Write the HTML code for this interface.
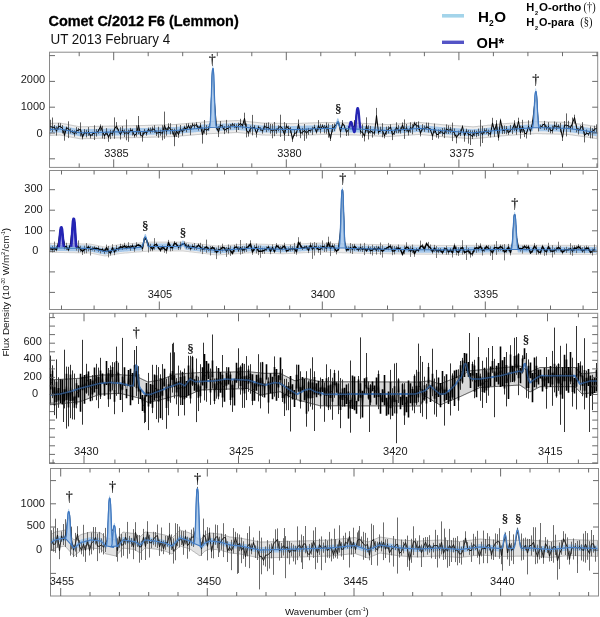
<!DOCTYPE html>
<html><head><meta charset="utf-8"><style>
html,body{margin:0;padding:0;background:#fff;}
svg{display:block;}
.tl{font-family:"Liberation Sans",Arial,sans-serif;font-size:11px;fill:#1a1a1a;}
.ttl{font-family:"Liberation Sans",Arial,sans-serif;font-weight:bold;fill:#000;}
.sym{font-family:"Liberation Serif","DejaVu Serif",serif;fill:#111;}
</style></head><body>
<svg width="600" height="617" viewBox="0 0 600 617">
<path d="M50.0 123.5 50.5 123.4 51.0 123.4 51.5 123.4 52.0 123.4 52.5 123.3 53.0 123.3 53.5 123.3 54.0 123.3 54.5 123.2 55.0 123.2 55.5 123.2 56.0 123.2 56.5 123.2 57.0 123.1 57.5 123.1 58.0 123.1 58.5 123.1 59.0 123.0 59.5 123.0 60.0 123.0 60.5 123.1 61.0 123.2 61.5 123.3 62.0 123.4 62.5 123.5 63.0 123.6 63.5 123.7 64.0 123.8 64.5 123.9 65.0 123.9 65.5 124.0 66.0 124.1 66.5 124.2 67.0 124.3 67.5 124.4 68.0 124.5 68.5 124.6 69.0 124.7 69.5 124.8 70.0 124.9 70.5 125.0 71.0 125.1 71.5 125.2 72.0 125.3 72.5 125.4 73.0 125.5 73.5 125.6 74.0 125.7 74.5 125.8 75.0 125.9 75.5 125.9 76.0 126.0 76.5 126.1 77.0 126.2 77.5 126.3 78.0 126.4 78.5 126.5 79.0 126.6 79.5 126.7 80.0 126.8 80.5 126.8 81.0 126.8 81.5 126.8 82.0 126.7 82.5 126.7 83.0 126.7 83.5 126.7 84.0 126.7 84.5 126.7 85.0 126.7 85.5 126.7 86.0 126.6 86.5 126.6 87.0 126.6 87.5 126.6 88.0 126.6 88.5 126.6 89.0 126.6 89.5 126.6 90.0 126.5 90.5 126.5 91.0 126.5 91.5 126.5 92.0 126.5 92.5 126.5 93.0 126.5 93.5 126.5 94.0 126.4 94.5 126.4 95.0 126.4 95.5 126.4 96.0 126.4 96.5 126.4 97.0 126.4 97.5 126.3 98.0 126.3 98.5 126.3 99.0 126.3 99.5 126.3 100.0 126.3 100.5 126.3 101.0 126.3 101.5 126.2 102.0 126.2 102.5 126.2 103.0 126.2 103.5 126.2 104.0 126.2 104.5 126.2 105.0 126.2 105.5 126.1 106.0 126.1 106.5 126.1 107.0 126.1 107.5 126.1 108.0 126.1 108.5 126.1 109.0 126.1 109.5 126.0 110.0 126.0 110.5 126.0 111.0 126.0 111.5 126.0 112.0 126.0 112.5 126.0 113.0 126.0 113.5 126.0 114.0 126.0 114.5 125.9 115.0 125.9 115.5 125.9 116.0 125.9 116.5 125.9 117.0 125.9 117.5 125.9 118.0 125.9 118.5 125.9 119.0 125.9 119.5 125.9 120.0 125.9 120.5 125.9 121.0 125.8 121.5 125.8 122.0 125.8 122.5 125.8 123.0 125.8 123.5 125.8 124.0 125.8 124.5 125.8 125.0 125.8 125.5 125.8 126.0 125.8 126.5 125.8 127.0 125.8 127.5 125.7 128.0 125.7 128.5 125.7 129.0 125.7 129.5 125.7 130.0 125.7 130.5 125.7 131.0 125.7 131.5 125.7 132.0 125.7 132.5 125.7 133.0 125.7 133.5 125.6 134.0 125.6 134.5 125.6 135.0 125.6 135.5 125.6 136.0 125.6 136.5 125.6 137.0 125.6 137.5 125.6 138.0 125.6 138.5 125.6 139.0 125.6 139.5 125.6 140.0 125.5 140.5 125.5 141.0 125.5 141.5 125.5 142.0 125.5 142.5 125.5 143.0 125.5 143.5 125.5 144.0 125.5 144.5 125.5 145.0 125.4 145.5 125.4 146.0 125.4 146.5 125.4 147.0 125.4 147.5 125.4 148.0 125.3 148.5 125.3 149.0 125.3 149.5 125.3 150.0 125.3 150.5 125.3 151.0 125.2 151.5 125.2 152.0 125.2 152.5 125.2 153.0 125.2 153.5 125.2 154.0 125.2 154.5 125.1 155.0 125.1 155.5 125.1 156.0 125.1 156.5 125.1 157.0 125.1 157.5 125.0 158.0 125.0 158.5 125.0 159.0 125.0 159.5 125.0 160.0 125.0 160.5 125.0 161.0 124.9 161.5 124.9 162.0 124.9 162.5 124.9 163.0 124.9 163.5 124.9 164.0 124.8 164.5 124.8 165.0 124.8 165.5 124.8 166.0 124.8 166.5 124.8 167.0 124.8 167.5 124.7 168.0 124.7 168.5 124.7 169.0 124.7 169.5 124.7 170.0 124.7 170.5 124.6 171.0 124.6 171.5 124.6 172.0 124.6 172.5 124.6 173.0 124.6 173.5 124.5 174.0 124.5 174.5 124.5 175.0 124.5 175.5 124.5 176.0 124.4 176.5 124.4 177.0 124.3 177.5 124.3 178.0 124.2 178.5 124.2 179.0 124.2 179.5 124.1 180.0 124.1 180.5 124.0 181.0 124.0 181.5 123.9 182.0 123.9 182.5 123.8 183.0 123.8 183.5 123.8 184.0 123.7 184.5 123.7 185.0 123.6 185.5 123.6 186.0 123.5 186.5 123.5 187.0 123.5 187.5 123.4 188.0 123.4 188.5 123.3 189.0 123.3 189.5 123.2 190.0 123.2 190.5 123.2 191.0 123.1 191.5 123.1 192.0 123.0 192.5 123.0 193.0 122.9 193.5 122.9 194.0 122.8 194.5 122.8 195.0 122.8 195.5 122.7 196.0 122.7 196.5 122.6 197.0 122.6 197.5 122.5 198.0 122.5 198.5 122.5 199.0 122.4 199.5 122.4 200.0 122.3 200.5 122.3 201.0 122.2 201.5 122.2 202.0 122.1 202.5 122.1 203.0 122.1 203.5 122.0 204.0 122.0 204.5 121.9 205.0 121.9 205.5 121.8 206.0 121.8 206.5 121.8 207.0 121.8 207.5 121.7 208.0 121.7 208.5 121.7 209.0 121.7 209.5 121.7 210.0 121.6 210.5 121.6 211.0 121.6 211.5 121.6 212.0 121.6 212.5 121.5 213.0 121.5 213.5 121.5 214.0 121.5 214.5 121.5 215.0 121.4 215.5 121.4 216.0 121.4 216.5 121.4 217.0 121.4 217.5 121.3 218.0 121.3 218.5 121.3 219.0 121.3 219.5 121.3 220.0 121.2 220.5 121.2 221.0 121.2 221.5 121.2 222.0 121.2 222.5 121.1 223.0 121.1 223.5 121.1 224.0 121.1 224.5 121.0 225.0 121.0 225.5 121.0 226.0 121.0 226.5 121.0 227.0 120.9 227.5 120.9 228.0 120.9 228.5 120.9 229.0 120.9 229.5 120.8 230.0 120.8 230.5 120.8 231.0 120.8 231.5 120.8 232.0 120.7 232.5 120.7 233.0 120.7 233.5 120.7 234.0 120.7 234.5 120.6 235.0 120.6 235.5 120.6 236.0 120.6 236.5 120.6 237.0 120.5 237.5 120.5 238.0 120.5 238.5 120.6 239.0 120.6 239.5 120.7 240.0 120.7 240.5 120.8 241.0 120.8 241.5 120.9 242.0 120.9 242.5 121.0 243.0 121.0 243.5 121.1 244.0 121.1 244.5 121.2 245.0 121.2 245.5 121.3 246.0 121.3 246.5 121.4 247.0 121.4 247.5 121.5 248.0 121.5 248.5 121.6 249.0 121.6 249.5 121.7 250.0 121.8 250.5 121.8 251.0 121.9 251.5 121.9 252.0 122.0 252.5 122.0 253.0 122.1 253.5 122.1 254.0 122.2 254.5 122.2 255.0 122.3 255.5 122.3 256.0 122.4 256.5 122.4 257.0 122.5 257.5 122.5 258.0 122.6 258.5 122.6 259.0 122.7 259.5 122.7 260.0 122.8 260.5 122.8 261.0 122.9 261.5 122.9 262.0 123.0 262.5 123.0 263.0 123.0 263.5 123.0 264.0 123.0 264.5 123.0 265.0 123.1 265.5 123.1 266.0 123.1 266.5 123.1 267.0 123.1 267.5 123.1 268.0 123.1 268.5 123.1 269.0 123.1 269.5 123.1 270.0 123.2 270.5 123.2 271.0 123.2 271.5 123.2 272.0 123.2 272.5 123.2 273.0 123.2 273.5 123.2 274.0 123.2 274.5 123.2 275.0 123.3 275.5 123.3 276.0 123.3 276.5 123.3 277.0 123.3 277.5 123.3 278.0 123.3 278.5 123.3 279.0 123.3 279.5 123.3 280.0 123.3 280.5 123.4 281.0 123.4 281.5 123.4 282.0 123.4 282.5 123.4 283.0 123.4 283.5 123.4 284.0 123.4 284.5 123.4 285.0 123.4 285.5 123.5 286.0 123.5 286.5 123.5 287.0 123.5 287.5 123.5 288.0 123.5 288.5 123.5 289.0 123.5 289.5 123.5 290.0 123.5 290.5 123.6 291.0 123.6 291.5 123.6 292.0 123.6 292.5 123.6 293.0 123.6 293.5 123.6 294.0 123.6 294.5 123.5 295.0 123.5 295.5 123.5 296.0 123.5 296.5 123.5 297.0 123.4 297.5 123.4 298.0 123.4 298.5 123.4 299.0 123.4 299.5 123.4 300.0 123.3 300.5 123.3 301.0 123.3 301.5 123.3 302.0 123.3 302.5 123.2 303.0 123.2 303.5 123.2 304.0 123.2 304.5 123.2 305.0 123.2 305.5 123.1 306.0 123.1 306.5 123.1 307.0 123.1 307.5 123.1 308.0 123.0 308.5 123.0 309.0 123.0 309.5 123.0 310.0 123.0 310.5 122.9 311.0 122.9 311.5 122.9 312.0 122.9 312.5 122.9 313.0 122.8 313.5 122.8 314.0 122.8 314.5 122.8 315.0 122.8 315.5 122.8 316.0 122.7 316.5 122.7 317.0 122.7 317.5 122.7 318.0 122.7 318.5 122.6 319.0 122.6 319.5 122.6 320.0 122.6 320.5 122.6 321.0 122.6 321.5 122.5 322.0 122.5 322.5 122.5 323.0 122.5 323.5 122.5 324.0 122.4 324.5 122.4 325.0 122.4 325.5 122.4 326.0 122.4 326.5 122.4 327.0 122.4 327.5 122.4 328.0 122.5 328.5 122.5 329.0 122.5 329.5 122.5 330.0 122.5 330.5 122.5 331.0 122.5 331.5 122.5 332.0 122.5 332.5 122.5 333.0 122.6 333.5 122.6 334.0 122.6 334.5 122.6 335.0 122.6 335.5 122.6 336.0 122.6 336.5 122.6 337.0 122.6 337.5 122.6 338.0 122.7 338.5 122.7 339.0 122.7 339.5 122.7 340.0 122.7 340.5 122.7 341.0 122.7 341.5 122.7 342.0 122.7 342.5 122.7 343.0 122.7 343.5 122.8 344.0 122.8 344.5 122.8 345.0 122.8 345.5 122.8 346.0 122.8 346.5 122.8 347.0 122.8 347.5 122.8 348.0 122.8 348.5 122.9 349.0 122.9 349.5 122.9 350.0 122.9 350.5 122.9 351.0 122.9 351.5 122.9 352.0 122.9 352.5 122.9 353.0 122.9 353.5 123.0 354.0 123.0 354.5 123.0 355.0 123.0 355.5 123.0 356.0 123.0 356.5 123.0 357.0 123.1 357.5 123.1 358.0 123.1 358.5 123.1 359.0 123.2 359.5 123.2 360.0 123.2 360.5 123.2 361.0 123.2 361.5 123.3 362.0 123.3 362.5 123.3 363.0 123.3 363.5 123.4 364.0 123.4 364.5 123.4 365.0 123.4 365.5 123.5 366.0 123.5 366.5 123.5 367.0 123.6 367.5 123.6 368.0 123.6 368.5 123.6 369.0 123.7 369.5 123.7 370.0 123.7 370.5 123.7 371.0 123.8 371.5 123.8 372.0 123.8 372.5 123.8 373.0 123.8 373.5 123.9 374.0 123.9 374.5 123.9 375.0 123.9 375.5 124.0 376.0 124.0 376.5 124.0 377.0 124.0 377.5 124.1 378.0 124.1 378.5 124.1 379.0 124.2 379.5 124.2 380.0 124.2 380.5 124.2 381.0 124.2 381.5 124.3 382.0 124.3 382.5 124.3 383.0 124.3 383.5 124.4 384.0 124.4 384.5 124.4 385.0 124.4 385.5 124.5 386.0 124.5 386.5 124.5 387.0 124.5 387.5 124.6 388.0 124.6 388.5 124.6 389.0 124.5 389.5 124.5 390.0 124.5 390.5 124.4 391.0 124.4 391.5 124.4 392.0 124.3 392.5 124.3 393.0 124.3 393.5 124.2 394.0 124.2 394.5 124.2 395.0 124.1 395.5 124.1 396.0 124.1 396.5 124.0 397.0 124.0 397.5 123.9 398.0 123.9 398.5 123.9 399.0 123.8 399.5 123.8 400.0 123.8 400.5 123.7 401.0 123.7 401.5 123.7 402.0 123.6 402.5 123.6 403.0 123.6 403.5 123.5 404.0 123.5 404.5 123.5 405.0 123.4 405.5 123.4 406.0 123.4 406.5 123.3 407.0 123.3 407.5 123.3 408.0 123.2 408.5 123.2 409.0 123.2 409.5 123.1 410.0 123.1 410.5 123.1 411.0 123.0 411.5 123.0 412.0 122.9 412.5 122.9 413.0 122.9 413.5 122.8 414.0 122.8 414.5 122.8 415.0 122.7 415.5 122.7 416.0 122.7 416.5 122.6 417.0 122.6 417.5 122.6 418.0 122.5 418.5 122.5 419.0 122.5 419.5 122.4 420.0 122.4 420.5 122.5 421.0 122.5 421.5 122.6 422.0 122.6 422.5 122.7 423.0 122.7 423.5 122.8 424.0 122.8 424.5 122.9 425.0 122.9 425.5 123.0 426.0 123.0 426.5 123.1 427.0 123.1 427.5 123.2 428.0 123.2 428.5 123.3 429.0 123.3 429.5 123.4 430.0 123.4 430.5 123.5 431.0 123.6 431.5 123.6 432.0 123.7 432.5 123.7 433.0 123.8 433.5 123.8 434.0 123.9 434.5 123.9 435.0 124.0 435.5 124.0 436.0 124.1 436.5 124.1 437.0 124.2 437.5 124.2 438.0 124.3 438.5 124.3 439.0 124.4 439.5 124.4 440.0 124.5 440.5 124.5 441.0 124.6 441.5 124.6 442.0 124.7 442.5 124.7 443.0 124.7 443.5 124.8 444.0 124.8 444.5 124.8 445.0 124.9 445.5 124.9 446.0 124.9 446.5 125.0 447.0 125.0 447.5 125.0 448.0 125.1 448.5 125.1 449.0 125.2 449.5 125.2 450.0 125.2 450.5 125.3 451.0 125.3 451.5 125.3 452.0 125.4 452.5 125.4 453.0 125.4 453.5 125.5 454.0 125.5 454.5 125.5 455.0 125.6 455.5 125.6 456.0 125.6 456.5 125.7 457.0 125.7 457.5 125.7 458.0 125.8 458.5 125.8 459.0 125.8 459.5 125.9 460.0 125.9 460.5 125.9 461.0 126.0 461.5 126.0 462.0 126.0 462.5 126.1 463.0 126.1 463.5 126.1 464.0 126.2 464.5 126.2 465.0 126.2 465.5 126.3 466.0 126.3 466.5 126.4 467.0 126.4 467.5 126.4 468.0 126.5 468.5 126.5 469.0 126.5 469.5 126.6 470.0 126.6 470.5 126.6 471.0 126.7 471.5 126.7 472.0 126.7 472.5 126.8 473.0 126.8 473.5 126.8 474.0 126.7 474.5 126.7 475.0 126.6 475.5 126.6 476.0 126.5 476.5 126.5 477.0 126.4 477.5 126.4 478.0 126.3 478.5 126.2 479.0 126.2 479.5 126.2 480.0 126.1 480.5 126.1 481.0 126.0 481.5 126.0 482.0 125.9 482.5 125.8 483.0 125.8 483.5 125.8 484.0 125.7 484.5 125.7 485.0 125.6 485.5 125.6 486.0 125.5 486.5 125.5 487.0 125.4 487.5 125.3 488.0 125.3 488.5 125.2 489.0 125.2 489.5 125.2 490.0 125.1 490.5 125.1 491.0 125.0 491.5 124.9 492.0 124.9 492.5 124.8 493.0 124.8 493.5 124.8 494.0 124.7 494.5 124.7 495.0 124.6 495.5 124.6 496.0 124.5 496.5 124.4 497.0 124.4 497.5 124.3 498.0 124.3 498.5 124.2 499.0 124.2 499.5 124.2 500.0 124.1 500.5 124.0 501.0 124.0 501.5 123.9 502.0 123.9 502.5 123.8 503.0 123.8 503.5 123.8 504.0 123.7 504.5 123.7 505.0 123.6 505.5 123.6 506.0 123.5 506.5 123.5 507.0 123.5 507.5 123.4 508.0 123.4 508.5 123.4 509.0 123.3 509.5 123.3 510.0 123.3 510.5 123.2 511.0 123.2 511.5 123.2 512.0 123.1 512.5 123.1 513.0 123.1 513.5 123.1 514.0 123.0 514.5 123.0 515.0 123.0 515.5 122.9 516.0 122.9 516.5 122.9 517.0 122.8 517.5 122.8 518.0 122.8 518.5 122.7 519.0 122.7 519.5 122.7 520.0 122.6 520.5 122.6 521.0 122.6 521.5 122.5 522.0 122.5 522.5 122.5 523.0 122.4 523.5 122.4 524.0 122.4 524.5 122.3 525.0 122.3 525.5 122.3 526.0 122.2 526.5 122.2 527.0 122.2 527.5 122.1 528.0 122.1 528.5 122.1 529.0 122.1 529.5 122.0 530.0 122.0 530.5 122.0 531.0 121.9 531.5 121.9 532.0 121.9 532.5 121.8 533.0 121.8 533.5 121.8 534.0 121.7 534.5 121.7 535.0 121.7 535.5 121.6 536.0 121.6 536.5 121.6 537.0 121.6 537.5 121.6 538.0 121.6 538.5 121.7 539.0 121.7 539.5 121.7 540.0 121.7 540.5 121.7 541.0 121.7 541.5 121.7 542.0 121.8 542.5 121.8 543.0 121.8 543.5 121.8 544.0 121.8 544.5 121.8 545.0 121.8 545.5 121.8 546.0 121.8 546.5 121.9 547.0 121.9 547.5 121.9 548.0 121.9 548.5 121.9 549.0 121.9 549.5 121.9 550.0 122.0 550.5 122.0 551.0 122.0 551.5 122.0 552.0 122.0 552.5 122.0 553.0 122.0 553.5 122.0 554.0 122.1 554.5 122.1 555.0 122.1 555.5 122.1 556.0 122.1 556.5 122.1 557.0 122.1 557.5 122.1 558.0 122.2 558.5 122.2 559.0 122.2 559.5 122.2 560.0 122.2 560.5 122.2 561.0 122.2 561.5 122.2 562.0 122.2 562.5 122.3 563.0 122.3 563.5 122.3 564.0 122.3 564.5 122.3 565.0 122.3 565.5 122.3 566.0 122.3 566.5 122.4 567.0 122.4 567.5 122.4 568.0 122.4 568.5 122.5 569.0 122.5 569.5 122.6 570.0 122.7 570.5 122.8 571.0 122.8 571.5 122.9 572.0 123.0 572.5 123.0 573.0 123.1 573.5 123.2 574.0 123.2 574.5 123.3 575.0 123.4 575.5 123.5 576.0 123.5 576.5 123.6 577.0 123.7 577.5 123.7 578.0 123.8 578.5 123.9 579.0 123.9 579.5 124.0 580.0 124.1 580.5 124.2 581.0 124.2 581.5 124.3 582.0 124.4 582.5 124.4 583.0 124.5 583.5 124.6 584.0 124.7 584.5 124.7 585.0 124.8 585.5 124.9 586.0 124.9 586.5 125.0 587.0 125.1 587.5 125.1 588.0 125.2 588.5 125.3 589.0 125.4 589.5 125.4 590.0 125.5 590.5 125.6 591.0 125.7 591.5 125.8 592.0 125.9 592.5 126.0 593.0 126.1 593.5 126.2 594.0 126.2 594.5 126.3 595.0 126.4 595.5 126.5 596.0 126.6 596.5 126.7 597.0 126.8L597.0 138.8 596.5 138.7 596.0 138.6 595.5 138.5 595.0 138.4 594.5 138.3 594.0 138.2 593.5 138.2 593.0 138.1 592.5 138.0 592.0 137.9 591.5 137.8 591.0 137.7 590.5 137.6 590.0 137.5 589.5 137.4 589.0 137.4 588.5 137.3 588.0 137.2 587.5 137.1 587.0 137.1 586.5 137.0 586.0 136.9 585.5 136.9 585.0 136.8 584.5 136.7 584.0 136.7 583.5 136.6 583.0 136.5 582.5 136.4 582.0 136.4 581.5 136.3 581.0 136.2 580.5 136.2 580.0 136.1 579.5 136.0 579.0 135.9 578.5 135.9 578.0 135.8 577.5 135.7 577.0 135.7 576.5 135.6 576.0 135.5 575.5 135.5 575.0 135.4 574.5 135.3 574.0 135.2 573.5 135.2 573.0 135.1 572.5 135.0 572.0 135.0 571.5 134.9 571.0 134.8 570.5 134.8 570.0 134.7 569.5 134.6 569.0 134.5 568.5 134.5 568.0 134.4 567.5 134.4 567.0 134.4 566.5 134.4 566.0 134.3 565.5 134.3 565.0 134.3 564.5 134.3 564.0 134.3 563.5 134.3 563.0 134.3 562.5 134.3 562.0 134.2 561.5 134.2 561.0 134.2 560.5 134.2 560.0 134.2 559.5 134.2 559.0 134.2 558.5 134.2 558.0 134.2 557.5 134.1 557.0 134.1 556.5 134.1 556.0 134.1 555.5 134.1 555.0 134.1 554.5 134.1 554.0 134.1 553.5 134.0 553.0 134.0 552.5 134.0 552.0 134.0 551.5 134.0 551.0 134.0 550.5 134.0 550.0 133.9 549.5 133.9 549.0 133.9 548.5 133.9 548.0 133.9 547.5 133.9 547.0 133.9 546.5 133.9 546.0 133.8 545.5 133.8 545.0 133.8 544.5 133.8 544.0 133.8 543.5 133.8 543.0 133.8 542.5 133.8 542.0 133.8 541.5 133.7 541.0 133.7 540.5 133.7 540.0 133.7 539.5 133.7 539.0 133.7 538.5 133.7 538.0 133.6 537.5 133.6 537.0 133.6 536.5 133.6 536.0 133.6 535.5 133.6 535.0 133.7 534.5 133.7 534.0 133.7 533.5 133.8 533.0 133.8 532.5 133.8 532.0 133.9 531.5 133.9 531.0 133.9 530.5 134.0 530.0 134.0 529.5 134.0 529.0 134.1 528.5 134.1 528.0 134.1 527.5 134.1 527.0 134.2 526.5 134.2 526.0 134.2 525.5 134.3 525.0 134.3 524.5 134.3 524.0 134.4 523.5 134.4 523.0 134.4 522.5 134.5 522.0 134.5 521.5 134.5 521.0 134.6 520.5 134.6 520.0 134.6 519.5 134.7 519.0 134.7 518.5 134.7 518.0 134.8 517.5 134.8 517.0 134.8 516.5 134.9 516.0 134.9 515.5 134.9 515.0 135.0 514.5 135.0 514.0 135.0 513.5 135.1 513.0 135.1 512.5 135.1 512.0 135.1 511.5 135.2 511.0 135.2 510.5 135.2 510.0 135.3 509.5 135.3 509.0 135.3 508.5 135.4 508.0 135.4 507.5 135.4 507.0 135.5 506.5 135.5 506.0 135.5 505.5 135.6 505.0 135.6 504.5 135.7 504.0 135.7 503.5 135.8 503.0 135.8 502.5 135.8 502.0 135.9 501.5 135.9 501.0 136.0 500.5 136.0 500.0 136.1 499.5 136.2 499.0 136.2 498.5 136.2 498.0 136.3 497.5 136.3 497.0 136.4 496.5 136.4 496.0 136.5 495.5 136.6 495.0 136.6 494.5 136.7 494.0 136.7 493.5 136.8 493.0 136.8 492.5 136.8 492.0 136.9 491.5 136.9 491.0 137.0 490.5 137.1 490.0 137.1 489.5 137.2 489.0 137.2 488.5 137.2 488.0 137.3 487.5 137.3 487.0 137.4 486.5 137.5 486.0 137.5 485.5 137.6 485.0 137.6 484.5 137.7 484.0 137.7 483.5 137.8 483.0 137.8 482.5 137.8 482.0 137.9 481.5 138.0 481.0 138.0 480.5 138.1 480.0 138.1 479.5 138.2 479.0 138.2 478.5 138.2 478.0 138.3 477.5 138.4 477.0 138.4 476.5 138.5 476.0 138.5 475.5 138.6 475.0 138.6 474.5 138.7 474.0 138.7 473.5 138.8 473.0 138.8 472.5 138.8 472.0 138.7 471.5 138.7 471.0 138.7 470.5 138.6 470.0 138.6 469.5 138.6 469.0 138.5 468.5 138.5 468.0 138.5 467.5 138.4 467.0 138.4 466.5 138.4 466.0 138.3 465.5 138.3 465.0 138.2 464.5 138.2 464.0 138.2 463.5 138.1 463.0 138.1 462.5 138.1 462.0 138.0 461.5 138.0 461.0 138.0 460.5 137.9 460.0 137.9 459.5 137.9 459.0 137.8 458.5 137.8 458.0 137.8 457.5 137.7 457.0 137.7 456.5 137.7 456.0 137.6 455.5 137.6 455.0 137.6 454.5 137.5 454.0 137.5 453.5 137.5 453.0 137.4 452.5 137.4 452.0 137.4 451.5 137.3 451.0 137.3 450.5 137.3 450.0 137.2 449.5 137.2 449.0 137.2 448.5 137.1 448.0 137.1 447.5 137.0 447.0 137.0 446.5 137.0 446.0 136.9 445.5 136.9 445.0 136.9 444.5 136.8 444.0 136.8 443.5 136.8 443.0 136.7 442.5 136.7 442.0 136.7 441.5 136.6 441.0 136.6 440.5 136.5 440.0 136.5 439.5 136.4 439.0 136.4 438.5 136.3 438.0 136.3 437.5 136.2 437.0 136.2 436.5 136.1 436.0 136.1 435.5 136.0 435.0 136.0 434.5 135.9 434.0 135.9 433.5 135.8 433.0 135.8 432.5 135.7 432.0 135.7 431.5 135.6 431.0 135.6 430.5 135.5 430.0 135.4 429.5 135.4 429.0 135.3 428.5 135.3 428.0 135.2 427.5 135.2 427.0 135.1 426.5 135.1 426.0 135.0 425.5 135.0 425.0 134.9 424.5 134.9 424.0 134.8 423.5 134.8 423.0 134.7 422.5 134.7 422.0 134.6 421.5 134.6 421.0 134.5 420.5 134.5 420.0 134.4 419.5 134.4 419.0 134.5 418.5 134.5 418.0 134.5 417.5 134.6 417.0 134.6 416.5 134.6 416.0 134.7 415.5 134.7 415.0 134.7 414.5 134.8 414.0 134.8 413.5 134.8 413.0 134.9 412.5 134.9 412.0 134.9 411.5 135.0 411.0 135.0 410.5 135.1 410.0 135.1 409.5 135.1 409.0 135.2 408.5 135.2 408.0 135.2 407.5 135.3 407.0 135.3 406.5 135.3 406.0 135.4 405.5 135.4 405.0 135.4 404.5 135.5 404.0 135.5 403.5 135.5 403.0 135.6 402.5 135.6 402.0 135.6 401.5 135.7 401.0 135.7 400.5 135.7 400.0 135.8 399.5 135.8 399.0 135.8 398.5 135.9 398.0 135.9 397.5 135.9 397.0 136.0 396.5 136.0 396.0 136.1 395.5 136.1 395.0 136.1 394.5 136.2 394.0 136.2 393.5 136.2 393.0 136.3 392.5 136.3 392.0 136.3 391.5 136.4 391.0 136.4 390.5 136.4 390.0 136.5 389.5 136.5 389.0 136.5 388.5 136.6 388.0 136.6 387.5 136.6 387.0 136.5 386.5 136.5 386.0 136.5 385.5 136.5 385.0 136.4 384.5 136.4 384.0 136.4 383.5 136.4 383.0 136.3 382.5 136.3 382.0 136.3 381.5 136.3 381.0 136.2 380.5 136.2 380.0 136.2 379.5 136.2 379.0 136.2 378.5 136.1 378.0 136.1 377.5 136.1 377.0 136.0 376.5 136.0 376.0 136.0 375.5 136.0 375.0 135.9 374.5 135.9 374.0 135.9 373.5 135.9 373.0 135.8 372.5 135.8 372.0 135.8 371.5 135.8 371.0 135.8 370.5 135.7 370.0 135.7 369.5 135.7 369.0 135.7 368.5 135.6 368.0 135.6 367.5 135.6 367.0 135.6 366.5 135.5 366.0 135.5 365.5 135.5 365.0 135.4 364.5 135.4 364.0 135.4 363.5 135.4 363.0 135.3 362.5 135.3 362.0 135.3 361.5 135.3 361.0 135.2 360.5 135.2 360.0 135.2 359.5 135.2 359.0 135.2 358.5 135.1 358.0 135.1 357.5 135.1 357.0 135.1 356.5 135.0 356.0 135.0 355.5 135.0 355.0 135.0 354.5 135.0 354.0 135.0 353.5 135.0 353.0 134.9 352.5 134.9 352.0 134.9 351.5 134.9 351.0 134.9 350.5 134.9 350.0 134.9 349.5 134.9 349.0 134.9 348.5 134.9 348.0 134.8 347.5 134.8 347.0 134.8 346.5 134.8 346.0 134.8 345.5 134.8 345.0 134.8 344.5 134.8 344.0 134.8 343.5 134.8 343.0 134.7 342.5 134.7 342.0 134.7 341.5 134.7 341.0 134.7 340.5 134.7 340.0 134.7 339.5 134.7 339.0 134.7 338.5 134.7 338.0 134.7 337.5 134.6 337.0 134.6 336.5 134.6 336.0 134.6 335.5 134.6 335.0 134.6 334.5 134.6 334.0 134.6 333.5 134.6 333.0 134.6 332.5 134.5 332.0 134.5 331.5 134.5 331.0 134.5 330.5 134.5 330.0 134.5 329.5 134.5 329.0 134.5 328.5 134.5 328.0 134.5 327.5 134.4 327.0 134.4 326.5 134.4 326.0 134.4 325.5 134.4 325.0 134.4 324.5 134.4 324.0 134.4 323.5 134.5 323.0 134.5 322.5 134.5 322.0 134.5 321.5 134.5 321.0 134.6 320.5 134.6 320.0 134.6 319.5 134.6 319.0 134.6 318.5 134.6 318.0 134.7 317.5 134.7 317.0 134.7 316.5 134.7 316.0 134.7 315.5 134.8 315.0 134.8 314.5 134.8 314.0 134.8 313.5 134.8 313.0 134.8 312.5 134.9 312.0 134.9 311.5 134.9 311.0 134.9 310.5 134.9 310.0 135.0 309.5 135.0 309.0 135.0 308.5 135.0 308.0 135.0 307.5 135.1 307.0 135.1 306.5 135.1 306.0 135.1 305.5 135.1 305.0 135.2 304.5 135.2 304.0 135.2 303.5 135.2 303.0 135.2 302.5 135.2 302.0 135.3 301.5 135.3 301.0 135.3 300.5 135.3 300.0 135.3 299.5 135.4 299.0 135.4 298.5 135.4 298.0 135.4 297.5 135.4 297.0 135.4 296.5 135.5 296.0 135.5 295.5 135.5 295.0 135.5 294.5 135.5 294.0 135.6 293.5 135.6 293.0 135.6 292.5 135.6 292.0 135.6 291.5 135.6 291.0 135.6 290.5 135.6 290.0 135.5 289.5 135.5 289.0 135.5 288.5 135.5 288.0 135.5 287.5 135.5 287.0 135.5 286.5 135.5 286.0 135.5 285.5 135.5 285.0 135.4 284.5 135.4 284.0 135.4 283.5 135.4 283.0 135.4 282.5 135.4 282.0 135.4 281.5 135.4 281.0 135.4 280.5 135.4 280.0 135.3 279.5 135.3 279.0 135.3 278.5 135.3 278.0 135.3 277.5 135.3 277.0 135.3 276.5 135.3 276.0 135.3 275.5 135.3 275.0 135.3 274.5 135.2 274.0 135.2 273.5 135.2 273.0 135.2 272.5 135.2 272.0 135.2 271.5 135.2 271.0 135.2 270.5 135.2 270.0 135.2 269.5 135.1 269.0 135.1 268.5 135.1 268.0 135.1 267.5 135.1 267.0 135.1 266.5 135.1 266.0 135.1 265.5 135.1 265.0 135.1 264.5 135.0 264.0 135.0 263.5 135.0 263.0 135.0 262.5 135.0 262.0 135.0 261.5 134.9 261.0 134.9 260.5 134.8 260.0 134.8 259.5 134.7 259.0 134.7 258.5 134.6 258.0 134.6 257.5 134.5 257.0 134.5 256.5 134.4 256.0 134.4 255.5 134.3 255.0 134.3 254.5 134.2 254.0 134.2 253.5 134.1 253.0 134.1 252.5 134.0 252.0 134.0 251.5 133.9 251.0 133.9 250.5 133.8 250.0 133.8 249.5 133.7 249.0 133.6 248.5 133.6 248.0 133.5 247.5 133.5 247.0 133.4 246.5 133.4 246.0 133.3 245.5 133.3 245.0 133.2 244.5 133.2 244.0 133.1 243.5 133.1 243.0 133.0 242.5 133.0 242.0 132.9 241.5 132.9 241.0 132.8 240.5 132.8 240.0 132.7 239.5 132.7 239.0 132.6 238.5 132.6 238.0 132.5 237.5 132.5 237.0 132.5 236.5 132.6 236.0 132.6 235.5 132.6 235.0 132.6 234.5 132.6 234.0 132.7 233.5 132.7 233.0 132.7 232.5 132.7 232.0 132.7 231.5 132.8 231.0 132.8 230.5 132.8 230.0 132.8 229.5 132.8 229.0 132.9 228.5 132.9 228.0 132.9 227.5 132.9 227.0 132.9 226.5 133.0 226.0 133.0 225.5 133.0 225.0 133.0 224.5 133.0 224.0 133.1 223.5 133.1 223.0 133.1 222.5 133.1 222.0 133.2 221.5 133.2 221.0 133.2 220.5 133.2 220.0 133.2 219.5 133.3 219.0 133.3 218.5 133.3 218.0 133.3 217.5 133.3 217.0 133.4 216.5 133.4 216.0 133.4 215.5 133.4 215.0 133.4 214.5 133.5 214.0 133.5 213.5 133.5 213.0 133.5 212.5 133.5 212.0 133.6 211.5 133.6 211.0 133.6 210.5 133.6 210.0 133.6 209.5 133.7 209.0 133.7 208.5 133.7 208.0 133.7 207.5 133.7 207.0 133.8 206.5 133.8 206.0 133.8 205.5 133.8 205.0 133.9 204.5 133.9 204.0 134.0 203.5 134.0 203.0 134.1 202.5 134.1 202.0 134.1 201.5 134.2 201.0 134.2 200.5 134.3 200.0 134.3 199.5 134.4 199.0 134.4 198.5 134.5 198.0 134.5 197.5 134.5 197.0 134.6 196.5 134.6 196.0 134.7 195.5 134.7 195.0 134.8 194.5 134.8 194.0 134.8 193.5 134.9 193.0 134.9 192.5 135.0 192.0 135.0 191.5 135.1 191.0 135.1 190.5 135.2 190.0 135.2 189.5 135.2 189.0 135.3 188.5 135.3 188.0 135.4 187.5 135.4 187.0 135.5 186.5 135.5 186.0 135.5 185.5 135.6 185.0 135.6 184.5 135.7 184.0 135.7 183.5 135.8 183.0 135.8 182.5 135.8 182.0 135.9 181.5 135.9 181.0 136.0 180.5 136.0 180.0 136.1 179.5 136.1 179.0 136.2 178.5 136.2 178.0 136.2 177.5 136.3 177.0 136.3 176.5 136.4 176.0 136.4 175.5 136.5 175.0 136.5 174.5 136.5 174.0 136.5 173.5 136.5 173.0 136.6 172.5 136.6 172.0 136.6 171.5 136.6 171.0 136.6 170.5 136.6 170.0 136.7 169.5 136.7 169.0 136.7 168.5 136.7 168.0 136.7 167.5 136.7 167.0 136.8 166.5 136.8 166.0 136.8 165.5 136.8 165.0 136.8 164.5 136.8 164.0 136.8 163.5 136.9 163.0 136.9 162.5 136.9 162.0 136.9 161.5 136.9 161.0 136.9 160.5 137.0 160.0 137.0 159.5 137.0 159.0 137.0 158.5 137.0 158.0 137.0 157.5 137.0 157.0 137.1 156.5 137.1 156.0 137.1 155.5 137.1 155.0 137.1 154.5 137.1 154.0 137.2 153.5 137.2 153.0 137.2 152.5 137.2 152.0 137.2 151.5 137.2 151.0 137.2 150.5 137.3 150.0 137.3 149.5 137.3 149.0 137.3 148.5 137.3 148.0 137.3 147.5 137.4 147.0 137.4 146.5 137.4 146.0 137.4 145.5 137.4 145.0 137.4 144.5 137.5 144.0 137.5 143.5 137.5 143.0 137.5 142.5 137.5 142.0 137.5 141.5 137.5 141.0 137.5 140.5 137.5 140.0 137.5 139.5 137.6 139.0 137.6 138.5 137.6 138.0 137.6 137.5 137.6 137.0 137.6 136.5 137.6 136.0 137.6 135.5 137.6 135.0 137.6 134.5 137.6 134.0 137.6 133.5 137.6 133.0 137.7 132.5 137.7 132.0 137.7 131.5 137.7 131.0 137.7 130.5 137.7 130.0 137.7 129.5 137.7 129.0 137.7 128.5 137.7 128.0 137.7 127.5 137.7 127.0 137.8 126.5 137.8 126.0 137.8 125.5 137.8 125.0 137.8 124.5 137.8 124.0 137.8 123.5 137.8 123.0 137.8 122.5 137.8 122.0 137.8 121.5 137.8 121.0 137.8 120.5 137.9 120.0 137.9 119.5 137.9 119.0 137.9 118.5 137.9 118.0 137.9 117.5 137.9 117.0 137.9 116.5 137.9 116.0 137.9 115.5 137.9 115.0 137.9 114.5 137.9 114.0 138.0 113.5 138.0 113.0 138.0 112.5 138.0 112.0 138.0 111.5 138.0 111.0 138.0 110.5 138.0 110.0 138.0 109.5 138.0 109.0 138.1 108.5 138.1 108.0 138.1 107.5 138.1 107.0 138.1 106.5 138.1 106.0 138.1 105.5 138.1 105.0 138.2 104.5 138.2 104.0 138.2 103.5 138.2 103.0 138.2 102.5 138.2 102.0 138.2 101.5 138.2 101.0 138.3 100.5 138.3 100.0 138.3 99.5 138.3 99.0 138.3 98.5 138.3 98.0 138.3 97.5 138.3 97.0 138.4 96.5 138.4 96.0 138.4 95.5 138.4 95.0 138.4 94.5 138.4 94.0 138.4 93.5 138.5 93.0 138.5 92.5 138.5 92.0 138.5 91.5 138.5 91.0 138.5 90.5 138.5 90.0 138.5 89.5 138.6 89.0 138.6 88.5 138.6 88.0 138.6 87.5 138.6 87.0 138.6 86.5 138.6 86.0 138.6 85.5 138.7 85.0 138.7 84.5 138.7 84.0 138.7 83.5 138.7 83.0 138.7 82.5 138.7 82.0 138.7 81.5 138.8 81.0 138.8 80.5 138.8 80.0 138.8 79.5 138.7 79.0 138.6 78.5 138.5 78.0 138.4 77.5 138.3 77.0 138.2 76.5 138.1 76.0 138.0 75.5 137.9 75.0 137.9 74.5 137.8 74.0 137.7 73.5 137.6 73.0 137.5 72.5 137.4 72.0 137.3 71.5 137.2 71.0 137.1 70.5 137.0 70.0 136.9 69.5 136.8 69.0 136.7 68.5 136.6 68.0 136.5 67.5 136.4 67.0 136.3 66.5 136.2 66.0 136.1 65.5 136.0 65.0 135.9 64.5 135.9 64.0 135.8 63.5 135.7 63.0 135.6 62.5 135.5 62.0 135.4 61.5 135.3 61.0 135.2 60.5 135.1 60.0 135.0 59.5 135.0 59.0 135.0 58.5 135.1 58.0 135.1 57.5 135.1 57.0 135.1 56.5 135.2 56.0 135.2 55.5 135.2 55.0 135.2 54.5 135.2 54.0 135.3 53.5 135.3 53.0 135.3 52.5 135.3 52.0 135.4 51.5 135.4 51.0 135.4 50.5 135.4 50.0 135.5Z" fill="#ededed" stroke="#a0a0a0" stroke-width="0.6"/>
<path d="M50.0 126.0 50.5 125.9 51.0 125.9 51.5 125.9 52.0 125.9 52.5 125.8 53.0 125.8 53.5 125.8 54.0 125.8 54.5 125.8 55.0 125.7 55.5 125.7 56.0 125.7 56.5 125.7 57.0 125.6 57.5 125.6 58.0 125.6 58.5 125.6 59.0 125.5 59.5 125.5 60.0 125.5 60.5 125.6 61.0 125.7 61.5 125.8 62.0 125.9 62.5 126.0 63.0 126.1 63.5 126.2 64.0 126.3 64.5 126.4 65.0 126.4 65.5 126.5 66.0 126.6 66.5 126.7 67.0 126.8 67.5 126.9 68.0 127.0 68.5 127.1 69.0 127.2 69.5 127.3 70.0 127.4 70.5 127.5 71.0 127.6 71.5 127.7 72.0 127.8 72.5 127.9 73.0 128.0 73.5 128.1 74.0 128.2 74.5 128.3 75.0 128.4 75.5 128.4 76.0 128.5 76.5 128.6 77.0 128.7 77.5 128.8 78.0 128.9 78.5 129.0 79.0 129.1 79.5 129.2 80.0 129.3 80.5 129.3 81.0 129.3 81.5 129.3 82.0 129.2 82.5 129.2 83.0 129.2 83.5 129.2 84.0 129.2 84.5 129.2 85.0 129.2 85.5 129.2 86.0 129.1 86.5 129.1 87.0 129.1 87.5 129.1 88.0 129.1 88.5 129.1 89.0 129.1 89.5 129.1 90.0 129.0 90.5 129.0 91.0 129.0 91.5 129.0 92.0 129.0 92.5 129.0 93.0 129.0 93.5 129.0 94.0 128.9 94.5 128.9 95.0 128.9 95.5 128.9 96.0 128.9 96.5 128.9 97.0 128.9 97.5 128.8 98.0 128.8 98.5 128.8 99.0 128.8 99.5 128.8 100.0 128.8 100.5 128.8 101.0 128.8 101.5 128.7 102.0 128.7 102.5 128.7 103.0 128.7 103.5 128.7 104.0 128.7 104.5 128.7 105.0 128.7 105.5 128.6 106.0 128.6 106.5 128.6 107.0 128.6 107.5 128.6 108.0 128.6 108.5 128.6 109.0 128.6 109.5 128.5 110.0 128.5 110.5 128.5 111.0 128.5 111.5 128.5 112.0 128.5 112.5 128.5 113.0 128.5 113.5 128.5 114.0 128.5 114.5 128.4 115.0 128.4 115.5 128.4 116.0 128.4 116.5 128.4 117.0 128.4 117.5 128.4 118.0 128.4 118.5 128.4 119.0 128.4 119.5 128.4 120.0 128.4 120.5 128.4 121.0 128.3 121.5 128.3 122.0 128.3 122.5 128.3 123.0 128.3 123.5 128.3 124.0 128.3 124.5 128.3 125.0 128.3 125.5 128.3 126.0 128.3 126.5 128.3 127.0 128.2 127.5 128.2 128.0 128.2 128.5 128.2 129.0 128.2 129.5 128.2 130.0 128.2 130.5 128.2 131.0 128.2 131.5 128.2 132.0 128.2 132.5 128.2 133.0 128.2 133.5 128.1 134.0 128.1 134.5 128.1 135.0 128.1 135.5 128.1 136.0 128.1 136.5 128.1 137.0 128.1 137.5 128.1 138.0 128.1 138.5 128.1 139.0 128.1 139.5 128.1 140.0 128.0 140.5 128.0 141.0 128.0 141.5 128.0 142.0 128.0 142.5 128.0 143.0 128.0 143.5 128.0 144.0 128.0 144.5 128.0 145.0 127.9 145.5 127.9 146.0 127.9 146.5 127.9 147.0 127.9 147.5 127.9 148.0 127.8 148.5 127.8 149.0 127.8 149.5 127.8 150.0 127.8 150.5 127.8 151.0 127.8 151.5 127.7 152.0 127.7 152.5 127.7 153.0 127.7 153.5 127.7 154.0 127.7 154.5 127.6 155.0 127.6 155.5 127.6 156.0 127.6 156.5 127.6 157.0 127.6 157.5 127.5 158.0 127.5 158.5 127.5 159.0 127.5 159.5 127.5 160.0 127.5 160.5 127.5 161.0 127.4 161.5 127.4 162.0 127.4 162.5 127.4 163.0 127.4 163.5 127.4 164.0 127.3 164.5 127.3 165.0 127.3 165.5 127.3 166.0 127.3 166.5 127.3 167.0 127.2 167.5 127.2 168.0 127.2 168.5 127.2 169.0 127.2 169.5 127.2 170.0 127.2 170.5 127.1 171.0 127.1 171.5 127.1 172.0 127.1 172.5 127.1 173.0 127.1 173.5 127.0 174.0 127.0 174.5 127.0 175.0 127.0 175.5 127.0 176.0 126.9 176.5 126.9 177.0 126.8 177.5 126.8 178.0 126.7 178.5 126.7 179.0 126.7 179.5 126.6 180.0 126.6 180.5 126.5 181.0 126.5 181.5 126.4 182.0 126.4 182.5 126.3 183.0 126.3 183.5 126.3 184.0 126.2 184.5 126.2 185.0 126.1 185.5 126.1 186.0 126.0 186.5 126.0 187.0 126.0 187.5 125.9 188.0 125.9 188.5 125.8 189.0 125.8 189.5 125.7 190.0 125.7 190.5 125.7 191.0 125.6 191.5 125.6 192.0 125.5 192.5 125.5 193.0 125.4 193.5 125.4 194.0 125.3 194.5 125.3 195.0 125.3 195.5 125.2 196.0 125.2 196.5 125.1 197.0 125.1 197.5 125.0 198.0 125.0 198.5 125.0 199.0 124.9 199.5 124.9 200.0 124.8 200.5 124.8 201.0 124.7 201.5 124.7 202.0 124.6 202.5 124.6 203.0 124.6 203.5 124.5 204.0 124.5 204.5 124.4 205.0 124.4 205.5 124.3 206.0 124.3 206.5 124.3 207.0 124.3 207.5 124.2 208.0 124.2 208.5 124.2 209.0 124.2 209.5 124.0 210.0 123.1 210.5 119.1 211.0 108.7 211.5 91.9 212.0 75.4 212.5 66.4 213.0 65.1 213.5 68.8 214.0 81.3 214.5 98.9 215.0 113.6 215.5 121.1 216.0 123.4 216.5 123.8 217.0 123.9 217.5 123.8 218.0 123.8 218.5 123.8 219.0 123.8 219.5 123.8 220.0 123.7 220.5 123.7 221.0 123.7 221.5 123.7 222.0 123.7 222.5 123.6 223.0 123.6 223.5 123.6 224.0 123.6 224.5 123.5 225.0 123.5 225.5 123.5 226.0 123.5 226.5 123.5 227.0 123.4 227.5 123.4 228.0 123.4 228.5 123.4 229.0 123.4 229.5 123.3 230.0 123.3 230.5 123.3 231.0 123.3 231.5 123.3 232.0 123.2 232.5 123.2 233.0 123.2 233.5 123.2 234.0 123.2 234.5 123.1 235.0 123.1 235.5 123.1 236.0 123.1 236.5 123.1 237.0 123.0 237.5 123.0 238.0 123.0 238.5 123.1 239.0 123.1 239.5 123.2 240.0 123.2 240.5 123.3 241.0 123.3 241.5 123.4 242.0 123.4 242.5 123.5 243.0 123.5 243.5 123.6 244.0 123.6 244.5 123.7 245.0 123.7 245.5 123.8 246.0 123.8 246.5 123.9 247.0 123.9 247.5 124.0 248.0 124.0 248.5 124.1 249.0 124.1 249.5 124.2 250.0 124.2 250.5 124.3 251.0 124.4 251.5 124.4 252.0 124.5 252.5 124.5 253.0 124.6 253.5 124.6 254.0 124.7 254.5 124.7 255.0 124.8 255.5 124.8 256.0 124.9 256.5 124.9 257.0 125.0 257.5 125.0 258.0 125.1 258.5 125.1 259.0 125.2 259.5 125.2 260.0 125.3 260.5 125.3 261.0 125.4 261.5 125.4 262.0 125.5 262.5 125.5 263.0 125.5 263.5 125.5 264.0 125.5 264.5 125.5 265.0 125.6 265.5 125.6 266.0 125.6 266.5 125.6 267.0 125.6 267.5 125.6 268.0 125.6 268.5 125.6 269.0 125.6 269.5 125.6 270.0 125.7 270.5 125.7 271.0 125.7 271.5 125.7 272.0 125.7 272.5 125.7 273.0 125.7 273.5 125.7 274.0 125.7 274.5 125.7 275.0 125.8 275.5 125.8 276.0 125.8 276.5 125.8 277.0 125.8 277.5 125.8 278.0 125.8 278.5 125.8 279.0 125.8 279.5 125.8 280.0 125.8 280.5 125.9 281.0 125.9 281.5 125.9 282.0 125.9 282.5 125.9 283.0 125.9 283.5 125.9 284.0 125.9 284.5 125.9 285.0 125.9 285.5 126.0 286.0 126.0 286.5 126.0 287.0 126.0 287.5 126.0 288.0 126.0 288.5 126.0 289.0 126.0 289.5 126.0 290.0 126.0 290.5 126.1 291.0 126.1 291.5 126.1 292.0 126.1 292.5 126.1 293.0 126.1 293.5 126.1 294.0 126.1 294.5 126.0 295.0 126.0 295.5 126.0 296.0 126.0 296.5 126.0 297.0 125.9 297.5 125.9 298.0 125.9 298.5 125.9 299.0 125.9 299.5 125.9 300.0 125.8 300.5 125.8 301.0 125.8 301.5 125.8 302.0 125.8 302.5 125.7 303.0 125.7 303.5 125.7 304.0 125.7 304.5 125.7 305.0 125.7 305.5 125.6 306.0 125.6 306.5 125.6 307.0 125.6 307.5 125.6 308.0 125.5 308.5 125.5 309.0 125.5 309.5 125.5 310.0 125.5 310.5 125.4 311.0 125.4 311.5 125.4 312.0 125.4 312.5 125.4 313.0 125.3 313.5 125.3 314.0 125.3 314.5 125.3 315.0 125.3 315.5 125.3 316.0 125.2 316.5 125.2 317.0 125.2 317.5 125.2 318.0 125.2 318.5 125.1 319.0 125.1 319.5 125.1 320.0 125.1 320.5 125.1 321.0 125.1 321.5 125.0 322.0 125.0 322.5 125.0 323.0 125.0 323.5 125.0 324.0 124.9 324.5 124.9 325.0 124.9 325.5 124.9 326.0 124.9 326.5 124.9 327.0 124.9 327.5 124.9 328.0 125.0 328.5 125.0 329.0 125.0 329.5 125.0 330.0 125.0 330.5 125.0 331.0 125.0 331.5 125.0 332.0 125.0 332.5 125.0 333.0 125.1 333.5 125.1 334.0 125.1 334.5 125.1 335.0 124.9 335.5 124.3 336.0 122.9 336.5 120.9 337.0 119.1 337.5 118.2 338.0 118.2 338.5 118.8 339.0 120.5 339.5 122.6 340.0 124.2 340.5 125.0 341.0 125.2 341.5 125.2 342.0 125.2 342.5 125.2 343.0 125.2 343.5 125.3 344.0 125.3 344.5 125.3 345.0 125.3 345.5 125.3 346.0 125.3 346.5 125.3 347.0 125.3 347.5 125.3 348.0 125.3 348.5 125.4 349.0 125.4 349.5 125.4 350.0 125.4 350.5 125.4 351.0 125.4 351.5 125.4 352.0 125.4 352.5 125.4 353.0 125.4 353.5 125.5 354.0 125.5 354.5 125.5 355.0 125.5 355.5 125.5 356.0 125.5 356.5 125.5 357.0 125.6 357.5 125.6 358.0 125.6 358.5 125.6 359.0 125.7 359.5 125.7 360.0 125.7 360.5 125.7 361.0 125.8 361.5 125.8 362.0 125.8 362.5 125.8 363.0 125.8 363.5 125.9 364.0 125.9 364.5 125.9 365.0 125.9 365.5 126.0 366.0 126.0 366.5 126.0 367.0 126.1 367.5 126.1 368.0 126.1 368.5 126.1 369.0 126.2 369.5 126.2 370.0 126.2 370.5 126.2 371.0 126.2 371.5 126.3 372.0 126.3 372.5 126.3 373.0 126.3 373.5 126.4 374.0 126.4 374.5 126.4 375.0 126.4 375.5 126.5 376.0 126.5 376.5 126.5 377.0 126.5 377.5 126.6 378.0 126.6 378.5 126.6 379.0 126.7 379.5 126.7 380.0 126.7 380.5 126.7 381.0 126.8 381.5 126.8 382.0 126.8 382.5 126.8 383.0 126.8 383.5 126.9 384.0 126.9 384.5 126.9 385.0 126.9 385.5 127.0 386.0 127.0 386.5 127.0 387.0 127.0 387.5 127.1 388.0 127.1 388.5 127.1 389.0 127.0 389.5 127.0 390.0 127.0 390.5 126.9 391.0 126.9 391.5 126.9 392.0 126.8 392.5 126.8 393.0 126.8 393.5 126.7 394.0 126.7 394.5 126.7 395.0 126.6 395.5 126.6 396.0 126.6 396.5 126.5 397.0 126.5 397.5 126.4 398.0 126.4 398.5 126.4 399.0 126.3 399.5 126.3 400.0 126.3 400.5 126.2 401.0 126.2 401.5 126.2 402.0 126.1 402.5 126.1 403.0 126.1 403.5 126.0 404.0 126.0 404.5 126.0 405.0 125.9 405.5 125.9 406.0 125.9 406.5 125.8 407.0 125.8 407.5 125.8 408.0 125.7 408.5 125.7 409.0 125.7 409.5 125.6 410.0 125.6 410.5 125.6 411.0 125.5 411.5 125.5 412.0 125.4 412.5 125.4 413.0 125.4 413.5 125.3 414.0 125.3 414.5 125.3 415.0 125.2 415.5 125.2 416.0 125.2 416.5 125.1 417.0 125.1 417.5 125.1 418.0 125.0 418.5 125.0 419.0 125.0 419.5 124.9 420.0 124.9 420.5 125.0 421.0 125.0 421.5 125.1 422.0 125.1 422.5 125.2 423.0 125.2 423.5 125.3 424.0 125.3 424.5 125.4 425.0 125.4 425.5 125.5 426.0 125.5 426.5 125.6 427.0 125.6 427.5 125.7 428.0 125.7 428.5 125.8 429.0 125.8 429.5 125.9 430.0 125.9 430.5 126.0 431.0 126.1 431.5 126.1 432.0 126.2 432.5 126.2 433.0 126.3 433.5 126.3 434.0 126.4 434.5 126.4 435.0 126.5 435.5 126.5 436.0 126.6 436.5 126.6 437.0 126.7 437.5 126.7 438.0 126.8 438.5 126.8 439.0 126.9 439.5 126.9 440.0 127.0 440.5 127.0 441.0 127.1 441.5 127.1 442.0 127.2 442.5 127.2 443.0 127.2 443.5 127.3 444.0 127.3 444.5 127.3 445.0 127.4 445.5 127.4 446.0 127.4 446.5 127.5 447.0 127.5 447.5 127.5 448.0 127.6 448.5 127.6 449.0 127.7 449.5 127.7 450.0 127.7 450.5 127.8 451.0 127.8 451.5 127.8 452.0 127.9 452.5 127.9 453.0 127.9 453.5 128.0 454.0 128.0 454.5 128.0 455.0 128.1 455.5 128.1 456.0 128.1 456.5 128.2 457.0 128.2 457.5 128.2 458.0 128.3 458.5 128.3 459.0 128.3 459.5 128.4 460.0 128.4 460.5 128.4 461.0 128.5 461.5 128.5 462.0 128.5 462.5 128.6 463.0 128.6 463.5 128.6 464.0 128.7 464.5 128.7 465.0 128.8 465.5 128.8 466.0 128.8 466.5 128.9 467.0 128.9 467.5 128.9 468.0 129.0 468.5 129.0 469.0 129.0 469.5 129.1 470.0 129.1 470.5 129.1 471.0 129.2 471.5 129.2 472.0 129.2 472.5 129.3 473.0 129.3 473.5 129.2 474.0 129.2 474.5 129.2 475.0 129.1 475.5 129.1 476.0 129.0 476.5 129.0 477.0 128.9 477.5 128.9 478.0 128.8 478.5 128.8 479.0 128.7 479.5 128.7 480.0 128.6 480.5 128.6 481.0 128.5 481.5 128.5 482.0 128.4 482.5 128.3 483.0 128.3 483.5 128.2 484.0 128.2 484.5 128.2 485.0 128.1 485.5 128.1 486.0 128.0 486.5 128.0 487.0 127.9 487.5 127.8 488.0 127.8 488.5 127.8 489.0 127.7 489.5 127.7 490.0 127.6 490.5 127.6 491.0 127.5 491.5 127.4 492.0 127.4 492.5 127.3 493.0 127.3 493.5 127.2 494.0 127.2 494.5 127.2 495.0 127.1 495.5 127.1 496.0 127.0 496.5 126.9 497.0 126.9 497.5 126.8 498.0 126.8 498.5 126.8 499.0 126.7 499.5 126.7 500.0 126.6 500.5 126.5 501.0 126.5 501.5 126.4 502.0 126.4 502.5 126.3 503.0 126.3 503.5 126.2 504.0 126.2 504.5 126.2 505.0 126.1 505.5 126.1 506.0 126.0 506.5 126.0 507.0 126.0 507.5 125.9 508.0 125.9 508.5 125.9 509.0 125.8 509.5 125.8 510.0 125.8 510.5 125.7 511.0 125.7 511.5 125.7 512.0 125.6 512.5 125.6 513.0 125.6 513.5 125.6 514.0 125.5 514.5 125.5 515.0 125.5 515.5 125.4 516.0 125.4 516.5 125.4 517.0 125.3 517.5 125.3 518.0 125.3 518.5 125.2 519.0 125.2 519.5 125.2 520.0 125.1 520.5 125.1 521.0 125.1 521.5 125.0 522.0 125.0 522.5 125.0 523.0 124.9 523.5 124.9 524.0 124.9 524.5 124.8 525.0 124.8 525.5 124.8 526.0 124.7 526.5 124.7 527.0 124.7 527.5 124.6 528.0 124.6 528.5 124.6 529.0 124.6 529.5 124.5 530.0 124.5 530.5 124.5 531.0 124.4 531.5 124.4 532.0 124.3 532.5 124.2 533.0 123.4 533.5 120.3 534.0 113.0 534.5 102.4 535.0 92.9 535.5 88.5 536.0 88.2 536.5 91.5 537.0 100.1 537.5 111.0 538.0 119.1 538.5 122.9 539.0 124.0 539.5 124.2 540.0 124.2 540.5 124.2 541.0 124.2 541.5 124.2 542.0 124.2 542.5 124.3 543.0 124.3 543.5 124.3 544.0 124.3 544.5 124.3 545.0 124.3 545.5 124.3 546.0 124.3 546.5 124.4 547.0 124.4 547.5 124.4 548.0 124.4 548.5 124.4 549.0 124.4 549.5 124.4 550.0 124.5 550.5 124.5 551.0 124.5 551.5 124.5 552.0 124.5 552.5 124.5 553.0 124.5 553.5 124.5 554.0 124.6 554.5 124.6 555.0 124.6 555.5 124.6 556.0 124.6 556.5 124.6 557.0 124.6 557.5 124.6 558.0 124.7 558.5 124.7 559.0 124.7 559.5 124.7 560.0 124.7 560.5 124.7 561.0 124.7 561.5 124.7 562.0 124.8 562.5 124.8 563.0 124.8 563.5 124.8 564.0 124.8 564.5 124.8 565.0 124.8 565.5 124.8 566.0 124.8 566.5 124.9 567.0 124.9 567.5 124.9 568.0 124.9 568.5 125.0 569.0 125.0 569.5 125.1 570.0 125.2 570.5 125.3 571.0 125.3 571.5 125.4 572.0 125.5 572.5 125.5 573.0 125.6 573.5 125.7 574.0 125.7 574.5 125.8 575.0 125.9 575.5 126.0 576.0 126.0 576.5 126.1 577.0 126.2 577.5 126.2 578.0 126.3 578.5 126.4 579.0 126.4 579.5 126.5 580.0 126.6 580.5 126.7 581.0 126.7 581.5 126.8 582.0 126.9 582.5 126.9 583.0 127.0 583.5 127.1 584.0 127.2 584.5 127.2 585.0 127.3 585.5 127.4 586.0 127.4 586.5 127.5 587.0 127.6 587.5 127.6 588.0 127.7 588.5 127.8 589.0 127.9 589.5 127.9 590.0 128.0 590.5 128.1 591.0 128.2 591.5 128.3 592.0 128.4 592.5 128.5 593.0 128.6 593.5 128.7 594.0 128.8 594.5 128.8 595.0 128.9 595.5 129.0 596.0 129.1 596.5 129.2 597.0 129.3L597.0 136.3 596.5 136.2 596.0 136.1 595.5 136.0 595.0 135.9 594.5 135.8 594.0 135.8 593.5 135.7 593.0 135.6 592.5 135.5 592.0 135.4 591.5 135.3 591.0 135.2 590.5 135.1 590.0 135.0 589.5 134.9 589.0 134.9 588.5 134.8 588.0 134.7 587.5 134.6 587.0 134.6 586.5 134.5 586.0 134.4 585.5 134.4 585.0 134.3 584.5 134.2 584.0 134.2 583.5 134.1 583.0 134.0 582.5 133.9 582.0 133.9 581.5 133.8 581.0 133.7 580.5 133.7 580.0 133.6 579.5 133.5 579.0 133.4 578.5 133.4 578.0 133.3 577.5 133.2 577.0 133.2 576.5 133.1 576.0 133.0 575.5 133.0 575.0 132.9 574.5 132.8 574.0 132.7 573.5 132.7 573.0 132.6 572.5 132.5 572.0 132.5 571.5 132.4 571.0 132.3 570.5 132.3 570.0 132.2 569.5 132.1 569.0 132.0 568.5 132.0 568.0 131.9 567.5 131.9 567.0 131.9 566.5 131.9 566.0 131.8 565.5 131.8 565.0 131.8 564.5 131.8 564.0 131.8 563.5 131.8 563.0 131.8 562.5 131.8 562.0 131.8 561.5 131.7 561.0 131.7 560.5 131.7 560.0 131.7 559.5 131.7 559.0 131.7 558.5 131.7 558.0 131.7 557.5 131.6 557.0 131.6 556.5 131.6 556.0 131.6 555.5 131.6 555.0 131.6 554.5 131.6 554.0 131.6 553.5 131.5 553.0 131.5 552.5 131.5 552.0 131.5 551.5 131.5 551.0 131.5 550.5 131.5 550.0 131.4 549.5 131.4 549.0 131.4 548.5 131.4 548.0 131.4 547.5 131.4 547.0 131.4 546.5 131.4 546.0 131.3 545.5 131.3 545.0 131.3 544.5 131.3 544.0 131.3 543.5 131.3 543.0 131.3 542.5 131.3 542.0 131.2 541.5 131.2 541.0 131.2 540.5 131.2 540.0 131.2 539.5 131.2 539.0 131.0 538.5 129.9 538.0 126.1 537.5 118.0 537.0 107.1 536.5 98.5 536.0 95.2 535.5 95.5 535.0 99.9 534.5 109.4 534.0 120.0 533.5 127.3 533.0 130.4 532.5 131.2 532.0 131.3 531.5 131.4 531.0 131.4 530.5 131.5 530.0 131.5 529.5 131.5 529.0 131.6 528.5 131.6 528.0 131.6 527.5 131.6 527.0 131.7 526.5 131.7 526.0 131.7 525.5 131.8 525.0 131.8 524.5 131.8 524.0 131.9 523.5 131.9 523.0 131.9 522.5 132.0 522.0 132.0 521.5 132.0 521.0 132.1 520.5 132.1 520.0 132.1 519.5 132.2 519.0 132.2 518.5 132.2 518.0 132.3 517.5 132.3 517.0 132.3 516.5 132.4 516.0 132.4 515.5 132.4 515.0 132.5 514.5 132.5 514.0 132.5 513.5 132.6 513.0 132.6 512.5 132.6 512.0 132.6 511.5 132.7 511.0 132.7 510.5 132.7 510.0 132.8 509.5 132.8 509.0 132.8 508.5 132.9 508.0 132.9 507.5 132.9 507.0 133.0 506.5 133.0 506.0 133.0 505.5 133.1 505.0 133.1 504.5 133.2 504.0 133.2 503.5 133.2 503.0 133.3 502.5 133.3 502.0 133.4 501.5 133.4 501.0 133.5 500.5 133.5 500.0 133.6 499.5 133.7 499.0 133.7 498.5 133.8 498.0 133.8 497.5 133.8 497.0 133.9 496.5 133.9 496.0 134.0 495.5 134.1 495.0 134.1 494.5 134.2 494.0 134.2 493.5 134.2 493.0 134.3 492.5 134.3 492.0 134.4 491.5 134.4 491.0 134.5 490.5 134.6 490.0 134.6 489.5 134.7 489.0 134.7 488.5 134.8 488.0 134.8 487.5 134.8 487.0 134.9 486.5 135.0 486.0 135.0 485.5 135.1 485.0 135.1 484.5 135.2 484.0 135.2 483.5 135.2 483.0 135.3 482.5 135.3 482.0 135.4 481.5 135.5 481.0 135.5 480.5 135.6 480.0 135.6 479.5 135.7 479.0 135.7 478.5 135.8 478.0 135.8 477.5 135.9 477.0 135.9 476.5 136.0 476.0 136.0 475.5 136.1 475.0 136.1 474.5 136.2 474.0 136.2 473.5 136.2 473.0 136.3 472.5 136.3 472.0 136.2 471.5 136.2 471.0 136.2 470.5 136.1 470.0 136.1 469.5 136.1 469.0 136.0 468.5 136.0 468.0 136.0 467.5 135.9 467.0 135.9 466.5 135.9 466.0 135.8 465.5 135.8 465.0 135.8 464.5 135.7 464.0 135.7 463.5 135.6 463.0 135.6 462.5 135.6 462.0 135.5 461.5 135.5 461.0 135.5 460.5 135.4 460.0 135.4 459.5 135.4 459.0 135.3 458.5 135.3 458.0 135.3 457.5 135.2 457.0 135.2 456.5 135.2 456.0 135.1 455.5 135.1 455.0 135.1 454.5 135.0 454.0 135.0 453.5 135.0 453.0 134.9 452.5 134.9 452.0 134.9 451.5 134.8 451.0 134.8 450.5 134.8 450.0 134.7 449.5 134.7 449.0 134.7 448.5 134.6 448.0 134.6 447.5 134.5 447.0 134.5 446.5 134.5 446.0 134.4 445.5 134.4 445.0 134.4 444.5 134.3 444.0 134.3 443.5 134.3 443.0 134.2 442.5 134.2 442.0 134.2 441.5 134.1 441.0 134.1 440.5 134.0 440.0 134.0 439.5 133.9 439.0 133.9 438.5 133.8 438.0 133.8 437.5 133.7 437.0 133.7 436.5 133.6 436.0 133.6 435.5 133.5 435.0 133.5 434.5 133.4 434.0 133.4 433.5 133.3 433.0 133.3 432.5 133.2 432.0 133.2 431.5 133.1 431.0 133.1 430.5 133.0 430.0 132.9 429.5 132.9 429.0 132.8 428.5 132.8 428.0 132.7 427.5 132.7 427.0 132.6 426.5 132.6 426.0 132.5 425.5 132.5 425.0 132.4 424.5 132.4 424.0 132.3 423.5 132.3 423.0 132.2 422.5 132.2 422.0 132.1 421.5 132.1 421.0 132.0 420.5 132.0 420.0 131.9 419.5 131.9 419.0 132.0 418.5 132.0 418.0 132.0 417.5 132.1 417.0 132.1 416.5 132.1 416.0 132.2 415.5 132.2 415.0 132.2 414.5 132.3 414.0 132.3 413.5 132.3 413.0 132.4 412.5 132.4 412.0 132.4 411.5 132.5 411.0 132.5 410.5 132.6 410.0 132.6 409.5 132.6 409.0 132.7 408.5 132.7 408.0 132.7 407.5 132.8 407.0 132.8 406.5 132.8 406.0 132.9 405.5 132.9 405.0 132.9 404.5 133.0 404.0 133.0 403.5 133.0 403.0 133.1 402.5 133.1 402.0 133.1 401.5 133.2 401.0 133.2 400.5 133.2 400.0 133.3 399.5 133.3 399.0 133.3 398.5 133.4 398.0 133.4 397.5 133.4 397.0 133.5 396.5 133.5 396.0 133.6 395.5 133.6 395.0 133.6 394.5 133.7 394.0 133.7 393.5 133.7 393.0 133.8 392.5 133.8 392.0 133.8 391.5 133.9 391.0 133.9 390.5 133.9 390.0 134.0 389.5 134.0 389.0 134.0 388.5 134.1 388.0 134.1 387.5 134.1 387.0 134.0 386.5 134.0 386.0 134.0 385.5 134.0 385.0 133.9 384.5 133.9 384.0 133.9 383.5 133.9 383.0 133.8 382.5 133.8 382.0 133.8 381.5 133.8 381.0 133.8 380.5 133.7 380.0 133.7 379.5 133.7 379.0 133.7 378.5 133.6 378.0 133.6 377.5 133.6 377.0 133.5 376.5 133.5 376.0 133.5 375.5 133.5 375.0 133.4 374.5 133.4 374.0 133.4 373.5 133.4 373.0 133.3 372.5 133.3 372.0 133.3 371.5 133.3 371.0 133.2 370.5 133.2 370.0 133.2 369.5 133.2 369.0 133.2 368.5 133.1 368.0 133.1 367.5 133.1 367.0 133.1 366.5 133.0 366.0 133.0 365.5 133.0 365.0 132.9 364.5 132.9 364.0 132.9 363.5 132.9 363.0 132.8 362.5 132.8 362.0 132.8 361.5 132.8 361.0 132.8 360.5 132.7 360.0 132.7 359.5 132.7 359.0 132.7 358.5 132.6 358.0 132.6 357.5 132.6 357.0 132.6 356.5 132.5 356.0 132.5 355.5 132.5 355.0 132.5 354.5 132.5 354.0 132.5 353.5 132.5 353.0 132.4 352.5 132.4 352.0 132.4 351.5 132.4 351.0 132.4 350.5 132.4 350.0 132.4 349.5 132.4 349.0 132.4 348.5 132.4 348.0 132.3 347.5 132.3 347.0 132.3 346.5 132.3 346.0 132.3 345.5 132.3 345.0 132.3 344.5 132.3 344.0 132.3 343.5 132.3 343.0 132.2 342.5 132.2 342.0 132.2 341.5 132.2 341.0 132.2 340.5 132.0 340.0 131.2 339.5 129.6 339.0 127.5 338.5 125.8 338.0 125.2 337.5 125.2 337.0 126.1 336.5 127.9 336.0 129.9 335.5 131.3 335.0 131.9 334.5 132.1 334.0 132.1 333.5 132.1 333.0 132.1 332.5 132.0 332.0 132.0 331.5 132.0 331.0 132.0 330.5 132.0 330.0 132.0 329.5 132.0 329.0 132.0 328.5 132.0 328.0 132.0 327.5 131.9 327.0 131.9 326.5 131.9 326.0 131.9 325.5 131.9 325.0 131.9 324.5 131.9 324.0 131.9 323.5 132.0 323.0 132.0 322.5 132.0 322.0 132.0 321.5 132.0 321.0 132.1 320.5 132.1 320.0 132.1 319.5 132.1 319.0 132.1 318.5 132.1 318.0 132.2 317.5 132.2 317.0 132.2 316.5 132.2 316.0 132.2 315.5 132.3 315.0 132.3 314.5 132.3 314.0 132.3 313.5 132.3 313.0 132.3 312.5 132.4 312.0 132.4 311.5 132.4 311.0 132.4 310.5 132.4 310.0 132.5 309.5 132.5 309.0 132.5 308.5 132.5 308.0 132.5 307.5 132.6 307.0 132.6 306.5 132.6 306.0 132.6 305.5 132.6 305.0 132.7 304.5 132.7 304.0 132.7 303.5 132.7 303.0 132.7 302.5 132.7 302.0 132.8 301.5 132.8 301.0 132.8 300.5 132.8 300.0 132.8 299.5 132.9 299.0 132.9 298.5 132.9 298.0 132.9 297.5 132.9 297.0 132.9 296.5 133.0 296.0 133.0 295.5 133.0 295.0 133.0 294.5 133.0 294.0 133.1 293.5 133.1 293.0 133.1 292.5 133.1 292.0 133.1 291.5 133.1 291.0 133.1 290.5 133.1 290.0 133.0 289.5 133.0 289.0 133.0 288.5 133.0 288.0 133.0 287.5 133.0 287.0 133.0 286.5 133.0 286.0 133.0 285.5 133.0 285.0 132.9 284.5 132.9 284.0 132.9 283.5 132.9 283.0 132.9 282.5 132.9 282.0 132.9 281.5 132.9 281.0 132.9 280.5 132.9 280.0 132.8 279.5 132.8 279.0 132.8 278.5 132.8 278.0 132.8 277.5 132.8 277.0 132.8 276.5 132.8 276.0 132.8 275.5 132.8 275.0 132.8 274.5 132.7 274.0 132.7 273.5 132.7 273.0 132.7 272.5 132.7 272.0 132.7 271.5 132.7 271.0 132.7 270.5 132.7 270.0 132.7 269.5 132.6 269.0 132.6 268.5 132.6 268.0 132.6 267.5 132.6 267.0 132.6 266.5 132.6 266.0 132.6 265.5 132.6 265.0 132.6 264.5 132.5 264.0 132.5 263.5 132.5 263.0 132.5 262.5 132.5 262.0 132.5 261.5 132.4 261.0 132.4 260.5 132.3 260.0 132.3 259.5 132.2 259.0 132.2 258.5 132.1 258.0 132.1 257.5 132.0 257.0 132.0 256.5 131.9 256.0 131.9 255.5 131.8 255.0 131.8 254.5 131.7 254.0 131.7 253.5 131.6 253.0 131.6 252.5 131.5 252.0 131.5 251.5 131.4 251.0 131.4 250.5 131.3 250.0 131.2 249.5 131.2 249.0 131.1 248.5 131.1 248.0 131.0 247.5 131.0 247.0 130.9 246.5 130.9 246.0 130.8 245.5 130.8 245.0 130.7 244.5 130.7 244.0 130.6 243.5 130.6 243.0 130.5 242.5 130.5 242.0 130.4 241.5 130.4 241.0 130.3 240.5 130.3 240.0 130.2 239.5 130.2 239.0 130.1 238.5 130.1 238.0 130.0 237.5 130.0 237.0 130.0 236.5 130.1 236.0 130.1 235.5 130.1 235.0 130.1 234.5 130.1 234.0 130.2 233.5 130.2 233.0 130.2 232.5 130.2 232.0 130.2 231.5 130.3 231.0 130.3 230.5 130.3 230.0 130.3 229.5 130.3 229.0 130.4 228.5 130.4 228.0 130.4 227.5 130.4 227.0 130.4 226.5 130.5 226.0 130.5 225.5 130.5 225.0 130.5 224.5 130.5 224.0 130.6 223.5 130.6 223.0 130.6 222.5 130.6 222.0 130.7 221.5 130.7 221.0 130.7 220.5 130.7 220.0 130.7 219.5 130.8 219.0 130.8 218.5 130.8 218.0 130.8 217.5 130.8 217.0 130.9 216.5 130.8 216.0 130.4 215.5 128.1 215.0 120.6 214.5 105.9 214.0 88.3 213.5 75.8 213.0 72.1 212.5 73.4 212.0 82.4 211.5 98.9 211.0 115.7 210.5 126.1 210.0 130.1 209.5 131.0 209.0 131.2 208.5 131.2 208.0 131.2 207.5 131.2 207.0 131.3 206.5 131.3 206.0 131.3 205.5 131.3 205.0 131.4 204.5 131.4 204.0 131.5 203.5 131.5 203.0 131.6 202.5 131.6 202.0 131.6 201.5 131.7 201.0 131.7 200.5 131.8 200.0 131.8 199.5 131.9 199.0 131.9 198.5 132.0 198.0 132.0 197.5 132.0 197.0 132.1 196.5 132.1 196.0 132.2 195.5 132.2 195.0 132.3 194.5 132.3 194.0 132.3 193.5 132.4 193.0 132.4 192.5 132.5 192.0 132.5 191.5 132.6 191.0 132.6 190.5 132.7 190.0 132.7 189.5 132.7 189.0 132.8 188.5 132.8 188.0 132.9 187.5 132.9 187.0 133.0 186.5 133.0 186.0 133.0 185.5 133.1 185.0 133.1 184.5 133.2 184.0 133.2 183.5 133.3 183.0 133.3 182.5 133.3 182.0 133.4 181.5 133.4 181.0 133.5 180.5 133.5 180.0 133.6 179.5 133.6 179.0 133.7 178.5 133.7 178.0 133.7 177.5 133.8 177.0 133.8 176.5 133.9 176.0 133.9 175.5 134.0 175.0 134.0 174.5 134.0 174.0 134.0 173.5 134.0 173.0 134.1 172.5 134.1 172.0 134.1 171.5 134.1 171.0 134.1 170.5 134.1 170.0 134.2 169.5 134.2 169.0 134.2 168.5 134.2 168.0 134.2 167.5 134.2 167.0 134.2 166.5 134.3 166.0 134.3 165.5 134.3 165.0 134.3 164.5 134.3 164.0 134.3 163.5 134.4 163.0 134.4 162.5 134.4 162.0 134.4 161.5 134.4 161.0 134.4 160.5 134.5 160.0 134.5 159.5 134.5 159.0 134.5 158.5 134.5 158.0 134.5 157.5 134.5 157.0 134.6 156.5 134.6 156.0 134.6 155.5 134.6 155.0 134.6 154.5 134.6 154.0 134.7 153.5 134.7 153.0 134.7 152.5 134.7 152.0 134.7 151.5 134.7 151.0 134.8 150.5 134.8 150.0 134.8 149.5 134.8 149.0 134.8 148.5 134.8 148.0 134.8 147.5 134.9 147.0 134.9 146.5 134.9 146.0 134.9 145.5 134.9 145.0 134.9 144.5 135.0 144.0 135.0 143.5 135.0 143.0 135.0 142.5 135.0 142.0 135.0 141.5 135.0 141.0 135.0 140.5 135.0 140.0 135.0 139.5 135.1 139.0 135.1 138.5 135.1 138.0 135.1 137.5 135.1 137.0 135.1 136.5 135.1 136.0 135.1 135.5 135.1 135.0 135.1 134.5 135.1 134.0 135.1 133.5 135.1 133.0 135.2 132.5 135.2 132.0 135.2 131.5 135.2 131.0 135.2 130.5 135.2 130.0 135.2 129.5 135.2 129.0 135.2 128.5 135.2 128.0 135.2 127.5 135.2 127.0 135.2 126.5 135.3 126.0 135.3 125.5 135.3 125.0 135.3 124.5 135.3 124.0 135.3 123.5 135.3 123.0 135.3 122.5 135.3 122.0 135.3 121.5 135.3 121.0 135.3 120.5 135.4 120.0 135.4 119.5 135.4 119.0 135.4 118.5 135.4 118.0 135.4 117.5 135.4 117.0 135.4 116.5 135.4 116.0 135.4 115.5 135.4 115.0 135.4 114.5 135.4 114.0 135.5 113.5 135.5 113.0 135.5 112.5 135.5 112.0 135.5 111.5 135.5 111.0 135.5 110.5 135.5 110.0 135.5 109.5 135.5 109.0 135.6 108.5 135.6 108.0 135.6 107.5 135.6 107.0 135.6 106.5 135.6 106.0 135.6 105.5 135.6 105.0 135.7 104.5 135.7 104.0 135.7 103.5 135.7 103.0 135.7 102.5 135.7 102.0 135.7 101.5 135.7 101.0 135.8 100.5 135.8 100.0 135.8 99.5 135.8 99.0 135.8 98.5 135.8 98.0 135.8 97.5 135.8 97.0 135.9 96.5 135.9 96.0 135.9 95.5 135.9 95.0 135.9 94.5 135.9 94.0 135.9 93.5 136.0 93.0 136.0 92.5 136.0 92.0 136.0 91.5 136.0 91.0 136.0 90.5 136.0 90.0 136.0 89.5 136.1 89.0 136.1 88.5 136.1 88.0 136.1 87.5 136.1 87.0 136.1 86.5 136.1 86.0 136.1 85.5 136.2 85.0 136.2 84.5 136.2 84.0 136.2 83.5 136.2 83.0 136.2 82.5 136.2 82.0 136.2 81.5 136.3 81.0 136.3 80.5 136.3 80.0 136.3 79.5 136.2 79.0 136.1 78.5 136.0 78.0 135.9 77.5 135.8 77.0 135.7 76.5 135.6 76.0 135.5 75.5 135.4 75.0 135.4 74.5 135.3 74.0 135.2 73.5 135.1 73.0 135.0 72.5 134.9 72.0 134.8 71.5 134.7 71.0 134.6 70.5 134.5 70.0 134.4 69.5 134.3 69.0 134.2 68.5 134.1 68.0 134.0 67.5 133.9 67.0 133.8 66.5 133.7 66.0 133.6 65.5 133.5 65.0 133.4 64.5 133.4 64.0 133.3 63.5 133.2 63.0 133.1 62.5 133.0 62.0 132.9 61.5 132.8 61.0 132.7 60.5 132.6 60.0 132.5 59.5 132.5 59.0 132.5 58.5 132.6 58.0 132.6 57.5 132.6 57.0 132.6 56.5 132.7 56.0 132.7 55.5 132.7 55.0 132.7 54.5 132.8 54.0 132.8 53.5 132.8 53.0 132.8 52.5 132.8 52.0 132.9 51.5 132.9 51.0 132.9 50.5 132.9 50.0 133.0Z" fill="#a6c8ea" stroke="none"/>
<path d="M50.5 119.8V130.7M52.5 117.5V132.0M54.5 125.0V130.1M56.5 126.4V135.6M58.5 122.9V129.6M60.5 123.2V128.3M62.5 125.1V133.4M64.5 129.8V140.7M66.5 126.6V130.5M68.5 121.3V138.1M70.5 128.4V133.4M72.5 130.1V133.2M74.5 130.4V136.7M76.5 127.1V134.1M78.5 127.9V131.5M80.5 122.4V136.4M82.5 134.2V139.4M84.5 129.1V134.3M86.5 129.8V137.4M88.5 127.1V135.8M90.5 134.1V138.4M92.5 131.8V136.1M94.5 125.3V140.0M96.5 129.1V136.6M98.5 129.0V133.7M100.5 124.4V131.1M102.5 125.8V138.5M104.5 134.1V139.1M106.5 128.1V135.0M108.5 135.0V141.8M110.5 129.8V139.1M112.5 130.5V136.2M114.5 117.4V138.8M116.5 122.1V129.3M118.5 128.8V132.3M120.5 127.2V139.5M122.5 126.1V132.3M124.5 129.5V137.1M126.5 119.5V140.3M128.5 129.7V141.8M130.5 127.9V131.5M132.5 128.7V135.6M134.5 134.4V137.5M136.5 125.3V136.7M138.5 116.0V134.1M140.5 130.9V136.3M142.5 132.4V141.6M144.5 128.9V134.0M146.5 132.1V135.7M148.5 127.6V131.3M150.5 127.5V133.4M152.5 126.5V132.4M154.5 125.2V132.8M156.5 130.7V136.0M158.5 126.7V137.7M160.5 129.7V135.8M162.5 125.2V140.3M164.5 111.6V138.8M166.5 128.0V135.7M168.5 123.3V130.2M170.5 123.2V134.4M172.5 128.8V134.5M174.5 128.6V146.2M176.5 124.5V137.0M178.5 130.9V137.8M180.5 125.0V131.7M182.5 128.5V135.7M184.5 125.6V130.8M186.5 123.5V132.2M188.5 123.3V127.6M190.5 124.9V135.2M192.5 122.8V126.5M194.5 123.5V129.0M196.5 122.3V126.9M198.5 126.2V130.6M200.5 123.1V128.7M202.5 127.6V143.6M204.5 120.0V133.5M206.5 125.1V135.1M208.5 126.5V130.7M210.5 122.3V122.7M212.5 70.0V71.0M214.5 102.2V103.7M216.5 125.2V129.6M218.5 126.3V137.1M220.5 121.1V128.0M222.5 124.6V128.4M224.5 126.0V134.1M226.5 119.9V132.3M228.5 124.7V133.4M230.5 124.0V129.4M232.5 122.9V126.6M234.5 123.4V128.2M236.5 124.3V132.1M238.5 122.6V130.0M240.5 118.8V127.2M242.5 123.9V128.7M244.5 112.7V125.0M246.5 123.5V137.4M248.5 131.1V136.6M250.5 125.7V132.5M252.5 114.9V135.4M254.5 125.2V128.9M256.5 131.2V137.5M258.5 125.7V129.9M260.5 127.2V130.9M262.5 129.8V133.7M264.5 123.1V129.7M266.5 122.9V132.2M268.5 122.4V130.5M270.5 123.9V133.7M272.5 124.1V138.3M274.5 122.0V136.2M276.5 128.4V133.8M278.5 125.3V131.2M280.5 114.7V136.9M282.5 127.7V130.9M284.5 122.1V140.8M286.5 123.5V128.3M288.5 125.7V136.0M290.5 127.0V133.2M292.5 136.1V141.9M294.5 129.3V136.1M296.5 131.2V136.6M298.5 119.5V128.9M300.5 128.6V138.2M302.5 127.9V134.6M304.5 124.0V140.9M306.5 128.8V138.6M308.5 127.9V134.8M310.5 129.4V132.6M312.5 126.7V134.9M314.5 124.7V128.6M316.5 129.2V133.6M318.5 120.1V130.3M320.5 123.7V133.4M322.5 124.2V127.3M324.5 124.9V133.3M326.5 122.5V133.7M328.5 123.5V137.6M330.5 134.1V141.0M332.5 124.0V132.4M334.5 123.5V131.1M336.5 123.9V124.4M338.5 121.6V122.3M340.5 127.0V137.5M342.5 120.1V126.0M344.5 124.7V127.6M346.5 128.2V136.0M348.5 126.1V135.6M350.5 121.8V123.1M352.5 126.8V128.3M354.5 120.1V128.5M356.5 113.4V114.1M358.5 110.2V110.8M360.5 130.6V134.2M362.5 124.3V137.8M364.5 133.8V141.4M366.5 117.3V131.4M368.5 125.3V139.5M370.5 125.9V133.4M372.5 130.5V137.6M374.5 131.3V135.2M376.5 107.9V123.6M378.5 130.5V134.7M380.5 126.7V132.1M382.5 123.2V137.3M384.5 133.3V138.3M386.5 126.6V134.7M388.5 126.2V133.4M390.5 124.3V128.8M392.5 130.9V140.1M394.5 129.4V134.9M396.5 122.3V133.1M398.5 125.1V133.2M400.5 127.4V133.6M402.5 122.4V128.7M404.5 119.4V138.9M406.5 124.0V131.6M408.5 129.4V135.5M410.5 122.3V132.7M412.5 124.1V134.3M414.5 121.7V125.9M416.5 122.2V131.0M418.5 121.4V129.9M420.5 130.7V136.4M422.5 124.2V130.5M424.5 125.6V131.8M426.5 122.6V129.4M428.5 122.7V132.5M430.5 128.1V131.1M432.5 133.6V140.0M434.5 123.6V133.0M436.5 132.9V137.6M438.5 129.5V138.5M440.5 129.5V133.6M442.5 128.0V136.2M444.5 127.6V138.1M446.5 124.4V133.6M448.5 125.4V133.9M450.5 126.8V133.2M452.5 122.6V141.1M454.5 128.5V136.5M456.5 134.7V143.4M458.5 130.7V135.7M460.5 129.5V136.1M462.5 125.2V128.0M464.5 132.7V141.7M466.5 128.7V132.7M468.5 129.9V143.6M470.5 130.3V145.0M472.5 130.4V139.0M474.5 129.8V136.3M476.5 130.7V137.3M478.5 128.6V136.1M480.5 119.8V146.4M482.5 126.0V143.0M484.5 128.3V133.5M486.5 128.4V133.8M488.5 129.6V136.2M490.5 131.1V137.4M492.5 117.8V126.8M494.5 128.0V136.8M496.5 120.2V130.9M498.5 135.0V140.6M500.5 118.7V123.1M502.5 125.5V134.1M504.5 125.5V133.9M506.5 126.0V134.3M508.5 130.1V134.9M510.5 124.9V132.0M512.5 127.3V134.1M514.5 120.3V130.8M516.5 126.3V134.8M518.5 117.7V123.7M520.5 125.8V138.7M522.5 119.8V132.7M524.5 130.0V137.1M526.5 131.5V138.5M528.5 120.3V128.7M530.5 129.8V134.7M532.5 119.9V125.1M534.5 104.5V105.8M536.5 94.5V96.2M538.5 123.8V131.5M540.5 124.7V129.0M542.5 123.8V128.0M544.5 120.9V129.9M546.5 125.7V129.9M548.5 122.2V131.9M550.5 127.4V133.3M552.5 125.6V133.4M554.5 121.5V128.0M556.5 122.5V130.1M558.5 124.4V127.9M560.5 122.9V132.4M562.5 135.9V141.0M564.5 121.0V128.6M566.5 113.4V136.4M568.5 120.8V129.2M570.5 125.5V132.3M572.5 117.5V129.3M574.5 114.7V123.5M576.5 124.5V132.3M578.5 128.1V134.5M580.5 125.2V130.2M582.5 122.2V129.8M584.5 131.8V142.4M586.5 129.5V134.4M588.5 132.9V135.9M590.5 126.4V138.3M592.5 128.2V138.3M594.5 125.7V131.8M596.5 124.4V132.8" fill="none" stroke="#3a3a3a" stroke-width="0.8"/>
<path d="M50.5 126.5 52.5 127.3 54.5 127.3 56.5 131.2 58.5 126.4 60.5 126.4 62.5 128.5 64.5 135.4 66.5 127.8 68.5 128.8 70.5 131.5 72.5 131.8 74.5 134.1 76.5 130.7 78.5 130.1 80.5 129.3 82.5 137.3 84.5 132.1 86.5 133.7 88.5 131.5 90.5 136.1 92.5 134.0 94.5 132.9 96.5 132.5 98.5 131.0 100.5 126.2 102.5 131.4 104.5 136.1 106.5 131.6 108.5 137.5 110.5 132.6 112.5 133.9 114.5 129.0 116.5 125.9 118.5 131.2 120.5 134.5 122.5 130.0 124.5 133.4 126.5 132.6 128.5 133.5 130.5 130.0 132.5 130.7 134.5 135.8 136.5 133.4 138.5 125.1 140.5 134.8 142.5 136.7 144.5 130.8 146.5 133.5 148.5 129.1 150.5 131.4 152.5 128.9 154.5 129.5 156.5 133.4 158.5 132.4 160.5 132.6 162.5 133.2 164.5 125.2 166.5 131.7 168.5 126.5 170.5 129.5 172.5 130.5 174.5 137.1 176.5 130.7 178.5 134.7 180.5 128.8 182.5 132.1 184.5 127.1 186.5 129.9 188.5 125.3 190.5 129.9 192.5 124.4 194.5 126.2 196.5 124.2 198.5 129.0 200.5 125.6 202.5 134.9 204.5 128.5 206.5 130.1 208.5 129.2 210.5 122.5 212.5 70.5 214.5 102.8 216.5 126.9 218.5 132.2 220.5 124.7 222.5 126.8 224.5 130.4 226.5 128.8 228.5 128.2 230.5 126.0 232.5 124.2 234.5 125.7 236.5 127.9 238.5 125.5 240.5 123.2 242.5 126.1 244.5 118.3 246.5 130.1 248.5 133.3 250.5 128.2 252.5 127.9 254.5 127.2 256.5 133.5 258.5 126.9 260.5 129.0 262.5 131.2 264.5 125.8 266.5 128.0 268.5 127.3 270.5 129.7 272.5 130.9 274.5 129.5 276.5 130.6 278.5 127.8 280.5 126.2 282.5 129.0 284.5 134.7 286.5 125.7 288.5 128.9 290.5 129.0 292.5 139.3 294.5 133.2 296.5 133.0 298.5 124.2 300.5 133.3 302.5 132.4 304.5 130.2 306.5 133.4 308.5 130.5 310.5 130.6 312.5 129.2 314.5 127.1 316.5 132.3 318.5 125.7 320.5 129.8 322.5 125.6 324.5 129.0 326.5 126.1 328.5 131.0 330.5 138.7 332.5 127.7 334.5 126.7 336.5 124.1 338.5 122.1 340.5 131.9 342.5 123.1 344.5 126.5 346.5 132.4 348.5 129.5 350.5 122.6 352.5 127.2 354.5 126.2 356.5 113.8 358.5 110.5 360.5 131.9 362.5 132.2 364.5 136.3 366.5 125.5 368.5 133.6 370.5 130.3 372.5 132.7 374.5 133.2 376.5 115.5 378.5 132.6 380.5 130.2 382.5 130.3 384.5 136.0 386.5 130.8 388.5 129.3 390.5 126.9 392.5 135.1 394.5 132.3 396.5 127.2 398.5 130.6 400.5 131.0 402.5 124.9 404.5 131.0 406.5 127.7 408.5 132.3 410.5 127.5 412.5 128.8 414.5 122.9 416.5 126.1 418.5 125.7 420.5 133.4 422.5 128.0 424.5 129.4 426.5 126.9 428.5 127.6 430.5 129.9 432.5 136.2 434.5 128.3 436.5 134.6 438.5 134.4 440.5 131.2 442.5 132.7 444.5 133.9 446.5 128.8 448.5 130.5 450.5 129.4 452.5 130.8 454.5 133.4 456.5 137.6 458.5 134.1 460.5 133.6 462.5 126.5 464.5 135.8 466.5 130.8 468.5 134.7 470.5 134.6 472.5 136.8 474.5 131.9 476.5 133.7 478.5 132.8 480.5 131.5 482.5 134.6 484.5 130.9 486.5 131.1 488.5 133.2 490.5 134.3 492.5 122.9 494.5 131.0 496.5 123.6 498.5 138.0 500.5 120.1 502.5 130.4 504.5 130.5 506.5 128.8 508.5 133.0 510.5 129.8 512.5 129.3 514.5 123.4 516.5 130.6 518.5 121.1 520.5 132.9 522.5 126.1 524.5 133.2 526.5 133.7 528.5 126.4 530.5 131.3 532.5 122.7 534.5 105.3 536.5 95.4 538.5 127.7 540.5 127.4 542.5 125.3 544.5 123.7 546.5 128.4 548.5 126.5 550.5 130.5 552.5 130.7 554.5 125.0 556.5 127.3 558.5 126.2 560.5 128.0 562.5 137.4 564.5 125.2 566.5 125.2 568.5 126.0 570.5 127.8 572.5 123.1 574.5 117.5 576.5 127.3 578.5 130.9 580.5 128.2 582.5 125.6 584.5 135.7 586.5 133.0 588.5 134.2 590.5 131.5 592.5 131.8 594.5 129.0 596.5 128.6" fill="none" stroke="#000" stroke-width="1.0" stroke-linejoin="round"/>
<path d="M50.0 129.5 50.5 129.4 51.0 129.4 51.5 129.4 52.0 129.4 52.5 129.3 53.0 129.3 53.5 129.3 54.0 129.3 54.5 129.2 55.0 129.2 55.5 129.2 56.0 129.2 56.5 129.2 57.0 129.1 57.5 129.1 58.0 129.1 58.5 129.1 59.0 129.0 59.5 129.0 60.0 129.0 60.5 129.1 61.0 129.2 61.5 129.3 62.0 129.4 62.5 129.5 63.0 129.6 63.5 129.7 64.0 129.8 64.5 129.9 65.0 129.9 65.5 130.0 66.0 130.1 66.5 130.2 67.0 130.3 67.5 130.4 68.0 130.5 68.5 130.6 69.0 130.7 69.5 130.8 70.0 130.9 70.5 131.0 71.0 131.1 71.5 131.2 72.0 131.3 72.5 131.4 73.0 131.5 73.5 131.6 74.0 131.7 74.5 131.8 75.0 131.9 75.5 131.9 76.0 132.0 76.5 132.1 77.0 132.2 77.5 132.3 78.0 132.4 78.5 132.5 79.0 132.6 79.5 132.7 80.0 132.8 80.5 132.8 81.0 132.8 81.5 132.8 82.0 132.7 82.5 132.7 83.0 132.7 83.5 132.7 84.0 132.7 84.5 132.7 85.0 132.7 85.5 132.7 86.0 132.6 86.5 132.6 87.0 132.6 87.5 132.6 88.0 132.6 88.5 132.6 89.0 132.6 89.5 132.6 90.0 132.5 90.5 132.5 91.0 132.5 91.5 132.5 92.0 132.5 92.5 132.5 93.0 132.5 93.5 132.5 94.0 132.4 94.5 132.4 95.0 132.4 95.5 132.4 96.0 132.4 96.5 132.4 97.0 132.4 97.5 132.3 98.0 132.3 98.5 132.3 99.0 132.3 99.5 132.3 100.0 132.3 100.5 132.3 101.0 132.3 101.5 132.2 102.0 132.2 102.5 132.2 103.0 132.2 103.5 132.2 104.0 132.2 104.5 132.2 105.0 132.2 105.5 132.1 106.0 132.1 106.5 132.1 107.0 132.1 107.5 132.1 108.0 132.1 108.5 132.1 109.0 132.1 109.5 132.0 110.0 132.0 110.5 132.0 111.0 132.0 111.5 132.0 112.0 132.0 112.5 132.0 113.0 132.0 113.5 132.0 114.0 132.0 114.5 131.9 115.0 131.9 115.5 131.9 116.0 131.9 116.5 131.9 117.0 131.9 117.5 131.9 118.0 131.9 118.5 131.9 119.0 131.9 119.5 131.9 120.0 131.9 120.5 131.9 121.0 131.8 121.5 131.8 122.0 131.8 122.5 131.8 123.0 131.8 123.5 131.8 124.0 131.8 124.5 131.8 125.0 131.8 125.5 131.8 126.0 131.8 126.5 131.8 127.0 131.8 127.5 131.7 128.0 131.7 128.5 131.7 129.0 131.7 129.5 131.7 130.0 131.7 130.5 131.7 131.0 131.7 131.5 131.7 132.0 131.7 132.5 131.7 133.0 131.7 133.5 131.6 134.0 131.6 134.5 131.6 135.0 131.6 135.5 131.6 136.0 131.6 136.5 131.6 137.0 131.6 137.5 131.6 138.0 131.6 138.5 131.6 139.0 131.6 139.5 131.6 140.0 131.5 140.5 131.5 141.0 131.5 141.5 131.5 142.0 131.5 142.5 131.5 143.0 131.5 143.5 131.5 144.0 131.5 144.5 131.5 145.0 131.4 145.5 131.4 146.0 131.4 146.5 131.4 147.0 131.4 147.5 131.4 148.0 131.3 148.5 131.3 149.0 131.3 149.5 131.3 150.0 131.3 150.5 131.3 151.0 131.2 151.5 131.2 152.0 131.2 152.5 131.2 153.0 131.2 153.5 131.2 154.0 131.2 154.5 131.1 155.0 131.1 155.5 131.1 156.0 131.1 156.5 131.1 157.0 131.1 157.5 131.0 158.0 131.0 158.5 131.0 159.0 131.0 159.5 131.0 160.0 131.0 160.5 131.0 161.0 130.9 161.5 130.9 162.0 130.9 162.5 130.9 163.0 130.9 163.5 130.9 164.0 130.8 164.5 130.8 165.0 130.8 165.5 130.8 166.0 130.8 166.5 130.8 167.0 130.8 167.5 130.7 168.0 130.7 168.5 130.7 169.0 130.7 169.5 130.7 170.0 130.7 170.5 130.6 171.0 130.6 171.5 130.6 172.0 130.6 172.5 130.6 173.0 130.6 173.5 130.5 174.0 130.5 174.5 130.5 175.0 130.5 175.5 130.5 176.0 130.4 176.5 130.4 177.0 130.3 177.5 130.3 178.0 130.2 178.5 130.2 179.0 130.2 179.5 130.1 180.0 130.1 180.5 130.0 181.0 130.0 181.5 129.9 182.0 129.9 182.5 129.8 183.0 129.8 183.5 129.8 184.0 129.7 184.5 129.7 185.0 129.6 185.5 129.6 186.0 129.5 186.5 129.5 187.0 129.5 187.5 129.4 188.0 129.4 188.5 129.3 189.0 129.3 189.5 129.2 190.0 129.2 190.5 129.2 191.0 129.1 191.5 129.1 192.0 129.0 192.5 129.0 193.0 128.9 193.5 128.9 194.0 128.8 194.5 128.8 195.0 128.8 195.5 128.7 196.0 128.7 196.5 128.6 197.0 128.6 197.5 128.5 198.0 128.5 198.5 128.5 199.0 128.4 199.5 128.4 200.0 128.3 200.5 128.3 201.0 128.2 201.5 128.2 202.0 128.1 202.5 128.1 203.0 128.1 203.5 128.0 204.0 128.0 204.5 127.9 205.0 127.9 205.5 127.8 206.0 127.8 206.5 127.8 207.0 127.8 207.5 127.7 208.0 127.7 208.5 127.7 209.0 127.7 209.5 127.5 210.0 126.6 210.5 122.6 211.0 112.2 211.5 95.4 212.0 78.9 212.5 69.9 213.0 68.6 213.5 72.3 214.0 84.8 214.5 102.4 215.0 117.1 215.5 124.6 216.0 126.9 216.5 127.3 217.0 127.4 217.5 127.3 218.0 127.3 218.5 127.3 219.0 127.3 219.5 127.3 220.0 127.2 220.5 127.2 221.0 127.2 221.5 127.2 222.0 127.2 222.5 127.1 223.0 127.1 223.5 127.1 224.0 127.1 224.5 127.0 225.0 127.0 225.5 127.0 226.0 127.0 226.5 127.0 227.0 126.9 227.5 126.9 228.0 126.9 228.5 126.9 229.0 126.9 229.5 126.8 230.0 126.8 230.5 126.8 231.0 126.8 231.5 126.8 232.0 126.7 232.5 126.7 233.0 126.7 233.5 126.7 234.0 126.7 234.5 126.6 235.0 126.6 235.5 126.6 236.0 126.6 236.5 126.6 237.0 126.5 237.5 126.5 238.0 126.5 238.5 126.6 239.0 126.6 239.5 126.7 240.0 126.7 240.5 126.8 241.0 126.8 241.5 126.9 242.0 126.9 242.5 127.0 243.0 127.0 243.5 127.1 244.0 127.1 244.5 127.2 245.0 127.2 245.5 127.3 246.0 127.3 246.5 127.4 247.0 127.4 247.5 127.5 248.0 127.5 248.5 127.6 249.0 127.6 249.5 127.7 250.0 127.8 250.5 127.8 251.0 127.9 251.5 127.9 252.0 128.0 252.5 128.0 253.0 128.1 253.5 128.1 254.0 128.2 254.5 128.2 255.0 128.3 255.5 128.3 256.0 128.4 256.5 128.4 257.0 128.5 257.5 128.5 258.0 128.6 258.5 128.6 259.0 128.7 259.5 128.7 260.0 128.8 260.5 128.8 261.0 128.9 261.5 128.9 262.0 129.0 262.5 129.0 263.0 129.0 263.5 129.0 264.0 129.0 264.5 129.0 265.0 129.1 265.5 129.1 266.0 129.1 266.5 129.1 267.0 129.1 267.5 129.1 268.0 129.1 268.5 129.1 269.0 129.1 269.5 129.1 270.0 129.2 270.5 129.2 271.0 129.2 271.5 129.2 272.0 129.2 272.5 129.2 273.0 129.2 273.5 129.2 274.0 129.2 274.5 129.2 275.0 129.3 275.5 129.3 276.0 129.3 276.5 129.3 277.0 129.3 277.5 129.3 278.0 129.3 278.5 129.3 279.0 129.3 279.5 129.3 280.0 129.3 280.5 129.4 281.0 129.4 281.5 129.4 282.0 129.4 282.5 129.4 283.0 129.4 283.5 129.4 284.0 129.4 284.5 129.4 285.0 129.4 285.5 129.5 286.0 129.5 286.5 129.5 287.0 129.5 287.5 129.5 288.0 129.5 288.5 129.5 289.0 129.5 289.5 129.5 290.0 129.5 290.5 129.6 291.0 129.6 291.5 129.6 292.0 129.6 292.5 129.6 293.0 129.6 293.5 129.6 294.0 129.6 294.5 129.5 295.0 129.5 295.5 129.5 296.0 129.5 296.5 129.5 297.0 129.4 297.5 129.4 298.0 129.4 298.5 129.4 299.0 129.4 299.5 129.4 300.0 129.3 300.5 129.3 301.0 129.3 301.5 129.3 302.0 129.3 302.5 129.2 303.0 129.2 303.5 129.2 304.0 129.2 304.5 129.2 305.0 129.2 305.5 129.1 306.0 129.1 306.5 129.1 307.0 129.1 307.5 129.1 308.0 129.0 308.5 129.0 309.0 129.0 309.5 129.0 310.0 129.0 310.5 128.9 311.0 128.9 311.5 128.9 312.0 128.9 312.5 128.9 313.0 128.8 313.5 128.8 314.0 128.8 314.5 128.8 315.0 128.8 315.5 128.8 316.0 128.7 316.5 128.7 317.0 128.7 317.5 128.7 318.0 128.7 318.5 128.6 319.0 128.6 319.5 128.6 320.0 128.6 320.5 128.6 321.0 128.6 321.5 128.5 322.0 128.5 322.5 128.5 323.0 128.5 323.5 128.5 324.0 128.4 324.5 128.4 325.0 128.4 325.5 128.4 326.0 128.4 326.5 128.4 327.0 128.4 327.5 128.4 328.0 128.5 328.5 128.5 329.0 128.5 329.5 128.5 330.0 128.5 330.5 128.5 331.0 128.5 331.5 128.5 332.0 128.5 332.5 128.5 333.0 128.6 333.5 128.6 334.0 128.6 334.5 128.6 335.0 128.4 335.5 127.8 336.0 126.4 336.5 124.4 337.0 122.6 337.5 121.7 338.0 121.7 338.5 122.3 339.0 124.0 339.5 126.1 340.0 127.7 340.5 128.5 341.0 128.7 341.5 128.7 342.0 128.7 342.5 128.7 343.0 128.7 343.5 128.8 344.0 128.8 344.5 128.8 345.0 128.8 345.5 128.8 346.0 128.8 346.5 128.8 347.0 128.8 347.5 128.8 348.0 128.8 348.5 128.9 349.0 128.9 349.5 128.9 350.0 128.9 350.5 128.9 351.0 128.9 351.5 128.9 352.0 128.9 352.5 128.9 353.0 128.9 353.5 129.0 354.0 129.0 354.5 129.0 355.0 129.0 355.5 129.0 356.0 129.0 356.5 129.0 357.0 129.1 357.5 129.1 358.0 129.1 358.5 129.1 359.0 129.2 359.5 129.2 360.0 129.2 360.5 129.2 361.0 129.2 361.5 129.3 362.0 129.3 362.5 129.3 363.0 129.3 363.5 129.4 364.0 129.4 364.5 129.4 365.0 129.4 365.5 129.5 366.0 129.5 366.5 129.5 367.0 129.6 367.5 129.6 368.0 129.6 368.5 129.6 369.0 129.7 369.5 129.7 370.0 129.7 370.5 129.7 371.0 129.8 371.5 129.8 372.0 129.8 372.5 129.8 373.0 129.8 373.5 129.9 374.0 129.9 374.5 129.9 375.0 129.9 375.5 130.0 376.0 130.0 376.5 130.0 377.0 130.0 377.5 130.1 378.0 130.1 378.5 130.1 379.0 130.2 379.5 130.2 380.0 130.2 380.5 130.2 381.0 130.2 381.5 130.3 382.0 130.3 382.5 130.3 383.0 130.3 383.5 130.4 384.0 130.4 384.5 130.4 385.0 130.4 385.5 130.5 386.0 130.5 386.5 130.5 387.0 130.5 387.5 130.6 388.0 130.6 388.5 130.6 389.0 130.5 389.5 130.5 390.0 130.5 390.5 130.4 391.0 130.4 391.5 130.4 392.0 130.3 392.5 130.3 393.0 130.3 393.5 130.2 394.0 130.2 394.5 130.2 395.0 130.1 395.5 130.1 396.0 130.1 396.5 130.0 397.0 130.0 397.5 129.9 398.0 129.9 398.5 129.9 399.0 129.8 399.5 129.8 400.0 129.8 400.5 129.7 401.0 129.7 401.5 129.7 402.0 129.6 402.5 129.6 403.0 129.6 403.5 129.5 404.0 129.5 404.5 129.5 405.0 129.4 405.5 129.4 406.0 129.4 406.5 129.3 407.0 129.3 407.5 129.3 408.0 129.2 408.5 129.2 409.0 129.2 409.5 129.1 410.0 129.1 410.5 129.1 411.0 129.0 411.5 129.0 412.0 128.9 412.5 128.9 413.0 128.9 413.5 128.8 414.0 128.8 414.5 128.8 415.0 128.7 415.5 128.7 416.0 128.7 416.5 128.6 417.0 128.6 417.5 128.6 418.0 128.5 418.5 128.5 419.0 128.5 419.5 128.4 420.0 128.4 420.5 128.5 421.0 128.5 421.5 128.6 422.0 128.6 422.5 128.7 423.0 128.7 423.5 128.8 424.0 128.8 424.5 128.9 425.0 128.9 425.5 129.0 426.0 129.0 426.5 129.1 427.0 129.1 427.5 129.2 428.0 129.2 428.5 129.3 429.0 129.3 429.5 129.4 430.0 129.4 430.5 129.5 431.0 129.6 431.5 129.6 432.0 129.7 432.5 129.7 433.0 129.8 433.5 129.8 434.0 129.9 434.5 129.9 435.0 130.0 435.5 130.0 436.0 130.1 436.5 130.1 437.0 130.2 437.5 130.2 438.0 130.3 438.5 130.3 439.0 130.4 439.5 130.4 440.0 130.5 440.5 130.5 441.0 130.6 441.5 130.6 442.0 130.7 442.5 130.7 443.0 130.7 443.5 130.8 444.0 130.8 444.5 130.8 445.0 130.9 445.5 130.9 446.0 130.9 446.5 131.0 447.0 131.0 447.5 131.0 448.0 131.1 448.5 131.1 449.0 131.2 449.5 131.2 450.0 131.2 450.5 131.3 451.0 131.3 451.5 131.3 452.0 131.4 452.5 131.4 453.0 131.4 453.5 131.5 454.0 131.5 454.5 131.5 455.0 131.6 455.5 131.6 456.0 131.6 456.5 131.7 457.0 131.7 457.5 131.7 458.0 131.8 458.5 131.8 459.0 131.8 459.5 131.9 460.0 131.9 460.5 131.9 461.0 132.0 461.5 132.0 462.0 132.0 462.5 132.1 463.0 132.1 463.5 132.1 464.0 132.2 464.5 132.2 465.0 132.2 465.5 132.3 466.0 132.3 466.5 132.4 467.0 132.4 467.5 132.4 468.0 132.5 468.5 132.5 469.0 132.5 469.5 132.6 470.0 132.6 470.5 132.6 471.0 132.7 471.5 132.7 472.0 132.7 472.5 132.8 473.0 132.8 473.5 132.8 474.0 132.7 474.5 132.7 475.0 132.6 475.5 132.6 476.0 132.5 476.5 132.5 477.0 132.4 477.5 132.4 478.0 132.3 478.5 132.2 479.0 132.2 479.5 132.2 480.0 132.1 480.5 132.1 481.0 132.0 481.5 132.0 482.0 131.9 482.5 131.8 483.0 131.8 483.5 131.8 484.0 131.7 484.5 131.7 485.0 131.6 485.5 131.6 486.0 131.5 486.5 131.5 487.0 131.4 487.5 131.3 488.0 131.3 488.5 131.2 489.0 131.2 489.5 131.2 490.0 131.1 490.5 131.1 491.0 131.0 491.5 130.9 492.0 130.9 492.5 130.8 493.0 130.8 493.5 130.8 494.0 130.7 494.5 130.7 495.0 130.6 495.5 130.6 496.0 130.5 496.5 130.4 497.0 130.4 497.5 130.3 498.0 130.3 498.5 130.2 499.0 130.2 499.5 130.2 500.0 130.1 500.5 130.0 501.0 130.0 501.5 129.9 502.0 129.9 502.5 129.8 503.0 129.8 503.5 129.8 504.0 129.7 504.5 129.7 505.0 129.6 505.5 129.6 506.0 129.5 506.5 129.5 507.0 129.5 507.5 129.4 508.0 129.4 508.5 129.4 509.0 129.3 509.5 129.3 510.0 129.3 510.5 129.2 511.0 129.2 511.5 129.2 512.0 129.1 512.5 129.1 513.0 129.1 513.5 129.1 514.0 129.0 514.5 129.0 515.0 129.0 515.5 128.9 516.0 128.9 516.5 128.9 517.0 128.8 517.5 128.8 518.0 128.8 518.5 128.7 519.0 128.7 519.5 128.7 520.0 128.6 520.5 128.6 521.0 128.6 521.5 128.5 522.0 128.5 522.5 128.5 523.0 128.4 523.5 128.4 524.0 128.4 524.5 128.3 525.0 128.3 525.5 128.3 526.0 128.2 526.5 128.2 527.0 128.2 527.5 128.1 528.0 128.1 528.5 128.1 529.0 128.1 529.5 128.0 530.0 128.0 530.5 128.0 531.0 127.9 531.5 127.9 532.0 127.8 532.5 127.7 533.0 126.9 533.5 123.8 534.0 116.5 534.5 105.9 535.0 96.4 535.5 92.0 536.0 91.7 536.5 95.0 537.0 103.6 537.5 114.5 538.0 122.6 538.5 126.4 539.0 127.5 539.5 127.7 540.0 127.7 540.5 127.7 541.0 127.7 541.5 127.7 542.0 127.7 542.5 127.8 543.0 127.8 543.5 127.8 544.0 127.8 544.5 127.8 545.0 127.8 545.5 127.8 546.0 127.8 546.5 127.9 547.0 127.9 547.5 127.9 548.0 127.9 548.5 127.9 549.0 127.9 549.5 127.9 550.0 128.0 550.5 128.0 551.0 128.0 551.5 128.0 552.0 128.0 552.5 128.0 553.0 128.0 553.5 128.0 554.0 128.1 554.5 128.1 555.0 128.1 555.5 128.1 556.0 128.1 556.5 128.1 557.0 128.1 557.5 128.1 558.0 128.2 558.5 128.2 559.0 128.2 559.5 128.2 560.0 128.2 560.5 128.2 561.0 128.2 561.5 128.2 562.0 128.2 562.5 128.3 563.0 128.3 563.5 128.3 564.0 128.3 564.5 128.3 565.0 128.3 565.5 128.3 566.0 128.3 566.5 128.4 567.0 128.4 567.5 128.4 568.0 128.4 568.5 128.5 569.0 128.5 569.5 128.6 570.0 128.7 570.5 128.8 571.0 128.8 571.5 128.9 572.0 129.0 572.5 129.0 573.0 129.1 573.5 129.2 574.0 129.2 574.5 129.3 575.0 129.4 575.5 129.5 576.0 129.5 576.5 129.6 577.0 129.7 577.5 129.7 578.0 129.8 578.5 129.9 579.0 129.9 579.5 130.0 580.0 130.1 580.5 130.2 581.0 130.2 581.5 130.3 582.0 130.4 582.5 130.4 583.0 130.5 583.5 130.6 584.0 130.7 584.5 130.7 585.0 130.8 585.5 130.9 586.0 130.9 586.5 131.0 587.0 131.1 587.5 131.1 588.0 131.2 588.5 131.3 589.0 131.4 589.5 131.4 590.0 131.5 590.5 131.6 591.0 131.7 591.5 131.8 592.0 131.9 592.5 132.0 593.0 132.1 593.5 132.2 594.0 132.2 594.5 132.3 595.0 132.4 595.5 132.5 596.0 132.6 596.5 132.7 597.0 132.8" fill="none" stroke="#3c78c0" stroke-width="1.1" stroke-linejoin="round"/>
<path d="M209.0 127.5 209.3 127.3 209.5 126.8 209.8 125.7 210.0 123.9 210.3 121.0 210.5 116.7 210.8 111.0 211.0 104.0 211.3 96.3 211.5 88.5 211.8 81.4 212.0 75.7 212.3 71.7 212.5 69.4 212.8 68.6 213.0 68.6 213.3 69.2 213.5 71.3 213.8 75.1 214.0 80.7 214.3 87.6 214.5 95.4 214.8 103.1 215.0 110.2 215.3 116.0 215.5 120.4 215.8 123.5 216.0 125.4 216.3 126.4 216.5 127.0 216.8 127.2Z" fill="#9ec2ea" fill-opacity="0.8" stroke="#3f78c0" stroke-width="1.1" stroke-linejoin="round"/>
<path d="M531.9 127.8 532.2 127.6 532.4 127.3 532.7 126.7 532.9 125.5 533.2 123.7 533.4 121.1 533.7 117.6 533.9 113.3 534.2 108.6 534.4 103.8 534.7 99.5 534.9 96.0 535.2 93.6 535.4 92.2 535.7 91.7 535.9 91.6 536.2 92.1 536.4 93.3 536.7 95.7 536.9 99.1 537.2 103.3 537.4 108.1 537.7 112.8 537.9 117.1 538.2 120.7 538.4 123.4 538.7 125.3 538.9 126.4 539.2 127.1 539.4 127.4 539.7 127.6Z" fill="#9ec2ea" fill-opacity="0.8" stroke="#3f78c0" stroke-width="1.1" stroke-linejoin="round"/>
<path d="M349.0 127.8 349.5 126.0 350.0 123.8 350.5 122.2 351.0 121.9 351.5 122.3 352.0 123.8 352.5 126.1 353.0 128.4 353.5 130.5 354.0 132.0 354.5 132.2 355.0 130.8 355.5 126.6 356.0 120.4 356.5 114.1 357.0 109.7 357.5 108.1 358.0 108.3 358.5 110.4 359.0 115.2 359.5 121.1 360.0 125.8 360.5 128.2" fill="#6a6ad6" fill-opacity="0.35" stroke="#2424b4" stroke-width="2.2" stroke-linejoin="round"/>
<path d="M50.0 243.3 50.5 243.3 51.0 243.3 51.5 243.3 52.0 243.4 52.5 243.4 53.0 243.4 53.5 243.4 54.0 243.4 54.5 243.4 55.0 243.4 55.5 243.4 56.0 243.4 56.5 243.4 57.0 243.4 57.5 243.4 58.0 243.5 58.5 243.5 59.0 243.5 59.5 243.5 60.0 243.5 60.5 243.5 61.0 243.5 61.5 243.5 62.0 243.5 62.5 243.5 63.0 243.5 63.5 243.5 64.0 243.6 64.5 243.6 65.0 243.6 65.5 243.6 66.0 243.6 66.5 243.6 67.0 243.6 67.5 243.6 68.0 243.6 68.5 243.6 69.0 243.6 69.5 243.7 70.0 243.7 70.5 243.7 71.0 243.7 71.5 243.7 72.0 243.7 72.5 243.7 73.0 243.7 73.5 243.7 74.0 243.7 74.5 243.7 75.0 243.7 75.5 243.8 76.0 243.8 76.5 243.8 77.0 243.8 77.5 243.8 78.0 243.8 78.5 243.8 79.0 243.8 79.5 243.8 80.0 243.8 80.5 243.8 81.0 243.8 81.5 243.9 82.0 243.9 82.5 243.9 83.0 243.9 83.5 243.9 84.0 243.9 84.5 243.9 85.0 243.9 85.5 243.9 86.0 243.9 86.5 243.9 87.0 243.9 87.5 244.0 88.0 244.0 88.5 244.0 89.0 244.0 89.5 244.0 90.0 244.0 90.5 244.1 91.0 244.2 91.5 244.3 92.0 244.4 92.5 244.5 93.0 244.6 93.5 244.7 94.0 244.8 94.5 244.9 95.0 245.0 95.5 245.1 96.0 245.2 96.5 245.3 97.0 245.4 97.5 245.5 98.0 245.6 98.5 245.7 99.0 245.8 99.5 245.9 100.0 246.0 100.5 246.1 101.0 246.2 101.5 246.3 102.0 246.4 102.5 246.5 103.0 246.6 103.5 246.7 104.0 246.8 104.5 246.9 105.0 247.0 105.5 246.9 106.0 246.8 106.5 246.8 107.0 246.7 107.5 246.6 108.0 246.5 108.5 246.4 109.0 246.3 109.5 246.2 110.0 246.2 110.5 246.1 111.0 246.0 111.5 245.9 112.0 245.8 112.5 245.8 113.0 245.7 113.5 245.6 114.0 245.5 114.5 245.4 115.0 245.3 115.5 245.2 116.0 245.2 116.5 245.1 117.0 245.0 117.5 244.9 118.0 244.8 118.5 244.8 119.0 244.7 119.5 244.6 120.0 244.5 120.5 244.5 121.0 244.4 121.5 244.4 122.0 244.3 122.5 244.3 123.0 244.2 123.5 244.2 124.0 244.2 124.5 244.1 125.0 244.1 125.5 244.0 126.0 244.0 126.5 244.0 127.0 243.9 127.5 243.9 128.0 243.8 128.5 243.8 129.0 243.8 129.5 243.7 130.0 243.7 130.5 243.6 131.0 243.6 131.5 243.5 132.0 243.5 132.5 243.5 133.0 243.4 133.5 243.4 134.0 243.3 134.5 243.3 135.0 243.2 135.5 243.2 136.0 243.2 136.5 243.1 137.0 243.1 137.5 243.0 138.0 243.0 138.5 243.0 139.0 242.9 139.5 242.9 140.0 242.8 140.5 242.8 141.0 242.8 141.5 242.7 142.0 242.7 142.5 242.6 143.0 242.6 143.5 242.5 144.0 242.5 144.5 242.5 145.0 242.4 145.5 242.4 146.0 242.3 146.5 242.3 147.0 242.2 147.5 242.2 148.0 242.2 148.5 242.1 149.0 242.1 149.5 242.0 150.0 242.0 150.5 242.0 151.0 242.0 151.5 242.0 152.0 242.0 152.5 242.0 153.0 242.0 153.5 242.0 154.0 242.0 154.5 242.0 155.0 242.0 155.5 242.0 156.0 242.0 156.5 242.0 157.0 242.0 157.5 242.0 158.0 242.0 158.5 242.0 159.0 242.0 159.5 242.0 160.0 242.0 160.5 242.0 161.0 242.0 161.5 242.0 162.0 242.0 162.5 242.0 163.0 242.0 163.5 242.0 164.0 242.0 164.5 242.0 165.0 242.0 165.5 242.0 166.0 242.0 166.5 242.0 167.0 242.0 167.5 242.0 168.0 242.0 168.5 242.0 169.0 242.0 169.5 242.0 170.0 242.0 170.5 242.0 171.0 242.0 171.5 242.0 172.0 242.0 172.5 242.0 173.0 242.0 173.5 242.0 174.0 242.0 174.5 242.0 175.0 242.0 175.5 242.0 176.0 242.0 176.5 242.0 177.0 242.0 177.5 242.0 178.0 242.0 178.5 242.0 179.0 242.0 179.5 242.0 180.0 242.0 180.5 242.0 181.0 242.0 181.5 242.0 182.0 242.0 182.5 242.0 183.0 242.0 183.5 242.1 184.0 242.1 184.5 242.2 185.0 242.2 185.5 242.3 186.0 242.4 186.5 242.4 187.0 242.5 187.5 242.5 188.0 242.6 188.5 242.6 189.0 242.7 189.5 242.8 190.0 242.8 190.5 242.9 191.0 242.9 191.5 243.0 192.0 243.1 192.5 243.1 193.0 243.2 193.5 243.2 194.0 243.3 194.5 243.4 195.0 243.4 195.5 243.5 196.0 243.5 196.5 243.6 197.0 243.6 197.5 243.7 198.0 243.8 198.5 243.8 199.0 243.9 199.5 243.9 200.0 244.0 200.5 244.1 201.0 244.1 201.5 244.2 202.0 244.2 202.5 244.3 203.0 244.4 203.5 244.4 204.0 244.5 204.5 244.5 205.0 244.6 205.5 244.6 206.0 244.7 206.5 244.8 207.0 244.8 207.5 244.9 208.0 244.9 208.5 245.0 209.0 245.1 209.5 245.1 210.0 245.2 210.5 245.2 211.0 245.3 211.5 245.4 212.0 245.4 212.5 245.5 213.0 245.5 213.5 245.6 214.0 245.6 214.5 245.7 215.0 245.8 215.5 245.8 216.0 245.9 216.5 245.9 217.0 246.0 217.5 246.0 218.0 245.9 218.5 245.9 219.0 245.9 219.5 245.8 220.0 245.8 220.5 245.8 221.0 245.7 221.5 245.7 222.0 245.7 222.5 245.6 223.0 245.6 223.5 245.6 224.0 245.5 224.5 245.5 225.0 245.5 225.5 245.4 226.0 245.4 226.5 245.4 227.0 245.3 227.5 245.3 228.0 245.3 228.5 245.2 229.0 245.2 229.5 245.2 230.0 245.1 230.5 245.1 231.0 245.1 231.5 245.0 232.0 245.0 232.5 245.0 233.0 244.9 233.5 244.9 234.0 244.9 234.5 244.8 235.0 244.8 235.5 244.8 236.0 244.7 236.5 244.7 237.0 244.7 237.5 244.6 238.0 244.6 238.5 244.6 239.0 244.5 239.5 244.5 240.0 244.5 240.5 244.4 241.0 244.4 241.5 244.4 242.0 244.3 242.5 244.3 243.0 244.3 243.5 244.2 244.0 244.2 244.5 244.2 245.0 244.1 245.5 244.1 246.0 244.1 246.5 244.0 247.0 244.0 247.5 244.0 248.0 243.9 248.5 243.9 249.0 243.9 249.5 243.8 250.0 243.8 250.5 243.8 251.0 243.8 251.5 243.8 252.0 243.9 252.5 243.9 253.0 243.9 253.5 243.9 254.0 243.9 254.5 243.9 255.0 244.0 255.5 244.0 256.0 244.0 256.5 244.0 257.0 244.0 257.5 244.0 258.0 244.0 258.5 244.1 259.0 244.1 259.5 244.1 260.0 244.1 260.5 244.1 261.0 244.1 261.5 244.1 262.0 244.2 262.5 244.2 263.0 244.2 263.5 244.2 264.0 244.2 264.5 244.2 265.0 244.3 265.5 244.3 266.0 244.3 266.5 244.3 267.0 244.3 267.5 244.3 268.0 244.3 268.5 244.4 269.0 244.4 269.5 244.4 270.0 244.4 270.5 244.4 271.0 244.4 271.5 244.5 272.0 244.5 272.5 244.5 273.0 244.5 273.5 244.5 274.0 244.5 274.5 244.5 275.0 244.6 275.5 244.6 276.0 244.6 276.5 244.6 277.0 244.6 277.5 244.6 278.0 244.6 278.5 244.7 279.0 244.7 279.5 244.7 280.0 244.7 280.5 244.7 281.0 244.7 281.5 244.8 282.0 244.8 282.5 244.8 283.0 244.8 283.5 244.8 284.0 244.7 284.5 244.7 285.0 244.7 285.5 244.7 286.0 244.6 286.5 244.6 287.0 244.6 287.5 244.6 288.0 244.5 288.5 244.5 289.0 244.5 289.5 244.5 290.0 244.4 290.5 244.4 291.0 244.4 291.5 244.4 292.0 244.3 292.5 244.3 293.0 244.3 293.5 244.2 294.0 244.2 294.5 244.2 295.0 244.2 295.5 244.1 296.0 244.1 296.5 244.1 297.0 244.1 297.5 244.0 298.0 244.0 298.5 244.0 299.0 244.0 299.5 243.9 300.0 243.9 300.5 243.9 301.0 243.8 301.5 243.8 302.0 243.8 302.5 243.8 303.0 243.7 303.5 243.7 304.0 243.7 304.5 243.7 305.0 243.6 305.5 243.6 306.0 243.6 306.5 243.6 307.0 243.5 307.5 243.5 308.0 243.5 308.5 243.4 309.0 243.4 309.5 243.4 310.0 243.4 310.5 243.3 311.0 243.3 311.5 243.3 312.0 243.3 312.5 243.2 313.0 243.2 313.5 243.2 314.0 243.2 314.5 243.1 315.0 243.1 315.5 243.1 316.0 243.1 316.5 243.0 317.0 243.0 317.5 243.0 318.0 243.0 318.5 243.0 319.0 243.1 319.5 243.1 320.0 243.1 320.5 243.1 321.0 243.1 321.5 243.1 322.0 243.2 322.5 243.2 323.0 243.2 323.5 243.2 324.0 243.2 324.5 243.2 325.0 243.2 325.5 243.3 326.0 243.3 326.5 243.3 327.0 243.3 327.5 243.3 328.0 243.3 328.5 243.3 329.0 243.4 329.5 243.4 330.0 243.4 330.5 243.4 331.0 243.4 331.5 243.4 332.0 243.5 332.5 243.5 333.0 243.5 333.5 243.5 334.0 243.5 334.5 243.5 335.0 243.5 335.5 243.6 336.0 243.6 336.5 243.6 337.0 243.6 337.5 243.6 338.0 243.6 338.5 243.7 339.0 243.7 339.5 243.7 340.0 243.7 340.5 243.7 341.0 243.7 341.5 243.7 342.0 243.8 342.5 243.8 343.0 243.8 343.5 243.8 344.0 243.8 344.5 243.8 345.0 243.8 345.5 243.9 346.0 243.9 346.5 243.9 347.0 243.9 347.5 243.9 348.0 243.9 348.5 244.0 349.0 244.0 349.5 244.0 350.0 244.0 350.5 244.0 351.0 244.0 351.5 244.0 352.0 244.0 352.5 244.1 353.0 244.1 353.5 244.1 354.0 244.1 354.5 244.1 355.0 244.1 355.5 244.1 356.0 244.1 356.5 244.1 357.0 244.1 357.5 244.2 358.0 244.2 358.5 244.2 359.0 244.2 359.5 244.2 360.0 244.2 360.5 244.2 361.0 244.2 361.5 244.2 362.0 244.2 362.5 244.2 363.0 244.3 363.5 244.3 364.0 244.3 364.5 244.3 365.0 244.3 365.5 244.3 366.0 244.3 366.5 244.3 367.0 244.3 367.5 244.3 368.0 244.4 368.5 244.4 369.0 244.4 369.5 244.4 370.0 244.4 370.5 244.4 371.0 244.4 371.5 244.4 372.0 244.4 372.5 244.4 373.0 244.5 373.5 244.5 374.0 244.5 374.5 244.5 375.0 244.5 375.5 244.5 376.0 244.5 376.5 244.5 377.0 244.5 377.5 244.6 378.0 244.6 378.5 244.6 379.0 244.6 379.5 244.6 380.0 244.6 380.5 244.6 381.0 244.6 381.5 244.6 382.0 244.6 382.5 244.7 383.0 244.7 383.5 244.7 384.0 244.7 384.5 244.7 385.0 244.7 385.5 244.7 386.0 244.7 386.5 244.7 387.0 244.7 387.5 244.8 388.0 244.8 388.5 244.8 389.0 244.8 389.5 244.8 390.0 244.8 390.5 244.8 391.0 244.8 391.5 244.8 392.0 244.8 392.5 244.8 393.0 244.9 393.5 244.9 394.0 244.9 394.5 244.9 395.0 244.9 395.5 244.9 396.0 244.9 396.5 244.9 397.0 244.9 397.5 244.9 398.0 245.0 398.5 245.0 399.0 245.0 399.5 245.0 400.0 245.0 400.5 245.0 401.0 245.0 401.5 245.0 402.0 245.0 402.5 245.0 403.0 245.0 403.5 245.0 404.0 245.0 404.5 245.0 405.0 245.1 405.5 245.1 406.0 245.1 406.5 245.1 407.0 245.1 407.5 245.1 408.0 245.1 408.5 245.1 409.0 245.1 409.5 245.1 410.0 245.1 410.5 245.1 411.0 245.1 411.5 245.1 412.0 245.1 412.5 245.1 413.0 245.1 413.5 245.1 414.0 245.1 414.5 245.1 415.0 245.2 415.5 245.2 416.0 245.2 416.5 245.2 417.0 245.2 417.5 245.2 418.0 245.2 418.5 245.2 419.0 245.2 419.5 245.2 420.0 245.2 420.5 245.2 421.0 245.2 421.5 245.2 422.0 245.2 422.5 245.2 423.0 245.2 423.5 245.2 424.0 245.2 424.5 245.2 425.0 245.2 425.5 245.3 426.0 245.3 426.5 245.3 427.0 245.3 427.5 245.3 428.0 245.3 428.5 245.3 429.0 245.3 429.5 245.3 430.0 245.3 430.5 245.3 431.0 245.3 431.5 245.3 432.0 245.3 432.5 245.3 433.0 245.3 433.5 245.3 434.0 245.3 434.5 245.3 435.0 245.3 435.5 245.4 436.0 245.4 436.5 245.4 437.0 245.4 437.5 245.4 438.0 245.4 438.5 245.4 439.0 245.4 439.5 245.4 440.0 245.4 440.5 245.4 441.0 245.4 441.5 245.4 442.0 245.4 442.5 245.4 443.0 245.4 443.5 245.4 444.0 245.4 444.5 245.4 445.0 245.4 445.5 245.5 446.0 245.5 446.5 245.5 447.0 245.5 447.5 245.5 448.0 245.5 448.5 245.5 449.0 245.5 449.5 245.5 450.0 245.5 450.5 245.5 451.0 245.5 451.5 245.5 452.0 245.5 452.5 245.5 453.0 245.5 453.5 245.5 454.0 245.5 454.5 245.5 455.0 245.4 455.5 245.4 456.0 245.4 456.5 245.4 457.0 245.4 457.5 245.4 458.0 245.4 458.5 245.4 459.0 245.4 459.5 245.4 460.0 245.4 460.5 245.4 461.0 245.4 461.5 245.4 462.0 245.4 462.5 245.4 463.0 245.4 463.5 245.4 464.0 245.4 464.5 245.4 465.0 245.3 465.5 245.3 466.0 245.3 466.5 245.3 467.0 245.3 467.5 245.3 468.0 245.3 468.5 245.3 469.0 245.3 469.5 245.3 470.0 245.3 470.5 245.3 471.0 245.3 471.5 245.3 472.0 245.3 472.5 245.3 473.0 245.3 473.5 245.3 474.0 245.3 474.5 245.3 475.0 245.2 475.5 245.2 476.0 245.2 476.5 245.2 477.0 245.2 477.5 245.2 478.0 245.2 478.5 245.2 479.0 245.2 479.5 245.2 480.0 245.2 480.5 245.2 481.0 245.2 481.5 245.2 482.0 245.2 482.5 245.2 483.0 245.2 483.5 245.2 484.0 245.2 484.5 245.2 485.0 245.2 485.5 245.1 486.0 245.1 486.5 245.1 487.0 245.1 487.5 245.1 488.0 245.1 488.5 245.1 489.0 245.1 489.5 245.1 490.0 245.1 490.5 245.1 491.0 245.1 491.5 245.1 492.0 245.1 492.5 245.1 493.0 245.1 493.5 245.1 494.0 245.1 494.5 245.1 495.0 245.1 495.5 245.0 496.0 245.0 496.5 245.0 497.0 245.0 497.5 245.0 498.0 245.0 498.5 245.0 499.0 245.0 499.5 245.0 500.0 245.0 500.5 245.0 501.0 245.0 501.5 245.0 502.0 245.0 502.5 245.0 503.0 245.0 503.5 245.0 504.0 245.0 504.5 245.0 505.0 245.0 505.5 245.0 506.0 245.0 506.5 245.0 507.0 245.0 507.5 245.0 508.0 245.0 508.5 245.0 509.0 245.0 509.5 245.0 510.0 245.1 510.5 245.1 511.0 245.1 511.5 245.1 512.0 245.1 512.5 245.1 513.0 245.1 513.5 245.1 514.0 245.1 514.5 245.1 515.0 245.1 515.5 245.1 516.0 245.1 516.5 245.1 517.0 245.1 517.5 245.1 518.0 245.1 518.5 245.1 519.0 245.1 519.5 245.1 520.0 245.1 520.5 245.1 521.0 245.1 521.5 245.1 522.0 245.1 522.5 245.1 523.0 245.1 523.5 245.1 524.0 245.1 524.5 245.1 525.0 245.1 525.5 245.1 526.0 245.1 526.5 245.1 527.0 245.1 527.5 245.1 528.0 245.1 528.5 245.1 529.0 245.1 529.5 245.2 530.0 245.2 530.5 245.2 531.0 245.2 531.5 245.2 532.0 245.2 532.5 245.2 533.0 245.2 533.5 245.2 534.0 245.2 534.5 245.2 535.0 245.2 535.5 245.2 536.0 245.2 536.5 245.2 537.0 245.2 537.5 245.2 538.0 245.2 538.5 245.2 539.0 245.2 539.5 245.2 540.0 245.2 540.5 245.2 541.0 245.2 541.5 245.2 542.0 245.2 542.5 245.2 543.0 245.2 543.5 245.2 544.0 245.2 544.5 245.2 545.0 245.2 545.5 245.2 546.0 245.2 546.5 245.2 547.0 245.2 547.5 245.2 548.0 245.2 548.5 245.2 549.0 245.2 549.5 245.3 550.0 245.3 550.5 245.3 551.0 245.3 551.5 245.3 552.0 245.3 552.5 245.3 553.0 245.3 553.5 245.3 554.0 245.3 554.5 245.3 555.0 245.3 555.5 245.3 556.0 245.3 556.5 245.3 557.0 245.3 557.5 245.3 558.0 245.3 558.5 245.3 559.0 245.3 559.5 245.3 560.0 245.3 560.5 245.3 561.0 245.3 561.5 245.3 562.0 245.3 562.5 245.3 563.0 245.3 563.5 245.3 564.0 245.3 564.5 245.3 565.0 245.3 565.5 245.3 566.0 245.3 566.5 245.3 567.0 245.3 567.5 245.3 568.0 245.3 568.5 245.3 569.0 245.4 569.5 245.4 570.0 245.4 570.5 245.4 571.0 245.4 571.5 245.4 572.0 245.4 572.5 245.4 573.0 245.4 573.5 245.4 574.0 245.4 574.5 245.4 575.0 245.4 575.5 245.4 576.0 245.4 576.5 245.4 577.0 245.4 577.5 245.4 578.0 245.4 578.5 245.4 579.0 245.4 579.5 245.4 580.0 245.4 580.5 245.4 581.0 245.4 581.5 245.4 582.0 245.4 582.5 245.4 583.0 245.4 583.5 245.4 584.0 245.4 584.5 245.4 585.0 245.4 585.5 245.4 586.0 245.4 586.5 245.4 587.0 245.4 587.5 245.4 588.0 245.4 588.5 245.5 589.0 245.5 589.5 245.5 590.0 245.5 590.5 245.5 591.0 245.5 591.5 245.5 592.0 245.5 592.5 245.5 593.0 245.5 593.5 245.5 594.0 245.5 594.5 245.5 595.0 245.5 595.5 245.5 596.0 245.5 596.5 245.5L596.5 254.5 596.0 254.5 595.5 254.5 595.0 254.5 594.5 254.5 594.0 254.5 593.5 254.5 593.0 254.5 592.5 254.5 592.0 254.5 591.5 254.5 591.0 254.5 590.5 254.5 590.0 254.5 589.5 254.5 589.0 254.5 588.5 254.5 588.0 254.4 587.5 254.4 587.0 254.4 586.5 254.4 586.0 254.4 585.5 254.4 585.0 254.4 584.5 254.4 584.0 254.4 583.5 254.4 583.0 254.4 582.5 254.4 582.0 254.4 581.5 254.4 581.0 254.4 580.5 254.4 580.0 254.4 579.5 254.4 579.0 254.4 578.5 254.4 578.0 254.4 577.5 254.4 577.0 254.4 576.5 254.4 576.0 254.4 575.5 254.4 575.0 254.4 574.5 254.4 574.0 254.4 573.5 254.4 573.0 254.4 572.5 254.4 572.0 254.4 571.5 254.4 571.0 254.4 570.5 254.4 570.0 254.4 569.5 254.4 569.0 254.4 568.5 254.3 568.0 254.3 567.5 254.3 567.0 254.3 566.5 254.3 566.0 254.3 565.5 254.3 565.0 254.3 564.5 254.3 564.0 254.3 563.5 254.3 563.0 254.3 562.5 254.3 562.0 254.3 561.5 254.3 561.0 254.3 560.5 254.3 560.0 254.3 559.5 254.3 559.0 254.3 558.5 254.3 558.0 254.3 557.5 254.3 557.0 254.3 556.5 254.3 556.0 254.3 555.5 254.3 555.0 254.3 554.5 254.3 554.0 254.3 553.5 254.3 553.0 254.3 552.5 254.3 552.0 254.3 551.5 254.3 551.0 254.3 550.5 254.3 550.0 254.3 549.5 254.3 549.0 254.2 548.5 254.2 548.0 254.2 547.5 254.2 547.0 254.2 546.5 254.2 546.0 254.2 545.5 254.2 545.0 254.2 544.5 254.2 544.0 254.2 543.5 254.2 543.0 254.2 542.5 254.2 542.0 254.2 541.5 254.2 541.0 254.2 540.5 254.2 540.0 254.2 539.5 254.2 539.0 254.2 538.5 254.2 538.0 254.2 537.5 254.2 537.0 254.2 536.5 254.2 536.0 254.2 535.5 254.2 535.0 254.2 534.5 254.2 534.0 254.2 533.5 254.2 533.0 254.2 532.5 254.2 532.0 254.2 531.5 254.2 531.0 254.2 530.5 254.2 530.0 254.2 529.5 254.2 529.0 254.1 528.5 254.1 528.0 254.1 527.5 254.1 527.0 254.1 526.5 254.1 526.0 254.1 525.5 254.1 525.0 254.1 524.5 254.1 524.0 254.1 523.5 254.1 523.0 254.1 522.5 254.1 522.0 254.1 521.5 254.1 521.0 254.1 520.5 254.1 520.0 254.1 519.5 254.1 519.0 254.1 518.5 254.1 518.0 254.1 517.5 254.1 517.0 254.1 516.5 254.1 516.0 254.1 515.5 254.1 515.0 254.1 514.5 254.1 514.0 254.1 513.5 254.1 513.0 254.1 512.5 254.1 512.0 254.1 511.5 254.1 511.0 254.1 510.5 254.1 510.0 254.1 509.5 254.0 509.0 254.0 508.5 254.0 508.0 254.0 507.5 254.0 507.0 254.0 506.5 254.0 506.0 254.0 505.5 254.0 505.0 254.0 504.5 254.0 504.0 254.0 503.5 254.0 503.0 254.0 502.5 254.0 502.0 254.0 501.5 254.0 501.0 254.0 500.5 254.0 500.0 254.0 499.5 254.0 499.0 254.0 498.5 254.0 498.0 254.0 497.5 254.0 497.0 254.0 496.5 254.0 496.0 254.0 495.5 254.0 495.0 254.1 494.5 254.1 494.0 254.1 493.5 254.1 493.0 254.1 492.5 254.1 492.0 254.1 491.5 254.1 491.0 254.1 490.5 254.1 490.0 254.1 489.5 254.1 489.0 254.1 488.5 254.1 488.0 254.1 487.5 254.1 487.0 254.1 486.5 254.1 486.0 254.1 485.5 254.1 485.0 254.2 484.5 254.2 484.0 254.2 483.5 254.2 483.0 254.2 482.5 254.2 482.0 254.2 481.5 254.2 481.0 254.2 480.5 254.2 480.0 254.2 479.5 254.2 479.0 254.2 478.5 254.2 478.0 254.2 477.5 254.2 477.0 254.2 476.5 254.2 476.0 254.2 475.5 254.2 475.0 254.2 474.5 254.3 474.0 254.3 473.5 254.3 473.0 254.3 472.5 254.3 472.0 254.3 471.5 254.3 471.0 254.3 470.5 254.3 470.0 254.3 469.5 254.3 469.0 254.3 468.5 254.3 468.0 254.3 467.5 254.3 467.0 254.3 466.5 254.3 466.0 254.3 465.5 254.3 465.0 254.3 464.5 254.4 464.0 254.4 463.5 254.4 463.0 254.4 462.5 254.4 462.0 254.4 461.5 254.4 461.0 254.4 460.5 254.4 460.0 254.4 459.5 254.4 459.0 254.4 458.5 254.4 458.0 254.4 457.5 254.4 457.0 254.4 456.5 254.4 456.0 254.4 455.5 254.4 455.0 254.4 454.5 254.5 454.0 254.5 453.5 254.5 453.0 254.5 452.5 254.5 452.0 254.5 451.5 254.5 451.0 254.5 450.5 254.5 450.0 254.5 449.5 254.5 449.0 254.5 448.5 254.5 448.0 254.5 447.5 254.5 447.0 254.5 446.5 254.5 446.0 254.5 445.5 254.5 445.0 254.4 444.5 254.4 444.0 254.4 443.5 254.4 443.0 254.4 442.5 254.4 442.0 254.4 441.5 254.4 441.0 254.4 440.5 254.4 440.0 254.4 439.5 254.4 439.0 254.4 438.5 254.4 438.0 254.4 437.5 254.4 437.0 254.4 436.5 254.4 436.0 254.4 435.5 254.4 435.0 254.3 434.5 254.3 434.0 254.3 433.5 254.3 433.0 254.3 432.5 254.3 432.0 254.3 431.5 254.3 431.0 254.3 430.5 254.3 430.0 254.3 429.5 254.3 429.0 254.3 428.5 254.3 428.0 254.3 427.5 254.3 427.0 254.3 426.5 254.3 426.0 254.3 425.5 254.3 425.0 254.2 424.5 254.2 424.0 254.2 423.5 254.2 423.0 254.2 422.5 254.2 422.0 254.2 421.5 254.2 421.0 254.2 420.5 254.2 420.0 254.2 419.5 254.2 419.0 254.2 418.5 254.2 418.0 254.2 417.5 254.2 417.0 254.2 416.5 254.2 416.0 254.2 415.5 254.2 415.0 254.2 414.5 254.1 414.0 254.1 413.5 254.1 413.0 254.1 412.5 254.1 412.0 254.1 411.5 254.1 411.0 254.1 410.5 254.1 410.0 254.1 409.5 254.1 409.0 254.1 408.5 254.1 408.0 254.1 407.5 254.1 407.0 254.1 406.5 254.1 406.0 254.1 405.5 254.1 405.0 254.1 404.5 254.0 404.0 254.0 403.5 254.0 403.0 254.0 402.5 254.0 402.0 254.0 401.5 254.0 401.0 254.0 400.5 254.0 400.0 254.0 399.5 254.0 399.0 254.0 398.5 254.0 398.0 254.0 397.5 253.9 397.0 253.9 396.5 253.9 396.0 253.9 395.5 253.9 395.0 253.9 394.5 253.9 394.0 253.9 393.5 253.9 393.0 253.9 392.5 253.8 392.0 253.8 391.5 253.8 391.0 253.8 390.5 253.8 390.0 253.8 389.5 253.8 389.0 253.8 388.5 253.8 388.0 253.8 387.5 253.8 387.0 253.7 386.5 253.7 386.0 253.7 385.5 253.7 385.0 253.7 384.5 253.7 384.0 253.7 383.5 253.7 383.0 253.7 382.5 253.7 382.0 253.6 381.5 253.6 381.0 253.6 380.5 253.6 380.0 253.6 379.5 253.6 379.0 253.6 378.5 253.6 378.0 253.6 377.5 253.6 377.0 253.5 376.5 253.5 376.0 253.5 375.5 253.5 375.0 253.5 374.5 253.5 374.0 253.5 373.5 253.5 373.0 253.5 372.5 253.4 372.0 253.4 371.5 253.4 371.0 253.4 370.5 253.4 370.0 253.4 369.5 253.4 369.0 253.4 368.5 253.4 368.0 253.4 367.5 253.3 367.0 253.3 366.5 253.3 366.0 253.3 365.5 253.3 365.0 253.3 364.5 253.3 364.0 253.3 363.5 253.3 363.0 253.3 362.5 253.2 362.0 253.2 361.5 253.2 361.0 253.2 360.5 253.2 360.0 253.2 359.5 253.2 359.0 253.2 358.5 253.2 358.0 253.2 357.5 253.2 357.0 253.1 356.5 253.1 356.0 253.1 355.5 253.1 355.0 253.1 354.5 253.1 354.0 253.1 353.5 253.1 353.0 253.1 352.5 253.1 352.0 253.0 351.5 253.0 351.0 253.0 350.5 253.0 350.0 253.0 349.5 253.0 349.0 253.0 348.5 253.0 348.0 252.9 347.5 252.9 347.0 252.9 346.5 252.9 346.0 252.9 345.5 252.9 345.0 252.8 344.5 252.8 344.0 252.8 343.5 252.8 343.0 252.8 342.5 252.8 342.0 252.8 341.5 252.7 341.0 252.7 340.5 252.7 340.0 252.7 339.5 252.7 339.0 252.7 338.5 252.7 338.0 252.6 337.5 252.6 337.0 252.6 336.5 252.6 336.0 252.6 335.5 252.6 335.0 252.5 334.5 252.5 334.0 252.5 333.5 252.5 333.0 252.5 332.5 252.5 332.0 252.5 331.5 252.4 331.0 252.4 330.5 252.4 330.0 252.4 329.5 252.4 329.0 252.4 328.5 252.3 328.0 252.3 327.5 252.3 327.0 252.3 326.5 252.3 326.0 252.3 325.5 252.3 325.0 252.2 324.5 252.2 324.0 252.2 323.5 252.2 323.0 252.2 322.5 252.2 322.0 252.2 321.5 252.1 321.0 252.1 320.5 252.1 320.0 252.1 319.5 252.1 319.0 252.1 318.5 252.0 318.0 252.0 317.5 252.0 317.0 252.0 316.5 252.0 316.0 252.1 315.5 252.1 315.0 252.1 314.5 252.1 314.0 252.2 313.5 252.2 313.0 252.2 312.5 252.2 312.0 252.3 311.5 252.3 311.0 252.3 310.5 252.3 310.0 252.4 309.5 252.4 309.0 252.4 308.5 252.4 308.0 252.5 307.5 252.5 307.0 252.5 306.5 252.6 306.0 252.6 305.5 252.6 305.0 252.6 304.5 252.7 304.0 252.7 303.5 252.7 303.0 252.7 302.5 252.8 302.0 252.8 301.5 252.8 301.0 252.8 300.5 252.9 300.0 252.9 299.5 252.9 299.0 253.0 298.5 253.0 298.0 253.0 297.5 253.0 297.0 253.1 296.5 253.1 296.0 253.1 295.5 253.1 295.0 253.2 294.5 253.2 294.0 253.2 293.5 253.2 293.0 253.3 292.5 253.3 292.0 253.3 291.5 253.4 291.0 253.4 290.5 253.4 290.0 253.4 289.5 253.5 289.0 253.5 288.5 253.5 288.0 253.5 287.5 253.6 287.0 253.6 286.5 253.6 286.0 253.6 285.5 253.7 285.0 253.7 284.5 253.7 284.0 253.7 283.5 253.8 283.0 253.8 282.5 253.8 282.0 253.8 281.5 253.8 281.0 253.7 280.5 253.7 280.0 253.7 279.5 253.7 279.0 253.7 278.5 253.7 278.0 253.6 277.5 253.6 277.0 253.6 276.5 253.6 276.0 253.6 275.5 253.6 275.0 253.6 274.5 253.5 274.0 253.5 273.5 253.5 273.0 253.5 272.5 253.5 272.0 253.5 271.5 253.5 271.0 253.4 270.5 253.4 270.0 253.4 269.5 253.4 269.0 253.4 268.5 253.4 268.0 253.3 267.5 253.3 267.0 253.3 266.5 253.3 266.0 253.3 265.5 253.3 265.0 253.3 264.5 253.2 264.0 253.2 263.5 253.2 263.0 253.2 262.5 253.2 262.0 253.2 261.5 253.1 261.0 253.1 260.5 253.1 260.0 253.1 259.5 253.1 259.0 253.1 258.5 253.1 258.0 253.0 257.5 253.0 257.0 253.0 256.5 253.0 256.0 253.0 255.5 253.0 255.0 253.0 254.5 252.9 254.0 252.9 253.5 252.9 253.0 252.9 252.5 252.9 252.0 252.9 251.5 252.8 251.0 252.8 250.5 252.8 250.0 252.8 249.5 252.8 249.0 252.9 248.5 252.9 248.0 252.9 247.5 253.0 247.0 253.0 246.5 253.0 246.0 253.1 245.5 253.1 245.0 253.1 244.5 253.2 244.0 253.2 243.5 253.2 243.0 253.3 242.5 253.3 242.0 253.3 241.5 253.4 241.0 253.4 240.5 253.4 240.0 253.5 239.5 253.5 239.0 253.5 238.5 253.6 238.0 253.6 237.5 253.6 237.0 253.7 236.5 253.7 236.0 253.7 235.5 253.8 235.0 253.8 234.5 253.8 234.0 253.9 233.5 253.9 233.0 253.9 232.5 254.0 232.0 254.0 231.5 254.0 231.0 254.1 230.5 254.1 230.0 254.1 229.5 254.2 229.0 254.2 228.5 254.2 228.0 254.3 227.5 254.3 227.0 254.3 226.5 254.4 226.0 254.4 225.5 254.4 225.0 254.5 224.5 254.5 224.0 254.5 223.5 254.6 223.0 254.6 222.5 254.6 222.0 254.7 221.5 254.7 221.0 254.7 220.5 254.8 220.0 254.8 219.5 254.8 219.0 254.9 218.5 254.9 218.0 254.9 217.5 255.0 217.0 255.0 216.5 254.9 216.0 254.9 215.5 254.8 215.0 254.8 214.5 254.7 214.0 254.6 213.5 254.6 213.0 254.5 212.5 254.5 212.0 254.4 211.5 254.4 211.0 254.3 210.5 254.2 210.0 254.2 209.5 254.1 209.0 254.1 208.5 254.0 208.0 253.9 207.5 253.9 207.0 253.8 206.5 253.8 206.0 253.7 205.5 253.6 205.0 253.6 204.5 253.5 204.0 253.5 203.5 253.4 203.0 253.4 202.5 253.3 202.0 253.2 201.5 253.2 201.0 253.1 200.5 253.1 200.0 253.0 199.5 252.9 199.0 252.9 198.5 252.8 198.0 252.8 197.5 252.7 197.0 252.6 196.5 252.6 196.0 252.5 195.5 252.5 195.0 252.4 194.5 252.4 194.0 252.3 193.5 252.2 193.0 252.2 192.5 252.1 192.0 252.1 191.5 252.0 191.0 251.9 190.5 251.9 190.0 251.8 189.5 251.8 189.0 251.7 188.5 251.6 188.0 251.6 187.5 251.5 187.0 251.5 186.5 251.4 186.0 251.4 185.5 251.3 185.0 251.2 184.5 251.2 184.0 251.1 183.5 251.1 183.0 251.0 182.5 251.0 182.0 251.0 181.5 251.0 181.0 251.0 180.5 251.0 180.0 251.0 179.5 251.0 179.0 251.0 178.5 251.0 178.0 251.0 177.5 251.0 177.0 251.0 176.5 251.0 176.0 251.0 175.5 251.0 175.0 251.0 174.5 251.0 174.0 251.0 173.5 251.0 173.0 251.0 172.5 251.0 172.0 251.0 171.5 251.0 171.0 251.0 170.5 251.0 170.0 251.0 169.5 251.0 169.0 251.0 168.5 251.0 168.0 251.0 167.5 251.0 167.0 251.0 166.5 251.0 166.0 251.0 165.5 251.0 165.0 251.0 164.5 251.0 164.0 251.0 163.5 251.0 163.0 251.0 162.5 251.0 162.0 251.0 161.5 251.0 161.0 251.0 160.5 251.0 160.0 251.0 159.5 251.0 159.0 251.0 158.5 251.0 158.0 251.0 157.5 251.0 157.0 251.0 156.5 251.0 156.0 251.0 155.5 251.0 155.0 251.0 154.5 251.0 154.0 251.0 153.5 251.0 153.0 251.0 152.5 251.0 152.0 251.0 151.5 251.0 151.0 251.0 150.5 251.0 150.0 251.0 149.5 251.0 149.0 251.1 148.5 251.1 148.0 251.2 147.5 251.2 147.0 251.2 146.5 251.3 146.0 251.3 145.5 251.4 145.0 251.4 144.5 251.5 144.0 251.5 143.5 251.5 143.0 251.6 142.5 251.6 142.0 251.7 141.5 251.7 141.0 251.8 140.5 251.8 140.0 251.8 139.5 251.9 139.0 251.9 138.5 252.0 138.0 252.0 137.5 252.0 137.0 252.1 136.5 252.1 136.0 252.2 135.5 252.2 135.0 252.2 134.5 252.3 134.0 252.3 133.5 252.4 133.0 252.4 132.5 252.5 132.0 252.5 131.5 252.5 131.0 252.6 130.5 252.6 130.0 252.7 129.5 252.7 129.0 252.8 128.5 252.8 128.0 252.8 127.5 252.9 127.0 252.9 126.5 253.0 126.0 253.0 125.5 253.0 125.0 253.1 124.5 253.1 124.0 253.2 123.5 253.2 123.0 253.2 122.5 253.3 122.0 253.3 121.5 253.4 121.0 253.4 120.5 253.5 120.0 253.5 119.5 253.6 119.0 253.7 118.5 253.8 118.0 253.8 117.5 253.9 117.0 254.0 116.5 254.1 116.0 254.2 115.5 254.2 115.0 254.3 114.5 254.4 114.0 254.5 113.5 254.6 113.0 254.7 112.5 254.8 112.0 254.8 111.5 254.9 111.0 255.0 110.5 255.1 110.0 255.2 109.5 255.2 109.0 255.3 108.5 255.4 108.0 255.5 107.5 255.6 107.0 255.7 106.5 255.8 106.0 255.8 105.5 255.9 105.0 256.0 104.5 255.9 104.0 255.8 103.5 255.7 103.0 255.6 102.5 255.5 102.0 255.4 101.5 255.3 101.0 255.2 100.5 255.1 100.0 255.0 99.5 254.9 99.0 254.8 98.5 254.7 98.0 254.6 97.5 254.5 97.0 254.4 96.5 254.3 96.0 254.2 95.5 254.1 95.0 254.0 94.5 253.9 94.0 253.8 93.5 253.7 93.0 253.6 92.5 253.5 92.0 253.4 91.5 253.3 91.0 253.2 90.5 253.1 90.0 253.0 89.5 253.0 89.0 253.0 88.5 253.0 88.0 253.0 87.5 253.0 87.0 252.9 86.5 252.9 86.0 252.9 85.5 252.9 85.0 252.9 84.5 252.9 84.0 252.9 83.5 252.9 83.0 252.9 82.5 252.9 82.0 252.9 81.5 252.9 81.0 252.8 80.5 252.8 80.0 252.8 79.5 252.8 79.0 252.8 78.5 252.8 78.0 252.8 77.5 252.8 77.0 252.8 76.5 252.8 76.0 252.8 75.5 252.8 75.0 252.7 74.5 252.7 74.0 252.7 73.5 252.7 73.0 252.7 72.5 252.7 72.0 252.7 71.5 252.7 71.0 252.7 70.5 252.7 70.0 252.7 69.5 252.7 69.0 252.6 68.5 252.6 68.0 252.6 67.5 252.6 67.0 252.6 66.5 252.6 66.0 252.6 65.5 252.6 65.0 252.6 64.5 252.6 64.0 252.6 63.5 252.5 63.0 252.5 62.5 252.5 62.0 252.5 61.5 252.5 61.0 252.5 60.5 252.5 60.0 252.5 59.5 252.5 59.0 252.5 58.5 252.5 58.0 252.5 57.5 252.4 57.0 252.4 56.5 252.4 56.0 252.4 55.5 252.4 55.0 252.4 54.5 252.4 54.0 252.4 53.5 252.4 53.0 252.4 52.5 252.4 52.0 252.4 51.5 252.3 51.0 252.3 50.5 252.3 50.0 252.3Z" fill="#ececec" stroke="#aaa" stroke-width="0.5"/>
<path d="M50.0 244.8 50.5 244.8 51.0 244.8 51.5 244.8 52.0 244.9 52.5 244.9 53.0 244.9 53.5 244.9 54.0 244.9 54.5 244.9 55.0 244.9 55.5 244.9 56.0 244.9 56.5 244.9 57.0 244.9 57.5 244.9 58.0 245.0 58.5 245.0 59.0 245.0 59.5 245.0 60.0 245.0 60.5 245.0 61.0 245.0 61.5 245.0 62.0 245.0 62.5 245.0 63.0 245.0 63.5 245.0 64.0 245.1 64.5 245.1 65.0 245.1 65.5 245.1 66.0 245.1 66.5 245.1 67.0 245.1 67.5 245.1 68.0 245.1 68.5 245.1 69.0 245.1 69.5 245.2 70.0 245.2 70.5 245.2 71.0 245.2 71.5 245.2 72.0 245.2 72.5 245.2 73.0 245.2 73.5 245.2 74.0 245.2 74.5 245.2 75.0 245.2 75.5 245.3 76.0 245.3 76.5 245.3 77.0 245.3 77.5 245.3 78.0 245.3 78.5 245.3 79.0 245.3 79.5 245.3 80.0 245.3 80.5 245.3 81.0 245.3 81.5 245.4 82.0 245.4 82.5 245.4 83.0 245.4 83.5 245.4 84.0 245.4 84.5 245.4 85.0 245.4 85.5 245.4 86.0 245.4 86.5 245.4 87.0 245.4 87.5 245.5 88.0 245.5 88.5 245.5 89.0 245.5 89.5 245.5 90.0 245.5 90.5 245.6 91.0 245.7 91.5 245.8 92.0 245.9 92.5 246.0 93.0 246.1 93.5 246.2 94.0 246.3 94.5 246.4 95.0 246.5 95.5 246.6 96.0 246.7 96.5 246.8 97.0 246.9 97.5 247.0 98.0 247.1 98.5 247.2 99.0 247.3 99.5 247.4 100.0 247.5 100.5 247.6 101.0 247.7 101.5 247.8 102.0 247.9 102.5 248.0 103.0 248.1 103.5 248.2 104.0 248.3 104.5 248.4 105.0 248.5 105.5 248.4 106.0 248.3 106.5 248.2 107.0 248.2 107.5 248.1 108.0 248.0 108.5 247.9 109.0 247.8 109.5 247.8 110.0 247.7 110.5 247.6 111.0 247.5 111.5 247.4 112.0 247.3 112.5 247.2 113.0 247.2 113.5 247.1 114.0 247.0 114.5 246.9 115.0 246.8 115.5 246.8 116.0 246.7 116.5 246.6 117.0 246.5 117.5 246.4 118.0 246.3 118.5 246.2 119.0 246.2 119.5 246.1 120.0 246.0 120.5 246.0 121.0 245.9 121.5 245.9 122.0 245.8 122.5 245.8 123.0 245.8 123.5 245.7 124.0 245.7 124.5 245.6 125.0 245.6 125.5 245.5 126.0 245.5 126.5 245.5 127.0 245.4 127.5 245.4 128.0 245.3 128.5 245.3 129.0 245.2 129.5 245.2 130.0 245.2 130.5 245.1 131.0 245.1 131.5 245.0 132.0 245.0 132.5 245.0 133.0 244.9 133.5 244.9 134.0 244.8 134.5 244.8 135.0 244.8 135.5 244.7 136.0 244.7 136.5 244.6 137.0 244.6 137.5 244.5 138.0 244.5 138.5 244.5 139.0 244.4 139.5 244.4 140.0 244.3 140.5 244.3 141.0 244.2 141.5 244.2 142.0 244.0 142.5 243.3 143.0 241.9 143.5 239.6 144.0 236.9 144.5 234.9 145.0 234.0 145.5 233.9 146.0 234.5 146.5 236.2 147.0 238.7 147.5 241.1 148.0 242.7 148.5 243.3 149.0 243.5 149.5 243.5 150.0 243.5 150.5 243.5 151.0 243.5 151.5 243.5 152.0 243.5 152.5 243.5 153.0 243.5 153.5 243.5 154.0 243.5 154.5 243.5 155.0 243.5 155.5 243.5 156.0 243.5 156.5 243.5 157.0 243.5 157.5 243.5 158.0 243.5 158.5 243.5 159.0 243.5 159.5 243.5 160.0 243.5 160.5 243.5 161.0 243.5 161.5 243.5 162.0 243.5 162.5 243.5 163.0 243.5 163.5 243.5 164.0 243.5 164.5 243.5 165.0 243.5 165.5 243.5 166.0 243.5 166.5 243.5 167.0 243.5 167.5 243.5 168.0 243.5 168.5 243.5 169.0 243.5 169.5 243.5 170.0 243.5 170.5 243.5 171.0 243.5 171.5 243.5 172.0 243.5 172.5 243.5 173.0 243.5 173.5 243.5 174.0 243.5 174.5 243.5 175.0 243.5 175.5 243.5 176.0 243.5 176.5 243.5 177.0 243.5 177.5 243.5 178.0 243.5 178.5 243.5 179.0 243.5 179.5 243.5 180.0 243.5 180.5 243.3 181.0 242.9 181.5 242.0 182.0 241.2 182.5 240.6 183.0 240.5 183.5 240.7 184.0 241.3 184.5 242.2 185.0 243.1 185.5 243.6 186.0 243.8 186.5 243.9 187.0 244.0 187.5 244.0 188.0 244.1 188.5 244.1 189.0 244.2 189.5 244.3 190.0 244.3 190.5 244.4 191.0 244.4 191.5 244.5 192.0 244.6 192.5 244.6 193.0 244.7 193.5 244.7 194.0 244.8 194.5 244.9 195.0 244.9 195.5 245.0 196.0 245.0 196.5 245.1 197.0 245.1 197.5 245.2 198.0 245.3 198.5 245.3 199.0 245.4 199.5 245.4 200.0 245.5 200.5 245.6 201.0 245.6 201.5 245.7 202.0 245.7 202.5 245.8 203.0 245.9 203.5 245.9 204.0 246.0 204.5 246.0 205.0 246.1 205.5 246.1 206.0 246.2 206.5 246.3 207.0 246.3 207.5 246.4 208.0 246.4 208.5 246.5 209.0 246.6 209.5 246.6 210.0 246.7 210.5 246.7 211.0 246.8 211.5 246.9 212.0 246.9 212.5 247.0 213.0 247.0 213.5 247.1 214.0 247.1 214.5 247.2 215.0 247.3 215.5 247.3 216.0 247.4 216.5 247.4 217.0 247.5 217.5 247.5 218.0 247.4 218.5 247.4 219.0 247.4 219.5 247.3 220.0 247.3 220.5 247.3 221.0 247.2 221.5 247.2 222.0 247.2 222.5 247.1 223.0 247.1 223.5 247.1 224.0 247.0 224.5 247.0 225.0 247.0 225.5 246.9 226.0 246.9 226.5 246.9 227.0 246.8 227.5 246.8 228.0 246.8 228.5 246.7 229.0 246.7 229.5 246.7 230.0 246.6 230.5 246.6 231.0 246.6 231.5 246.5 232.0 246.5 232.5 246.5 233.0 246.4 233.5 246.4 234.0 246.4 234.5 246.3 235.0 246.3 235.5 246.3 236.0 246.2 236.5 246.2 237.0 246.2 237.5 246.1 238.0 246.1 238.5 246.1 239.0 246.0 239.5 246.0 240.0 246.0 240.5 245.9 241.0 245.9 241.5 245.9 242.0 245.8 242.5 245.8 243.0 245.8 243.5 245.7 244.0 245.7 244.5 245.7 245.0 245.6 245.5 245.6 246.0 245.6 246.5 245.5 247.0 245.5 247.5 245.5 248.0 245.4 248.5 245.4 249.0 245.4 249.5 245.3 250.0 245.3 250.5 245.3 251.0 245.3 251.5 245.3 252.0 245.4 252.5 245.4 253.0 245.4 253.5 245.4 254.0 245.4 254.5 245.4 255.0 245.5 255.5 245.5 256.0 245.5 256.5 245.5 257.0 245.5 257.5 245.5 258.0 245.5 258.5 245.6 259.0 245.6 259.5 245.6 260.0 245.6 260.5 245.6 261.0 245.6 261.5 245.6 262.0 245.7 262.5 245.7 263.0 245.7 263.5 245.7 264.0 245.7 264.5 245.7 265.0 245.8 265.5 245.8 266.0 245.8 266.5 245.8 267.0 245.8 267.5 245.8 268.0 245.8 268.5 245.9 269.0 245.9 269.5 245.9 270.0 245.9 270.5 245.9 271.0 245.9 271.5 246.0 272.0 246.0 272.5 246.0 273.0 246.0 273.5 246.0 274.0 246.0 274.5 246.0 275.0 246.1 275.5 246.1 276.0 246.1 276.5 246.1 277.0 246.1 277.5 246.1 278.0 246.1 278.5 246.2 279.0 246.2 279.5 246.2 280.0 246.2 280.5 246.2 281.0 246.2 281.5 246.3 282.0 246.3 282.5 246.3 283.0 246.3 283.5 246.3 284.0 246.2 284.5 246.2 285.0 246.2 285.5 246.2 286.0 246.1 286.5 246.1 287.0 246.1 287.5 246.1 288.0 246.0 288.5 246.0 289.0 246.0 289.5 246.0 290.0 245.9 290.5 245.9 291.0 245.9 291.5 245.9 292.0 245.8 292.5 245.8 293.0 245.8 293.5 245.7 294.0 245.7 294.5 245.7 295.0 245.7 295.5 245.6 296.0 245.6 296.5 245.6 297.0 245.6 297.5 245.5 298.0 245.5 298.5 245.5 299.0 245.5 299.5 245.4 300.0 245.4 300.5 245.4 301.0 245.3 301.5 245.3 302.0 245.3 302.5 245.3 303.0 245.2 303.5 245.2 304.0 245.2 304.5 245.2 305.0 245.1 305.5 245.1 306.0 245.1 306.5 245.1 307.0 245.0 307.5 245.0 308.0 245.0 308.5 244.9 309.0 244.9 309.5 244.9 310.0 244.9 310.5 244.8 311.0 244.8 311.5 244.8 312.0 244.8 312.5 244.7 313.0 244.7 313.5 244.7 314.0 244.7 314.5 244.6 315.0 244.6 315.5 244.6 316.0 244.6 316.5 244.5 317.0 244.5 317.5 244.5 318.0 244.5 318.5 244.5 319.0 244.6 319.5 244.6 320.0 244.6 320.5 244.6 321.0 244.6 321.5 244.6 322.0 244.7 322.5 244.7 323.0 244.7 323.5 244.7 324.0 244.7 324.5 244.7 325.0 244.7 325.5 244.8 326.0 244.8 326.5 244.8 327.0 244.8 327.5 244.8 328.0 244.8 328.5 244.8 329.0 244.9 329.5 244.9 330.0 244.9 330.5 244.9 331.0 244.9 331.5 244.9 332.0 245.0 332.5 245.0 333.0 245.0 333.5 245.0 334.0 245.0 334.5 245.0 335.0 245.0 335.5 245.1 336.0 245.1 336.5 245.1 337.0 245.1 337.5 245.1 338.0 245.1 338.5 245.1 339.0 245.1 339.5 244.2 340.0 240.1 340.5 229.1 341.0 211.6 341.5 195.2 342.0 187.5 342.5 187.0 343.0 192.9 343.5 208.0 344.0 226.1 344.5 238.7 345.0 243.9 345.5 245.2 346.0 245.4 346.5 245.4 347.0 245.4 347.5 245.4 348.0 245.4 348.5 245.5 349.0 245.5 349.5 245.5 350.0 245.5 350.5 245.5 351.0 245.5 351.5 245.5 352.0 245.5 352.5 245.6 353.0 245.6 353.5 245.6 354.0 245.6 354.5 245.6 355.0 245.6 355.5 245.6 356.0 245.6 356.5 245.6 357.0 245.6 357.5 245.7 358.0 245.7 358.5 245.7 359.0 245.7 359.5 245.7 360.0 245.7 360.5 245.7 361.0 245.7 361.5 245.7 362.0 245.7 362.5 245.8 363.0 245.8 363.5 245.8 364.0 245.8 364.5 245.8 365.0 245.8 365.5 245.8 366.0 245.8 366.5 245.8 367.0 245.8 367.5 245.8 368.0 245.9 368.5 245.9 369.0 245.9 369.5 245.9 370.0 245.9 370.5 245.9 371.0 245.9 371.5 245.9 372.0 245.9 372.5 245.9 373.0 246.0 373.5 246.0 374.0 246.0 374.5 246.0 375.0 246.0 375.5 246.0 376.0 246.0 376.5 246.0 377.0 246.0 377.5 246.1 378.0 246.1 378.5 246.1 379.0 246.1 379.5 246.1 380.0 246.1 380.5 246.1 381.0 246.1 381.5 246.1 382.0 246.1 382.5 246.2 383.0 246.2 383.5 246.2 384.0 246.2 384.5 246.2 385.0 246.2 385.5 246.2 386.0 246.2 386.5 246.2 387.0 246.2 387.5 246.2 388.0 246.3 388.5 246.3 389.0 246.3 389.5 246.3 390.0 246.3 390.5 246.3 391.0 246.3 391.5 246.3 392.0 246.3 392.5 246.3 393.0 246.4 393.5 246.4 394.0 246.4 394.5 246.4 395.0 246.4 395.5 246.4 396.0 246.4 396.5 246.4 397.0 246.4 397.5 246.4 398.0 246.5 398.5 246.5 399.0 246.5 399.5 246.5 400.0 246.5 400.5 246.5 401.0 246.5 401.5 246.5 402.0 246.5 402.5 246.5 403.0 246.5 403.5 246.5 404.0 246.5 404.5 246.5 405.0 246.6 405.5 246.6 406.0 246.6 406.5 246.6 407.0 246.6 407.5 246.6 408.0 246.6 408.5 246.6 409.0 246.6 409.5 246.6 410.0 246.6 410.5 246.6 411.0 246.6 411.5 246.6 412.0 246.6 412.5 246.6 413.0 246.6 413.5 246.6 414.0 246.6 414.5 246.6 415.0 246.7 415.5 246.7 416.0 246.7 416.5 246.7 417.0 246.7 417.5 246.7 418.0 246.7 418.5 246.7 419.0 246.7 419.5 246.7 420.0 246.7 420.5 246.7 421.0 246.7 421.5 246.7 422.0 246.7 422.5 246.7 423.0 246.7 423.5 246.7 424.0 246.7 424.5 246.7 425.0 246.8 425.5 246.8 426.0 246.8 426.5 246.8 427.0 246.8 427.5 246.8 428.0 246.8 428.5 246.8 429.0 246.8 429.5 246.8 430.0 246.8 430.5 246.8 431.0 246.8 431.5 246.8 432.0 246.8 432.5 246.8 433.0 246.8 433.5 246.8 434.0 246.8 434.5 246.8 435.0 246.8 435.5 246.9 436.0 246.9 436.5 246.9 437.0 246.9 437.5 246.9 438.0 246.9 438.5 246.9 439.0 246.9 439.5 246.9 440.0 246.9 440.5 246.9 441.0 246.9 441.5 246.9 442.0 246.9 442.5 246.9 443.0 246.9 443.5 246.9 444.0 246.9 444.5 246.9 445.0 246.9 445.5 247.0 446.0 247.0 446.5 247.0 447.0 247.0 447.5 247.0 448.0 247.0 448.5 247.0 449.0 247.0 449.5 247.0 450.0 247.0 450.5 247.0 451.0 247.0 451.5 247.0 452.0 247.0 452.5 247.0 453.0 247.0 453.5 247.0 454.0 247.0 454.5 247.0 455.0 246.9 455.5 246.9 456.0 246.9 456.5 246.9 457.0 246.9 457.5 246.9 458.0 246.9 458.5 246.9 459.0 246.9 459.5 246.9 460.0 246.9 460.5 246.9 461.0 246.9 461.5 246.9 462.0 246.9 462.5 246.9 463.0 246.9 463.5 246.9 464.0 246.9 464.5 246.9 465.0 246.8 465.5 246.8 466.0 246.8 466.5 246.8 467.0 246.8 467.5 246.8 468.0 246.8 468.5 246.8 469.0 246.8 469.5 246.8 470.0 246.8 470.5 246.8 471.0 246.8 471.5 246.8 472.0 246.8 472.5 246.8 473.0 246.8 473.5 246.8 474.0 246.8 474.5 246.8 475.0 246.8 475.5 246.7 476.0 246.7 476.5 246.7 477.0 246.7 477.5 246.7 478.0 246.7 478.5 246.7 479.0 246.7 479.5 246.7 480.0 246.7 480.5 246.7 481.0 246.7 481.5 246.7 482.0 246.7 482.5 246.7 483.0 246.7 483.5 246.7 484.0 246.7 484.5 246.7 485.0 246.7 485.5 246.6 486.0 246.6 486.5 246.6 487.0 246.6 487.5 246.6 488.0 246.6 488.5 246.6 489.0 246.6 489.5 246.6 490.0 246.6 490.5 246.6 491.0 246.6 491.5 246.6 492.0 246.6 492.5 246.6 493.0 246.6 493.5 246.6 494.0 246.6 494.5 246.6 495.0 246.6 495.5 246.5 496.0 246.5 496.5 246.5 497.0 246.5 497.5 246.5 498.0 246.5 498.5 246.5 499.0 246.5 499.5 246.5 500.0 246.5 500.5 246.5 501.0 246.5 501.5 246.5 502.0 246.5 502.5 246.5 503.0 246.5 503.5 246.5 504.0 246.5 504.5 246.5 505.0 246.5 505.5 246.5 506.0 246.5 506.5 246.5 507.0 246.5 507.5 246.5 508.0 246.5 508.5 246.5 509.0 246.5 509.5 246.5 510.0 246.6 510.5 246.6 511.0 246.5 511.5 246.2 512.0 244.9 512.5 240.7 513.0 232.5 513.5 222.3 514.0 214.6 514.5 211.7 515.0 211.9 515.5 215.8 516.0 224.3 516.5 234.4 517.0 241.8 517.5 245.3 518.0 246.4 518.5 246.6 519.0 246.6 519.5 246.6 520.0 246.6 520.5 246.6 521.0 246.6 521.5 246.6 522.0 246.6 522.5 246.6 523.0 246.6 523.5 246.6 524.0 246.6 524.5 246.6 525.0 246.6 525.5 246.6 526.0 246.6 526.5 246.6 527.0 246.6 527.5 246.6 528.0 246.6 528.5 246.6 529.0 246.6 529.5 246.7 530.0 246.7 530.5 246.7 531.0 246.7 531.5 246.7 532.0 246.7 532.5 246.7 533.0 246.7 533.5 246.7 534.0 246.7 534.5 246.7 535.0 246.7 535.5 246.7 536.0 246.7 536.5 246.7 537.0 246.7 537.5 246.7 538.0 246.7 538.5 246.7 539.0 246.7 539.5 246.7 540.0 246.7 540.5 246.7 541.0 246.7 541.5 246.7 542.0 246.7 542.5 246.7 543.0 246.7 543.5 246.7 544.0 246.7 544.5 246.7 545.0 246.7 545.5 246.7 546.0 246.7 546.5 246.7 547.0 246.7 547.5 246.7 548.0 246.7 548.5 246.7 549.0 246.8 549.5 246.8 550.0 246.8 550.5 246.8 551.0 246.8 551.5 246.8 552.0 246.8 552.5 246.8 553.0 246.8 553.5 246.8 554.0 246.8 554.5 246.8 555.0 246.8 555.5 246.8 556.0 246.8 556.5 246.8 557.0 246.8 557.5 246.8 558.0 246.8 558.5 246.8 559.0 246.8 559.5 246.8 560.0 246.8 560.5 246.8 561.0 246.8 561.5 246.8 562.0 246.8 562.5 246.8 563.0 246.8 563.5 246.8 564.0 246.8 564.5 246.8 565.0 246.8 565.5 246.8 566.0 246.8 566.5 246.8 567.0 246.8 567.5 246.8 568.0 246.8 568.5 246.8 569.0 246.9 569.5 246.9 570.0 246.9 570.5 246.9 571.0 246.9 571.5 246.9 572.0 246.9 572.5 246.9 573.0 246.9 573.5 246.9 574.0 246.9 574.5 246.9 575.0 246.9 575.5 246.9 576.0 246.9 576.5 246.9 577.0 246.9 577.5 246.9 578.0 246.9 578.5 246.9 579.0 246.9 579.5 246.9 580.0 246.9 580.5 246.9 581.0 246.9 581.5 246.9 582.0 246.9 582.5 246.9 583.0 246.9 583.5 246.9 584.0 246.9 584.5 246.9 585.0 246.9 585.5 246.9 586.0 246.9 586.5 246.9 587.0 246.9 587.5 246.9 588.0 246.9 588.5 247.0 589.0 247.0 589.5 247.0 590.0 247.0 590.5 247.0 591.0 247.0 591.5 247.0 592.0 247.0 592.5 247.0 593.0 247.0 593.5 247.0 594.0 247.0 594.5 247.0 595.0 247.0 595.5 247.0 596.0 247.0 596.5 247.0L596.5 253.0 596.0 253.0 595.5 253.0 595.0 253.0 594.5 253.0 594.0 253.0 593.5 253.0 593.0 253.0 592.5 253.0 592.0 253.0 591.5 253.0 591.0 253.0 590.5 253.0 590.0 253.0 589.5 253.0 589.0 253.0 588.5 253.0 588.0 252.9 587.5 252.9 587.0 252.9 586.5 252.9 586.0 252.9 585.5 252.9 585.0 252.9 584.5 252.9 584.0 252.9 583.5 252.9 583.0 252.9 582.5 252.9 582.0 252.9 581.5 252.9 581.0 252.9 580.5 252.9 580.0 252.9 579.5 252.9 579.0 252.9 578.5 252.9 578.0 252.9 577.5 252.9 577.0 252.9 576.5 252.9 576.0 252.9 575.5 252.9 575.0 252.9 574.5 252.9 574.0 252.9 573.5 252.9 573.0 252.9 572.5 252.9 572.0 252.9 571.5 252.9 571.0 252.9 570.5 252.9 570.0 252.9 569.5 252.9 569.0 252.9 568.5 252.8 568.0 252.8 567.5 252.8 567.0 252.8 566.5 252.8 566.0 252.8 565.5 252.8 565.0 252.8 564.5 252.8 564.0 252.8 563.5 252.8 563.0 252.8 562.5 252.8 562.0 252.8 561.5 252.8 561.0 252.8 560.5 252.8 560.0 252.8 559.5 252.8 559.0 252.8 558.5 252.8 558.0 252.8 557.5 252.8 557.0 252.8 556.5 252.8 556.0 252.8 555.5 252.8 555.0 252.8 554.5 252.8 554.0 252.8 553.5 252.8 553.0 252.8 552.5 252.8 552.0 252.8 551.5 252.8 551.0 252.8 550.5 252.8 550.0 252.8 549.5 252.8 549.0 252.8 548.5 252.7 548.0 252.7 547.5 252.7 547.0 252.7 546.5 252.7 546.0 252.7 545.5 252.7 545.0 252.7 544.5 252.7 544.0 252.7 543.5 252.7 543.0 252.7 542.5 252.7 542.0 252.7 541.5 252.7 541.0 252.7 540.5 252.7 540.0 252.7 539.5 252.7 539.0 252.7 538.5 252.7 538.0 252.7 537.5 252.7 537.0 252.7 536.5 252.7 536.0 252.7 535.5 252.7 535.0 252.7 534.5 252.7 534.0 252.7 533.5 252.7 533.0 252.7 532.5 252.7 532.0 252.7 531.5 252.7 531.0 252.7 530.5 252.7 530.0 252.7 529.5 252.7 529.0 252.6 528.5 252.6 528.0 252.6 527.5 252.6 527.0 252.6 526.5 252.6 526.0 252.6 525.5 252.6 525.0 252.6 524.5 252.6 524.0 252.6 523.5 252.6 523.0 252.6 522.5 252.6 522.0 252.6 521.5 252.6 521.0 252.6 520.5 252.6 520.0 252.6 519.5 252.6 519.0 252.6 518.5 252.6 518.0 252.4 517.5 251.3 517.0 247.8 516.5 240.4 516.0 230.3 515.5 221.8 515.0 217.9 514.5 217.7 514.0 220.6 513.5 228.3 513.0 238.5 512.5 246.7 512.0 250.9 511.5 252.2 511.0 252.5 510.5 252.6 510.0 252.6 509.5 252.5 509.0 252.5 508.5 252.5 508.0 252.5 507.5 252.5 507.0 252.5 506.5 252.5 506.0 252.5 505.5 252.5 505.0 252.5 504.5 252.5 504.0 252.5 503.5 252.5 503.0 252.5 502.5 252.5 502.0 252.5 501.5 252.5 501.0 252.5 500.5 252.5 500.0 252.5 499.5 252.5 499.0 252.5 498.5 252.5 498.0 252.5 497.5 252.5 497.0 252.5 496.5 252.5 496.0 252.5 495.5 252.5 495.0 252.6 494.5 252.6 494.0 252.6 493.5 252.6 493.0 252.6 492.5 252.6 492.0 252.6 491.5 252.6 491.0 252.6 490.5 252.6 490.0 252.6 489.5 252.6 489.0 252.6 488.5 252.6 488.0 252.6 487.5 252.6 487.0 252.6 486.5 252.6 486.0 252.6 485.5 252.6 485.0 252.7 484.5 252.7 484.0 252.7 483.5 252.7 483.0 252.7 482.5 252.7 482.0 252.7 481.5 252.7 481.0 252.7 480.5 252.7 480.0 252.7 479.5 252.7 479.0 252.7 478.5 252.7 478.0 252.7 477.5 252.7 477.0 252.7 476.5 252.7 476.0 252.7 475.5 252.7 475.0 252.8 474.5 252.8 474.0 252.8 473.5 252.8 473.0 252.8 472.5 252.8 472.0 252.8 471.5 252.8 471.0 252.8 470.5 252.8 470.0 252.8 469.5 252.8 469.0 252.8 468.5 252.8 468.0 252.8 467.5 252.8 467.0 252.8 466.5 252.8 466.0 252.8 465.5 252.8 465.0 252.8 464.5 252.9 464.0 252.9 463.5 252.9 463.0 252.9 462.5 252.9 462.0 252.9 461.5 252.9 461.0 252.9 460.5 252.9 460.0 252.9 459.5 252.9 459.0 252.9 458.5 252.9 458.0 252.9 457.5 252.9 457.0 252.9 456.5 252.9 456.0 252.9 455.5 252.9 455.0 252.9 454.5 253.0 454.0 253.0 453.5 253.0 453.0 253.0 452.5 253.0 452.0 253.0 451.5 253.0 451.0 253.0 450.5 253.0 450.0 253.0 449.5 253.0 449.0 253.0 448.5 253.0 448.0 253.0 447.5 253.0 447.0 253.0 446.5 253.0 446.0 253.0 445.5 253.0 445.0 252.9 444.5 252.9 444.0 252.9 443.5 252.9 443.0 252.9 442.5 252.9 442.0 252.9 441.5 252.9 441.0 252.9 440.5 252.9 440.0 252.9 439.5 252.9 439.0 252.9 438.5 252.9 438.0 252.9 437.5 252.9 437.0 252.9 436.5 252.9 436.0 252.9 435.5 252.9 435.0 252.8 434.5 252.8 434.0 252.8 433.5 252.8 433.0 252.8 432.5 252.8 432.0 252.8 431.5 252.8 431.0 252.8 430.5 252.8 430.0 252.8 429.5 252.8 429.0 252.8 428.5 252.8 428.0 252.8 427.5 252.8 427.0 252.8 426.5 252.8 426.0 252.8 425.5 252.8 425.0 252.8 424.5 252.7 424.0 252.7 423.5 252.7 423.0 252.7 422.5 252.7 422.0 252.7 421.5 252.7 421.0 252.7 420.5 252.7 420.0 252.7 419.5 252.7 419.0 252.7 418.5 252.7 418.0 252.7 417.5 252.7 417.0 252.7 416.5 252.7 416.0 252.7 415.5 252.7 415.0 252.7 414.5 252.6 414.0 252.6 413.5 252.6 413.0 252.6 412.5 252.6 412.0 252.6 411.5 252.6 411.0 252.6 410.5 252.6 410.0 252.6 409.5 252.6 409.0 252.6 408.5 252.6 408.0 252.6 407.5 252.6 407.0 252.6 406.5 252.6 406.0 252.6 405.5 252.6 405.0 252.6 404.5 252.5 404.0 252.5 403.5 252.5 403.0 252.5 402.5 252.5 402.0 252.5 401.5 252.5 401.0 252.5 400.5 252.5 400.0 252.5 399.5 252.5 399.0 252.5 398.5 252.5 398.0 252.5 397.5 252.4 397.0 252.4 396.5 252.4 396.0 252.4 395.5 252.4 395.0 252.4 394.5 252.4 394.0 252.4 393.5 252.4 393.0 252.4 392.5 252.3 392.0 252.3 391.5 252.3 391.0 252.3 390.5 252.3 390.0 252.3 389.5 252.3 389.0 252.3 388.5 252.3 388.0 252.3 387.5 252.2 387.0 252.2 386.5 252.2 386.0 252.2 385.5 252.2 385.0 252.2 384.5 252.2 384.0 252.2 383.5 252.2 383.0 252.2 382.5 252.2 382.0 252.1 381.5 252.1 381.0 252.1 380.5 252.1 380.0 252.1 379.5 252.1 379.0 252.1 378.5 252.1 378.0 252.1 377.5 252.1 377.0 252.0 376.5 252.0 376.0 252.0 375.5 252.0 375.0 252.0 374.5 252.0 374.0 252.0 373.5 252.0 373.0 252.0 372.5 251.9 372.0 251.9 371.5 251.9 371.0 251.9 370.5 251.9 370.0 251.9 369.5 251.9 369.0 251.9 368.5 251.9 368.0 251.9 367.5 251.8 367.0 251.8 366.5 251.8 366.0 251.8 365.5 251.8 365.0 251.8 364.5 251.8 364.0 251.8 363.5 251.8 363.0 251.8 362.5 251.8 362.0 251.7 361.5 251.7 361.0 251.7 360.5 251.7 360.0 251.7 359.5 251.7 359.0 251.7 358.5 251.7 358.0 251.7 357.5 251.7 357.0 251.6 356.5 251.6 356.0 251.6 355.5 251.6 355.0 251.6 354.5 251.6 354.0 251.6 353.5 251.6 353.0 251.6 352.5 251.6 352.0 251.5 351.5 251.5 351.0 251.5 350.5 251.5 350.0 251.5 349.5 251.5 349.0 251.5 348.5 251.5 348.0 251.4 347.5 251.4 347.0 251.4 346.5 251.4 346.0 251.4 345.5 251.2 345.0 249.9 344.5 244.7 344.0 232.1 343.5 214.0 343.0 198.9 342.5 193.0 342.0 193.5 341.5 201.2 341.0 217.6 340.5 235.1 340.0 246.1 339.5 250.2 339.0 251.1 338.5 251.1 338.0 251.1 337.5 251.1 337.0 251.1 336.5 251.1 336.0 251.1 335.5 251.1 335.0 251.0 334.5 251.0 334.0 251.0 333.5 251.0 333.0 251.0 332.5 251.0 332.0 251.0 331.5 250.9 331.0 250.9 330.5 250.9 330.0 250.9 329.5 250.9 329.0 250.9 328.5 250.8 328.0 250.8 327.5 250.8 327.0 250.8 326.5 250.8 326.0 250.8 325.5 250.8 325.0 250.7 324.5 250.7 324.0 250.7 323.5 250.7 323.0 250.7 322.5 250.7 322.0 250.7 321.5 250.6 321.0 250.6 320.5 250.6 320.0 250.6 319.5 250.6 319.0 250.6 318.5 250.5 318.0 250.5 317.5 250.5 317.0 250.5 316.5 250.5 316.0 250.6 315.5 250.6 315.0 250.6 314.5 250.6 314.0 250.7 313.5 250.7 313.0 250.7 312.5 250.7 312.0 250.8 311.5 250.8 311.0 250.8 310.5 250.8 310.0 250.9 309.5 250.9 309.0 250.9 308.5 250.9 308.0 251.0 307.5 251.0 307.0 251.0 306.5 251.1 306.0 251.1 305.5 251.1 305.0 251.1 304.5 251.2 304.0 251.2 303.5 251.2 303.0 251.2 302.5 251.3 302.0 251.3 301.5 251.3 301.0 251.3 300.5 251.4 300.0 251.4 299.5 251.4 299.0 251.5 298.5 251.5 298.0 251.5 297.5 251.5 297.0 251.6 296.5 251.6 296.0 251.6 295.5 251.6 295.0 251.7 294.5 251.7 294.0 251.7 293.5 251.7 293.0 251.8 292.5 251.8 292.0 251.8 291.5 251.9 291.0 251.9 290.5 251.9 290.0 251.9 289.5 252.0 289.0 252.0 288.5 252.0 288.0 252.0 287.5 252.1 287.0 252.1 286.5 252.1 286.0 252.1 285.5 252.2 285.0 252.2 284.5 252.2 284.0 252.2 283.5 252.3 283.0 252.3 282.5 252.3 282.0 252.3 281.5 252.3 281.0 252.2 280.5 252.2 280.0 252.2 279.5 252.2 279.0 252.2 278.5 252.2 278.0 252.1 277.5 252.1 277.0 252.1 276.5 252.1 276.0 252.1 275.5 252.1 275.0 252.1 274.5 252.0 274.0 252.0 273.5 252.0 273.0 252.0 272.5 252.0 272.0 252.0 271.5 252.0 271.0 251.9 270.5 251.9 270.0 251.9 269.5 251.9 269.0 251.9 268.5 251.9 268.0 251.8 267.5 251.8 267.0 251.8 266.5 251.8 266.0 251.8 265.5 251.8 265.0 251.8 264.5 251.7 264.0 251.7 263.5 251.7 263.0 251.7 262.5 251.7 262.0 251.7 261.5 251.6 261.0 251.6 260.5 251.6 260.0 251.6 259.5 251.6 259.0 251.6 258.5 251.6 258.0 251.5 257.5 251.5 257.0 251.5 256.5 251.5 256.0 251.5 255.5 251.5 255.0 251.5 254.5 251.4 254.0 251.4 253.5 251.4 253.0 251.4 252.5 251.4 252.0 251.4 251.5 251.3 251.0 251.3 250.5 251.3 250.0 251.3 249.5 251.3 249.0 251.4 248.5 251.4 248.0 251.4 247.5 251.5 247.0 251.5 246.5 251.5 246.0 251.6 245.5 251.6 245.0 251.6 244.5 251.7 244.0 251.7 243.5 251.7 243.0 251.8 242.5 251.8 242.0 251.8 241.5 251.9 241.0 251.9 240.5 251.9 240.0 252.0 239.5 252.0 239.0 252.0 238.5 252.1 238.0 252.1 237.5 252.1 237.0 252.2 236.5 252.2 236.0 252.2 235.5 252.3 235.0 252.3 234.5 252.3 234.0 252.4 233.5 252.4 233.0 252.4 232.5 252.5 232.0 252.5 231.5 252.5 231.0 252.6 230.5 252.6 230.0 252.6 229.5 252.7 229.0 252.7 228.5 252.7 228.0 252.8 227.5 252.8 227.0 252.8 226.5 252.9 226.0 252.9 225.5 252.9 225.0 253.0 224.5 253.0 224.0 253.0 223.5 253.1 223.0 253.1 222.5 253.1 222.0 253.2 221.5 253.2 221.0 253.2 220.5 253.3 220.0 253.3 219.5 253.3 219.0 253.4 218.5 253.4 218.0 253.4 217.5 253.5 217.0 253.5 216.5 253.4 216.0 253.4 215.5 253.3 215.0 253.3 214.5 253.2 214.0 253.1 213.5 253.1 213.0 253.0 212.5 253.0 212.0 252.9 211.5 252.9 211.0 252.8 210.5 252.7 210.0 252.7 209.5 252.6 209.0 252.6 208.5 252.5 208.0 252.4 207.5 252.4 207.0 252.3 206.5 252.3 206.0 252.2 205.5 252.1 205.0 252.1 204.5 252.0 204.0 252.0 203.5 251.9 203.0 251.9 202.5 251.8 202.0 251.7 201.5 251.7 201.0 251.6 200.5 251.6 200.0 251.5 199.5 251.4 199.0 251.4 198.5 251.3 198.0 251.3 197.5 251.2 197.0 251.1 196.5 251.1 196.0 251.0 195.5 251.0 195.0 250.9 194.5 250.9 194.0 250.8 193.5 250.7 193.0 250.7 192.5 250.6 192.0 250.6 191.5 250.5 191.0 250.4 190.5 250.4 190.0 250.3 189.5 250.3 189.0 250.2 188.5 250.1 188.0 250.1 187.5 250.0 187.0 250.0 186.5 249.9 186.0 249.8 185.5 249.6 185.0 249.1 184.5 248.2 184.0 247.3 183.5 246.7 183.0 246.5 182.5 246.6 182.0 247.2 181.5 248.0 181.0 248.9 180.5 249.3 180.0 249.5 179.5 249.5 179.0 249.5 178.5 249.5 178.0 249.5 177.5 249.5 177.0 249.5 176.5 249.5 176.0 249.5 175.5 249.5 175.0 249.5 174.5 249.5 174.0 249.5 173.5 249.5 173.0 249.5 172.5 249.5 172.0 249.5 171.5 249.5 171.0 249.5 170.5 249.5 170.0 249.5 169.5 249.5 169.0 249.5 168.5 249.5 168.0 249.5 167.5 249.5 167.0 249.5 166.5 249.5 166.0 249.5 165.5 249.5 165.0 249.5 164.5 249.5 164.0 249.5 163.5 249.5 163.0 249.5 162.5 249.5 162.0 249.5 161.5 249.5 161.0 249.5 160.5 249.5 160.0 249.5 159.5 249.5 159.0 249.5 158.5 249.5 158.0 249.5 157.5 249.5 157.0 249.5 156.5 249.5 156.0 249.5 155.5 249.5 155.0 249.5 154.5 249.5 154.0 249.5 153.5 249.5 153.0 249.5 152.5 249.5 152.0 249.5 151.5 249.5 151.0 249.5 150.5 249.5 150.0 249.5 149.5 249.5 149.0 249.5 148.5 249.3 148.0 248.7 147.5 247.1 147.0 244.7 146.5 242.2 146.0 240.5 145.5 239.9 145.0 240.0 144.5 240.9 144.0 242.9 143.5 245.6 143.0 247.9 142.5 249.3 142.0 250.0 141.5 250.2 141.0 250.2 140.5 250.3 140.0 250.3 139.5 250.4 139.0 250.4 138.5 250.5 138.0 250.5 137.5 250.5 137.0 250.6 136.5 250.6 136.0 250.7 135.5 250.7 135.0 250.8 134.5 250.8 134.0 250.8 133.5 250.9 133.0 250.9 132.5 251.0 132.0 251.0 131.5 251.0 131.0 251.1 130.5 251.1 130.0 251.2 129.5 251.2 129.0 251.2 128.5 251.3 128.0 251.3 127.5 251.4 127.0 251.4 126.5 251.5 126.0 251.5 125.5 251.5 125.0 251.6 124.5 251.6 124.0 251.7 123.5 251.7 123.0 251.8 122.5 251.8 122.0 251.8 121.5 251.9 121.0 251.9 120.5 252.0 120.0 252.0 119.5 252.1 119.0 252.2 118.5 252.2 118.0 252.3 117.5 252.4 117.0 252.5 116.5 252.6 116.0 252.7 115.5 252.8 115.0 252.8 114.5 252.9 114.0 253.0 113.5 253.1 113.0 253.2 112.5 253.2 112.0 253.3 111.5 253.4 111.0 253.5 110.5 253.6 110.0 253.7 109.5 253.8 109.0 253.8 108.5 253.9 108.0 254.0 107.5 254.1 107.0 254.2 106.5 254.2 106.0 254.3 105.5 254.4 105.0 254.5 104.5 254.4 104.0 254.3 103.5 254.2 103.0 254.1 102.5 254.0 102.0 253.9 101.5 253.8 101.0 253.7 100.5 253.6 100.0 253.5 99.5 253.4 99.0 253.3 98.5 253.2 98.0 253.1 97.5 253.0 97.0 252.9 96.5 252.8 96.0 252.7 95.5 252.6 95.0 252.5 94.5 252.4 94.0 252.3 93.5 252.2 93.0 252.1 92.5 252.0 92.0 251.9 91.5 251.8 91.0 251.7 90.5 251.6 90.0 251.5 89.5 251.5 89.0 251.5 88.5 251.5 88.0 251.5 87.5 251.5 87.0 251.4 86.5 251.4 86.0 251.4 85.5 251.4 85.0 251.4 84.5 251.4 84.0 251.4 83.5 251.4 83.0 251.4 82.5 251.4 82.0 251.4 81.5 251.4 81.0 251.3 80.5 251.3 80.0 251.3 79.5 251.3 79.0 251.3 78.5 251.3 78.0 251.3 77.5 251.3 77.0 251.3 76.5 251.3 76.0 251.3 75.5 251.3 75.0 251.2 74.5 251.2 74.0 251.2 73.5 251.2 73.0 251.2 72.5 251.2 72.0 251.2 71.5 251.2 71.0 251.2 70.5 251.2 70.0 251.2 69.5 251.2 69.0 251.1 68.5 251.1 68.0 251.1 67.5 251.1 67.0 251.1 66.5 251.1 66.0 251.1 65.5 251.1 65.0 251.1 64.5 251.1 64.0 251.1 63.5 251.0 63.0 251.0 62.5 251.0 62.0 251.0 61.5 251.0 61.0 251.0 60.5 251.0 60.0 251.0 59.5 251.0 59.0 251.0 58.5 251.0 58.0 251.0 57.5 250.9 57.0 250.9 56.5 250.9 56.0 250.9 55.5 250.9 55.0 250.9 54.5 250.9 54.0 250.9 53.5 250.9 53.0 250.9 52.5 250.9 52.0 250.9 51.5 250.8 51.0 250.8 50.5 250.8 50.0 250.8Z" fill="#a6c8ea" stroke="none"/>
<path d="M50.5 246.8V250.2M52.5 245.9V252.4M54.5 241.6V251.9M56.5 246.3V251.3M58.5 241.4V245.5M60.5 229.2V230.0M62.5 233.5V233.9M64.5 241.6V249.3M66.5 242.8V250.1M68.5 247.8V251.3M70.5 243.3V245.9M72.5 226.9V228.4M74.5 222.1V222.6M76.5 244.5V250.6M78.5 240.4V252.5M80.5 245.8V252.1M82.5 248.1V255.0M84.5 245.7V253.6M86.5 243.1V253.3M88.5 245.4V251.3M90.5 245.9V255.5M92.5 246.7V250.5M94.5 246.2V251.6M96.5 247.0V250.1M98.5 246.0V251.9M100.5 248.6V253.4M102.5 247.6V251.9M104.5 248.8V253.9M106.5 244.6V252.3M108.5 245.9V257.4M110.5 251.1V255.6M112.5 244.2V250.9M114.5 248.4V255.2M116.5 245.0V251.5M118.5 247.0V251.0M120.5 243.7V248.8M122.5 244.7V250.0M124.5 242.8V248.4M126.5 245.0V249.5M128.5 242.2V247.9M130.5 245.1V250.7M132.5 243.6V247.3M134.5 245.5V251.8M136.5 242.3V247.9M138.5 243.9V246.3M140.5 244.9V247.8M142.5 245.0V251.1M144.5 237.7V238.2M146.5 239.4V240.6M148.5 242.4V252.5M150.5 243.8V251.2M152.5 247.5V251.2M154.5 238.1V249.6M156.5 242.7V246.7M158.5 246.6V249.2M160.5 247.2V252.0M162.5 245.3V250.0M164.5 247.1V252.8M166.5 248.3V253.6M168.5 239.9V244.4M170.5 244.6V251.3M172.5 245.7V250.9M174.5 241.0V244.5M176.5 242.2V247.0M178.5 245.5V249.9M180.5 241.7V249.6M182.5 243.4V244.7M184.5 241.4V245.0M186.5 243.2V248.7M188.5 243.9V248.9M190.5 245.7V250.5M192.5 244.1V248.5M194.5 243.0V249.9M196.5 245.5V249.9M198.5 243.4V246.2M200.5 242.8V251.6M202.5 244.4V254.1M204.5 246.7V250.4M206.5 239.6V252.8M208.5 247.1V251.1M210.5 246.0V255.5M212.5 246.2V249.2M214.5 247.1V252.4M216.5 247.6V259.1M218.5 245.4V252.1M220.5 246.5V253.9M222.5 243.7V251.5M224.5 246.7V250.4M226.5 246.9V256.9M228.5 244.5V254.2M230.5 245.7V255.9M232.5 250.8V254.5M234.5 244.9V252.1M236.5 243.7V248.1M238.5 246.6V252.1M240.5 240.0V254.6M242.5 246.0V253.7M244.5 246.4V252.6M246.5 243.2V252.0M248.5 244.4V249.0M250.5 240.3V247.3M252.5 249.9V254.8M254.5 244.9V250.7M256.5 243.5V253.4M258.5 245.7V255.1M260.5 245.7V257.8M262.5 247.7V253.9M264.5 247.7V253.9M266.5 246.5V251.0M268.5 245.4V248.3M270.5 247.5V254.2M272.5 244.4V249.5M274.5 250.6V253.1M276.5 243.1V246.9M278.5 244.9V248.4M280.5 245.8V253.4M282.5 245.2V250.4M284.5 242.8V249.0M286.5 247.9V252.6M288.5 247.4V251.4M290.5 244.8V251.3M292.5 246.4V250.7M294.5 242.9V253.7M296.5 246.3V254.7M298.5 237.2V248.0M300.5 241.7V248.8M302.5 247.3V250.0M304.5 245.8V248.9M306.5 245.5V249.5M308.5 246.3V253.1M310.5 242.5V247.6M312.5 243.2V258.9M314.5 242.1V255.5M316.5 243.0V249.6M318.5 245.9V252.9M320.5 245.4V254.9M322.5 240.4V250.1M324.5 244.3V252.0M326.5 242.4V251.8M328.5 236.7V246.8M330.5 241.4V256.1M332.5 243.5V247.1M334.5 244.1V251.9M336.5 250.1V254.4M338.5 247.5V250.9M340.5 231.5V232.6M342.5 189.6V191.4M344.5 241.0V242.0M346.5 248.5V251.9M348.5 246.5V250.9M350.5 243.1V253.1M352.5 244.1V254.0M354.5 243.9V250.7M356.5 247.2V250.1M358.5 247.3V251.5M360.5 243.6V251.3M362.5 245.9V252.0M364.5 242.9V255.1M366.5 248.7V252.1M368.5 245.4V249.6M370.5 246.7V254.2M372.5 244.7V255.5M374.5 246.6V250.1M376.5 245.7V254.6M378.5 245.8V251.6M380.5 242.5V254.8M382.5 245.2V257.6M384.5 247.9V250.4M386.5 247.2V249.5M388.5 242.9V250.2M390.5 244.3V247.8M392.5 245.6V255.2M394.5 246.0V254.4M396.5 246.2V250.1M398.5 244.5V251.7M400.5 247.2V250.4M402.5 253.0V255.9M404.5 245.6V254.2M406.5 242.3V249.8M408.5 246.4V251.6M410.5 246.2V256.9M412.5 244.6V253.0M414.5 248.9V256.8M416.5 248.2V250.4M418.5 249.6V251.9M420.5 240.6V249.5M422.5 243.9V248.2M424.5 245.9V251.7M426.5 242.3V244.8M428.5 241.9V249.4M430.5 244.5V250.8M432.5 249.2V253.7M434.5 244.9V251.9M436.5 246.0V258.0M438.5 248.1V253.3M440.5 248.0V252.2M442.5 250.6V254.3M444.5 247.2V250.1M446.5 245.8V254.7M448.5 249.9V254.6M450.5 248.1V251.4M452.5 248.3V257.5M454.5 243.5V249.0M456.5 246.5V255.3M458.5 247.3V255.9M460.5 246.7V251.2M462.5 240.2V254.6M464.5 251.2V253.9M466.5 245.4V260.0M468.5 248.0V253.5M470.5 250.5V257.6M472.5 251.0V256.2M474.5 246.7V252.1M476.5 242.9V252.8M478.5 245.5V251.4M480.5 243.4V248.2M482.5 247.4V255.5M484.5 246.8V251.8M486.5 245.0V250.1M488.5 245.1V249.9M490.5 246.3V255.8M492.5 248.9V260.0M494.5 244.6V250.4M496.5 241.1V254.9M498.5 247.1V251.4M500.5 244.5V250.8M502.5 244.8V251.7M504.5 244.1V260.4M506.5 247.9V252.8M508.5 243.9V251.1M510.5 248.7V255.4M512.5 243.6V244.1M514.5 214.4V215.4M516.5 237.5V238.5M518.5 245.5V249.7M520.5 247.7V251.5M522.5 245.7V253.6M524.5 244.8V248.7M526.5 244.8V250.3M528.5 244.9V250.2M530.5 250.9V254.0M532.5 248.3V252.7M534.5 243.1V248.4M536.5 245.0V254.8M538.5 249.0V254.3M540.5 251.4V254.5M542.5 244.8V247.8M544.5 248.4V255.8M546.5 248.8V255.3M548.5 242.8V249.5M550.5 247.7V252.4M552.5 245.2V257.5M554.5 248.0V254.4M556.5 246.7V251.7M558.5 241.7V250.5M560.5 245.8V251.8M562.5 249.8V254.3M564.5 247.8V251.9M566.5 246.8V252.9M568.5 248.2V250.4M570.5 243.2V254.6M572.5 245.7V255.8M574.5 245.3V251.2M576.5 245.7V253.1M578.5 244.2V250.0M580.5 245.6V250.6M582.5 247.2V252.7M584.5 246.2V253.3M586.5 245.6V250.3M588.5 246.4V250.9M590.5 250.4V253.5M592.5 248.5V255.5M594.5 244.5V251.9" fill="none" stroke="#555" stroke-width="0.8"/>
<path d="M50.5 248.8 52.5 249.3 54.5 248.3 56.5 249.6 58.5 243.3 60.5 229.6 62.5 233.8 64.5 246.5 66.5 246.8 68.5 249.8 70.5 244.4 72.5 227.7 74.5 222.3 76.5 246.8 78.5 247.1 80.5 249.2 82.5 251.4 84.5 249.2 86.5 248.6 88.5 246.9 90.5 249.4 92.5 248.8 94.5 248.3 96.5 248.6 98.5 248.8 100.5 250.4 102.5 249.4 104.5 251.6 106.5 247.7 108.5 251.3 110.5 253.0 112.5 247.8 114.5 251.9 116.5 248.7 118.5 249.4 120.5 246.6 122.5 247.6 124.5 245.7 126.5 247.7 128.5 246.4 130.5 247.7 132.5 245.8 134.5 248.7 136.5 245.4 138.5 245.0 140.5 246.0 142.5 248.3 144.5 238.0 146.5 239.8 148.5 246.1 150.5 246.7 152.5 249.1 154.5 245.1 156.5 244.3 158.5 247.8 160.5 250.2 162.5 246.9 164.5 249.0 166.5 250.5 168.5 242.5 170.5 247.3 172.5 247.9 174.5 243.1 176.5 244.4 178.5 247.2 180.5 245.6 182.5 244.1 184.5 243.6 186.5 246.8 188.5 245.8 190.5 248.7 192.5 246.5 194.5 247.2 196.5 247.4 198.5 245.1 200.5 247.3 202.5 249.3 204.5 248.4 206.5 246.8 208.5 249.3 210.5 249.5 212.5 247.2 214.5 249.1 216.5 252.5 218.5 249.6 220.5 249.6 222.5 247.1 224.5 248.1 226.5 251.1 228.5 248.4 230.5 250.6 232.5 253.5 234.5 247.6 236.5 246.9 238.5 249.9 240.5 247.7 242.5 250.0 244.5 249.5 246.5 247.7 248.5 246.7 250.5 243.9 252.5 252.0 254.5 248.3 256.5 247.3 258.5 251.2 260.5 251.3 262.5 251.0 264.5 250.1 266.5 249.0 268.5 247.1 270.5 251.1 272.5 247.5 274.5 251.6 276.5 245.6 278.5 247.1 280.5 249.5 282.5 247.5 284.5 245.9 286.5 251.1 288.5 250.0 290.5 248.8 292.5 248.7 294.5 248.7 296.5 251.8 298.5 242.2 300.5 245.5 302.5 248.5 304.5 247.4 306.5 246.9 308.5 250.2 310.5 245.2 312.5 249.1 314.5 247.0 316.5 247.2 318.5 249.6 320.5 249.1 322.5 246.4 324.5 247.1 326.5 248.2 328.5 242.5 330.5 248.4 332.5 245.9 334.5 248.2 336.5 251.3 338.5 249.1 340.5 232.0 342.5 190.5 344.5 241.6 346.5 250.0 348.5 249.3 350.5 247.7 352.5 249.2 354.5 246.3 356.5 248.5 358.5 249.8 360.5 247.8 362.5 249.4 364.5 248.4 366.5 250.8 368.5 248.1 370.5 250.6 372.5 250.0 374.5 248.4 376.5 250.1 378.5 247.8 380.5 249.2 382.5 251.3 384.5 249.2 386.5 248.4 388.5 247.0 390.5 246.2 392.5 251.1 394.5 250.7 396.5 248.4 398.5 248.0 400.5 249.5 402.5 254.4 404.5 249.9 406.5 246.9 408.5 248.3 410.5 251.2 412.5 248.6 414.5 253.7 416.5 249.5 418.5 250.5 420.5 246.5 422.5 245.9 424.5 249.4 426.5 243.5 428.5 246.4 430.5 248.0 432.5 251.7 434.5 248.2 436.5 250.7 438.5 250.8 440.5 250.2 442.5 252.8 444.5 248.9 446.5 248.9 448.5 251.9 450.5 250.0 452.5 252.9 454.5 245.8 456.5 251.0 458.5 252.5 460.5 249.0 462.5 247.3 464.5 252.5 466.5 251.6 468.5 250.7 470.5 253.9 472.5 253.8 474.5 248.9 476.5 247.7 478.5 248.5 480.5 246.2 482.5 250.8 484.5 249.5 486.5 246.5 488.5 248.5 490.5 250.1 492.5 252.7 494.5 247.6 496.5 247.6 498.5 248.5 500.5 246.5 502.5 248.1 504.5 252.1 506.5 250.4 508.5 247.0 510.5 252.5 512.5 243.7 514.5 214.8 516.5 237.9 518.5 248.1 520.5 248.8 522.5 248.6 524.5 246.3 526.5 248.1 528.5 246.8 530.5 253.1 532.5 250.8 534.5 246.0 536.5 249.2 538.5 251.8 540.5 252.5 542.5 246.4 544.5 250.4 546.5 251.8 548.5 246.6 550.5 250.8 552.5 251.3 554.5 250.5 556.5 249.2 558.5 247.3 560.5 249.3 562.5 252.3 564.5 250.2 566.5 249.6 568.5 249.7 570.5 248.8 572.5 251.0 574.5 248.0 576.5 248.4 578.5 246.5 580.5 248.4 582.5 251.0 584.5 249.9 586.5 248.0 588.5 248.5 590.5 252.3 592.5 251.3 594.5 248.9" fill="none" stroke="#000" stroke-width="1.4" stroke-linejoin="round"/>
<path d="M50.0 247.8 50.5 247.8 51.0 247.8 51.5 247.8 52.0 247.9 52.5 247.9 53.0 247.9 53.5 247.9 54.0 247.9 54.5 247.9 55.0 247.9 55.5 247.9 56.0 247.9 56.5 247.9 57.0 247.9 57.5 247.9 58.0 248.0 58.5 248.0 59.0 248.0 59.5 248.0 60.0 248.0 60.5 248.0 61.0 248.0 61.5 248.0 62.0 248.0 62.5 248.0 63.0 248.0 63.5 248.0 64.0 248.1 64.5 248.1 65.0 248.1 65.5 248.1 66.0 248.1 66.5 248.1 67.0 248.1 67.5 248.1 68.0 248.1 68.5 248.1 69.0 248.1 69.5 248.2 70.0 248.2 70.5 248.2 71.0 248.2 71.5 248.2 72.0 248.2 72.5 248.2 73.0 248.2 73.5 248.2 74.0 248.2 74.5 248.2 75.0 248.2 75.5 248.3 76.0 248.3 76.5 248.3 77.0 248.3 77.5 248.3 78.0 248.3 78.5 248.3 79.0 248.3 79.5 248.3 80.0 248.3 80.5 248.3 81.0 248.3 81.5 248.4 82.0 248.4 82.5 248.4 83.0 248.4 83.5 248.4 84.0 248.4 84.5 248.4 85.0 248.4 85.5 248.4 86.0 248.4 86.5 248.4 87.0 248.4 87.5 248.5 88.0 248.5 88.5 248.5 89.0 248.5 89.5 248.5 90.0 248.5 90.5 248.6 91.0 248.7 91.5 248.8 92.0 248.9 92.5 249.0 93.0 249.1 93.5 249.2 94.0 249.3 94.5 249.4 95.0 249.5 95.5 249.6 96.0 249.7 96.5 249.8 97.0 249.9 97.5 250.0 98.0 250.1 98.5 250.2 99.0 250.3 99.5 250.4 100.0 250.5 100.5 250.6 101.0 250.7 101.5 250.8 102.0 250.9 102.5 251.0 103.0 251.1 103.5 251.2 104.0 251.3 104.5 251.4 105.0 251.5 105.5 251.4 106.0 251.3 106.5 251.2 107.0 251.2 107.5 251.1 108.0 251.0 108.5 250.9 109.0 250.8 109.5 250.8 110.0 250.7 110.5 250.6 111.0 250.5 111.5 250.4 112.0 250.3 112.5 250.2 113.0 250.2 113.5 250.1 114.0 250.0 114.5 249.9 115.0 249.8 115.5 249.8 116.0 249.7 116.5 249.6 117.0 249.5 117.5 249.4 118.0 249.3 118.5 249.2 119.0 249.2 119.5 249.1 120.0 249.0 120.5 249.0 121.0 248.9 121.5 248.9 122.0 248.8 122.5 248.8 123.0 248.8 123.5 248.7 124.0 248.7 124.5 248.6 125.0 248.6 125.5 248.5 126.0 248.5 126.5 248.5 127.0 248.4 127.5 248.4 128.0 248.3 128.5 248.3 129.0 248.2 129.5 248.2 130.0 248.2 130.5 248.1 131.0 248.1 131.5 248.0 132.0 248.0 132.5 248.0 133.0 247.9 133.5 247.9 134.0 247.8 134.5 247.8 135.0 247.8 135.5 247.7 136.0 247.7 136.5 247.6 137.0 247.6 137.5 247.5 138.0 247.5 138.5 247.5 139.0 247.4 139.5 247.4 140.0 247.3 140.5 247.3 141.0 247.2 141.5 247.2 142.0 247.0 142.5 246.3 143.0 244.9 143.5 242.6 144.0 239.9 144.5 237.9 145.0 237.0 145.5 236.9 146.0 237.5 146.5 239.2 147.0 241.7 147.5 244.1 148.0 245.7 148.5 246.3 149.0 246.5 149.5 246.5 150.0 246.5 150.5 246.5 151.0 246.5 151.5 246.5 152.0 246.5 152.5 246.5 153.0 246.5 153.5 246.5 154.0 246.5 154.5 246.5 155.0 246.5 155.5 246.5 156.0 246.5 156.5 246.5 157.0 246.5 157.5 246.5 158.0 246.5 158.5 246.5 159.0 246.5 159.5 246.5 160.0 246.5 160.5 246.5 161.0 246.5 161.5 246.5 162.0 246.5 162.5 246.5 163.0 246.5 163.5 246.5 164.0 246.5 164.5 246.5 165.0 246.5 165.5 246.5 166.0 246.5 166.5 246.5 167.0 246.5 167.5 246.5 168.0 246.5 168.5 246.5 169.0 246.5 169.5 246.5 170.0 246.5 170.5 246.5 171.0 246.5 171.5 246.5 172.0 246.5 172.5 246.5 173.0 246.5 173.5 246.5 174.0 246.5 174.5 246.5 175.0 246.5 175.5 246.5 176.0 246.5 176.5 246.5 177.0 246.5 177.5 246.5 178.0 246.5 178.5 246.5 179.0 246.5 179.5 246.5 180.0 246.5 180.5 246.3 181.0 245.9 181.5 245.0 182.0 244.2 182.5 243.6 183.0 243.5 183.5 243.7 184.0 244.3 184.5 245.2 185.0 246.1 185.5 246.6 186.0 246.8 186.5 246.9 187.0 247.0 187.5 247.0 188.0 247.1 188.5 247.1 189.0 247.2 189.5 247.3 190.0 247.3 190.5 247.4 191.0 247.4 191.5 247.5 192.0 247.6 192.5 247.6 193.0 247.7 193.5 247.7 194.0 247.8 194.5 247.9 195.0 247.9 195.5 248.0 196.0 248.0 196.5 248.1 197.0 248.1 197.5 248.2 198.0 248.3 198.5 248.3 199.0 248.4 199.5 248.4 200.0 248.5 200.5 248.6 201.0 248.6 201.5 248.7 202.0 248.7 202.5 248.8 203.0 248.9 203.5 248.9 204.0 249.0 204.5 249.0 205.0 249.1 205.5 249.1 206.0 249.2 206.5 249.3 207.0 249.3 207.5 249.4 208.0 249.4 208.5 249.5 209.0 249.6 209.5 249.6 210.0 249.7 210.5 249.7 211.0 249.8 211.5 249.9 212.0 249.9 212.5 250.0 213.0 250.0 213.5 250.1 214.0 250.1 214.5 250.2 215.0 250.3 215.5 250.3 216.0 250.4 216.5 250.4 217.0 250.5 217.5 250.5 218.0 250.4 218.5 250.4 219.0 250.4 219.5 250.3 220.0 250.3 220.5 250.3 221.0 250.2 221.5 250.2 222.0 250.2 222.5 250.1 223.0 250.1 223.5 250.1 224.0 250.0 224.5 250.0 225.0 250.0 225.5 249.9 226.0 249.9 226.5 249.9 227.0 249.8 227.5 249.8 228.0 249.8 228.5 249.7 229.0 249.7 229.5 249.7 230.0 249.6 230.5 249.6 231.0 249.6 231.5 249.5 232.0 249.5 232.5 249.5 233.0 249.4 233.5 249.4 234.0 249.4 234.5 249.3 235.0 249.3 235.5 249.3 236.0 249.2 236.5 249.2 237.0 249.2 237.5 249.1 238.0 249.1 238.5 249.1 239.0 249.0 239.5 249.0 240.0 249.0 240.5 248.9 241.0 248.9 241.5 248.9 242.0 248.8 242.5 248.8 243.0 248.8 243.5 248.7 244.0 248.7 244.5 248.7 245.0 248.6 245.5 248.6 246.0 248.6 246.5 248.5 247.0 248.5 247.5 248.5 248.0 248.4 248.5 248.4 249.0 248.4 249.5 248.3 250.0 248.3 250.5 248.3 251.0 248.3 251.5 248.3 252.0 248.4 252.5 248.4 253.0 248.4 253.5 248.4 254.0 248.4 254.5 248.4 255.0 248.5 255.5 248.5 256.0 248.5 256.5 248.5 257.0 248.5 257.5 248.5 258.0 248.5 258.5 248.6 259.0 248.6 259.5 248.6 260.0 248.6 260.5 248.6 261.0 248.6 261.5 248.6 262.0 248.7 262.5 248.7 263.0 248.7 263.5 248.7 264.0 248.7 264.5 248.7 265.0 248.8 265.5 248.8 266.0 248.8 266.5 248.8 267.0 248.8 267.5 248.8 268.0 248.8 268.5 248.9 269.0 248.9 269.5 248.9 270.0 248.9 270.5 248.9 271.0 248.9 271.5 249.0 272.0 249.0 272.5 249.0 273.0 249.0 273.5 249.0 274.0 249.0 274.5 249.0 275.0 249.1 275.5 249.1 276.0 249.1 276.5 249.1 277.0 249.1 277.5 249.1 278.0 249.1 278.5 249.2 279.0 249.2 279.5 249.2 280.0 249.2 280.5 249.2 281.0 249.2 281.5 249.3 282.0 249.3 282.5 249.3 283.0 249.3 283.5 249.3 284.0 249.2 284.5 249.2 285.0 249.2 285.5 249.2 286.0 249.1 286.5 249.1 287.0 249.1 287.5 249.1 288.0 249.0 288.5 249.0 289.0 249.0 289.5 249.0 290.0 248.9 290.5 248.9 291.0 248.9 291.5 248.9 292.0 248.8 292.5 248.8 293.0 248.8 293.5 248.7 294.0 248.7 294.5 248.7 295.0 248.7 295.5 248.6 296.0 248.6 296.5 248.6 297.0 248.6 297.5 248.5 298.0 248.5 298.5 248.5 299.0 248.5 299.5 248.4 300.0 248.4 300.5 248.4 301.0 248.3 301.5 248.3 302.0 248.3 302.5 248.3 303.0 248.2 303.5 248.2 304.0 248.2 304.5 248.2 305.0 248.1 305.5 248.1 306.0 248.1 306.5 248.1 307.0 248.0 307.5 248.0 308.0 248.0 308.5 247.9 309.0 247.9 309.5 247.9 310.0 247.9 310.5 247.8 311.0 247.8 311.5 247.8 312.0 247.8 312.5 247.7 313.0 247.7 313.5 247.7 314.0 247.7 314.5 247.6 315.0 247.6 315.5 247.6 316.0 247.6 316.5 247.5 317.0 247.5 317.5 247.5 318.0 247.5 318.5 247.5 319.0 247.6 319.5 247.6 320.0 247.6 320.5 247.6 321.0 247.6 321.5 247.6 322.0 247.7 322.5 247.7 323.0 247.7 323.5 247.7 324.0 247.7 324.5 247.7 325.0 247.7 325.5 247.8 326.0 247.8 326.5 247.8 327.0 247.8 327.5 247.8 328.0 247.8 328.5 247.8 329.0 247.9 329.5 247.9 330.0 247.9 330.5 247.9 331.0 247.9 331.5 247.9 332.0 248.0 332.5 248.0 333.0 248.0 333.5 248.0 334.0 248.0 334.5 248.0 335.0 248.0 335.5 248.1 336.0 248.1 336.5 248.1 337.0 248.1 337.5 248.1 338.0 248.1 338.5 248.1 339.0 248.1 339.5 247.2 340.0 243.1 340.5 232.1 341.0 214.6 341.5 198.2 342.0 190.5 342.5 190.0 343.0 195.9 343.5 211.0 344.0 229.1 344.5 241.7 345.0 246.9 345.5 248.2 346.0 248.4 346.5 248.4 347.0 248.4 347.5 248.4 348.0 248.4 348.5 248.5 349.0 248.5 349.5 248.5 350.0 248.5 350.5 248.5 351.0 248.5 351.5 248.5 352.0 248.5 352.5 248.6 353.0 248.6 353.5 248.6 354.0 248.6 354.5 248.6 355.0 248.6 355.5 248.6 356.0 248.6 356.5 248.6 357.0 248.6 357.5 248.7 358.0 248.7 358.5 248.7 359.0 248.7 359.5 248.7 360.0 248.7 360.5 248.7 361.0 248.7 361.5 248.7 362.0 248.7 362.5 248.8 363.0 248.8 363.5 248.8 364.0 248.8 364.5 248.8 365.0 248.8 365.5 248.8 366.0 248.8 366.5 248.8 367.0 248.8 367.5 248.8 368.0 248.9 368.5 248.9 369.0 248.9 369.5 248.9 370.0 248.9 370.5 248.9 371.0 248.9 371.5 248.9 372.0 248.9 372.5 248.9 373.0 249.0 373.5 249.0 374.0 249.0 374.5 249.0 375.0 249.0 375.5 249.0 376.0 249.0 376.5 249.0 377.0 249.0 377.5 249.1 378.0 249.1 378.5 249.1 379.0 249.1 379.5 249.1 380.0 249.1 380.5 249.1 381.0 249.1 381.5 249.1 382.0 249.1 382.5 249.2 383.0 249.2 383.5 249.2 384.0 249.2 384.5 249.2 385.0 249.2 385.5 249.2 386.0 249.2 386.5 249.2 387.0 249.2 387.5 249.2 388.0 249.3 388.5 249.3 389.0 249.3 389.5 249.3 390.0 249.3 390.5 249.3 391.0 249.3 391.5 249.3 392.0 249.3 392.5 249.3 393.0 249.4 393.5 249.4 394.0 249.4 394.5 249.4 395.0 249.4 395.5 249.4 396.0 249.4 396.5 249.4 397.0 249.4 397.5 249.4 398.0 249.5 398.5 249.5 399.0 249.5 399.5 249.5 400.0 249.5 400.5 249.5 401.0 249.5 401.5 249.5 402.0 249.5 402.5 249.5 403.0 249.5 403.5 249.5 404.0 249.5 404.5 249.5 405.0 249.6 405.5 249.6 406.0 249.6 406.5 249.6 407.0 249.6 407.5 249.6 408.0 249.6 408.5 249.6 409.0 249.6 409.5 249.6 410.0 249.6 410.5 249.6 411.0 249.6 411.5 249.6 412.0 249.6 412.5 249.6 413.0 249.6 413.5 249.6 414.0 249.6 414.5 249.6 415.0 249.7 415.5 249.7 416.0 249.7 416.5 249.7 417.0 249.7 417.5 249.7 418.0 249.7 418.5 249.7 419.0 249.7 419.5 249.7 420.0 249.7 420.5 249.7 421.0 249.7 421.5 249.7 422.0 249.7 422.5 249.7 423.0 249.7 423.5 249.7 424.0 249.7 424.5 249.7 425.0 249.8 425.5 249.8 426.0 249.8 426.5 249.8 427.0 249.8 427.5 249.8 428.0 249.8 428.5 249.8 429.0 249.8 429.5 249.8 430.0 249.8 430.5 249.8 431.0 249.8 431.5 249.8 432.0 249.8 432.5 249.8 433.0 249.8 433.5 249.8 434.0 249.8 434.5 249.8 435.0 249.8 435.5 249.9 436.0 249.9 436.5 249.9 437.0 249.9 437.5 249.9 438.0 249.9 438.5 249.9 439.0 249.9 439.5 249.9 440.0 249.9 440.5 249.9 441.0 249.9 441.5 249.9 442.0 249.9 442.5 249.9 443.0 249.9 443.5 249.9 444.0 249.9 444.5 249.9 445.0 249.9 445.5 250.0 446.0 250.0 446.5 250.0 447.0 250.0 447.5 250.0 448.0 250.0 448.5 250.0 449.0 250.0 449.5 250.0 450.0 250.0 450.5 250.0 451.0 250.0 451.5 250.0 452.0 250.0 452.5 250.0 453.0 250.0 453.5 250.0 454.0 250.0 454.5 250.0 455.0 249.9 455.5 249.9 456.0 249.9 456.5 249.9 457.0 249.9 457.5 249.9 458.0 249.9 458.5 249.9 459.0 249.9 459.5 249.9 460.0 249.9 460.5 249.9 461.0 249.9 461.5 249.9 462.0 249.9 462.5 249.9 463.0 249.9 463.5 249.9 464.0 249.9 464.5 249.9 465.0 249.8 465.5 249.8 466.0 249.8 466.5 249.8 467.0 249.8 467.5 249.8 468.0 249.8 468.5 249.8 469.0 249.8 469.5 249.8 470.0 249.8 470.5 249.8 471.0 249.8 471.5 249.8 472.0 249.8 472.5 249.8 473.0 249.8 473.5 249.8 474.0 249.8 474.5 249.8 475.0 249.8 475.5 249.7 476.0 249.7 476.5 249.7 477.0 249.7 477.5 249.7 478.0 249.7 478.5 249.7 479.0 249.7 479.5 249.7 480.0 249.7 480.5 249.7 481.0 249.7 481.5 249.7 482.0 249.7 482.5 249.7 483.0 249.7 483.5 249.7 484.0 249.7 484.5 249.7 485.0 249.7 485.5 249.6 486.0 249.6 486.5 249.6 487.0 249.6 487.5 249.6 488.0 249.6 488.5 249.6 489.0 249.6 489.5 249.6 490.0 249.6 490.5 249.6 491.0 249.6 491.5 249.6 492.0 249.6 492.5 249.6 493.0 249.6 493.5 249.6 494.0 249.6 494.5 249.6 495.0 249.6 495.5 249.5 496.0 249.5 496.5 249.5 497.0 249.5 497.5 249.5 498.0 249.5 498.5 249.5 499.0 249.5 499.5 249.5 500.0 249.5 500.5 249.5 501.0 249.5 501.5 249.5 502.0 249.5 502.5 249.5 503.0 249.5 503.5 249.5 504.0 249.5 504.5 249.5 505.0 249.5 505.5 249.5 506.0 249.5 506.5 249.5 507.0 249.5 507.5 249.5 508.0 249.5 508.5 249.5 509.0 249.5 509.5 249.5 510.0 249.6 510.5 249.6 511.0 249.5 511.5 249.2 512.0 247.9 512.5 243.7 513.0 235.5 513.5 225.3 514.0 217.6 514.5 214.7 515.0 214.9 515.5 218.8 516.0 227.3 516.5 237.4 517.0 244.8 517.5 248.3 518.0 249.4 518.5 249.6 519.0 249.6 519.5 249.6 520.0 249.6 520.5 249.6 521.0 249.6 521.5 249.6 522.0 249.6 522.5 249.6 523.0 249.6 523.5 249.6 524.0 249.6 524.5 249.6 525.0 249.6 525.5 249.6 526.0 249.6 526.5 249.6 527.0 249.6 527.5 249.6 528.0 249.6 528.5 249.6 529.0 249.6 529.5 249.7 530.0 249.7 530.5 249.7 531.0 249.7 531.5 249.7 532.0 249.7 532.5 249.7 533.0 249.7 533.5 249.7 534.0 249.7 534.5 249.7 535.0 249.7 535.5 249.7 536.0 249.7 536.5 249.7 537.0 249.7 537.5 249.7 538.0 249.7 538.5 249.7 539.0 249.7 539.5 249.7 540.0 249.7 540.5 249.7 541.0 249.7 541.5 249.7 542.0 249.7 542.5 249.7 543.0 249.7 543.5 249.7 544.0 249.7 544.5 249.7 545.0 249.7 545.5 249.7 546.0 249.7 546.5 249.7 547.0 249.7 547.5 249.7 548.0 249.7 548.5 249.7 549.0 249.8 549.5 249.8 550.0 249.8 550.5 249.8 551.0 249.8 551.5 249.8 552.0 249.8 552.5 249.8 553.0 249.8 553.5 249.8 554.0 249.8 554.5 249.8 555.0 249.8 555.5 249.8 556.0 249.8 556.5 249.8 557.0 249.8 557.5 249.8 558.0 249.8 558.5 249.8 559.0 249.8 559.5 249.8 560.0 249.8 560.5 249.8 561.0 249.8 561.5 249.8 562.0 249.8 562.5 249.8 563.0 249.8 563.5 249.8 564.0 249.8 564.5 249.8 565.0 249.8 565.5 249.8 566.0 249.8 566.5 249.8 567.0 249.8 567.5 249.8 568.0 249.8 568.5 249.8 569.0 249.9 569.5 249.9 570.0 249.9 570.5 249.9 571.0 249.9 571.5 249.9 572.0 249.9 572.5 249.9 573.0 249.9 573.5 249.9 574.0 249.9 574.5 249.9 575.0 249.9 575.5 249.9 576.0 249.9 576.5 249.9 577.0 249.9 577.5 249.9 578.0 249.9 578.5 249.9 579.0 249.9 579.5 249.9 580.0 249.9 580.5 249.9 581.0 249.9 581.5 249.9 582.0 249.9 582.5 249.9 583.0 249.9 583.5 249.9 584.0 249.9 584.5 249.9 585.0 249.9 585.5 249.9 586.0 249.9 586.5 249.9 587.0 249.9 587.5 249.9 588.0 249.9 588.5 250.0 589.0 250.0 589.5 250.0 590.0 250.0 590.5 250.0 591.0 250.0 591.5 250.0 592.0 250.0 592.5 250.0 593.0 250.0 593.5 250.0 594.0 250.0 594.5 250.0 595.0 250.0 595.5 250.0 596.0 250.0 596.5 250.0" fill="none" stroke="#3c78c0" stroke-width="1.1" stroke-linejoin="round"/>
<path d="M338.6 248.0 338.8 247.8 339.1 247.2 339.3 246.1 339.6 244.1 339.8 240.9 340.1 236.1 340.3 229.9 340.6 222.4 340.8 214.4 341.1 206.5 341.3 199.8 341.6 194.7 341.8 191.5 342.1 190.0 342.3 189.8 342.6 190.1 342.8 191.8 343.1 195.2 343.3 200.4 343.6 207.4 343.8 215.3 344.1 223.3 344.3 230.7 344.6 236.8 344.8 241.4 345.1 244.5 345.3 246.4 345.6 247.5 345.8 248.0Z" fill="#9ec2ea" fill-opacity="0.8" stroke="#3f78c0" stroke-width="1.1" stroke-linejoin="round"/>
<path d="M510.7 249.5 510.9 249.3 511.2 249.1 511.4 248.5 511.7 247.6 511.9 246.0 512.2 243.7 512.4 240.7 512.7 236.8 512.9 232.5 513.2 228.1 513.4 223.8 513.7 220.2 513.9 217.4 514.2 215.7 514.4 214.8 514.7 214.6 514.9 214.7 515.2 215.3 515.4 216.8 515.7 219.3 515.9 222.7 516.2 226.8 516.4 231.2 516.7 235.6 516.9 239.6 517.2 242.9 517.4 245.5 517.7 247.2 517.9 248.3 518.2 249.0 518.4 249.3 518.7 249.5Z" fill="#9ec2ea" fill-opacity="0.8" stroke="#3f78c0" stroke-width="1.1" stroke-linejoin="round"/>
<path d="M58.5 247.2 59.0 245.2 59.5 240.7 60.0 234.8 60.5 229.7 61.0 227.4 61.5 227.3 62.0 229.0 62.5 233.6 63.0 239.7 63.5 244.5 64.0 247.1" fill="#6a6ad6" fill-opacity="0.6" stroke="#2424b4" stroke-width="2.6" stroke-linejoin="round"/>
<path d="M71.0 246.7 71.5 243.2 72.0 236.3 72.5 227.7 73.0 221.2 73.5 218.7 74.0 218.9 74.5 222.2 75.0 229.4 75.5 238.0 76.0 244.2 76.5 247.2" fill="#6a6ad6" fill-opacity="0.6" stroke="#2424b4" stroke-width="2.6" stroke-linejoin="round"/>
<path d="M50.0 379.9 50.5 379.9 51.0 379.8 51.5 379.8 52.0 379.8 52.5 379.8 53.0 379.7 53.5 379.7 54.0 379.7 54.5 379.7 55.0 379.6 55.5 379.6 56.0 379.6 56.5 379.5 57.0 379.5 57.5 379.5 58.0 379.5 58.5 379.4 59.0 379.4 59.5 379.4 60.0 379.4 60.5 379.3 61.0 379.3 61.5 379.3 62.0 379.3 62.5 379.2 63.0 379.2 63.5 379.2 64.0 379.1 64.5 379.1 65.0 379.1 65.5 379.1 66.0 379.0 66.5 379.0 67.0 379.0 67.5 379.0 68.0 378.9 68.5 378.9 69.0 378.9 69.5 378.9 70.0 378.8 70.5 378.8 71.0 378.8 71.5 378.8 72.0 378.7 72.5 378.7 73.0 378.7 73.5 378.6 74.0 378.6 74.5 378.6 75.0 378.6 75.5 378.5 76.0 378.5 76.5 378.5 77.0 378.5 77.5 378.4 78.0 378.4 78.5 378.4 79.0 378.4 79.5 378.3 80.0 378.3 80.5 378.2 81.0 378.1 81.5 378.1 82.0 378.0 82.5 377.9 83.0 377.8 83.5 377.7 84.0 377.6 84.5 377.6 85.0 377.5 85.5 377.4 86.0 377.3 86.5 377.2 87.0 377.1 87.5 377.1 88.0 377.0 88.5 376.9 89.0 376.8 89.5 376.7 90.0 376.6 90.5 376.6 91.0 376.5 91.5 376.4 92.0 376.3 92.5 376.2 93.0 376.2 93.5 376.1 94.0 376.0 94.5 375.9 95.0 375.8 95.5 375.7 96.0 375.7 96.5 375.6 97.0 375.5 97.5 375.4 98.0 375.3 98.5 375.2 99.0 375.2 99.5 375.1 100.0 375.0 100.5 375.0 101.0 375.0 101.5 375.0 102.0 375.0 102.5 375.0 103.0 375.0 103.5 374.9 104.0 374.9 104.5 374.9 105.0 374.9 105.5 374.9 106.0 374.9 106.5 374.9 107.0 374.9 107.5 374.9 108.0 374.9 108.5 374.9 109.0 374.9 109.5 374.9 110.0 374.9 110.5 374.8 111.0 374.8 111.5 374.8 112.0 374.8 112.5 374.8 113.0 374.8 113.5 374.8 114.0 374.8 114.5 374.8 115.0 374.8 115.5 374.8 116.0 374.8 116.5 374.8 117.0 374.7 117.5 374.7 118.0 374.7 118.5 374.7 119.0 374.7 119.5 374.7 120.0 374.7 120.5 374.7 121.0 374.8 121.5 374.8 122.0 374.8 122.5 374.9 123.0 374.9 123.5 375.0 124.0 375.0 124.5 375.0 125.0 375.1 125.5 375.1 126.0 375.1 126.5 375.2 127.0 375.2 127.5 375.2 128.0 375.3 128.5 375.3 129.0 375.4 129.5 375.4 130.0 375.4 130.5 375.5 131.0 375.5 131.5 375.5 132.0 375.6 132.5 375.6 133.0 375.7 133.5 375.7 134.0 375.7 134.5 375.8 135.0 375.8 135.5 376.0 136.0 376.3 136.5 376.5 137.0 376.8 137.5 377.0 138.0 377.2 138.5 377.5 139.0 377.7 139.5 377.9 140.0 378.2 140.5 378.4 141.0 378.7 141.5 378.9 142.0 379.1 142.5 379.4 143.0 379.6 143.5 379.9 144.0 380.1 144.5 380.3 145.0 380.6 145.5 380.8 146.0 381.0 146.5 381.3 147.0 381.5 147.5 381.8 148.0 382.0 148.5 381.9 149.0 381.8 149.5 381.8 150.0 381.7 150.5 381.6 151.0 381.5 151.5 381.4 152.0 381.3 152.5 381.2 153.0 381.2 153.5 381.1 154.0 381.0 154.5 380.9 155.0 380.8 155.5 380.8 156.0 380.7 156.5 380.6 157.0 380.5 157.5 380.4 158.0 380.3 158.5 380.2 159.0 380.2 159.5 380.1 160.0 380.0 160.5 379.8 161.0 379.6 161.5 379.4 162.0 379.2 162.5 379.0 163.0 378.8 163.5 378.6 164.0 378.5 164.5 378.3 165.0 378.1 165.5 377.9 166.0 377.7 166.5 377.5 167.0 377.3 167.5 377.1 168.0 376.9 168.5 376.7 169.0 376.5 169.5 376.3 170.0 376.1 170.5 375.9 171.0 375.7 171.5 375.6 172.0 375.4 172.5 375.2 173.0 375.0 173.5 374.8 174.0 374.6 174.5 374.4 175.0 374.2 175.5 374.2 176.0 374.1 176.5 374.1 177.0 374.1 177.5 374.0 178.0 374.0 178.5 374.0 179.0 373.9 179.5 373.9 180.0 373.9 180.5 373.8 181.0 373.8 181.5 373.8 182.0 373.7 182.5 373.7 183.0 373.7 183.5 373.6 184.0 373.6 184.5 373.6 185.0 373.5 185.5 373.5 186.0 373.5 186.5 373.4 187.0 373.4 187.5 373.4 188.0 373.3 188.5 373.3 189.0 373.2 189.5 373.2 190.0 373.2 190.5 373.1 191.0 373.1 191.5 373.1 192.0 373.0 192.5 373.0 193.0 373.0 193.5 372.9 194.0 372.9 194.5 372.9 195.0 372.8 195.5 372.8 196.0 372.8 196.5 372.7 197.0 372.7 197.5 372.7 198.0 372.6 198.5 372.6 199.0 372.6 199.5 372.5 200.0 372.5 200.5 372.5 201.0 372.5 201.5 372.5 202.0 372.5 202.5 372.5 203.0 372.4 203.5 372.4 204.0 372.4 204.5 372.4 205.0 372.4 205.5 372.4 206.0 372.4 206.5 372.4 207.0 372.4 207.5 372.4 208.0 372.4 208.5 372.4 209.0 372.4 209.5 372.3 210.0 372.3 210.5 372.3 211.0 372.3 211.5 372.3 212.0 372.3 212.5 372.3 213.0 372.3 213.5 372.3 214.0 372.3 214.5 372.3 215.0 372.2 215.5 372.2 216.0 372.2 216.5 372.2 217.0 372.2 217.5 372.2 218.0 372.2 218.5 372.2 219.0 372.2 219.5 372.2 220.0 372.2 220.5 372.2 221.0 372.1 221.5 372.1 222.0 372.1 222.5 372.1 223.0 372.1 223.5 372.1 224.0 372.1 224.5 372.1 225.0 372.1 225.5 372.1 226.0 372.1 226.5 372.1 227.0 372.1 227.5 372.0 228.0 372.0 228.5 372.0 229.0 372.0 229.5 372.0 230.0 372.0 230.5 372.0 231.0 372.0 231.5 372.0 232.0 372.0 232.5 372.0 233.0 371.9 233.5 371.9 234.0 371.9 234.5 371.9 235.0 371.9 235.5 371.9 236.0 371.9 236.5 371.9 237.0 371.9 237.5 371.9 238.0 371.9 238.5 371.9 239.0 371.8 239.5 371.8 240.0 371.8 240.5 371.8 241.0 371.8 241.5 371.8 242.0 371.8 242.5 371.8 243.0 371.8 243.5 371.8 244.0 371.8 244.5 371.8 245.0 371.8 245.5 371.7 246.0 371.7 246.5 371.7 247.0 371.7 247.5 371.7 248.0 371.7 248.5 371.7 249.0 371.8 249.5 371.8 250.0 371.9 250.5 371.9 251.0 372.0 251.5 372.0 252.0 372.1 252.5 372.1 253.0 372.2 253.5 372.2 254.0 372.3 254.5 372.3 255.0 372.4 255.5 372.4 256.0 372.5 256.5 372.5 257.0 372.5 257.5 372.6 258.0 372.6 258.5 372.7 259.0 372.7 259.5 372.8 260.0 372.8 260.5 372.9 261.0 372.9 261.5 373.0 262.0 373.0 262.5 373.1 263.0 373.1 263.5 373.2 264.0 373.2 264.5 373.3 265.0 373.3 265.5 373.3 266.0 373.3 266.5 373.3 267.0 373.3 267.5 373.3 268.0 373.3 268.5 373.3 269.0 373.3 269.5 373.3 270.0 373.3 270.5 373.3 271.0 373.3 271.5 373.3 272.0 373.3 272.5 373.3 273.0 373.3 273.5 373.3 274.0 373.3 274.5 373.3 275.0 373.3 275.5 373.3 276.0 373.3 276.5 373.3 277.0 373.3 277.5 373.3 278.0 373.3 278.5 373.3 279.0 373.3 279.5 373.3 280.0 373.3 280.5 373.6 281.0 373.8 281.5 374.1 282.0 374.3 282.5 374.6 283.0 374.8 283.5 375.1 284.0 375.3 284.5 375.6 285.0 375.8 285.5 376.1 286.0 376.3 286.5 376.6 287.0 376.8 287.5 377.1 288.0 377.3 288.5 377.6 289.0 377.8 289.5 378.1 290.0 378.3 290.5 378.6 291.0 378.8 291.5 379.1 292.0 379.3 292.5 379.6 293.0 379.8 293.5 380.1 294.0 380.3 294.5 380.6 295.0 380.8 295.5 380.7 296.0 380.6 296.5 380.4 297.0 380.3 297.5 380.2 298.0 380.1 298.5 379.9 299.0 379.8 299.5 379.7 300.0 379.6 300.5 379.4 301.0 379.3 301.5 379.2 302.0 379.1 302.5 378.9 303.0 378.8 303.5 378.7 304.0 378.6 304.5 378.4 305.0 378.3 305.5 378.4 306.0 378.5 306.5 378.6 307.0 378.8 307.5 378.9 308.0 379.0 308.5 379.1 309.0 379.2 309.5 379.3 310.0 379.4 310.5 379.5 311.0 379.7 311.5 379.8 312.0 379.9 312.5 380.0 313.0 380.1 313.5 380.2 314.0 380.3 314.5 380.5 315.0 380.6 315.5 380.7 316.0 380.8 316.5 380.9 317.0 381.0 317.5 381.1 318.0 381.2 318.5 381.4 319.0 381.5 319.5 381.6 320.0 381.7 320.5 381.7 321.0 381.7 321.5 381.7 322.0 381.7 322.5 381.7 323.0 381.7 323.5 381.7 324.0 381.7 324.5 381.7 325.0 381.7 325.5 381.7 326.0 381.7 326.5 381.7 327.0 381.7 327.5 381.7 328.0 381.7 328.5 381.7 329.0 381.7 329.5 381.7 330.0 381.7 330.5 381.7 331.0 381.7 331.5 381.7 332.0 381.7 332.5 381.7 333.0 381.7 333.5 381.7 334.0 381.7 334.5 381.7 335.0 381.7 335.5 381.7 336.0 381.7 336.5 381.7 337.0 381.8 337.5 381.8 338.0 381.8 338.5 381.8 339.0 381.8 339.5 381.8 340.0 381.8 340.5 381.8 341.0 381.8 341.5 381.8 342.0 381.8 342.5 381.8 343.0 381.8 343.5 381.8 344.0 381.8 344.5 381.8 345.0 381.8 345.5 381.8 346.0 381.8 346.5 381.8 347.0 381.8 347.5 381.8 348.0 381.8 348.5 381.8 349.0 381.8 349.5 381.8 350.0 381.8 350.5 381.8 351.0 381.8 351.5 381.8 352.0 381.8 352.5 381.8 353.0 381.8 353.5 381.8 354.0 381.8 354.5 381.8 355.0 381.8 355.5 381.8 356.0 381.8 356.5 381.8 357.0 381.8 357.5 381.8 358.0 381.8 358.5 381.8 359.0 381.8 359.5 381.8 360.0 381.8 360.5 381.8 361.0 381.8 361.5 381.8 362.0 381.8 362.5 381.8 363.0 381.8 363.5 381.8 364.0 381.8 364.5 381.8 365.0 381.8 365.5 381.8 366.0 381.8 366.5 381.8 367.0 381.8 367.5 381.8 368.0 381.8 368.5 381.8 369.0 381.8 369.5 381.8 370.0 381.9 370.5 381.9 371.0 381.9 371.5 381.9 372.0 381.9 372.5 381.9 373.0 381.9 373.5 381.9 374.0 381.9 374.5 381.9 375.0 381.9 375.5 381.9 376.0 381.9 376.5 381.9 377.0 381.9 377.5 381.9 378.0 381.9 378.5 381.9 379.0 381.9 379.5 381.9 380.0 381.9 380.5 381.9 381.0 381.9 381.5 381.9 382.0 381.9 382.5 381.9 383.0 381.9 383.5 381.9 384.0 381.9 384.5 381.9 385.0 381.9 385.5 381.9 386.0 381.9 386.5 381.9 387.0 381.9 387.5 381.9 388.0 381.9 388.5 381.9 389.0 381.9 389.5 381.9 390.0 381.9 390.5 381.9 391.0 381.9 391.5 381.9 392.0 381.9 392.5 381.9 393.0 381.9 393.5 381.9 394.0 381.9 394.5 381.9 395.0 381.9 395.5 381.9 396.0 381.9 396.5 381.9 397.0 381.9 397.5 381.9 398.0 381.9 398.5 381.9 399.0 381.9 399.5 381.9 400.0 381.9 400.5 381.9 401.0 381.9 401.5 381.9 402.0 381.9 402.5 381.9 403.0 381.9 403.5 382.0 404.0 382.0 404.5 382.0 405.0 382.0 405.5 382.0 406.0 382.0 406.5 382.0 407.0 382.0 407.5 382.0 408.0 382.0 408.5 382.0 409.0 382.0 409.5 382.0 410.0 382.0 410.5 382.0 411.0 382.0 411.5 382.0 412.0 382.0 412.5 382.0 413.0 382.0 413.5 382.0 414.0 382.0 414.5 382.0 415.0 382.0 415.5 382.0 416.0 382.0 416.5 382.0 417.0 382.0 417.5 382.0 418.0 382.0 418.5 382.0 419.0 382.0 419.5 382.0 420.0 382.0 420.5 381.9 421.0 381.9 421.5 381.8 422.0 381.8 422.5 381.7 423.0 381.6 423.5 381.6 424.0 381.5 424.5 381.5 425.0 381.4 425.5 381.3 426.0 381.3 426.5 381.2 427.0 381.2 427.5 381.1 428.0 381.0 428.5 381.0 429.0 380.9 429.5 380.9 430.0 380.8 430.5 381.0 431.0 381.1 431.5 381.3 432.0 381.4 432.5 381.6 433.0 381.8 433.5 381.9 434.0 382.1 434.5 382.2 435.0 382.4 435.5 382.6 436.0 382.7 436.5 382.9 437.0 383.0 437.5 383.2 438.0 383.4 438.5 383.5 439.0 383.7 439.5 383.8 440.0 384.0 440.5 383.8 441.0 383.6 441.5 383.4 442.0 383.2 442.5 383.0 443.0 382.8 443.5 382.6 444.0 382.4 444.5 382.2 445.0 382.0 445.5 381.8 446.0 381.6 446.5 381.4 447.0 381.2 447.5 381.0 448.0 380.8 448.5 380.6 449.0 380.4 449.5 380.2 450.0 380.0 450.5 379.8 451.0 379.6 451.5 379.4 452.0 379.2 452.5 379.0 453.0 378.8 453.5 378.6 454.0 378.4 454.5 378.2 455.0 378.0 455.5 377.8 456.0 377.5 456.5 377.3 457.0 377.0 457.5 376.8 458.0 376.6 458.5 376.3 459.0 376.1 459.5 375.8 460.0 375.6 460.5 375.4 461.0 375.1 461.5 374.9 462.0 374.6 462.5 374.4 463.0 374.2 463.5 373.9 464.0 373.7 464.5 373.4 465.0 373.2 465.5 373.0 466.0 372.7 466.5 372.5 467.0 372.2 467.5 372.0 468.0 371.8 468.5 371.5 469.0 371.3 469.5 371.0 470.0 370.8 470.5 370.8 471.0 370.7 471.5 370.7 472.0 370.6 472.5 370.6 473.0 370.5 473.5 370.5 474.0 370.4 474.5 370.4 475.0 370.3 475.5 370.3 476.0 370.2 476.5 370.2 477.0 370.1 477.5 370.1 478.0 370.1 478.5 370.0 479.0 370.0 479.5 369.9 480.0 369.9 480.5 369.8 481.0 369.8 481.5 369.7 482.0 369.7 482.5 369.6 483.0 369.6 483.5 369.5 484.0 369.5 484.5 369.4 485.0 369.4 485.5 369.4 486.0 369.3 486.5 369.3 487.0 369.2 487.5 369.2 488.0 369.1 488.5 369.1 489.0 369.0 489.5 369.0 490.0 368.9 490.5 368.9 491.0 368.8 491.5 368.8 492.0 368.7 492.5 368.7 493.0 368.7 493.5 368.6 494.0 368.6 494.5 368.5 495.0 368.5 495.5 368.4 496.0 368.4 496.5 368.3 497.0 368.3 497.5 368.2 498.0 368.2 498.5 368.1 499.0 368.1 499.5 368.0 500.0 368.0 500.5 367.9 501.0 367.9 501.5 367.9 502.0 367.8 502.5 367.8 503.0 367.7 503.5 367.6 504.0 367.6 504.5 367.6 505.0 367.5 505.5 367.4 506.0 367.4 506.5 367.4 507.0 367.3 507.5 367.2 508.0 367.2 508.5 367.1 509.0 367.1 509.5 367.1 510.0 367.0 510.5 366.9 511.0 366.9 511.5 366.9 512.0 366.8 512.5 366.8 513.0 366.7 513.5 366.6 514.0 366.6 514.5 366.6 515.0 366.5 515.5 366.4 516.0 366.4 516.5 366.4 517.0 366.3 517.5 366.2 518.0 366.2 518.5 366.1 519.0 366.1 519.5 366.1 520.0 366.0 520.5 366.3 521.0 366.6 521.5 366.9 522.0 367.2 522.5 367.5 523.0 367.8 523.5 368.1 524.0 368.4 524.5 368.7 525.0 369.0 525.5 369.3 526.0 369.6 526.5 369.9 527.0 370.2 527.5 370.5 528.0 370.8 528.5 371.1 529.0 371.4 529.5 371.7 530.0 372.0 530.5 371.8 531.0 371.6 531.5 371.3 532.0 371.1 532.5 370.9 533.0 370.6 533.5 370.4 534.0 370.2 534.5 370.0 535.0 369.8 535.5 369.5 536.0 369.3 536.5 369.1 537.0 368.9 537.5 368.6 538.0 368.4 538.5 368.2 539.0 367.9 539.5 367.7 540.0 367.5 540.5 367.5 541.0 367.5 541.5 367.5 542.0 367.5 542.5 367.5 543.0 367.5 543.5 367.5 544.0 367.5 544.5 367.5 545.0 367.5 545.5 367.5 546.0 367.5 546.5 367.5 547.0 367.5 547.5 367.5 548.0 367.5 548.5 367.5 549.0 367.5 549.5 367.5 550.0 367.5 550.5 367.5 551.0 367.5 551.5 367.5 552.0 367.5 552.5 367.5 553.0 367.5 553.5 367.5 554.0 367.5 554.5 367.5 555.0 367.5 555.5 367.5 556.0 367.5 556.5 367.5 557.0 367.5 557.5 367.5 558.0 367.5 558.5 367.5 559.0 367.5 559.5 367.5 560.0 367.5 560.5 367.5 561.0 367.5 561.5 367.5 562.0 367.5 562.5 367.5 563.0 367.5 563.5 367.5 564.0 367.5 564.5 367.5 565.0 367.5 565.5 367.5 566.0 367.5 566.5 367.5 567.0 367.5 567.5 367.5 568.0 367.5 568.5 367.5 569.0 367.5 569.5 367.5 570.0 367.5 570.5 367.5 571.0 367.5 571.5 367.5 572.0 367.5 572.5 367.5 573.0 367.5 573.5 367.5 574.0 367.5 574.5 367.5 575.0 367.5 575.5 368.0 576.0 368.4 576.5 368.9 577.0 369.4 577.5 369.8 578.0 370.3 578.5 370.8 579.0 371.2 579.5 371.7 580.0 372.1 580.5 372.6 581.0 373.1 581.5 373.5 582.0 374.0 582.5 373.9 583.0 373.9 583.5 373.8 584.0 373.8 584.5 373.7 585.0 373.6 585.5 373.6 586.0 373.5 586.5 373.4 587.0 373.4 587.5 373.3 588.0 373.2 588.5 373.2 589.0 373.1 589.5 373.1 590.0 373.0 590.5 372.9 591.0 372.9 591.5 372.8 592.0 372.8 592.5 372.7 593.0 372.6 593.5 372.6 594.0 372.5 594.5 372.4 595.0 372.4 595.5 372.3 596.0 372.2 596.5 372.2 597.0 372.1L597.0 392.1 596.5 392.2 596.0 392.2 595.5 392.3 595.0 392.4 594.5 392.4 594.0 392.5 593.5 392.6 593.0 392.6 592.5 392.7 592.0 392.8 591.5 392.8 591.0 392.9 590.5 392.9 590.0 393.0 589.5 393.1 589.0 393.1 588.5 393.2 588.0 393.2 587.5 393.3 587.0 393.4 586.5 393.4 586.0 393.5 585.5 393.6 585.0 393.6 584.5 393.7 584.0 393.8 583.5 393.8 583.0 393.9 582.5 393.9 582.0 394.0 581.5 393.5 581.0 393.0 580.5 392.4 580.0 391.9 579.5 391.4 579.0 390.9 578.5 390.4 578.0 389.8 577.5 389.3 577.0 388.8 576.5 388.3 576.0 387.7 575.5 387.2 575.0 386.7 574.5 386.7 574.0 386.7 573.5 386.7 573.0 386.7 572.5 386.7 572.0 386.7 571.5 386.7 571.0 386.7 570.5 386.7 570.0 386.7 569.5 386.7 569.0 386.7 568.5 386.7 568.0 386.7 567.5 386.7 567.0 386.7 566.5 386.7 566.0 386.7 565.5 386.7 565.0 386.7 564.5 386.7 564.0 386.7 563.5 386.7 563.0 386.7 562.5 386.7 562.0 386.7 561.5 386.7 561.0 386.7 560.5 386.7 560.0 386.7 559.5 386.7 559.0 386.7 558.5 386.7 558.0 386.7 557.5 386.7 557.0 386.7 556.5 386.7 556.0 386.7 555.5 386.7 555.0 386.7 554.5 386.7 554.0 386.7 553.5 386.7 553.0 386.7 552.5 386.7 552.0 386.7 551.5 386.7 551.0 386.7 550.5 386.7 550.0 386.7 549.5 386.7 549.0 386.7 548.5 386.7 548.0 386.7 547.5 386.7 547.0 386.7 546.5 386.7 546.0 386.7 545.5 386.7 545.0 386.7 544.5 386.7 544.0 386.7 543.5 386.7 543.0 386.7 542.5 386.7 542.0 386.7 541.5 386.7 541.0 386.7 540.5 386.7 540.0 386.7 539.5 387.0 539.0 387.2 538.5 387.5 538.0 387.8 537.5 388.0 537.0 388.3 536.5 388.6 536.0 388.8 535.5 389.1 535.0 389.4 534.5 389.6 534.0 389.9 533.5 390.1 533.0 390.4 532.5 390.7 532.0 390.9 531.5 391.2 531.0 391.5 530.5 391.7 530.0 392.0 529.5 391.6 529.0 391.3 528.5 390.9 528.0 390.6 527.5 390.2 527.0 389.9 526.5 389.6 526.0 389.2 525.5 388.9 525.0 388.5 524.5 388.1 524.0 387.8 523.5 387.4 523.0 387.1 522.5 386.8 522.0 386.4 521.5 386.1 521.0 385.7 520.5 385.4 520.0 385.0 519.5 385.0 519.0 385.1 518.5 385.1 518.0 385.1 517.5 385.2 517.0 385.2 516.5 385.2 516.0 385.2 515.5 385.3 515.0 385.3 514.5 385.3 514.0 385.4 513.5 385.4 513.0 385.4 512.5 385.5 512.0 385.5 511.5 385.5 511.0 385.6 510.5 385.6 510.0 385.6 509.5 385.7 509.0 385.7 508.5 385.7 508.0 385.8 507.5 385.8 507.0 385.8 506.5 385.8 506.0 385.9 505.5 385.9 505.0 385.9 504.5 386.0 504.0 386.0 503.5 386.0 503.0 386.1 502.5 386.1 502.0 386.1 501.5 386.2 501.0 386.2 500.5 386.2 500.0 386.2 499.5 386.3 499.0 386.3 498.5 386.3 498.0 386.4 497.5 386.4 497.0 386.4 496.5 386.5 496.0 386.5 495.5 386.5 495.0 386.6 494.5 386.6 494.0 386.6 493.5 386.7 493.0 386.7 492.5 386.7 492.0 386.8 491.5 386.8 491.0 386.8 490.5 386.8 490.0 386.9 489.5 386.9 489.0 386.9 488.5 387.0 488.0 387.0 487.5 387.0 487.0 387.1 486.5 387.1 486.0 387.1 485.5 387.2 485.0 387.2 484.5 387.2 484.0 387.2 483.5 387.3 483.0 387.3 482.5 387.3 482.0 387.4 481.5 387.4 481.0 387.4 480.5 387.5 480.0 387.5 479.5 387.7 479.0 388.0 478.5 388.2 478.0 388.4 477.5 388.6 477.0 388.9 476.5 389.1 476.0 389.3 475.5 389.6 475.0 389.8 474.5 390.0 474.0 390.3 473.5 390.5 473.0 390.7 472.5 390.9 472.0 391.2 471.5 391.4 471.0 391.6 470.5 391.9 470.0 392.1 469.5 392.3 469.0 392.6 468.5 392.8 468.0 393.0 467.5 393.2 467.0 393.5 466.5 393.7 466.0 393.9 465.5 394.2 465.0 394.4 464.5 394.6 464.0 394.9 463.5 395.1 463.0 395.3 462.5 395.6 462.0 395.8 461.5 396.0 461.0 396.2 460.5 396.5 460.0 396.7 459.5 396.9 459.0 397.1 458.5 397.3 458.0 397.5 457.5 397.7 457.0 397.9 456.5 398.2 456.0 398.4 455.5 398.6 455.0 398.8 454.5 399.0 454.0 399.2 453.5 399.4 453.0 399.6 452.5 399.8 452.0 400.0 451.5 400.2 451.0 400.4 450.5 400.6 450.0 400.9 449.5 401.1 449.0 401.3 448.5 401.5 448.0 401.7 447.5 401.9 447.0 402.1 446.5 402.3 446.0 402.5 445.5 402.7 445.0 402.9 444.5 403.1 444.0 403.3 443.5 403.5 443.0 403.8 442.5 404.0 442.0 404.2 441.5 404.4 441.0 404.6 440.5 404.8 440.0 405.0 439.5 404.7 439.0 404.4 438.5 404.1 438.0 403.8 437.5 403.5 437.0 403.2 436.5 402.9 436.0 402.6 435.5 402.3 435.0 402.0 434.5 401.7 434.0 401.4 433.5 401.1 433.0 400.8 432.5 400.5 432.0 400.2 431.5 399.9 431.0 399.6 430.5 399.3 430.0 399.0 429.5 398.7 429.0 398.4 428.5 398.1 428.0 397.8 427.5 397.5 427.0 397.2 426.5 396.9 426.0 396.6 425.5 396.3 425.0 396.0 424.5 397.0 424.0 398.0 423.5 399.0 423.0 400.0 422.5 401.0 422.0 402.0 421.5 403.0 421.0 404.0 420.5 405.0 420.0 406.0 419.5 406.0 419.0 406.0 418.5 406.0 418.0 406.0 417.5 406.0 417.0 406.0 416.5 406.0 416.0 406.0 415.5 406.0 415.0 406.0 414.5 406.0 414.0 406.0 413.5 406.0 413.0 406.0 412.5 406.0 412.0 406.0 411.5 406.0 411.0 406.0 410.5 406.0 410.0 406.0 409.5 406.0 409.0 406.0 408.5 406.0 408.0 406.0 407.5 406.0 407.0 406.0 406.5 406.0 406.0 406.0 405.5 406.0 405.0 406.0 404.5 406.0 404.0 406.0 403.5 406.0 403.0 406.0 402.5 406.0 402.0 406.0 401.5 406.0 401.0 406.0 400.5 406.0 400.0 406.0 399.5 406.0 399.0 406.0 398.5 406.0 398.0 406.0 397.5 406.0 397.0 406.0 396.5 406.0 396.0 406.0 395.5 406.0 395.0 405.9 394.5 405.9 394.0 405.9 393.5 405.9 393.0 405.9 392.5 405.9 392.0 405.9 391.5 405.9 391.0 405.9 390.5 405.9 390.0 405.9 389.5 405.9 389.0 405.9 388.5 405.9 388.0 405.9 387.5 405.9 387.0 405.9 386.5 405.9 386.0 405.9 385.5 405.9 385.0 405.9 384.5 405.9 384.0 405.9 383.5 405.9 383.0 405.9 382.5 405.9 382.0 405.9 381.5 405.9 381.0 405.9 380.5 405.9 380.0 405.9 379.5 405.9 379.0 405.9 378.5 405.9 378.0 405.9 377.5 405.9 377.0 405.9 376.5 405.9 376.0 405.9 375.5 405.9 375.0 405.9 374.5 405.9 374.0 405.9 373.5 405.9 373.0 405.9 372.5 405.9 372.0 405.9 371.5 405.9 371.0 405.9 370.5 405.9 370.0 405.9 369.5 405.9 369.0 405.9 368.5 405.9 368.0 405.9 367.5 405.9 367.0 405.9 366.5 405.9 366.0 405.9 365.5 405.9 365.0 405.9 364.5 405.9 364.0 405.9 363.5 405.9 363.0 405.9 362.5 405.9 362.0 405.9 361.5 405.9 361.0 405.9 360.5 405.9 360.0 405.9 359.5 405.9 359.0 405.9 358.5 405.9 358.0 405.9 357.5 405.9 357.0 405.9 356.5 405.9 356.0 405.9 355.5 405.9 355.0 405.9 354.5 405.9 354.0 405.9 353.5 405.9 353.0 405.9 352.5 405.9 352.0 405.9 351.5 405.9 351.0 405.9 350.5 405.9 350.0 405.9 349.5 405.9 349.0 405.9 348.5 405.9 348.0 405.9 347.5 405.9 347.0 405.9 346.5 405.9 346.0 405.9 345.5 405.9 345.0 405.9 344.5 405.8 344.0 405.8 343.5 405.8 343.0 405.8 342.5 405.8 342.0 405.8 341.5 405.8 341.0 405.8 340.5 405.8 340.0 405.8 339.5 405.8 339.0 405.8 338.5 405.8 338.0 405.8 337.5 405.8 337.0 405.8 336.5 405.8 336.0 405.8 335.5 405.8 335.0 405.8 334.5 405.8 334.0 405.8 333.5 405.8 333.0 405.8 332.5 405.8 332.0 405.8 331.5 405.8 331.0 405.8 330.5 405.8 330.0 405.8 329.5 405.8 329.0 405.8 328.5 405.8 328.0 405.8 327.5 405.8 327.0 405.8 326.5 405.8 326.0 405.8 325.5 405.8 325.0 405.8 324.5 405.8 324.0 405.8 323.5 405.8 323.0 405.8 322.5 405.8 322.0 405.8 321.5 405.8 321.0 405.8 320.5 405.8 320.0 405.8 319.5 405.7 319.0 405.5 318.5 405.4 318.0 405.3 317.5 405.1 317.0 405.0 316.5 404.9 316.0 404.7 315.5 404.6 315.0 404.5 314.5 404.3 314.0 404.2 313.5 404.1 313.0 404.0 312.5 403.8 312.0 403.7 311.5 403.6 311.0 403.4 310.5 403.3 310.0 403.2 309.5 403.0 309.0 402.9 308.5 402.8 308.0 402.6 307.5 402.5 307.0 402.4 306.5 402.2 306.0 402.1 305.5 402.0 305.0 401.8 304.5 401.7 304.0 401.6 303.5 401.4 303.0 401.3 302.5 401.2 302.0 401.0 301.5 400.9 301.0 400.8 300.5 400.7 300.0 400.5 299.5 400.4 299.0 400.3 298.5 400.1 298.0 400.0 297.5 399.9 297.0 399.7 296.5 399.6 296.0 399.5 295.5 399.3 295.0 399.2 294.5 398.9 294.0 398.7 293.5 398.4 293.0 398.2 292.5 397.9 292.0 397.7 291.5 397.4 291.0 397.2 290.5 396.9 290.0 396.7 289.5 396.4 289.0 396.2 288.5 395.9 288.0 395.7 287.5 395.4 287.0 395.2 286.5 394.9 286.0 394.7 285.5 394.4 285.0 394.2 284.5 393.9 284.0 393.7 283.5 393.4 283.0 393.2 282.5 392.9 282.0 392.7 281.5 392.4 281.0 392.2 280.5 391.9 280.0 391.7 279.5 391.8 279.0 391.9 278.5 391.9 278.0 392.0 277.5 392.1 277.0 392.2 276.5 392.3 276.0 392.4 275.5 392.4 275.0 392.5 274.5 392.6 274.0 392.7 273.5 392.8 273.0 392.9 272.5 392.9 272.0 393.0 271.5 393.1 271.0 393.2 270.5 393.3 270.0 393.4 269.5 393.4 269.0 393.5 268.5 393.6 268.0 393.7 267.5 393.8 267.0 393.8 266.5 393.9 266.0 394.0 265.5 394.1 265.0 394.2 264.5 394.3 264.0 394.3 263.5 394.4 263.0 394.5 262.5 394.6 262.0 394.7 261.5 394.8 261.0 394.8 260.5 394.9 260.0 395.0 259.5 394.7 259.0 394.5 258.5 394.2 258.0 393.9 257.5 393.6 257.0 393.4 256.5 393.1 256.0 392.8 255.5 392.6 255.0 392.3 254.5 392.0 254.0 391.8 253.5 391.5 253.0 391.2 252.5 390.9 252.0 390.7 251.5 390.4 251.0 390.1 250.5 389.9 250.0 389.6 249.5 389.3 249.0 389.0 248.5 388.8 248.0 388.5 247.5 388.5 247.0 388.5 246.5 388.5 246.0 388.6 245.5 388.6 245.0 388.6 244.5 388.6 244.0 388.6 243.5 388.6 243.0 388.7 242.5 388.7 242.0 388.7 241.5 388.7 241.0 388.7 240.5 388.7 240.0 388.8 239.5 388.8 239.0 388.8 238.5 388.8 238.0 388.8 237.5 388.8 237.0 388.8 236.5 388.9 236.0 388.9 235.5 388.9 235.0 388.9 234.5 388.9 234.0 388.9 233.5 389.0 233.0 389.0 232.5 389.0 232.0 389.0 231.5 389.0 231.0 389.0 230.5 389.0 230.0 389.1 229.5 389.1 229.0 389.1 228.5 389.1 228.0 389.1 227.5 389.1 227.0 389.2 226.5 389.2 226.0 389.2 225.5 389.2 225.0 389.2 224.5 389.2 224.0 389.2 223.5 389.3 223.0 389.3 222.5 389.3 222.0 389.3 221.5 389.3 221.0 389.3 220.5 389.4 220.0 389.4 219.5 389.4 219.0 389.4 218.5 389.4 218.0 389.4 217.5 389.5 217.0 389.5 216.5 389.5 216.0 389.5 215.5 389.5 215.0 389.5 214.5 389.5 214.0 389.6 213.5 389.6 213.0 389.6 212.5 389.6 212.0 389.6 211.5 389.6 211.0 389.7 210.5 389.7 210.0 389.7 209.5 389.7 209.0 389.7 208.5 389.7 208.0 389.8 207.5 389.8 207.0 389.8 206.5 389.8 206.0 389.8 205.5 389.8 205.0 389.8 204.5 389.9 204.0 389.9 203.5 389.9 203.0 389.9 202.5 389.9 202.0 389.9 201.5 390.0 201.0 390.0 200.5 390.0 200.0 390.0 199.5 390.2 199.0 390.4 198.5 390.7 198.0 390.9 197.5 391.1 197.0 391.3 196.5 391.6 196.0 391.8 195.5 392.0 195.0 392.2 194.5 392.5 194.0 392.7 193.5 392.9 193.0 393.1 192.5 393.4 192.0 393.6 191.5 393.8 191.0 394.0 190.5 394.2 190.0 394.5 189.5 394.7 189.0 394.9 188.5 395.1 188.0 395.4 187.5 395.6 187.0 395.8 186.5 396.0 186.0 396.3 185.5 396.5 185.0 396.7 184.5 396.7 184.0 396.6 183.5 396.6 183.0 396.5 182.5 396.5 182.0 396.4 181.5 396.4 181.0 396.3 180.5 396.3 180.0 396.2 179.5 396.2 179.0 396.2 178.5 396.1 178.0 396.1 177.5 396.0 177.0 396.0 176.5 395.9 176.0 395.9 175.5 395.8 175.0 395.8 174.5 395.9 174.0 396.1 173.5 396.2 173.0 396.4 172.5 396.5 172.0 396.6 171.5 396.8 171.0 396.9 170.5 397.1 170.0 397.2 169.5 397.3 169.0 397.5 168.5 397.6 168.0 397.8 167.5 397.9 167.0 398.0 166.5 398.2 166.0 398.3 165.5 398.5 165.0 398.6 164.5 398.7 164.0 398.9 163.5 399.0 163.0 399.2 162.5 399.3 162.0 399.4 161.5 399.6 161.0 399.7 160.5 399.9 160.0 400.0 159.5 400.1 159.0 400.2 158.5 400.3 158.0 400.4 157.5 400.5 157.0 400.6 156.5 400.7 156.0 400.8 155.5 400.9 155.0 401.0 154.5 401.1 154.0 401.2 153.5 401.4 153.0 401.5 152.5 401.6 152.0 401.7 151.5 401.8 151.0 401.9 150.5 402.0 150.0 402.1 149.5 402.2 149.0 402.3 148.5 402.4 148.0 402.5 147.5 402.2 147.0 402.0 146.5 401.7 146.0 401.4 145.5 401.2 145.0 400.9 144.5 400.7 144.0 400.4 143.5 400.1 143.0 399.9 142.5 399.6 142.0 399.4 141.5 399.1 141.0 398.8 140.5 398.6 140.0 398.3 139.5 398.2 139.0 398.1 138.5 397.9 138.0 397.8 137.5 397.7 137.0 397.6 136.5 397.4 136.0 397.3 135.5 397.2 135.0 397.1 134.5 396.9 134.0 396.8 133.5 396.7 133.0 396.6 132.5 396.4 132.0 396.3 131.5 396.2 131.0 396.1 130.5 395.9 130.0 395.8 129.5 395.7 129.0 395.6 128.5 395.4 128.0 395.3 127.5 395.2 127.0 395.1 126.5 394.9 126.0 394.8 125.5 394.7 125.0 394.6 124.5 394.4 124.0 394.3 123.5 394.2 123.0 394.1 122.5 393.9 122.0 393.8 121.5 393.7 121.0 393.6 120.5 393.4 120.0 393.3 119.5 393.3 119.0 393.3 118.5 393.4 118.0 393.4 117.5 393.4 117.0 393.4 116.5 393.5 116.0 393.5 115.5 393.5 115.0 393.5 114.5 393.5 114.0 393.6 113.5 393.6 113.0 393.6 112.5 393.6 112.0 393.7 111.5 393.7 111.0 393.7 110.5 393.7 110.0 393.8 109.5 393.8 109.0 393.8 108.5 393.8 108.0 393.8 107.5 393.9 107.0 393.9 106.5 393.9 106.0 393.9 105.5 394.0 105.0 394.0 104.5 394.0 104.0 394.0 103.5 394.0 103.0 394.1 102.5 394.1 102.0 394.1 101.5 394.1 101.0 394.2 100.5 394.2 100.0 394.2 99.5 394.4 99.0 394.6 98.5 394.8 98.0 394.9 97.5 395.1 97.0 395.3 96.5 395.5 96.0 395.7 95.5 395.9 95.0 396.1 94.5 396.3 94.0 396.4 93.5 396.6 93.0 396.8 92.5 397.0 92.0 397.2 91.5 397.4 91.0 397.6 90.5 397.8 90.0 397.9 89.5 398.1 89.0 398.3 88.5 398.5 88.0 398.7 87.5 398.9 87.0 399.1 86.5 399.3 86.0 399.4 85.5 399.6 85.0 399.8 84.5 400.0 84.0 400.2 83.5 400.4 83.0 400.6 82.5 400.8 82.0 400.9 81.5 401.1 81.0 401.3 80.5 401.5 80.0 401.7 79.5 401.8 79.0 401.8 78.5 401.9 78.0 401.9 77.5 402.0 77.0 402.0 76.5 402.1 76.0 402.1 75.5 402.2 75.0 402.2 74.5 402.3 74.0 402.3 73.5 402.4 73.0 402.4 72.5 402.5 72.0 402.5 71.5 402.6 71.0 402.6 70.5 402.7 70.0 402.7 69.5 402.8 69.0 402.8 68.5 402.9 68.0 402.9 67.5 403.0 67.0 403.0 66.5 403.1 66.0 403.1 65.5 403.2 65.0 403.2 64.5 403.3 64.0 403.4 63.5 403.4 63.0 403.5 62.5 403.5 62.0 403.6 61.5 403.6 61.0 403.7 60.5 403.7 60.0 403.8 59.5 403.8 59.0 403.9 58.5 403.9 58.0 404.0 57.5 404.0 57.0 404.1 56.5 404.1 56.0 404.2 55.5 404.2 55.0 404.3 54.5 404.3 54.0 404.4 53.5 404.4 53.0 404.5 52.5 404.5 52.0 404.6 51.5 404.6 51.0 404.7 50.5 404.7 50.0 404.8Z" fill="#d8d8d8" stroke="#222" stroke-width="0.8"/>
<path d="M50.0 394.8 50.5 394.8 51.0 394.8 51.5 394.7 52.0 394.7 52.5 394.6 53.0 394.6 53.5 394.5 54.0 394.5 54.5 394.5 55.0 394.4 55.5 394.4 56.0 394.3 56.5 394.3 57.0 394.2 57.5 394.2 58.0 394.2 58.5 394.1 59.0 394.1 59.5 394.0 60.0 394.0 60.5 393.9 61.0 393.8 61.5 393.7 62.0 393.5 62.5 393.4 63.0 393.3 63.5 393.2 64.0 393.1 64.5 393.0 65.0 392.9 65.5 392.7 66.0 392.6 66.5 392.5 67.0 392.4 67.5 392.3 68.0 392.2 68.5 392.0 69.0 391.9 69.5 391.8 70.0 391.7 70.5 391.5 71.0 391.4 71.5 391.2 72.0 391.0 72.5 390.9 73.0 390.7 73.5 390.5 74.0 390.3 74.5 390.2 75.0 390.0 75.5 389.8 76.0 389.7 76.5 389.5 77.0 389.3 77.5 389.1 78.0 389.0 78.5 388.8 79.0 388.6 79.5 388.5 80.0 388.3 80.5 388.2 81.0 388.1 81.5 387.9 82.0 387.8 82.5 387.7 83.0 387.6 83.5 387.4 84.0 387.3 84.5 387.2 85.0 387.1 85.5 386.9 86.0 386.8 86.5 386.7 87.0 386.6 87.5 386.4 88.0 386.3 88.5 386.2 89.0 386.1 89.5 385.9 90.0 385.8 90.5 385.7 91.0 385.6 91.5 385.4 92.0 385.3 92.5 385.2 93.0 385.1 93.5 384.9 94.0 384.8 94.5 384.7 95.0 384.6 95.5 384.4 96.0 384.3 96.5 384.2 97.0 384.1 97.5 383.9 98.0 383.8 98.5 383.7 99.0 383.6 99.5 383.4 100.0 383.3 100.5 383.3 101.0 383.2 101.5 383.2 102.0 383.1 102.5 383.1 103.0 383.1 103.5 383.0 104.0 383.0 104.5 382.9 105.0 382.9 105.5 382.9 106.0 382.8 106.5 382.8 107.0 382.7 107.5 382.7 108.0 382.7 108.5 382.6 109.0 382.6 109.5 382.5 110.0 382.5 110.5 382.5 111.0 382.6 111.5 382.6 112.0 382.7 112.5 382.7 113.0 382.7 113.5 382.8 114.0 382.8 114.5 382.9 115.0 382.9 115.5 382.9 116.0 383.0 116.5 383.0 117.0 383.1 117.5 383.1 118.0 383.1 118.5 383.2 119.0 383.2 119.5 383.3 120.0 383.3 120.5 383.4 121.0 383.5 121.5 383.6 122.0 383.7 122.5 383.8 123.0 383.9 123.5 384.0 124.0 384.1 124.5 384.3 125.0 384.4 125.5 384.5 126.0 384.6 126.5 384.7 127.0 384.8 127.5 384.9 128.0 385.0 128.5 385.1 129.0 385.3 129.5 385.4 130.0 385.5 130.5 385.7 131.0 385.8 131.5 386.0 132.0 386.1 132.5 386.0 133.0 385.3 133.5 383.4 134.0 379.6 134.5 374.5 135.0 369.6 135.5 366.3 136.0 365.2 136.5 365.5 137.0 367.2 137.5 371.2 138.0 376.6 138.5 381.8 139.0 385.4 139.5 387.3 140.0 388.1 140.5 388.9 141.0 389.5 141.5 390.1 142.0 390.7 142.5 391.2 143.0 391.8 143.5 392.4 144.0 393.0 144.5 393.6 145.0 394.2 145.5 394.2 146.0 394.3 146.5 394.3 147.0 394.3 147.5 394.4 148.0 394.4 148.5 394.4 149.0 394.4 149.5 394.5 150.0 394.5 150.5 394.3 151.0 394.1 151.5 393.9 152.0 393.8 152.5 393.6 153.0 393.4 153.5 393.2 154.0 393.0 154.5 392.8 155.0 392.6 155.5 392.5 156.0 392.3 156.5 392.1 157.0 391.9 157.5 391.7 158.0 391.5 158.5 391.4 159.0 391.2 159.5 391.0 160.0 390.8 160.5 390.6 161.0 390.4 161.5 390.2 162.0 390.0 162.5 389.8 163.0 389.6 163.5 389.4 164.0 389.2 164.5 389.0 165.0 388.8 165.5 388.5 166.0 388.3 166.5 388.1 167.0 387.9 167.5 387.7 168.0 387.5 168.5 387.3 169.0 387.1 169.5 386.9 170.0 386.7 170.5 386.5 171.0 386.4 171.5 386.2 172.0 386.0 172.5 385.9 173.0 385.7 173.5 385.5 174.0 385.3 174.5 385.2 175.0 385.0 175.5 384.8 176.0 384.7 176.5 384.5 177.0 384.3 177.5 384.1 178.0 384.0 178.5 383.8 179.0 383.6 179.5 383.5 180.0 383.3 180.5 383.6 181.0 383.8 181.5 384.1 182.0 384.3 182.5 384.6 183.0 384.8 183.5 385.1 184.0 385.3 184.5 385.6 185.0 385.8 185.5 385.1 186.0 384.4 186.5 383.8 187.0 383.1 187.5 382.4 188.0 381.7 188.5 381.0 189.0 380.4 189.5 379.7 190.0 379.0 190.5 379.3 191.0 379.5 191.5 379.8 192.0 380.1 192.5 380.4 193.0 380.6 193.5 380.9 194.0 381.2 194.5 381.4 195.0 381.7 195.5 381.7 196.0 381.7 196.5 381.6 197.0 381.6 197.5 381.6 198.0 381.6 198.5 381.5 199.0 381.5 199.5 381.5 200.0 381.5 200.5 381.5 201.0 381.4 201.5 381.4 202.0 381.4 202.5 381.4 203.0 381.3 203.5 381.3 204.0 381.3 204.5 381.3 205.0 381.2 205.5 381.2 206.0 381.2 206.5 381.2 207.0 381.2 207.5 381.1 208.0 381.1 208.5 381.1 209.0 381.1 209.5 381.0 210.0 381.0 210.5 381.0 211.0 381.0 211.5 381.0 212.0 380.9 212.5 380.9 213.0 380.9 213.5 380.9 214.0 380.8 214.5 380.8 215.0 380.8 215.5 380.7 216.0 380.6 216.5 380.6 217.0 380.5 217.5 380.4 218.0 380.3 218.5 380.2 219.0 380.2 219.5 380.1 220.0 380.0 220.5 379.9 221.0 379.8 221.5 379.8 222.0 379.7 222.5 379.6 223.0 379.5 223.5 379.4 224.0 379.4 224.5 379.3 225.0 379.2 225.5 379.2 226.0 379.2 226.5 379.3 227.0 379.3 227.5 379.3 228.0 379.3 228.5 379.3 229.0 379.3 229.5 379.4 230.0 379.4 230.5 379.4 231.0 379.4 231.5 379.4 232.0 379.4 232.5 379.5 233.0 379.5 233.5 379.5 234.0 379.5 234.5 379.5 235.0 379.5 235.5 379.6 236.0 379.6 236.5 379.6 237.0 379.6 237.5 379.6 238.0 379.7 238.5 379.7 239.0 379.7 239.5 379.7 240.0 379.7 240.5 379.7 241.0 379.8 241.5 379.8 242.0 379.8 242.5 379.8 243.0 379.8 243.5 379.8 244.0 379.9 244.5 379.9 245.0 379.9 245.5 379.9 246.0 379.9 246.5 379.9 247.0 380.0 247.5 380.0 248.0 380.0 248.5 380.2 249.0 380.3 249.5 380.5 250.0 380.7 250.5 380.8 251.0 381.0 251.5 381.2 252.0 381.3 252.5 381.5 253.0 381.6 253.5 381.8 254.0 382.0 254.5 382.1 255.0 382.3 255.5 382.5 256.0 382.6 256.5 382.8 257.0 383.0 257.5 383.1 258.0 383.3 258.5 383.4 259.0 383.5 259.5 383.7 260.0 383.8 260.5 383.9 261.0 384.0 261.5 384.1 262.0 384.3 262.5 384.4 263.0 384.5 263.5 384.6 264.0 384.8 264.5 384.9 265.0 385.0 265.5 384.9 266.0 384.8 266.5 384.6 267.0 384.5 267.5 384.4 268.0 384.2 268.5 384.1 269.0 384.0 269.5 383.9 270.0 383.8 270.5 383.6 271.0 383.5 271.5 383.4 272.0 383.2 272.5 383.1 273.0 383.0 273.5 382.9 274.0 382.8 274.5 382.6 275.0 382.5 275.5 382.6 276.0 382.7 276.5 382.7 277.0 382.8 277.5 382.9 278.0 383.0 278.5 383.1 279.0 383.1 279.5 383.2 280.0 383.3 280.5 383.6 281.0 384.0 281.5 384.3 282.0 384.6 282.5 385.0 283.0 385.3 283.5 385.6 284.0 386.0 284.5 386.3 285.0 386.6 285.5 387.0 286.0 387.3 286.5 387.7 287.0 388.0 287.5 388.3 288.0 388.7 288.5 389.0 289.0 389.3 289.5 389.7 290.0 390.0 290.5 390.3 291.0 390.6 291.5 390.9 292.0 391.2 292.5 391.5 293.0 391.8 293.5 392.1 294.0 392.4 294.5 392.7 295.0 393.0 295.5 393.3 296.0 393.6 296.5 393.9 297.0 394.2 297.5 393.9 298.0 393.7 298.5 393.4 299.0 393.1 299.5 392.9 300.0 392.6 300.5 392.4 301.0 392.1 301.5 391.8 302.0 391.6 302.5 391.3 303.0 391.1 303.5 390.8 304.0 390.5 304.5 390.3 305.0 390.0 305.5 389.9 306.0 389.8 306.5 389.7 307.0 389.6 307.5 389.5 308.0 389.4 308.5 389.3 309.0 389.2 309.5 389.1 310.0 389.0 310.5 389.3 311.0 389.5 311.5 389.8 312.0 390.1 312.5 390.4 313.0 390.6 313.5 390.9 314.0 391.2 314.5 391.4 315.0 391.7 315.5 391.8 316.0 391.9 316.5 392.1 317.0 392.2 317.5 392.3 318.0 392.4 318.5 392.6 319.0 392.7 319.5 392.8 320.0 392.9 320.5 393.1 321.0 393.2 321.5 393.3 322.0 393.4 322.5 393.6 323.0 393.7 323.5 393.8 324.0 393.9 324.5 394.1 325.0 394.2 325.5 394.2 326.0 394.2 326.5 394.2 327.0 394.2 327.5 394.2 328.0 394.2 328.5 394.2 329.0 394.2 329.5 394.2 330.0 394.2 330.5 394.2 331.0 394.2 331.5 394.2 332.0 394.2 332.5 394.2 333.0 394.2 333.5 394.2 334.0 394.2 334.5 394.2 335.0 394.2 335.5 394.2 336.0 394.2 336.5 394.2 337.0 394.2 337.5 394.2 338.0 394.2 338.5 394.2 339.0 394.2 339.5 394.2 340.0 394.2 340.5 394.2 341.0 394.2 341.5 394.2 342.0 394.2 342.5 394.2 343.0 394.2 343.5 394.2 344.0 394.2 344.5 394.2 345.0 394.2 345.5 394.2 346.0 394.2 346.5 394.2 347.0 394.2 347.5 394.1 348.0 394.1 348.5 394.1 349.0 394.1 349.5 394.1 350.0 394.1 350.5 394.1 351.0 394.1 351.5 394.1 352.0 394.1 352.5 394.1 353.0 394.1 353.5 394.1 354.0 394.1 354.5 394.1 355.0 394.1 355.5 394.1 356.0 394.1 356.5 394.1 357.0 394.1 357.5 394.1 358.0 394.1 358.5 394.1 359.0 394.1 359.5 394.1 360.0 394.1 360.5 394.1 361.0 394.1 361.5 394.1 362.0 394.1 362.5 394.1 363.0 394.1 363.5 394.1 364.0 394.1 364.5 394.1 365.0 394.1 365.5 394.1 366.0 394.1 366.5 394.1 367.0 394.1 367.5 394.1 368.0 394.1 368.5 394.1 369.0 394.1 369.5 394.1 370.0 394.1 370.5 394.1 371.0 394.1 371.5 394.1 372.0 394.1 372.5 394.1 373.0 394.1 373.5 394.1 374.0 394.1 374.5 394.1 375.0 394.1 375.5 394.1 376.0 394.1 376.5 394.1 377.0 394.1 377.5 394.1 378.0 394.1 378.5 394.1 379.0 394.1 379.5 394.1 380.0 394.1 380.5 394.1 381.0 394.1 381.5 394.1 382.0 394.1 382.5 394.1 383.0 394.1 383.5 394.1 384.0 394.1 384.5 394.1 385.0 394.1 385.5 394.1 386.0 394.1 386.5 394.1 387.0 394.1 387.5 394.1 388.0 394.1 388.5 394.1 389.0 394.1 389.5 394.1 390.0 394.1 390.5 394.1 391.0 394.1 391.5 394.1 392.0 394.1 392.5 394.1 393.0 394.0 393.5 394.0 394.0 394.0 394.5 394.0 395.0 394.0 395.5 394.0 396.0 394.0 396.5 394.0 397.0 394.0 397.5 394.0 398.0 394.0 398.5 394.0 399.0 394.0 399.5 394.0 400.0 394.0 400.5 394.0 401.0 394.0 401.5 394.0 402.0 394.0 402.5 394.0 403.0 394.0 403.5 394.0 404.0 394.0 404.5 394.0 405.0 394.0 405.5 394.0 406.0 394.0 406.5 394.0 407.0 394.0 407.5 394.0 408.0 394.0 408.5 394.0 409.0 394.0 409.5 394.0 410.0 394.0 410.5 394.0 411.0 394.0 411.5 394.0 412.0 394.0 412.5 394.0 413.0 394.0 413.5 394.0 414.0 394.0 414.5 394.0 415.0 394.0 415.5 393.8 416.0 393.7 416.5 393.5 417.0 393.4 417.5 393.2 418.0 393.0 418.5 392.9 419.0 392.7 419.5 392.6 420.0 392.4 420.5 392.2 421.0 392.1 421.5 391.9 422.0 391.8 422.5 391.6 423.0 391.4 423.5 391.3 424.0 391.1 424.5 391.0 425.0 390.8 425.5 390.3 426.0 389.8 426.5 389.3 427.0 388.8 427.5 388.3 428.0 387.8 428.5 387.3 429.0 386.8 429.5 386.3 430.0 385.8 430.5 386.2 431.0 386.6 431.5 387.1 432.0 387.5 432.5 387.9 433.0 388.3 433.5 388.7 434.0 389.2 434.5 389.6 435.0 390.0 435.5 390.4 436.0 390.8 436.5 391.3 437.0 391.7 437.5 392.1 438.0 392.5 438.5 392.9 439.0 393.4 439.5 393.8 440.0 394.2 440.5 394.1 441.0 394.1 441.5 394.1 442.0 394.0 442.5 393.9 443.0 393.9 443.5 393.8 444.0 393.8 444.5 393.8 445.0 393.7 445.5 393.3 446.0 393.0 446.5 392.6 447.0 392.2 447.5 391.9 448.0 391.5 448.5 391.1 449.0 390.7 449.5 390.4 450.0 390.0 450.5 389.5 451.0 389.0 451.5 388.5 452.0 388.0 452.5 387.5 453.0 387.0 453.5 386.5 454.0 386.0 454.5 385.5 455.0 385.0 455.5 384.3 456.0 383.7 456.5 383.0 457.0 382.3 457.5 381.6 458.0 381.0 458.5 380.3 459.0 379.6 459.5 379.0 460.0 378.3 460.5 378.0 461.0 377.7 461.5 376.9 462.0 375.6 462.5 373.6 463.0 371.0 463.5 368.3 464.0 366.0 464.5 364.5 465.0 363.8 465.5 363.6 466.0 363.8 466.5 364.9 467.0 366.7 467.5 369.1 468.0 371.4 468.5 373.8 469.0 375.5 469.5 376.6 470.0 377.3 470.5 377.8 471.0 378.2 471.5 378.6 472.0 379.0 472.5 379.0 473.0 379.0 473.5 379.0 474.0 379.0 474.5 379.0 475.0 379.0 475.5 379.0 476.0 379.0 476.5 379.0 477.0 379.0 477.5 379.0 478.0 379.0 478.5 379.0 479.0 379.0 479.5 379.0 480.0 379.0 480.5 378.9 481.0 378.9 481.5 378.8 482.0 378.7 482.5 378.6 483.0 378.6 483.5 378.5 484.0 378.4 484.5 378.3 485.0 378.2 485.5 378.2 486.0 378.1 486.5 378.0 487.0 377.9 487.5 377.9 488.0 377.8 488.5 377.7 489.0 377.6 489.5 377.6 490.0 377.5 490.5 377.4 491.0 377.3 491.5 377.2 492.0 377.2 492.5 377.1 493.0 377.0 493.5 376.9 494.0 376.8 494.5 376.7 495.0 376.6 495.5 376.6 496.0 376.5 496.5 376.4 497.0 376.3 497.5 376.2 498.0 376.1 498.5 376.1 499.0 376.0 499.5 375.9 500.0 375.8 500.5 375.7 501.0 375.6 501.5 375.4 502.0 375.3 502.5 375.2 503.0 375.1 503.5 374.9 504.0 374.8 504.5 374.7 505.0 374.6 505.5 374.4 506.0 374.3 506.5 374.2 507.0 374.1 507.5 373.9 508.0 373.8 508.5 373.7 509.0 373.6 509.5 373.4 510.0 373.3 510.5 373.2 511.0 373.1 511.5 373.0 512.0 372.8 512.5 372.7 513.0 372.6 513.5 372.5 514.0 372.4 514.5 372.3 515.0 372.1 515.5 372.0 516.0 371.9 516.5 371.8 517.0 371.7 517.5 371.6 518.0 371.5 518.5 371.3 519.0 371.2 519.5 371.1 520.0 371.0 520.5 371.6 521.0 372.0 521.5 372.3 522.0 372.1 522.5 371.2 523.0 369.4 523.5 367.1 524.0 365.1 524.5 363.9 525.0 363.8 525.5 364.3 526.0 365.4 526.5 367.6 527.0 370.6 527.5 374.0 528.0 377.1 528.5 379.4 529.0 380.8 529.5 381.8 530.0 382.5 530.5 382.1 531.0 381.8 531.5 381.4 532.0 381.1 532.5 380.7 533.0 380.4 533.5 380.0 534.0 379.7 534.5 379.4 535.0 379.0 535.5 378.7 536.0 378.4 536.5 378.0 537.0 377.7 537.5 377.4 538.0 377.1 538.5 376.8 539.0 376.4 539.5 376.1 540.0 375.8 540.5 375.8 541.0 375.8 541.5 375.8 542.0 375.8 542.5 375.8 543.0 375.8 543.5 375.8 544.0 375.8 544.5 375.8 545.0 375.8 545.5 375.8 546.0 375.8 546.5 375.8 547.0 375.8 547.5 375.8 548.0 375.8 548.5 375.8 549.0 375.8 549.5 375.8 550.0 375.8 550.5 375.8 551.0 375.8 551.5 375.8 552.0 375.8 552.5 375.8 553.0 375.8 553.5 375.8 554.0 375.8 554.5 375.8 555.0 375.8 555.5 375.8 556.0 375.8 556.5 375.8 557.0 375.8 557.5 375.8 558.0 375.8 558.5 375.8 559.0 375.8 559.5 375.8 560.0 375.8 560.5 375.8 561.0 375.8 561.5 375.8 562.0 375.8 562.5 375.8 563.0 375.8 563.5 375.8 564.0 375.8 564.5 375.8 565.0 375.8 565.5 375.8 566.0 375.8 566.5 375.8 567.0 375.8 567.5 375.8 568.0 375.8 568.5 375.8 569.0 375.8 569.5 375.8 570.0 375.8 570.5 375.8 571.0 375.8 571.5 375.8 572.0 375.8 572.5 375.8 573.0 375.8 573.5 375.8 574.0 375.8 574.5 375.8 575.0 375.8 575.5 376.6 576.0 377.4 576.5 378.3 577.0 379.1 577.5 379.9 578.0 380.7 578.5 381.5 579.0 382.4 579.5 383.2 580.0 384.0 580.5 383.9 581.0 383.7 581.5 383.6 582.0 383.4 582.5 383.2 583.0 383.1 583.5 382.9 584.0 382.8 584.5 382.6 585.0 382.5 585.5 382.4 586.0 382.2 586.5 382.1 587.0 381.9 587.5 381.8 588.0 381.6 588.5 381.4 589.0 381.3 589.5 381.1 590.0 381.0 590.5 381.0 591.0 381.0 591.5 381.0 592.0 381.0 592.5 381.0 593.0 381.0 593.5 381.0 594.0 381.0 594.5 381.0 595.0 381.0 595.5 381.0 596.0 381.0 596.5 381.0 597.0 381.0" fill="none" stroke="#4a80c4" stroke-width="2.0" stroke-linejoin="round"/>
<path d="M50.5 355.6V403.4M52.5 365.3V398.1M54.5 379.7V415.1M56.5 359.4V418.6M58.5 377.3V407.8M64.5 387.0V408.4M66.5 366.6V428.6M68.5 366.8V426.4M70.5 364.8V418.2M72.5 370.4V419.4M74.5 373.6V419.6M76.5 379.2V408.3M82.5 339.8V424.7M86.5 363.8V393.8M88.5 371.7V395.6M92.5 375.2V400.6M96.5 363.8V400.2M98.5 367.6V408.2M100.5 357.8V399.0M108.5 368.0V406.9M110.5 365.5V399.2M112.5 362.1V390.4M114.5 362.3V414.2M116.5 346.6V395.8M118.5 362.7V394.1M122.5 337.9V412.1M134.5 358.6V383.3M136.5 357.5V396.2M138.5 366.2V404.0M144.5 395.1V423.1M148.5 372.9V430.1M152.5 364.8V413.1M156.5 364.9V419.1M158.5 367.1V422.5M160.5 374.3V415.5M162.5 364.1V419.9M166.5 378.6V428.8M168.5 376.7V415.3M170.5 352.6V402.8M172.5 343.8V392.6M174.5 352.3V398.4M176.5 378.1V404.4M178.5 365.6V415.9M180.5 370.4V405.0M182.5 371.7V399.0M184.5 368.5V415.4M188.5 355.8V393.8M190.5 355.8V403.5M192.5 355.8V386.0M196.5 358.5V422.1M198.5 376.7V411.1M200.5 364.2V402.8M204.5 354.6V400.4M206.5 363.6V401.8M210.5 368.5V404.9M212.5 334.5V388.6M214.5 378.5V404.1M216.5 366.2V398.7M218.5 369.1V399.3M222.5 355.0V407.3M226.5 367.1V389.8M230.5 371.9V405.2M232.5 380.7V411.9M238.5 348.3V388.1M240.5 365.5V394.6M242.5 363.0V407.9M244.5 363.9V407.8M246.5 356.1V400.1M248.5 365.6V391.8M250.5 364.2V393.7M252.5 378.9V405.1M258.5 354.2V401.4M260.5 362.3V408.4M262.5 361.9V396.9M268.5 377.4V413.6M274.5 356.4V396.7M276.5 370.0V400.2M278.5 374.9V398.0M280.5 357.8V384.9M282.5 369.1V402.0M284.5 378.9V416.0M286.5 378.7V410.3M288.5 382.1V410.2M296.5 364.6V399.0M300.5 371.3V408.5M306.5 371.2V426.7M308.5 380.5V411.4M310.5 368.5V406.6M312.5 357.3V409.7M314.5 371.3V399.4M320.5 377.5V408.6M324.5 382.4V421.8M326.5 364.3V406.5M328.5 377.1V410.1M330.5 369.2V409.5M332.5 377.7V419.8M334.5 369.9V397.8M338.5 370.6V414.1M340.5 378.1V428.2M342.5 379.6V406.7M348.5 383.4V418.4M350.5 360.5V432.7M352.5 380.5V408.9M358.5 376.0V399.7M360.5 337.4V418.8M368.5 381.5V399.6M370.5 384.1V405.2M378.5 370.5V409.2M390.5 369.9V419.3M392.5 388.2V415.3M394.5 363.5V413.4M396.5 362.9V443.2M398.5 378.3V403.0M402.5 383.2V402.7M404.5 383.1V424.9M412.5 386.5V410.5M414.5 374.4V413.2M416.5 369.8V405.1M418.5 368.4V402.2M420.5 356.0V413.1M422.5 361.9V416.7M424.5 376.7V400.8M426.5 383.9V419.2M428.5 362.9V389.2M432.5 348.7V396.2M434.5 378.5V414.5M436.5 369.9V416.8M440.5 383.2V401.3M444.5 376.2V425.6M450.5 363.4V415.5M452.5 373.4V399.3M458.5 369.3V410.8M460.5 361.0V389.8M462.5 357.9V383.7M472.5 361.7V381.5M474.5 359.8V398.2M478.5 337.1V386.5M480.5 373.6V400.8M482.5 360.8V407.9M486.5 357.3V403.0M488.5 348.0V395.7M492.5 346.0V372.9M494.5 358.9V417.2M500.5 355.2V385.0M504.5 363.0V394.5M506.5 352.0V406.4M510.5 345.2V382.3M514.5 337.8V382.3M516.5 337.0V374.8M518.5 353.2V395.2M522.5 355.3V373.5M526.5 353.0V397.8M528.5 359.4V398.7M536.5 356.5V387.8M546.5 357.0V408.7M552.5 350.9V405.8M554.5 327.6V392.4M556.5 365.6V397.7M558.5 363.3V390.9M560.5 345.8V424.8M566.5 343.6V383.7M570.5 356.1V384.2M572.5 357.7V406.6M576.5 326.0V409.4M580.5 361.4V390.5M582.5 365.5V396.2M584.5 338.2V409.4M586.5 370.6V394.4M592.5 374.8V410.2M596.5 363.0V387.2M64.5 393.0V349.7M173.5 385.5V342.7M203.5 381.3V342.7M136.5 387.3V346.0M134.5 386.8V350.0M63.5 393.2V422.0M145.5 394.2V422.0M290.5 390.3V431.5M314.5 391.4V431.0M469.5 377.0V333.0M418.5 392.9V343.6M366.5 394.1V353.0M576.5 378.3V345.0M369.5 394.1V432.0M564.5 375.8V432.0M589.5 381.1V432.0" fill="none" stroke="#333" stroke-width="1.0"/>
<path d="M50.5 381.8 52.5 383.4 54.5 399.5 56.5 389.4 58.5 394.2 60.5 393.1 62.5 392.1 64.5 395.9 66.5 385.5 68.5 400.8 70.5 386.8 72.5 396.1 74.5 402.2 76.5 392.6 78.5 392.7 80.5 389.5 82.5 383.7 84.5 387.4 86.5 381.9 88.5 379.3 90.5 389.8 92.5 388.2 94.5 377.4 96.5 382.6 98.5 385.6 100.5 384.0 102.5 377.9 104.5 387.2 106.5 371.7 108.5 386.9 110.5 380.1 112.5 372.1 114.5 393.7 116.5 370.0 118.5 376.5 120.5 392.1 122.5 384.3 124.5 379.2 126.5 392.8 128.5 375.7 130.5 386.6 132.5 386.6 134.5 370.2 136.5 378.3 138.5 385.4 140.5 395.0 142.5 404.2 144.5 406.6 146.5 388.7 148.5 396.7 150.5 397.3 152.5 395.6 154.5 389.7 156.5 387.3 158.5 395.1 160.5 398.2 162.5 387.3 164.5 379.9 166.5 401.1 168.5 392.9 170.5 380.5 172.5 376.0 174.5 380.0 176.5 386.8 178.5 389.8 180.5 386.7 182.5 388.6 184.5 387.4 186.5 387.2 188.5 380.0 190.5 384.3 192.5 367.4 194.5 384.4 196.5 384.9 198.5 391.7 200.5 390.6 202.5 374.4 204.5 376.9 206.5 374.8 208.5 369.2 210.5 383.8 212.5 368.5 214.5 393.8 216.5 383.9 218.5 384.1 220.5 381.2 222.5 385.8 224.5 387.4 226.5 379.2 228.5 374.7 230.5 382.9 232.5 389.8 234.5 388.4 236.5 373.1 238.5 372.3 240.5 375.9 242.5 379.2 244.5 382.5 246.5 380.7 248.5 377.8 250.5 377.1 252.5 390.1 254.5 388.8 256.5 382.2 258.5 378.5 260.5 386.3 262.5 377.3 264.5 391.8 266.5 373.8 268.5 392.0 270.5 382.8 272.5 384.9 274.5 371.1 276.5 385.9 278.5 382.1 280.5 370.6 282.5 390.8 284.5 399.3 286.5 391.2 288.5 392.5 290.5 385.2 292.5 389.7 294.5 397.5 296.5 380.9 298.5 380.6 300.5 394.0 302.5 384.6 304.5 390.0 306.5 400.6 308.5 390.5 310.5 391.7 312.5 390.1 314.5 386.0 316.5 390.2 318.5 389.8 320.5 391.6 322.5 384.1 324.5 396.0 326.5 387.2 328.5 392.9 330.5 391.3 332.5 391.7 334.5 381.2 336.5 387.8 338.5 395.0 340.5 400.1 342.5 393.2 344.5 398.0 346.5 396.6 348.5 401.7 350.5 403.9 352.5 396.0 354.5 392.0 356.5 405.6 358.5 392.9 360.5 388.3 362.5 404.5 364.5 387.0 366.5 384.3 368.5 392.3 370.5 395.5 372.5 387.5 374.5 389.3 376.5 392.8 378.5 384.8 380.5 402.8 382.5 395.7 384.5 389.2 386.5 407.1 388.5 400.2 390.5 396.0 392.5 406.3 394.5 392.9 396.5 406.1 398.5 385.1 400.5 404.6 402.5 392.1 404.5 401.8 406.5 405.2 408.5 398.4 410.5 394.0 412.5 397.1 414.5 389.9 416.5 395.1 418.5 387.4 420.5 385.4 422.5 397.5 424.5 392.4 426.5 396.1 428.5 376.5 430.5 393.4 432.5 378.5 434.5 393.6 436.5 395.5 438.5 387.2 440.5 391.5 442.5 384.8 444.5 395.0 446.5 386.0 448.5 398.3 450.5 395.8 452.5 383.2 454.5 387.0 456.5 374.1 458.5 390.1 460.5 371.5 462.5 371.9 464.5 367.5 466.5 362.0 468.5 369.8 470.5 381.9 472.5 370.2 474.5 380.0 476.5 383.2 478.5 372.5 480.5 382.2 482.5 385.7 484.5 381.2 486.5 381.7 488.5 380.7 490.5 375.0 492.5 364.9 494.5 377.4 496.5 372.0 498.5 375.3 500.5 369.6 502.5 374.0 504.5 374.2 506.5 376.0 508.5 383.4 510.5 363.3 512.5 372.9 514.5 366.8 516.5 363.2 518.5 369.5 520.5 375.6 522.5 363.7 524.5 354.0 526.5 378.7 528.5 376.4 530.5 369.1 532.5 384.4 534.5 372.8 536.5 374.1 538.5 376.7 540.5 374.3 542.5 382.4 544.5 377.2 546.5 381.6 548.5 375.4 550.5 376.2 552.5 379.3 554.5 370.7 556.5 384.0 558.5 375.3 560.5 385.5 562.5 383.1 564.5 371.4 566.5 372.7 568.5 378.6 570.5 366.7 572.5 383.1 574.5 384.3 576.5 375.9 578.5 373.8 580.5 370.9 582.5 380.5 584.5 379.9 586.5 385.3 588.5 375.8 590.5 385.1 592.5 388.1 594.5 384.9 596.5 377.9" fill="none" stroke="#000" stroke-width="0.5" stroke-linejoin="round"/>
<path d="M50.5 374.0V389.5M52.5 370.6V393.8M54.5 387.3V405.6M56.5 381.8V402.0M58.5 388.1V400.4M60.5 379.2V402.9M62.5 379.6V404.6M64.5 389.3V401.5M66.5 373.8V399.9M68.5 392.3V407.5M70.5 374.5V401.0M72.5 391.4V400.7M74.5 396.5V407.8M76.5 383.2V404.6M78.5 385.3V397.4M80.5 373.8V411.8M82.5 376.7V390.3M84.5 374.9V403.8M86.5 374.3V392.7M88.5 371.5V387.6M90.5 379.1V401.2M92.5 380.4V394.5M94.5 367.5V392.4M96.5 375.4V389.0M98.5 377.0V394.5M100.5 370.5V396.6M102.5 373.5V383.2M104.5 383.3V395.7M106.5 360.9V385.1M108.5 373.3V399.3M110.5 370.1V391.5M112.5 366.9V377.0M114.5 389.9V401.7M116.5 361.1V382.1M118.5 372.8V381.8M120.5 384.1V399.9M122.5 376.4V389.8M124.5 367.2V385.8M126.5 389.0V398.2M128.5 369.9V386.0M130.5 368.8V405.2M132.5 372.9V400.3M134.5 365.2V376.2M136.5 370.9V388.2M138.5 374.2V391.4M140.5 389.3V398.9M142.5 395.1V410.9M144.5 397.6V412.7M146.5 383.1V396.5M148.5 391.9V406.4M150.5 384.1V403.7M152.5 384.8V407.8M154.5 374.6V400.6M156.5 375.3V397.9M158.5 389.3V401.8M160.5 378.0V418.2M162.5 378.8V395.8M164.5 368.7V386.4M166.5 387.5V408.0M168.5 384.2V401.2M170.5 373.6V387.8M172.5 371.0V380.0M174.5 375.3V387.3M176.5 382.0V392.5M178.5 380.9V395.9M180.5 376.9V397.7M182.5 372.0V405.1M184.5 376.3V399.2M186.5 380.9V397.7M188.5 365.4V395.5M190.5 377.4V398.4M192.5 356.9V384.8M194.5 379.3V390.8M196.5 375.8V391.9M198.5 384.5V397.7M200.5 386.2V396.2M202.5 367.2V385.5M204.5 354.0V390.6M206.5 361.0V388.4M208.5 363.6V379.1M210.5 378.9V392.6M212.5 360.4V376.9M214.5 383.5V401.0M216.5 378.3V389.5M218.5 368.1V396.6M220.5 371.9V392.8M222.5 374.7V397.4M224.5 379.5V401.8M226.5 373.1V385.8M228.5 367.3V384.5M230.5 374.4V399.9M232.5 384.7V397.5M234.5 378.7V405.5M236.5 362.8V382.7M238.5 367.8V380.5M240.5 367.0V385.9M242.5 363.7V390.6M244.5 376.2V393.5M246.5 375.5V389.0M248.5 369.4V383.7M250.5 373.5V382.5M252.5 374.3V400.9M254.5 383.2V400.7M256.5 374.8V390.8M258.5 374.6V386.6M260.5 377.8V396.1M262.5 362.3V386.2M264.5 383.4V397.6M266.5 364.3V379.4M268.5 381.5V402.5M270.5 373.3V393.3M272.5 376.8V399.3M274.5 366.9V376.3M276.5 369.0V400.8M278.5 375.6V387.4M280.5 357.4V379.9M282.5 384.6V398.1M284.5 394.3V403.5M286.5 386.0V395.6M288.5 386.0V397.5M290.5 376.1V394.1M292.5 384.2V399.4M294.5 390.0V406.9M296.5 374.7V388.5M298.5 364.7V391.8M300.5 387.3V402.1M302.5 377.1V390.5M304.5 379.0V400.6M306.5 390.7V413.7M308.5 382.3V398.3M310.5 379.9V398.6M312.5 382.4V397.9M314.5 376.9V394.6M316.5 383.2V397.2M318.5 380.8V394.8M320.5 387.5V396.3M322.5 378.9V392.0M324.5 387.4V405.6M326.5 378.2V395.7M328.5 385.4V407.4M330.5 384.6V398.0M332.5 382.0V401.7M334.5 373.0V385.3M336.5 382.3V392.7M338.5 383.6V405.6M340.5 392.5V410.0M342.5 388.4V400.1M344.5 387.7V406.6M346.5 384.4V404.0M348.5 391.4V418.4M350.5 400.1V408.6M352.5 375.6V409.1M354.5 376.4V410.2M356.5 400.9V413.8M358.5 379.6V401.3M360.5 383.3V397.7M362.5 390.7V417.4M364.5 378.3V393.8M366.5 377.3V388.5M368.5 387.7V398.6M370.5 385.2V402.4M372.5 381.4V391.3M374.5 385.4V397.8M376.5 377.5V404.8M378.5 374.1V397.1M380.5 392.9V413.8M382.5 389.2V402.3M384.5 374.9V405.2M386.5 397.7V415.7M388.5 391.6V414.6M390.5 381.8V408.2M392.5 395.4V415.7M394.5 386.2V402.1M396.5 399.9V413.4M398.5 379.5V392.0M400.5 396.7V409.2M402.5 384.3V404.9M404.5 389.4V415.5M406.5 396.7V412.2M408.5 380.4V417.4M410.5 383.3V403.3M412.5 389.0V405.5M414.5 376.1V402.8M416.5 385.8V403.3M418.5 371.8V397.4M420.5 381.6V390.6M422.5 389.2V402.5M424.5 385.2V399.4M426.5 391.1V403.5M428.5 367.0V383.0M430.5 385.4V402.0M432.5 373.7V386.5M434.5 388.6V398.8M436.5 386.4V403.2M438.5 377.6V396.9M440.5 383.1V407.2M442.5 371.0V394.8M444.5 389.4V401.5M446.5 374.3V400.1M448.5 392.2V403.9M450.5 389.4V401.1M452.5 375.5V397.4M454.5 370.4V406.0M456.5 369.8V377.9M458.5 382.5V400.5M460.5 365.2V380.7M462.5 360.5V382.6M464.5 353.1V376.9M466.5 353.5V371.6M468.5 362.0V376.7M470.5 373.1V388.0M472.5 364.1V375.4M474.5 365.5V391.8M476.5 373.1V397.3M478.5 356.9V386.8M480.5 376.5V386.0M482.5 379.1V392.1M484.5 367.7V392.7M486.5 370.2V390.4M488.5 372.5V387.7M490.5 366.4V386.4M492.5 360.9V369.3M494.5 371.6V386.3M496.5 365.7V381.7M498.5 363.1V384.5M500.5 346.5V387.0M502.5 360.3V386.0M504.5 356.9V388.5M506.5 364.9V383.1M508.5 372.8V398.9M510.5 354.4V371.9M512.5 365.7V381.9M514.5 355.9V380.7M516.5 355.2V368.3M518.5 353.9V378.3M520.5 368.1V383.3M522.5 358.5V372.4M524.5 348.2V359.1M526.5 368.7V388.1M528.5 365.7V388.0M530.5 362.5V378.2M532.5 373.0V402.3M534.5 357.5V387.3M536.5 365.7V382.2M538.5 369.4V384.6M540.5 369.5V378.5M542.5 375.9V391.6M544.5 367.8V386.2M546.5 376.2V389.0M548.5 369.4V383.2M550.5 366.1V387.1M552.5 372.7V384.4M554.5 363.7V376.7M556.5 367.5V396.3M558.5 364.1V383.5M560.5 374.4V394.4M562.5 367.3V398.8M564.5 354.7V381.2M566.5 359.4V390.7M568.5 367.1V392.7M570.5 351.9V381.4M572.5 374.7V391.9M574.5 377.9V393.5M576.5 367.0V386.7M578.5 362.9V381.2M580.5 365.4V376.6M582.5 375.4V386.1M584.5 370.0V390.8M586.5 377.8V397.8M588.5 369.0V386.1M590.5 375.4V395.9M592.5 379.1V394.8M594.5 377.8V393.0M596.5 370.0V390.9" fill="none" stroke="#000" stroke-width="1.6" stroke-linejoin="round"/>
<path d="M50.0 394.8 50.5 394.8 51.0 394.8 51.5 394.7 52.0 394.7 52.5 394.6 53.0 394.6 53.5 394.5 54.0 394.5 54.5 394.5 55.0 394.4 55.5 394.4 56.0 394.3 56.5 394.3 57.0 394.2 57.5 394.2 58.0 394.2 58.5 394.1 59.0 394.1 59.5 394.0 60.0 394.0 60.5 393.9 61.0 393.8 61.5 393.7 62.0 393.5 62.5 393.4 63.0 393.3 63.5 393.2 64.0 393.1 64.5 393.0 65.0 392.9 65.5 392.7 66.0 392.6 66.5 392.5 67.0 392.4 67.5 392.3 68.0 392.2 68.5 392.0 69.0 391.9 69.5 391.8 70.0 391.7 70.5 391.5 71.0 391.4 71.5 391.2 72.0 391.0 72.5 390.9 73.0 390.7 73.5 390.5 74.0 390.3 74.5 390.2 75.0 390.0 75.5 389.8 76.0 389.7 76.5 389.5 77.0 389.3 77.5 389.1 78.0 389.0 78.5 388.8 79.0 388.6 79.5 388.5 80.0 388.3 80.5 388.2 81.0 388.1 81.5 387.9 82.0 387.8 82.5 387.7 83.0 387.6 83.5 387.4 84.0 387.3 84.5 387.2 85.0 387.1 85.5 386.9 86.0 386.8 86.5 386.7 87.0 386.6 87.5 386.4 88.0 386.3 88.5 386.2 89.0 386.1 89.5 385.9 90.0 385.8 90.5 385.7 91.0 385.6 91.5 385.4 92.0 385.3 92.5 385.2 93.0 385.1 93.5 384.9 94.0 384.8 94.5 384.7 95.0 384.6 95.5 384.4 96.0 384.3 96.5 384.2 97.0 384.1 97.5 383.9 98.0 383.8 98.5 383.7 99.0 383.6 99.5 383.4 100.0 383.3 100.5 383.3 101.0 383.2 101.5 383.2 102.0 383.1 102.5 383.1 103.0 383.1 103.5 383.0 104.0 383.0 104.5 382.9 105.0 382.9 105.5 382.9 106.0 382.8 106.5 382.8 107.0 382.7 107.5 382.7 108.0 382.7 108.5 382.6 109.0 382.6 109.5 382.5 110.0 382.5 110.5 382.5 111.0 382.6 111.5 382.6 112.0 382.7 112.5 382.7 113.0 382.7 113.5 382.8 114.0 382.8 114.5 382.9 115.0 382.9 115.5 382.9 116.0 383.0 116.5 383.0 117.0 383.1 117.5 383.1 118.0 383.1 118.5 383.2 119.0 383.2 119.5 383.3 120.0 383.3 120.5 383.4 121.0 383.5 121.5 383.6 122.0 383.7 122.5 383.8 123.0 383.9 123.5 384.0 124.0 384.1 124.5 384.3 125.0 384.4 125.5 384.5 126.0 384.6 126.5 384.7 127.0 384.8 127.5 384.9 128.0 385.0 128.5 385.1 129.0 385.3 129.5 385.4 130.0 385.5 130.5 385.7 131.0 385.8 131.5 386.0 132.0 386.1 132.5 386.0 133.0 385.3 133.5 383.4 134.0 379.6 134.5 374.5 135.0 369.6 135.5 366.3 136.0 365.2 136.5 365.5 137.0 367.2 137.5 371.2 138.0 376.6 138.5 381.8 139.0 385.4 139.5 387.3 140.0 388.1 140.5 388.9 141.0 389.5 141.5 390.1 142.0 390.7 142.5 391.2 143.0 391.8 143.5 392.4 144.0 393.0 144.5 393.6 145.0 394.2 145.5 394.2 146.0 394.3 146.5 394.3 147.0 394.3 147.5 394.4 148.0 394.4 148.5 394.4 149.0 394.4 149.5 394.5 150.0 394.5 150.5 394.3 151.0 394.1 151.5 393.9 152.0 393.8 152.5 393.6 153.0 393.4 153.5 393.2 154.0 393.0 154.5 392.8 155.0 392.6 155.5 392.5 156.0 392.3 156.5 392.1 157.0 391.9 157.5 391.7 158.0 391.5 158.5 391.4 159.0 391.2 159.5 391.0 160.0 390.8 160.5 390.6 161.0 390.4 161.5 390.2 162.0 390.0 162.5 389.8 163.0 389.6 163.5 389.4 164.0 389.2 164.5 389.0 165.0 388.8 165.5 388.5 166.0 388.3 166.5 388.1 167.0 387.9 167.5 387.7 168.0 387.5 168.5 387.3 169.0 387.1 169.5 386.9 170.0 386.7 170.5 386.5 171.0 386.4 171.5 386.2 172.0 386.0 172.5 385.9 173.0 385.7 173.5 385.5 174.0 385.3 174.5 385.2 175.0 385.0 175.5 384.8 176.0 384.7 176.5 384.5 177.0 384.3 177.5 384.1 178.0 384.0 178.5 383.8 179.0 383.6 179.5 383.5 180.0 383.3 180.5 383.6 181.0 383.8 181.5 384.1 182.0 384.3 182.5 384.6 183.0 384.8 183.5 385.1 184.0 385.3 184.5 385.6 185.0 385.8 185.5 385.1 186.0 384.4 186.5 383.8 187.0 383.1 187.5 382.4 188.0 381.7 188.5 381.0 189.0 380.4 189.5 379.7 190.0 379.0 190.5 379.3 191.0 379.5 191.5 379.8 192.0 380.1 192.5 380.4 193.0 380.6 193.5 380.9 194.0 381.2 194.5 381.4 195.0 381.7 195.5 381.7 196.0 381.7 196.5 381.6 197.0 381.6 197.5 381.6 198.0 381.6 198.5 381.5 199.0 381.5 199.5 381.5 200.0 381.5 200.5 381.5 201.0 381.4 201.5 381.4 202.0 381.4 202.5 381.4 203.0 381.3 203.5 381.3 204.0 381.3 204.5 381.3 205.0 381.2 205.5 381.2 206.0 381.2 206.5 381.2 207.0 381.2 207.5 381.1 208.0 381.1 208.5 381.1 209.0 381.1 209.5 381.0 210.0 381.0 210.5 381.0 211.0 381.0 211.5 381.0 212.0 380.9 212.5 380.9 213.0 380.9 213.5 380.9 214.0 380.8 214.5 380.8 215.0 380.8 215.5 380.7 216.0 380.6 216.5 380.6 217.0 380.5 217.5 380.4 218.0 380.3 218.5 380.2 219.0 380.2 219.5 380.1 220.0 380.0 220.5 379.9 221.0 379.8 221.5 379.8 222.0 379.7 222.5 379.6 223.0 379.5 223.5 379.4 224.0 379.4 224.5 379.3 225.0 379.2 225.5 379.2 226.0 379.2 226.5 379.3 227.0 379.3 227.5 379.3 228.0 379.3 228.5 379.3 229.0 379.3 229.5 379.4 230.0 379.4 230.5 379.4 231.0 379.4 231.5 379.4 232.0 379.4 232.5 379.5 233.0 379.5 233.5 379.5 234.0 379.5 234.5 379.5 235.0 379.5 235.5 379.6 236.0 379.6 236.5 379.6 237.0 379.6 237.5 379.6 238.0 379.7 238.5 379.7 239.0 379.7 239.5 379.7 240.0 379.7 240.5 379.7 241.0 379.8 241.5 379.8 242.0 379.8 242.5 379.8 243.0 379.8 243.5 379.8 244.0 379.9 244.5 379.9 245.0 379.9 245.5 379.9 246.0 379.9 246.5 379.9 247.0 380.0 247.5 380.0 248.0 380.0 248.5 380.2 249.0 380.3 249.5 380.5 250.0 380.7 250.5 380.8 251.0 381.0 251.5 381.2 252.0 381.3 252.5 381.5 253.0 381.6 253.5 381.8 254.0 382.0 254.5 382.1 255.0 382.3 255.5 382.5 256.0 382.6 256.5 382.8 257.0 383.0 257.5 383.1 258.0 383.3 258.5 383.4 259.0 383.5 259.5 383.7 260.0 383.8 260.5 383.9 261.0 384.0 261.5 384.1 262.0 384.3 262.5 384.4 263.0 384.5 263.5 384.6 264.0 384.8 264.5 384.9 265.0 385.0 265.5 384.9 266.0 384.8 266.5 384.6 267.0 384.5 267.5 384.4 268.0 384.2 268.5 384.1 269.0 384.0 269.5 383.9 270.0 383.8 270.5 383.6 271.0 383.5 271.5 383.4 272.0 383.2 272.5 383.1 273.0 383.0 273.5 382.9 274.0 382.8 274.5 382.6 275.0 382.5 275.5 382.6 276.0 382.7 276.5 382.7 277.0 382.8 277.5 382.9 278.0 383.0 278.5 383.1 279.0 383.1 279.5 383.2 280.0 383.3 280.5 383.6 281.0 384.0 281.5 384.3 282.0 384.6 282.5 385.0 283.0 385.3 283.5 385.6 284.0 386.0 284.5 386.3 285.0 386.6 285.5 387.0 286.0 387.3 286.5 387.7 287.0 388.0 287.5 388.3 288.0 388.7 288.5 389.0 289.0 389.3 289.5 389.7 290.0 390.0 290.5 390.3 291.0 390.6 291.5 390.9 292.0 391.2 292.5 391.5 293.0 391.8 293.5 392.1 294.0 392.4 294.5 392.7 295.0 393.0 295.5 393.3 296.0 393.6 296.5 393.9 297.0 394.2 297.5 393.9 298.0 393.7 298.5 393.4 299.0 393.1 299.5 392.9 300.0 392.6 300.5 392.4 301.0 392.1 301.5 391.8 302.0 391.6 302.5 391.3 303.0 391.1 303.5 390.8 304.0 390.5 304.5 390.3 305.0 390.0 305.5 389.9 306.0 389.8 306.5 389.7 307.0 389.6 307.5 389.5 308.0 389.4 308.5 389.3 309.0 389.2 309.5 389.1 310.0 389.0 310.5 389.3 311.0 389.5 311.5 389.8 312.0 390.1 312.5 390.4 313.0 390.6 313.5 390.9 314.0 391.2 314.5 391.4 315.0 391.7 315.5 391.8 316.0 391.9 316.5 392.1 317.0 392.2 317.5 392.3 318.0 392.4 318.5 392.6 319.0 392.7 319.5 392.8 320.0 392.9 320.5 393.1 321.0 393.2 321.5 393.3 322.0 393.4 322.5 393.6 323.0 393.7 323.5 393.8 324.0 393.9 324.5 394.1 325.0 394.2 325.5 394.2 326.0 394.2 326.5 394.2 327.0 394.2 327.5 394.2 328.0 394.2 328.5 394.2 329.0 394.2 329.5 394.2 330.0 394.2 330.5 394.2 331.0 394.2 331.5 394.2 332.0 394.2 332.5 394.2 333.0 394.2 333.5 394.2 334.0 394.2 334.5 394.2 335.0 394.2 335.5 394.2 336.0 394.2 336.5 394.2 337.0 394.2 337.5 394.2 338.0 394.2 338.5 394.2 339.0 394.2 339.5 394.2 340.0 394.2 340.5 394.2 341.0 394.2 341.5 394.2 342.0 394.2 342.5 394.2 343.0 394.2 343.5 394.2 344.0 394.2 344.5 394.2 345.0 394.2 345.5 394.2 346.0 394.2 346.5 394.2 347.0 394.2 347.5 394.1 348.0 394.1 348.5 394.1 349.0 394.1 349.5 394.1 350.0 394.1 350.5 394.1 351.0 394.1 351.5 394.1 352.0 394.1 352.5 394.1 353.0 394.1 353.5 394.1 354.0 394.1 354.5 394.1 355.0 394.1 355.5 394.1 356.0 394.1 356.5 394.1 357.0 394.1 357.5 394.1 358.0 394.1 358.5 394.1 359.0 394.1 359.5 394.1 360.0 394.1 360.5 394.1 361.0 394.1 361.5 394.1 362.0 394.1 362.5 394.1 363.0 394.1 363.5 394.1 364.0 394.1 364.5 394.1 365.0 394.1 365.5 394.1 366.0 394.1 366.5 394.1 367.0 394.1 367.5 394.1 368.0 394.1 368.5 394.1 369.0 394.1 369.5 394.1 370.0 394.1 370.5 394.1 371.0 394.1 371.5 394.1 372.0 394.1 372.5 394.1 373.0 394.1 373.5 394.1 374.0 394.1 374.5 394.1 375.0 394.1 375.5 394.1 376.0 394.1 376.5 394.1 377.0 394.1 377.5 394.1 378.0 394.1 378.5 394.1 379.0 394.1 379.5 394.1 380.0 394.1 380.5 394.1 381.0 394.1 381.5 394.1 382.0 394.1 382.5 394.1 383.0 394.1 383.5 394.1 384.0 394.1 384.5 394.1 385.0 394.1 385.5 394.1 386.0 394.1 386.5 394.1 387.0 394.1 387.5 394.1 388.0 394.1 388.5 394.1 389.0 394.1 389.5 394.1 390.0 394.1 390.5 394.1 391.0 394.1 391.5 394.1 392.0 394.1 392.5 394.1 393.0 394.0 393.5 394.0 394.0 394.0 394.5 394.0 395.0 394.0 395.5 394.0 396.0 394.0 396.5 394.0 397.0 394.0 397.5 394.0 398.0 394.0 398.5 394.0 399.0 394.0 399.5 394.0 400.0 394.0 400.5 394.0 401.0 394.0 401.5 394.0 402.0 394.0 402.5 394.0 403.0 394.0 403.5 394.0 404.0 394.0 404.5 394.0 405.0 394.0 405.5 394.0 406.0 394.0 406.5 394.0 407.0 394.0 407.5 394.0 408.0 394.0 408.5 394.0 409.0 394.0 409.5 394.0 410.0 394.0 410.5 394.0 411.0 394.0 411.5 394.0 412.0 394.0 412.5 394.0 413.0 394.0 413.5 394.0 414.0 394.0 414.5 394.0 415.0 394.0 415.5 393.8 416.0 393.7 416.5 393.5 417.0 393.4 417.5 393.2 418.0 393.0 418.5 392.9 419.0 392.7 419.5 392.6 420.0 392.4 420.5 392.2 421.0 392.1 421.5 391.9 422.0 391.8 422.5 391.6 423.0 391.4 423.5 391.3 424.0 391.1 424.5 391.0 425.0 390.8 425.5 390.3 426.0 389.8 426.5 389.3 427.0 388.8 427.5 388.3 428.0 387.8 428.5 387.3 429.0 386.8 429.5 386.3 430.0 385.8 430.5 386.2 431.0 386.6 431.5 387.1 432.0 387.5 432.5 387.9 433.0 388.3 433.5 388.7 434.0 389.2 434.5 389.6 435.0 390.0 435.5 390.4 436.0 390.8 436.5 391.3 437.0 391.7 437.5 392.1 438.0 392.5 438.5 392.9 439.0 393.4 439.5 393.8 440.0 394.2 440.5 394.1 441.0 394.1 441.5 394.1 442.0 394.0 442.5 393.9 443.0 393.9 443.5 393.8 444.0 393.8 444.5 393.8 445.0 393.7 445.5 393.3 446.0 393.0 446.5 392.6 447.0 392.2 447.5 391.9 448.0 391.5 448.5 391.1 449.0 390.7 449.5 390.4 450.0 390.0 450.5 389.5 451.0 389.0 451.5 388.5 452.0 388.0 452.5 387.5 453.0 387.0 453.5 386.5 454.0 386.0 454.5 385.5 455.0 385.0 455.5 384.3 456.0 383.7 456.5 383.0 457.0 382.3 457.5 381.6 458.0 381.0 458.5 380.3 459.0 379.6 459.5 379.0 460.0 378.3 460.5 378.0 461.0 377.7 461.5 376.9 462.0 375.6 462.5 373.6 463.0 371.0 463.5 368.3 464.0 366.0 464.5 364.5 465.0 363.8 465.5 363.6 466.0 363.8 466.5 364.9 467.0 366.7 467.5 369.1 468.0 371.4 468.5 373.8 469.0 375.5 469.5 376.6 470.0 377.3 470.5 377.8 471.0 378.2 471.5 378.6 472.0 379.0 472.5 379.0 473.0 379.0 473.5 379.0 474.0 379.0 474.5 379.0 475.0 379.0 475.5 379.0 476.0 379.0 476.5 379.0 477.0 379.0 477.5 379.0 478.0 379.0 478.5 379.0 479.0 379.0 479.5 379.0 480.0 379.0 480.5 378.9 481.0 378.9 481.5 378.8 482.0 378.7 482.5 378.6 483.0 378.6 483.5 378.5 484.0 378.4 484.5 378.3 485.0 378.2 485.5 378.2 486.0 378.1 486.5 378.0 487.0 377.9 487.5 377.9 488.0 377.8 488.5 377.7 489.0 377.6 489.5 377.6 490.0 377.5 490.5 377.4 491.0 377.3 491.5 377.2 492.0 377.2 492.5 377.1 493.0 377.0 493.5 376.9 494.0 376.8 494.5 376.7 495.0 376.6 495.5 376.6 496.0 376.5 496.5 376.4 497.0 376.3 497.5 376.2 498.0 376.1 498.5 376.1 499.0 376.0 499.5 375.9 500.0 375.8 500.5 375.7 501.0 375.6 501.5 375.4 502.0 375.3 502.5 375.2 503.0 375.1 503.5 374.9 504.0 374.8 504.5 374.7 505.0 374.6 505.5 374.4 506.0 374.3 506.5 374.2 507.0 374.1 507.5 373.9 508.0 373.8 508.5 373.7 509.0 373.6 509.5 373.4 510.0 373.3 510.5 373.2 511.0 373.1 511.5 373.0 512.0 372.8 512.5 372.7 513.0 372.6 513.5 372.5 514.0 372.4 514.5 372.3 515.0 372.1 515.5 372.0 516.0 371.9 516.5 371.8 517.0 371.7 517.5 371.6 518.0 371.5 518.5 371.3 519.0 371.2 519.5 371.1 520.0 371.0 520.5 371.6 521.0 372.0 521.5 372.3 522.0 372.1 522.5 371.2 523.0 369.4 523.5 367.1 524.0 365.1 524.5 363.9 525.0 363.8 525.5 364.3 526.0 365.4 526.5 367.6 527.0 370.6 527.5 374.0 528.0 377.1 528.5 379.4 529.0 380.8 529.5 381.8 530.0 382.5 530.5 382.1 531.0 381.8 531.5 381.4 532.0 381.1 532.5 380.7 533.0 380.4 533.5 380.0 534.0 379.7 534.5 379.4 535.0 379.0 535.5 378.7 536.0 378.4 536.5 378.0 537.0 377.7 537.5 377.4 538.0 377.1 538.5 376.8 539.0 376.4 539.5 376.1 540.0 375.8 540.5 375.8 541.0 375.8 541.5 375.8 542.0 375.8 542.5 375.8 543.0 375.8 543.5 375.8 544.0 375.8 544.5 375.8 545.0 375.8 545.5 375.8 546.0 375.8 546.5 375.8 547.0 375.8 547.5 375.8 548.0 375.8 548.5 375.8 549.0 375.8 549.5 375.8 550.0 375.8 550.5 375.8 551.0 375.8 551.5 375.8 552.0 375.8 552.5 375.8 553.0 375.8 553.5 375.8 554.0 375.8 554.5 375.8 555.0 375.8 555.5 375.8 556.0 375.8 556.5 375.8 557.0 375.8 557.5 375.8 558.0 375.8 558.5 375.8 559.0 375.8 559.5 375.8 560.0 375.8 560.5 375.8 561.0 375.8 561.5 375.8 562.0 375.8 562.5 375.8 563.0 375.8 563.5 375.8 564.0 375.8 564.5 375.8 565.0 375.8 565.5 375.8 566.0 375.8 566.5 375.8 567.0 375.8 567.5 375.8 568.0 375.8 568.5 375.8 569.0 375.8 569.5 375.8 570.0 375.8 570.5 375.8 571.0 375.8 571.5 375.8 572.0 375.8 572.5 375.8 573.0 375.8 573.5 375.8 574.0 375.8 574.5 375.8 575.0 375.8 575.5 376.6 576.0 377.4 576.5 378.3 577.0 379.1 577.5 379.9 578.0 380.7 578.5 381.5 579.0 382.4 579.5 383.2 580.0 384.0 580.5 383.9 581.0 383.7 581.5 383.6 582.0 383.4 582.5 383.2 583.0 383.1 583.5 382.9 584.0 382.8 584.5 382.6 585.0 382.5 585.5 382.4 586.0 382.2 586.5 382.1 587.0 381.9 587.5 381.8 588.0 381.6 588.5 381.4 589.0 381.3 589.5 381.1 590.0 381.0 590.5 381.0 591.0 381.0 591.5 381.0 592.0 381.0 592.5 381.0 593.0 381.0 593.5 381.0 594.0 381.0 594.5 381.0 595.0 381.0 595.5 381.0 596.0 381.0 596.5 381.0 597.0 381.0" fill="none" stroke="#4a80c4" stroke-width="1.5" stroke-opacity="0.55" stroke-linejoin="round"/>
<path d="M51.0 534.4 51.5 534.1 52.0 533.8 52.5 533.5 53.0 533.2 53.5 532.9 54.0 532.6 54.5 532.3 55.0 532.0 55.5 531.9 56.0 531.8 56.5 531.7 57.0 531.6 57.5 531.5 58.0 531.4 58.5 531.3 59.0 531.2 59.5 531.1 60.0 531.0 60.5 530.9 61.0 530.8 61.5 530.7 62.0 530.6 62.5 530.5 63.0 530.4 63.5 530.3 64.0 530.2 64.5 530.1 65.0 530.0 65.5 530.6 66.0 531.1 66.5 531.7 67.0 532.2 67.5 532.8 68.0 533.3 68.5 533.9 69.0 534.4 69.5 535.0 70.0 535.6 70.5 536.1 71.0 536.7 71.5 537.2 72.0 537.8 72.5 538.3 73.0 538.9 73.5 539.4 74.0 540.0 74.5 539.6 75.0 539.2 75.5 538.8 76.0 538.4 76.5 538.0 77.0 537.6 77.5 537.2 78.0 536.9 78.5 536.5 79.0 536.1 79.5 535.7 80.0 535.3 80.5 534.9 81.0 534.5 81.5 534.4 82.0 534.2 82.5 534.1 83.0 534.0 83.5 533.9 84.0 533.8 84.5 533.6 85.0 533.5 85.5 533.4 86.0 533.2 86.5 533.1 87.0 533.0 87.5 532.9 88.0 532.8 88.5 532.6 89.0 532.5 89.5 532.4 90.0 532.2 90.5 532.1 91.0 532.0 91.5 532.0 92.0 532.1 92.5 532.1 93.0 532.2 93.5 532.2 94.0 532.3 94.5 532.4 95.0 532.4 95.5 532.5 96.0 532.5 96.5 532.5 97.0 532.6 97.5 532.6 98.0 532.7 98.5 532.8 99.0 532.8 99.5 532.9 100.0 532.9 100.5 533.0 101.0 533.0 101.5 533.5 102.0 534.1 102.5 534.6 103.0 535.1 103.5 535.7 104.0 536.2 104.5 536.7 105.0 537.3 105.5 537.8 106.0 537.9 106.5 538.0 107.0 538.1 107.5 538.2 108.0 538.3 108.5 538.4 109.0 538.5 109.5 538.6 110.0 538.7 110.5 538.8 111.0 539.0 111.5 539.1 112.0 539.2 112.5 539.3 113.0 539.4 113.5 539.5 114.0 539.6 114.5 539.7 115.0 539.8 115.5 539.9 116.0 540.0 116.5 539.4 117.0 538.9 117.5 538.3 118.0 537.7 118.5 537.1 119.0 536.6 119.5 536.0 120.0 535.4 120.5 534.9 121.0 534.3 121.5 533.7 122.0 533.1 122.5 532.6 123.0 532.0 123.5 532.1 124.0 532.1 124.5 532.2 125.0 532.3 125.5 532.4 126.0 532.4 126.5 532.5 127.0 532.6 127.5 532.6 128.0 532.7 128.5 532.8 129.0 532.9 129.5 532.9 130.0 533.0 130.5 533.1 131.0 533.1 131.5 533.2 132.0 533.3 132.5 533.3 133.0 533.4 133.5 533.5 134.0 533.6 134.5 533.6 135.0 533.7 135.5 534.0 136.0 534.4 136.5 534.7 137.0 535.0 137.5 535.4 138.0 535.7 138.5 536.0 139.0 536.3 139.5 536.7 140.0 537.0 140.5 536.5 141.0 536.0 141.5 535.5 142.0 535.0 142.5 534.5 143.0 534.0 143.5 533.5 144.0 533.0 144.5 532.5 145.0 532.0 145.5 532.0 146.0 532.1 146.5 532.1 147.0 532.2 147.5 532.2 148.0 532.3 148.5 532.4 149.0 532.4 149.5 532.5 150.0 532.5 150.5 532.5 151.0 532.6 151.5 532.6 152.0 532.7 152.5 532.8 153.0 532.8 153.5 532.9 154.0 532.9 154.5 533.0 155.0 533.0 155.5 533.1 156.0 533.2 156.5 533.3 157.0 533.4 157.5 533.5 158.0 533.6 158.5 533.7 159.0 533.8 159.5 533.9 160.0 534.0 160.5 534.1 161.0 534.2 161.5 534.3 162.0 534.4 162.5 534.5 163.0 534.6 163.5 534.7 164.0 534.8 164.5 534.9 165.0 535.0 165.5 535.2 166.0 535.4 166.5 535.6 167.0 535.9 167.5 536.1 168.0 536.3 168.5 536.5 169.0 536.7 169.5 536.9 170.0 537.1 170.5 537.4 171.0 537.6 171.5 537.8 172.0 538.0 172.5 537.5 173.0 537.0 173.5 536.5 174.0 536.0 174.5 535.5 175.0 535.0 175.5 534.5 176.0 534.0 176.5 533.5 177.0 533.0 177.5 532.5 178.0 532.0 178.5 531.5 179.0 531.0 179.5 530.5 180.0 530.0 180.5 530.1 181.0 530.3 181.5 530.5 182.0 530.6 182.5 530.8 183.0 530.9 183.5 531.0 184.0 531.2 184.5 531.4 185.0 531.5 185.5 531.6 186.0 531.8 186.5 532.0 187.0 532.1 187.5 532.2 188.0 532.4 188.5 532.5 189.0 532.7 189.5 532.9 190.0 533.0 190.5 533.4 191.0 533.7 191.5 534.0 192.0 534.4 192.5 534.8 193.0 535.1 193.5 535.5 194.0 535.8 194.5 536.1 195.0 536.5 195.5 536.9 196.0 537.2 196.5 537.5 197.0 537.9 197.5 538.2 198.0 538.6 198.5 539.0 199.0 539.3 199.5 539.6 200.0 540.0 200.5 539.5 201.0 539.0 201.5 538.5 202.0 538.0 202.5 537.5 203.0 537.0 203.5 536.5 204.0 536.0 204.5 535.5 205.0 535.0 205.5 534.8 206.0 534.6 206.5 534.4 207.0 534.2 207.5 534.0 208.0 533.8 208.5 533.6 209.0 533.4 209.5 533.2 210.0 533.0 210.5 533.0 211.0 533.1 211.5 533.1 212.0 533.2 212.5 533.2 213.0 533.3 213.5 533.4 214.0 533.4 214.5 533.5 215.0 533.5 215.5 533.5 216.0 533.6 216.5 533.6 217.0 533.7 217.5 533.8 218.0 533.8 218.5 533.9 219.0 533.9 219.5 534.0 220.0 534.0 220.5 534.1 221.0 534.3 221.5 534.5 222.0 534.6 222.5 534.8 223.0 534.9 223.5 535.0 224.0 535.2 224.5 535.4 225.0 535.5 225.5 535.6 226.0 535.8 226.5 536.0 227.0 536.1 227.5 536.2 228.0 536.4 228.5 536.5 229.0 536.7 229.5 536.9 230.0 537.0 230.5 537.0 231.0 537.1 231.5 537.1 232.0 537.2 232.5 537.2 233.0 537.3 233.5 537.4 234.0 537.4 234.5 537.5 235.0 537.5 235.5 537.5 236.0 537.6 236.5 537.6 237.0 537.7 237.5 537.8 238.0 537.8 238.5 537.9 239.0 537.9 239.5 538.0 240.0 538.0 240.5 538.1 241.0 538.2 241.5 538.3 242.0 538.4 242.5 538.5 243.0 538.6 243.5 538.7 244.0 538.8 244.5 538.9 245.0 539.0 245.5 539.1 246.0 539.2 246.5 539.3 247.0 539.4 247.5 539.5 248.0 539.6 248.5 539.7 249.0 539.8 249.5 539.9 250.0 540.0 250.5 540.1 251.0 540.2 251.5 540.3 252.0 540.4 252.5 540.5 253.0 540.6 253.5 540.7 254.0 540.8 254.5 540.9 255.0 541.0 255.5 541.1 256.0 541.2 256.5 541.3 257.0 541.4 257.5 541.5 258.0 541.6 258.5 541.7 259.0 541.8 259.5 541.9 260.0 542.0 260.5 542.0 261.0 542.0 261.5 542.0 262.0 542.0 262.5 541.9 263.0 541.9 263.5 541.9 264.0 541.9 264.5 541.9 265.0 541.9 265.5 541.9 266.0 541.9 266.5 541.8 267.0 541.8 267.5 541.8 268.0 541.8 268.5 541.8 269.0 541.8 269.5 541.8 270.0 541.8 270.5 541.7 271.0 541.7 271.5 541.7 272.0 541.7 272.5 541.7 273.0 541.7 273.5 541.7 274.0 541.6 274.5 541.6 275.0 541.6 275.5 541.6 276.0 541.6 276.5 541.6 277.0 541.6 277.5 541.6 278.0 541.5 278.5 541.5 279.0 541.5 279.5 541.5 280.0 541.5 280.5 541.5 281.0 541.5 281.5 541.5 282.0 541.5 282.5 541.4 283.0 541.4 283.5 541.4 284.0 541.4 284.5 541.4 285.0 541.4 285.5 541.4 286.0 541.4 286.5 541.3 287.0 541.3 287.5 541.3 288.0 541.3 288.5 541.3 289.0 541.3 289.5 541.3 290.0 541.2 290.5 541.2 291.0 541.2 291.5 541.2 292.0 541.2 292.5 541.2 293.0 541.2 293.5 541.2 294.0 541.1 294.5 541.1 295.0 541.1 295.5 541.1 296.0 541.1 296.5 541.1 297.0 541.1 297.5 541.1 298.0 541.0 298.5 541.0 299.0 541.0 299.5 541.0 300.0 541.0 300.5 541.0 301.0 541.0 301.5 541.0 302.0 540.9 302.5 540.9 303.0 540.9 303.5 540.9 304.0 540.9 304.5 540.9 305.0 540.8 305.5 540.8 306.0 540.8 306.5 540.8 307.0 540.8 307.5 540.8 308.0 540.7 308.5 540.7 309.0 540.7 309.5 540.7 310.0 540.7 310.5 540.6 311.0 540.6 311.5 540.6 312.0 540.6 312.5 540.6 313.0 540.6 313.5 540.5 314.0 540.5 314.5 540.5 315.0 540.5 315.5 540.5 316.0 540.5 316.5 540.5 317.0 540.4 317.5 540.4 318.0 540.4 318.5 540.4 319.0 540.4 319.5 540.4 320.0 540.3 320.5 540.3 321.0 540.3 321.5 540.3 322.0 540.3 322.5 540.2 323.0 540.2 323.5 540.2 324.0 540.2 324.5 540.2 325.0 540.2 325.5 540.1 326.0 540.1 326.5 540.1 327.0 540.1 327.5 540.1 328.0 540.1 328.5 540.0 329.0 540.0 329.5 540.0 330.0 540.0 330.5 540.0 331.0 539.9 331.5 539.9 332.0 539.8 332.5 539.8 333.0 539.7 333.5 539.6 334.0 539.6 334.5 539.5 335.0 539.5 335.5 539.5 336.0 539.4 336.5 539.4 337.0 539.3 337.5 539.2 338.0 539.2 338.5 539.1 339.0 539.1 339.5 539.0 340.0 539.0 340.5 539.0 341.0 538.9 341.5 538.9 342.0 538.8 342.5 538.8 343.0 538.7 343.5 538.6 344.0 538.6 344.5 538.5 345.0 538.5 345.5 538.5 346.0 538.4 346.5 538.4 347.0 538.3 347.5 538.2 348.0 538.2 348.5 538.1 349.0 538.1 349.5 538.0 350.0 538.0 350.5 538.0 351.0 537.9 351.5 537.9 352.0 537.8 352.5 537.8 353.0 537.7 353.5 537.6 354.0 537.6 354.5 537.5 355.0 537.5 355.5 537.7 356.0 537.8 356.5 538.0 357.0 538.2 357.5 538.4 358.0 538.5 358.5 538.7 359.0 538.9 359.5 539.1 360.0 539.2 360.5 539.4 361.0 539.6 361.5 539.8 362.0 539.9 362.5 540.1 363.0 540.3 363.5 540.4 364.0 540.6 364.5 540.8 365.0 541.0 365.5 541.1 366.0 541.3 366.5 541.5 367.0 541.7 367.5 541.8 368.0 542.0 368.5 541.8 369.0 541.6 369.5 541.4 370.0 541.2 370.5 541.0 371.0 540.8 371.5 540.5 372.0 540.3 372.5 540.1 373.0 539.9 373.5 539.7 374.0 539.5 374.5 539.3 375.0 539.1 375.5 538.9 376.0 538.7 376.5 538.5 377.0 538.2 377.5 538.0 378.0 537.8 378.5 537.6 379.0 537.4 379.5 537.2 380.0 537.0 380.5 537.1 381.0 537.1 381.5 537.2 382.0 537.3 382.5 537.4 383.0 537.5 383.5 537.5 384.0 537.6 384.5 537.7 385.0 537.8 385.5 537.8 386.0 537.9 386.5 538.0 387.0 538.0 387.5 538.1 388.0 538.2 388.5 538.3 389.0 538.4 389.5 538.4 390.0 538.5 390.5 538.6 391.0 538.6 391.5 538.7 392.0 538.8 392.5 538.9 393.0 539.0 393.5 539.0 394.0 539.1 394.5 539.2 395.0 539.2 395.5 539.3 396.0 539.4 396.5 539.5 397.0 539.5 397.5 539.6 398.0 539.7 398.5 539.8 399.0 539.9 399.5 539.9 400.0 540.0 400.5 540.0 401.0 540.1 401.5 540.1 402.0 540.1 402.5 540.1 403.0 540.2 403.5 540.2 404.0 540.2 404.5 540.2 405.0 540.3 405.5 540.3 406.0 540.3 406.5 540.4 407.0 540.4 407.5 540.4 408.0 540.4 408.5 540.5 409.0 540.5 409.5 540.5 410.0 540.6 410.5 540.6 411.0 540.6 411.5 540.6 412.0 540.7 412.5 540.7 413.0 540.7 413.5 540.8 414.0 540.8 414.5 540.8 415.0 540.8 415.5 540.9 416.0 540.9 416.5 540.9 417.0 540.9 417.5 541.0 418.0 541.0 418.5 541.0 419.0 541.0 419.5 540.9 420.0 540.9 420.5 540.9 421.0 540.9 421.5 540.8 422.0 540.8 422.5 540.8 423.0 540.8 423.5 540.8 424.0 540.7 424.5 540.7 425.0 540.7 425.5 540.7 426.0 540.6 426.5 540.6 427.0 540.6 427.5 540.6 428.0 540.5 428.5 540.5 429.0 540.5 429.5 540.5 430.0 540.5 430.5 540.4 431.0 540.4 431.5 540.4 432.0 540.4 432.5 540.3 433.0 540.3 433.5 540.3 434.0 540.3 434.5 540.2 435.0 540.2 435.5 540.2 436.0 540.2 436.5 540.2 437.0 540.1 437.5 540.1 438.0 540.1 438.5 540.1 439.0 540.0 439.5 540.0 440.0 540.0 440.5 540.0 441.0 540.1 441.5 540.1 442.0 540.1 442.5 540.2 443.0 540.2 443.5 540.3 444.0 540.3 444.5 540.3 445.0 540.4 445.5 540.4 446.0 540.5 446.5 540.5 447.0 540.5 447.5 540.6 448.0 540.6 448.5 540.6 449.0 540.7 449.5 540.7 450.0 540.8 450.5 540.8 451.0 540.8 451.5 540.9 452.0 540.9 452.5 540.9 453.0 541.0 453.5 541.0 454.0 541.0 454.5 541.1 455.0 541.1 455.5 541.2 456.0 541.2 456.5 541.2 457.0 541.3 457.5 541.3 458.0 541.4 458.5 541.4 459.0 541.4 459.5 541.5 460.0 541.5 460.5 541.4 461.0 541.4 461.5 541.3 462.0 541.2 462.5 541.2 463.0 541.1 463.5 541.1 464.0 541.0 464.5 540.9 465.0 540.9 465.5 540.8 466.0 540.8 466.5 540.7 467.0 540.6 467.5 540.6 468.0 540.5 468.5 540.4 469.0 540.4 469.5 540.3 470.0 540.2 470.5 540.2 471.0 540.1 471.5 540.1 472.0 540.0 472.5 539.9 473.0 539.9 473.5 539.8 474.0 539.8 474.5 539.7 475.0 539.6 475.5 539.6 476.0 539.5 476.5 539.4 477.0 539.4 477.5 539.3 478.0 539.2 478.5 539.2 479.0 539.1 479.5 539.1 480.0 539.0 480.5 539.0 481.0 539.1 481.5 539.1 482.0 539.1 482.5 539.2 483.0 539.2 483.5 539.3 484.0 539.3 484.5 539.3 485.0 539.4 485.5 539.4 486.0 539.5 486.5 539.5 487.0 539.5 487.5 539.6 488.0 539.6 488.5 539.6 489.0 539.7 489.5 539.7 490.0 539.8 490.5 539.8 491.0 539.8 491.5 539.9 492.0 539.9 492.5 539.9 493.0 540.0 493.5 540.0 494.0 540.0 494.5 540.1 495.0 540.1 495.5 540.2 496.0 540.2 496.5 540.2 497.0 540.3 497.5 540.3 498.0 540.4 498.5 540.4 499.0 540.4 499.5 540.5 500.0 540.5 500.5 540.5 501.0 540.5 501.5 540.5 502.0 540.5 502.5 540.5 503.0 540.5 503.5 540.4 504.0 540.4 504.5 540.4 505.0 540.4 505.5 540.4 506.0 540.4 506.5 540.4 507.0 540.4 507.5 540.4 508.0 540.4 508.5 540.4 509.0 540.4 509.5 540.3 510.0 540.3 510.5 540.3 511.0 540.3 511.5 540.3 512.0 540.3 512.5 540.3 513.0 540.3 513.5 540.3 514.0 540.3 514.5 540.3 515.0 540.2 515.5 540.2 516.0 540.2 516.5 540.2 517.0 540.2 517.5 540.2 518.0 540.2 518.5 540.2 519.0 540.2 519.5 540.2 520.0 540.2 520.5 540.2 521.0 540.1 521.5 540.1 522.0 540.1 522.5 540.1 523.0 540.1 523.5 540.1 524.0 540.1 524.5 540.1 525.0 540.1 525.5 540.1 526.0 540.1 526.5 540.1 527.0 540.0 527.5 540.0 528.0 540.0 528.5 540.0 529.0 540.0 529.5 540.0 530.0 540.0 530.5 540.0 531.0 540.1 531.5 540.1 532.0 540.1 532.5 540.2 533.0 540.2 533.5 540.3 534.0 540.3 534.5 540.3 535.0 540.4 535.5 540.4 536.0 540.5 536.5 540.5 537.0 540.5 537.5 540.6 538.0 540.6 538.5 540.6 539.0 540.7 539.5 540.7 540.0 540.8 540.5 540.8 541.0 540.8 541.5 540.9 542.0 540.9 542.5 540.9 543.0 541.0 543.5 541.0 544.0 541.0 544.5 541.1 545.0 541.1 545.5 541.2 546.0 541.2 546.5 541.2 547.0 541.3 547.5 541.3 548.0 541.4 548.5 541.4 549.0 541.4 549.5 541.5 550.0 541.5 550.5 541.5 551.0 541.4 551.5 541.4 552.0 541.3 552.5 541.2 553.0 541.2 553.5 541.1 554.0 541.1 554.5 541.0 555.0 541.0 555.5 541.0 556.0 540.9 556.5 540.9 557.0 540.8 557.5 540.8 558.0 540.7 558.5 540.6 559.0 540.6 559.5 540.5 560.0 540.5 560.5 540.5 561.0 540.4 561.5 540.4 562.0 540.3 562.5 540.2 563.0 540.2 563.5 540.1 564.0 540.1 564.5 540.0 565.0 540.0 565.5 540.0 566.0 539.9 566.5 539.9 567.0 539.8 567.5 539.8 568.0 539.7 568.5 539.6 569.0 539.6 569.5 539.5 570.0 539.5 570.5 539.5 571.0 539.5 571.5 539.6 572.0 539.6 572.5 539.6 573.0 539.6 573.5 539.6 574.0 539.6 574.5 539.7 575.0 539.7 575.5 539.7 576.0 539.7 576.5 539.7 577.0 539.8 577.5 539.8 578.0 539.8 578.5 539.8 579.0 539.8 579.5 539.8 580.0 539.9 580.5 539.9 581.0 539.9 581.5 539.9 582.0 539.9 582.5 539.9 583.0 540.0 583.5 540.0 584.0 540.0 584.5 540.0 585.0 540.0 585.5 540.1 586.0 540.1 586.5 540.1 587.0 540.1 587.5 540.1 588.0 540.1 588.5 540.2 589.0 540.2 589.5 540.2 590.0 540.2 590.5 540.2 591.0 540.2 591.5 540.3 592.0 540.3 592.5 540.3 593.0 540.3 593.5 540.3 594.0 540.4 594.5 540.4 595.0 540.4 595.5 540.4 596.0 540.4 596.5 540.4 597.0 540.5 597.5 540.5L597.5 556.5 597.0 556.5 596.5 556.4 596.0 556.4 595.5 556.4 595.0 556.4 594.5 556.4 594.0 556.4 593.5 556.3 593.0 556.3 592.5 556.3 592.0 556.3 591.5 556.3 591.0 556.2 590.5 556.2 590.0 556.2 589.5 556.2 589.0 556.2 588.5 556.2 588.0 556.1 587.5 556.1 587.0 556.1 586.5 556.1 586.0 556.1 585.5 556.1 585.0 556.0 584.5 556.0 584.0 556.0 583.5 556.0 583.0 556.0 582.5 555.9 582.0 555.9 581.5 555.9 581.0 555.9 580.5 555.9 580.0 555.9 579.5 555.8 579.0 555.8 578.5 555.8 578.0 555.8 577.5 555.8 577.0 555.8 576.5 555.7 576.0 555.7 575.5 555.7 575.0 555.7 574.5 555.7 574.0 555.6 573.5 555.6 573.0 555.6 572.5 555.6 572.0 555.6 571.5 555.6 571.0 555.5 570.5 555.5 570.0 555.5 569.5 555.5 569.0 555.6 568.5 555.6 568.0 555.7 567.5 555.8 567.0 555.8 566.5 555.9 566.0 555.9 565.5 556.0 565.0 556.0 564.5 556.0 564.0 556.1 563.5 556.1 563.0 556.2 562.5 556.2 562.0 556.3 561.5 556.4 561.0 556.4 560.5 556.5 560.0 556.5 559.5 556.5 559.0 556.6 558.5 556.6 558.0 556.7 557.5 556.8 557.0 556.8 556.5 556.9 556.0 556.9 555.5 557.0 555.0 557.0 554.5 557.0 554.0 557.1 553.5 557.1 553.0 557.2 552.5 557.2 552.0 557.3 551.5 557.4 551.0 557.4 550.5 557.5 550.0 557.5 549.5 557.5 549.0 557.4 548.5 557.4 548.0 557.4 547.5 557.3 547.0 557.3 546.5 557.2 546.0 557.2 545.5 557.2 545.0 557.1 544.5 557.1 544.0 557.0 543.5 557.0 543.0 557.0 542.5 556.9 542.0 556.9 541.5 556.9 541.0 556.8 540.5 556.8 540.0 556.8 539.5 556.7 539.0 556.7 538.5 556.6 538.0 556.6 537.5 556.6 537.0 556.5 536.5 556.5 536.0 556.5 535.5 556.4 535.0 556.4 534.5 556.3 534.0 556.3 533.5 556.3 533.0 556.2 532.5 556.2 532.0 556.1 531.5 556.1 531.0 556.1 530.5 556.0 530.0 556.0 529.5 556.0 529.0 556.0 528.5 556.0 528.0 556.0 527.5 556.0 527.0 556.0 526.5 556.1 526.0 556.1 525.5 556.1 525.0 556.1 524.5 556.1 524.0 556.1 523.5 556.1 523.0 556.1 522.5 556.1 522.0 556.1 521.5 556.1 521.0 556.1 520.5 556.2 520.0 556.2 519.5 556.2 519.0 556.2 518.5 556.2 518.0 556.2 517.5 556.2 517.0 556.2 516.5 556.2 516.0 556.2 515.5 556.2 515.0 556.2 514.5 556.3 514.0 556.3 513.5 556.3 513.0 556.3 512.5 556.3 512.0 556.3 511.5 556.3 511.0 556.3 510.5 556.3 510.0 556.3 509.5 556.3 509.0 556.4 508.5 556.4 508.0 556.4 507.5 556.4 507.0 556.4 506.5 556.4 506.0 556.4 505.5 556.4 505.0 556.4 504.5 556.4 504.0 556.4 503.5 556.4 503.0 556.5 502.5 556.5 502.0 556.5 501.5 556.5 501.0 556.5 500.5 556.5 500.0 556.5 499.5 556.5 499.0 556.4 498.5 556.4 498.0 556.4 497.5 556.3 497.0 556.3 496.5 556.2 496.0 556.2 495.5 556.2 495.0 556.1 494.5 556.1 494.0 556.0 493.5 556.0 493.0 556.0 492.5 555.9 492.0 555.9 491.5 555.9 491.0 555.8 490.5 555.8 490.0 555.8 489.5 555.7 489.0 555.7 488.5 555.6 488.0 555.6 487.5 555.6 487.0 555.5 486.5 555.5 486.0 555.5 485.5 555.4 485.0 555.4 484.5 555.3 484.0 555.3 483.5 555.3 483.0 555.2 482.5 555.2 482.0 555.1 481.5 555.1 481.0 555.1 480.5 555.0 480.0 555.0 479.5 555.1 479.0 555.1 478.5 555.2 478.0 555.2 477.5 555.3 477.0 555.4 476.5 555.4 476.0 555.5 475.5 555.6 475.0 555.6 474.5 555.7 474.0 555.8 473.5 555.8 473.0 555.9 472.5 555.9 472.0 556.0 471.5 556.1 471.0 556.1 470.5 556.2 470.0 556.2 469.5 556.3 469.0 556.4 468.5 556.4 468.0 556.5 467.5 556.6 467.0 556.6 466.5 556.7 466.0 556.8 465.5 556.8 465.0 556.9 464.5 556.9 464.0 557.0 463.5 557.1 463.0 557.1 462.5 557.2 462.0 557.2 461.5 557.3 461.0 557.4 460.5 557.4 460.0 557.5 459.5 557.5 459.0 557.4 458.5 557.4 458.0 557.4 457.5 557.3 457.0 557.3 456.5 557.2 456.0 557.2 455.5 557.2 455.0 557.1 454.5 557.1 454.0 557.0 453.5 557.0 453.0 557.0 452.5 556.9 452.0 556.9 451.5 556.9 451.0 556.8 450.5 556.8 450.0 556.8 449.5 556.7 449.0 556.7 448.5 556.6 448.0 556.6 447.5 556.6 447.0 556.5 446.5 556.5 446.0 556.5 445.5 556.4 445.0 556.4 444.5 556.3 444.0 556.3 443.5 556.3 443.0 556.2 442.5 556.2 442.0 556.1 441.5 556.1 441.0 556.1 440.5 556.0 440.0 556.0 439.5 556.0 439.0 556.0 438.5 556.1 438.0 556.1 437.5 556.1 437.0 556.1 436.5 556.2 436.0 556.2 435.5 556.2 435.0 556.2 434.5 556.2 434.0 556.3 433.5 556.3 433.0 556.3 432.5 556.3 432.0 556.4 431.5 556.4 431.0 556.4 430.5 556.4 430.0 556.5 429.5 556.5 429.0 556.5 428.5 556.5 428.0 556.5 427.5 556.6 427.0 556.6 426.5 556.6 426.0 556.6 425.5 556.7 425.0 556.7 424.5 556.7 424.0 556.7 423.5 556.8 423.0 556.8 422.5 556.8 422.0 556.8 421.5 556.8 421.0 556.9 420.5 556.9 420.0 556.9 419.5 556.9 419.0 557.0 418.5 557.0 418.0 557.0 417.5 557.0 417.0 556.9 416.5 556.9 416.0 556.9 415.5 556.9 415.0 556.8 414.5 556.8 414.0 556.8 413.5 556.8 413.0 556.7 412.5 556.7 412.0 556.7 411.5 556.6 411.0 556.6 410.5 556.6 410.0 556.6 409.5 556.5 409.0 556.5 408.5 556.5 408.0 556.4 407.5 556.4 407.0 556.4 406.5 556.4 406.0 556.3 405.5 556.3 405.0 556.3 404.5 556.2 404.0 556.2 403.5 556.2 403.0 556.2 402.5 556.1 402.0 556.1 401.5 556.1 401.0 556.1 400.5 556.0 400.0 556.0 399.5 555.9 399.0 555.9 398.5 555.8 398.0 555.7 397.5 555.6 397.0 555.5 396.5 555.5 396.0 555.4 395.5 555.3 395.0 555.2 394.5 555.2 394.0 555.1 393.5 555.0 393.0 555.0 392.5 554.9 392.0 554.8 391.5 554.7 391.0 554.6 390.5 554.6 390.0 554.5 389.5 554.4 389.0 554.4 388.5 554.3 388.0 554.2 387.5 554.1 387.0 554.0 386.5 554.0 386.0 553.9 385.5 553.8 385.0 553.8 384.5 553.7 384.0 553.6 383.5 553.5 383.0 553.5 382.5 553.4 382.0 553.3 381.5 553.2 381.0 553.1 380.5 553.1 380.0 553.0 379.5 553.2 379.0 553.4 378.5 553.6 378.0 553.8 377.5 554.0 377.0 554.2 376.5 554.5 376.0 554.7 375.5 554.9 375.0 555.1 374.5 555.3 374.0 555.5 373.5 555.7 373.0 555.9 372.5 556.1 372.0 556.3 371.5 556.5 371.0 556.8 370.5 557.0 370.0 557.2 369.5 557.4 369.0 557.6 368.5 557.8 368.0 558.0 367.5 557.8 367.0 557.7 366.5 557.5 366.0 557.3 365.5 557.1 365.0 557.0 364.5 556.8 364.0 556.6 363.5 556.4 363.0 556.3 362.5 556.1 362.0 555.9 361.5 555.8 361.0 555.6 360.5 555.4 360.0 555.2 359.5 555.1 359.0 554.9 358.5 554.7 358.0 554.5 357.5 554.4 357.0 554.2 356.5 554.0 356.0 553.8 355.5 553.7 355.0 553.5 354.5 553.5 354.0 553.6 353.5 553.6 353.0 553.7 352.5 553.8 352.0 553.8 351.5 553.9 351.0 553.9 350.5 554.0 350.0 554.0 349.5 554.0 349.0 554.1 348.5 554.1 348.0 554.2 347.5 554.2 347.0 554.3 346.5 554.4 346.0 554.4 345.5 554.5 345.0 554.5 344.5 554.5 344.0 554.6 343.5 554.6 343.0 554.7 342.5 554.8 342.0 554.8 341.5 554.9 341.0 554.9 340.5 555.0 340.0 555.0 339.5 555.0 339.0 555.1 338.5 555.1 338.0 555.2 337.5 555.2 337.0 555.3 336.5 555.4 336.0 555.4 335.5 555.5 335.0 555.5 334.5 555.5 334.0 555.6 333.5 555.6 333.0 555.7 332.5 555.8 332.0 555.8 331.5 555.9 331.0 555.9 330.5 556.0 330.0 556.0 329.5 556.0 329.0 556.0 328.5 556.0 328.0 556.1 327.5 556.1 327.0 556.1 326.5 556.1 326.0 556.1 325.5 556.1 325.0 556.2 324.5 556.2 324.0 556.2 323.5 556.2 323.0 556.2 322.5 556.2 322.0 556.3 321.5 556.3 321.0 556.3 320.5 556.3 320.0 556.3 319.5 556.4 319.0 556.4 318.5 556.4 318.0 556.4 317.5 556.4 317.0 556.4 316.5 556.5 316.0 556.5 315.5 556.5 315.0 556.5 314.5 556.5 314.0 556.5 313.5 556.5 313.0 556.6 312.5 556.6 312.0 556.6 311.5 556.6 311.0 556.6 310.5 556.6 310.0 556.7 309.5 556.7 309.0 556.7 308.5 556.7 308.0 556.7 307.5 556.8 307.0 556.8 306.5 556.8 306.0 556.8 305.5 556.8 305.0 556.8 304.5 556.9 304.0 556.9 303.5 556.9 303.0 556.9 302.5 556.9 302.0 556.9 301.5 557.0 301.0 557.0 300.5 557.0 300.0 557.0 299.5 557.0 299.0 557.0 298.5 557.0 298.0 557.0 297.5 557.1 297.0 557.1 296.5 557.1 296.0 557.1 295.5 557.1 295.0 557.1 294.5 557.1 294.0 557.1 293.5 557.2 293.0 557.2 292.5 557.2 292.0 557.2 291.5 557.2 291.0 557.2 290.5 557.2 290.0 557.2 289.5 557.3 289.0 557.3 288.5 557.3 288.0 557.3 287.5 557.3 287.0 557.3 286.5 557.3 286.0 557.4 285.5 557.4 285.0 557.4 284.5 557.4 284.0 557.4 283.5 557.4 283.0 557.4 282.5 557.4 282.0 557.5 281.5 557.5 281.0 557.5 280.5 557.5 280.0 557.5 279.5 557.5 279.0 557.5 278.5 557.5 278.0 557.5 277.5 557.6 277.0 557.6 276.5 557.6 276.0 557.6 275.5 557.6 275.0 557.6 274.5 557.6 274.0 557.6 273.5 557.7 273.0 557.7 272.5 557.7 272.0 557.7 271.5 557.7 271.0 557.7 270.5 557.7 270.0 557.8 269.5 557.8 269.0 557.8 268.5 557.8 268.0 557.8 267.5 557.8 267.0 557.8 266.5 557.8 266.0 557.9 265.5 557.9 265.0 557.9 264.5 557.9 264.0 557.9 263.5 557.9 263.0 557.9 262.5 557.9 262.0 558.0 261.5 558.0 261.0 558.0 260.5 558.0 260.0 558.0 259.5 557.9 259.0 557.8 258.5 557.7 258.0 557.6 257.5 557.5 257.0 557.4 256.5 557.3 256.0 557.2 255.5 557.1 255.0 557.0 254.5 556.9 254.0 556.8 253.5 556.7 253.0 556.6 252.5 556.5 252.0 556.4 251.5 556.3 251.0 556.2 250.5 556.1 250.0 556.0 249.5 555.9 249.0 555.8 248.5 555.7 248.0 555.6 247.5 555.5 247.0 555.4 246.5 555.3 246.0 555.2 245.5 555.1 245.0 555.0 244.5 554.9 244.0 554.8 243.5 554.7 243.0 554.6 242.5 554.5 242.0 554.4 241.5 554.3 241.0 554.2 240.5 554.1 240.0 554.0 239.5 554.0 239.0 553.9 238.5 553.9 238.0 553.8 237.5 553.8 237.0 553.7 236.5 553.6 236.0 553.6 235.5 553.5 235.0 553.5 234.5 553.5 234.0 553.4 233.5 553.4 233.0 553.3 232.5 553.2 232.0 553.2 231.5 553.1 231.0 553.1 230.5 553.0 230.0 553.0 229.5 552.9 229.0 552.7 228.5 552.5 228.0 552.4 227.5 552.2 227.0 552.1 226.5 552.0 226.0 551.8 225.5 551.6 225.0 551.5 224.5 551.4 224.0 551.2 223.5 551.0 223.0 550.9 222.5 550.8 222.0 550.6 221.5 550.5 221.0 550.3 220.5 550.1 220.0 550.0 219.5 550.0 219.0 549.9 218.5 549.9 218.0 549.8 217.5 549.8 217.0 549.7 216.5 549.6 216.0 549.6 215.5 549.5 215.0 549.5 214.5 549.5 214.0 549.4 213.5 549.4 213.0 549.3 212.5 549.2 212.0 549.2 211.5 549.1 211.0 549.1 210.5 549.0 210.0 549.0 209.5 549.2 209.0 549.4 208.5 549.6 208.0 549.8 207.5 550.0 207.0 550.2 206.5 550.4 206.0 550.6 205.5 550.8 205.0 551.0 204.5 551.5 204.0 552.0 203.5 552.5 203.0 553.0 202.5 553.5 202.0 554.0 201.5 554.5 201.0 555.0 200.5 555.5 200.0 556.0 199.5 555.6 199.0 555.3 198.5 555.0 198.0 554.6 197.5 554.2 197.0 553.9 196.5 553.5 196.0 553.2 195.5 552.9 195.0 552.5 194.5 552.1 194.0 551.8 193.5 551.5 193.0 551.1 192.5 550.8 192.0 550.4 191.5 550.0 191.0 549.7 190.5 549.4 190.0 549.0 189.5 548.9 189.0 548.7 188.5 548.5 188.0 548.4 187.5 548.2 187.0 548.1 186.5 548.0 186.0 547.8 185.5 547.6 185.0 547.5 184.5 547.4 184.0 547.2 183.5 547.0 183.0 546.9 182.5 546.8 182.0 546.6 181.5 546.5 181.0 546.3 180.5 546.1 180.0 546.0 179.5 546.5 179.0 547.0 178.5 547.5 178.0 548.0 177.5 548.5 177.0 549.0 176.5 549.5 176.0 550.0 175.5 550.5 175.0 551.0 174.5 551.5 174.0 552.0 173.5 552.5 173.0 553.0 172.5 553.5 172.0 554.0 171.5 553.8 171.0 553.6 170.5 553.4 170.0 553.1 169.5 552.9 169.0 552.7 168.5 552.5 168.0 552.3 167.5 552.1 167.0 551.9 166.5 551.6 166.0 551.4 165.5 551.2 165.0 551.0 164.5 550.9 164.0 550.8 163.5 550.7 163.0 550.6 162.5 550.5 162.0 550.4 161.5 550.3 161.0 550.2 160.5 550.1 160.0 550.0 159.5 549.9 159.0 549.8 158.5 549.7 158.0 549.6 157.5 549.5 157.0 549.4 156.5 549.3 156.0 549.2 155.5 549.1 155.0 549.0 154.5 549.0 154.0 548.9 153.5 548.9 153.0 548.8 152.5 548.8 152.0 548.7 151.5 548.6 151.0 548.6 150.5 548.5 150.0 548.5 149.5 548.5 149.0 548.4 148.5 548.4 148.0 548.3 147.5 548.2 147.0 548.2 146.5 548.1 146.0 548.1 145.5 548.0 145.0 548.0 144.5 548.5 144.0 549.0 143.5 549.5 143.0 550.0 142.5 550.5 142.0 551.0 141.5 551.5 141.0 552.0 140.5 552.5 140.0 553.0 139.5 552.7 139.0 552.3 138.5 552.0 138.0 551.7 137.5 551.4 137.0 551.0 136.5 550.7 136.0 550.4 135.5 550.0 135.0 549.7 134.5 549.6 134.0 549.6 133.5 549.5 133.0 549.4 132.5 549.3 132.0 549.3 131.5 549.2 131.0 549.1 130.5 549.1 130.0 549.0 129.5 548.9 129.0 548.9 128.5 548.8 128.0 548.7 127.5 548.6 127.0 548.6 126.5 548.5 126.0 548.4 125.5 548.4 125.0 548.3 124.5 548.2 124.0 548.1 123.5 548.1 123.0 548.0 122.5 548.6 122.0 549.1 121.5 549.7 121.0 550.3 120.5 550.9 120.0 551.4 119.5 552.0 119.0 552.6 118.5 553.1 118.0 553.7 117.5 554.3 117.0 554.9 116.5 555.4 116.0 556.0 115.5 555.9 115.0 555.8 114.5 555.7 114.0 555.6 113.5 555.5 113.0 555.4 112.5 555.3 112.0 555.2 111.5 555.1 111.0 555.0 110.5 554.8 110.0 554.7 109.5 554.6 109.0 554.5 108.5 554.4 108.0 554.3 107.5 554.2 107.0 554.1 106.5 554.0 106.0 553.9 105.5 553.8 105.0 553.3 104.5 552.7 104.0 552.2 103.5 551.7 103.0 551.1 102.5 550.6 102.0 550.1 101.5 549.5 101.0 549.0 100.5 549.0 100.0 548.9 99.5 548.9 99.0 548.8 98.5 548.8 98.0 548.7 97.5 548.6 97.0 548.6 96.5 548.5 96.0 548.5 95.5 548.5 95.0 548.4 94.5 548.4 94.0 548.3 93.5 548.2 93.0 548.2 92.5 548.1 92.0 548.1 91.5 548.0 91.0 548.0 90.5 548.1 90.0 548.2 89.5 548.4 89.0 548.5 88.5 548.6 88.0 548.8 87.5 548.9 87.0 549.0 86.5 549.1 86.0 549.2 85.5 549.4 85.0 549.5 84.5 549.6 84.0 549.8 83.5 549.9 83.0 550.0 82.5 550.1 82.0 550.2 81.5 550.4 81.0 550.5 80.5 550.9 80.0 551.3 79.5 551.7 79.0 552.1 78.5 552.5 78.0 552.9 77.5 553.2 77.0 553.6 76.5 554.0 76.0 554.4 75.5 554.8 75.0 555.2 74.5 555.6 74.0 556.0 73.5 555.4 73.0 554.9 72.5 554.3 72.0 553.8 71.5 553.2 71.0 552.7 70.5 552.1 70.0 551.6 69.5 551.0 69.0 550.4 68.5 549.9 68.0 549.3 67.5 548.8 67.0 548.2 66.5 547.7 66.0 547.1 65.5 546.6 65.0 546.0 64.5 546.1 64.0 546.2 63.5 546.3 63.0 546.4 62.5 546.5 62.0 546.6 61.5 546.7 61.0 546.8 60.5 546.9 60.0 547.0 59.5 547.1 59.0 547.2 58.5 547.3 58.0 547.4 57.5 547.5 57.0 547.6 56.5 547.7 56.0 547.8 55.5 547.9 55.0 548.0 54.5 548.3 54.0 548.6 53.5 548.9 53.0 549.2 52.5 549.5 52.0 549.8 51.5 550.1 51.0 550.4Z" fill="#e2e2e2" stroke="#888" stroke-width="0.6"/>
<path d="M51.0 539.4 51.5 539.1 52.0 538.8 52.5 538.5 53.0 538.2 53.5 537.9 54.0 537.6 54.5 537.3 55.0 537.0 55.5 536.9 56.0 536.8 56.5 536.7 57.0 536.6 57.5 536.5 58.0 536.4 58.5 536.3 59.0 536.2 59.5 536.1 60.0 536.0 60.5 535.9 61.0 535.8 61.5 535.7 62.0 535.6 62.5 535.5 63.0 535.4 63.5 535.3 64.0 535.2 64.5 535.1 65.0 535.0 65.5 535.4 66.0 535.3 66.5 533.3 67.0 527.7 67.5 519.3 68.0 511.9 68.5 508.7 69.0 509.1 69.5 512.4 70.0 520.2 70.5 529.9 71.0 537.4 71.5 541.1 72.0 542.6 72.5 543.3 73.0 543.9 73.5 544.4 74.0 545.0 74.5 544.6 75.0 544.2 75.5 543.8 76.0 543.4 76.5 543.0 77.0 542.6 77.5 542.2 78.0 541.9 78.5 541.5 79.0 541.1 79.5 540.7 80.0 540.3 80.5 539.9 81.0 539.5 81.5 539.4 82.0 539.2 82.5 539.1 83.0 539.0 83.5 538.9 84.0 538.8 84.5 538.6 85.0 538.5 85.5 538.4 86.0 538.2 86.5 538.1 87.0 538.0 87.5 537.9 88.0 537.8 88.5 537.6 89.0 537.5 89.5 537.4 90.0 537.2 90.5 537.1 91.0 537.0 91.5 537.0 92.0 537.1 92.5 537.1 93.0 537.2 93.5 537.2 94.0 537.3 94.5 537.4 95.0 537.4 95.5 537.5 96.0 537.5 96.5 537.5 97.0 537.6 97.5 537.6 98.0 537.7 98.5 537.8 99.0 537.8 99.5 537.9 100.0 537.9 100.5 538.0 101.0 538.0 101.5 538.5 102.0 539.1 102.5 539.6 103.0 540.1 103.5 540.7 104.0 541.2 104.5 541.7 105.0 542.3 105.5 542.8 106.0 542.9 106.5 542.7 107.0 541.4 107.5 536.4 108.0 525.6 108.5 511.1 109.0 499.6 109.5 495.3 110.0 495.8 110.5 501.7 111.0 514.5 111.5 528.7 112.0 537.4 112.5 537.8 113.0 532.3 113.5 526.0 114.0 522.9 114.5 522.8 115.0 525.3 115.5 531.6 116.0 538.6 116.5 542.5 117.0 543.5 117.5 543.2 118.0 542.7 118.5 542.1 119.0 541.6 119.5 541.0 120.0 540.4 120.5 539.9 121.0 539.3 121.5 538.7 122.0 538.1 122.5 537.6 123.0 537.0 123.5 537.1 124.0 537.1 124.5 537.2 125.0 537.3 125.5 537.4 126.0 537.4 126.5 537.5 127.0 537.6 127.5 537.6 128.0 537.7 128.5 537.8 129.0 537.9 129.5 537.9 130.0 538.0 130.5 538.1 131.0 538.1 131.5 538.2 132.0 538.3 132.5 538.3 133.0 538.4 133.5 538.5 134.0 538.6 134.5 538.6 135.0 538.7 135.5 539.0 136.0 539.4 136.5 539.7 137.0 540.0 137.5 540.4 138.0 540.7 138.5 541.0 139.0 541.3 139.5 541.7 140.0 542.0 140.5 541.5 141.0 541.0 141.5 540.5 142.0 540.0 142.5 539.5 143.0 539.0 143.5 538.5 144.0 538.0 144.5 537.5 145.0 537.0 145.5 537.0 146.0 537.1 146.5 537.1 147.0 537.2 147.5 537.2 148.0 537.3 148.5 537.4 149.0 537.4 149.5 537.5 150.0 537.5 150.5 537.5 151.0 537.6 151.5 537.6 152.0 537.7 152.5 537.8 153.0 537.8 153.5 537.9 154.0 537.9 154.5 538.0 155.0 538.0 155.5 538.1 156.0 538.2 156.5 538.3 157.0 538.4 157.5 538.5 158.0 538.6 158.5 538.7 159.0 538.8 159.5 538.9 160.0 539.0 160.5 539.1 161.0 539.2 161.5 539.3 162.0 539.4 162.5 539.5 163.0 539.6 163.5 539.7 164.0 539.8 164.5 539.9 165.0 540.0 165.5 540.2 166.0 540.4 166.5 540.6 167.0 540.9 167.5 541.1 168.0 541.3 168.5 541.5 169.0 541.7 169.5 541.9 170.0 542.1 170.5 542.4 171.0 542.6 171.5 542.8 172.0 543.0 172.5 542.5 173.0 542.0 173.5 541.5 174.0 541.0 174.5 540.5 175.0 540.0 175.5 539.5 176.0 539.0 176.5 538.5 177.0 538.0 177.5 537.5 178.0 537.0 178.5 536.5 179.0 536.0 179.5 535.5 180.0 535.0 180.5 535.1 181.0 535.3 181.5 535.5 182.0 535.6 182.5 535.8 183.0 535.9 183.5 536.0 184.0 536.2 184.5 536.4 185.0 536.5 185.5 536.6 186.0 536.8 186.5 537.0 187.0 537.1 187.5 537.2 188.0 537.4 188.5 537.5 189.0 537.7 189.5 537.9 190.0 538.0 190.5 538.4 191.0 538.7 191.5 539.0 192.0 539.4 192.5 539.7 193.0 540.1 193.5 540.4 194.0 540.7 194.5 540.1 195.0 536.6 195.5 526.8 196.0 510.8 196.5 495.1 197.0 486.7 197.5 485.8 198.0 489.8 198.5 502.4 199.0 519.9 199.5 534.6 200.0 542.2 200.5 544.0 201.0 544.0 201.5 543.5 202.0 543.0 202.5 542.5 203.0 542.0 203.5 541.5 204.0 541.0 204.5 540.5 205.0 540.0 205.5 539.8 206.0 539.6 206.5 539.4 207.0 539.2 207.5 539.0 208.0 538.8 208.5 538.6 209.0 538.4 209.5 538.2 210.0 538.0 210.5 538.0 211.0 538.1 211.5 538.1 212.0 538.2 212.5 538.2 213.0 538.3 213.5 538.4 214.0 538.4 214.5 538.5 215.0 538.5 215.5 538.5 216.0 538.6 216.5 538.6 217.0 538.7 217.5 538.8 218.0 538.8 218.5 538.9 219.0 538.9 219.5 539.0 220.0 539.0 220.5 539.1 221.0 539.3 221.5 539.5 222.0 539.6 222.5 539.8 223.0 539.9 223.5 540.0 224.0 540.2 224.5 540.4 225.0 540.5 225.5 540.6 226.0 540.8 226.5 541.0 227.0 541.1 227.5 541.2 228.0 541.4 228.5 541.5 229.0 541.7 229.5 541.9 230.0 542.0 230.5 542.0 231.0 542.1 231.5 542.1 232.0 542.2 232.5 542.2 233.0 542.3 233.5 542.4 234.0 542.4 234.5 542.5 235.0 542.5 235.5 542.5 236.0 542.6 236.5 542.6 237.0 542.7 237.5 542.8 238.0 542.8 238.5 542.9 239.0 542.9 239.5 543.0 240.0 543.0 240.5 543.1 241.0 543.2 241.5 543.3 242.0 543.4 242.5 543.5 243.0 543.6 243.5 543.7 244.0 543.8 244.5 543.9 245.0 544.0 245.5 544.1 246.0 544.2 246.5 544.3 247.0 544.4 247.5 544.5 248.0 544.6 248.5 544.7 249.0 544.8 249.5 544.9 250.0 545.0 250.5 545.1 251.0 545.2 251.5 545.3 252.0 545.4 252.5 545.5 253.0 545.6 253.5 545.7 254.0 545.8 254.5 545.9 255.0 546.0 255.5 546.1 256.0 546.2 256.5 546.3 257.0 546.4 257.5 546.5 258.0 546.6 258.5 546.7 259.0 546.8 259.5 546.9 260.0 547.0 260.5 547.0 261.0 547.0 261.5 547.0 262.0 547.0 262.5 546.9 263.0 546.9 263.5 546.9 264.0 546.9 264.5 546.9 265.0 546.9 265.5 546.9 266.0 546.9 266.5 546.8 267.0 546.8 267.5 546.8 268.0 546.8 268.5 546.8 269.0 546.8 269.5 546.8 270.0 546.8 270.5 546.7 271.0 546.7 271.5 546.7 272.0 546.7 272.5 546.7 273.0 546.7 273.5 546.7 274.0 546.6 274.5 546.6 275.0 546.6 275.5 546.6 276.0 546.6 276.5 546.6 277.0 546.6 277.5 546.6 278.0 546.5 278.5 546.5 279.0 546.5 279.5 546.5 280.0 546.5 280.5 546.5 281.0 546.5 281.5 546.5 282.0 546.5 282.5 546.4 283.0 546.4 283.5 546.4 284.0 546.4 284.5 546.4 285.0 546.4 285.5 546.4 286.0 546.4 286.5 546.3 287.0 546.3 287.5 546.3 288.0 546.3 288.5 546.3 289.0 546.3 289.5 546.3 290.0 546.2 290.5 546.2 291.0 546.2 291.5 546.2 292.0 546.2 292.5 546.2 293.0 546.2 293.5 546.2 294.0 546.1 294.5 546.1 295.0 546.1 295.5 546.1 296.0 546.1 296.5 546.1 297.0 546.1 297.5 546.1 298.0 546.0 298.5 546.0 299.0 546.0 299.5 546.0 300.0 546.0 300.5 546.0 301.0 546.0 301.5 546.0 302.0 545.9 302.5 545.9 303.0 545.9 303.5 545.9 304.0 545.9 304.5 545.9 305.0 545.8 305.5 545.8 306.0 545.8 306.5 545.8 307.0 545.8 307.5 545.8 308.0 545.7 308.5 545.7 309.0 545.7 309.5 545.7 310.0 545.7 310.5 545.6 311.0 545.6 311.5 545.6 312.0 545.6 312.5 545.6 313.0 545.6 313.5 545.5 314.0 545.5 314.5 545.5 315.0 545.5 315.5 545.5 316.0 545.5 316.5 545.5 317.0 545.4 317.5 545.4 318.0 545.4 318.5 545.4 319.0 545.4 319.5 545.4 320.0 545.3 320.5 545.3 321.0 545.3 321.5 545.3 322.0 545.3 322.5 545.2 323.0 545.2 323.5 545.2 324.0 545.2 324.5 545.2 325.0 545.2 325.5 545.1 326.0 545.1 326.5 545.1 327.0 545.1 327.5 545.1 328.0 545.1 328.5 545.0 329.0 545.0 329.5 545.0 330.0 545.0 330.5 545.0 331.0 544.9 331.5 544.9 332.0 544.8 332.5 544.8 333.0 544.7 333.5 544.6 334.0 544.6 334.5 544.5 335.0 544.5 335.5 544.5 336.0 544.4 336.5 544.4 337.0 544.3 337.5 544.2 338.0 544.2 338.5 544.1 339.0 544.1 339.5 544.0 340.0 544.0 340.5 544.0 341.0 543.9 341.5 543.9 342.0 543.8 342.5 543.8 343.0 543.7 343.5 543.6 344.0 543.6 344.5 543.5 345.0 543.5 345.5 543.5 346.0 543.4 346.5 543.4 347.0 543.3 347.5 543.2 348.0 543.2 348.5 543.1 349.0 543.1 349.5 543.0 350.0 543.0 350.5 543.0 351.0 542.9 351.5 542.9 352.0 542.8 352.5 542.8 353.0 542.7 353.5 542.6 354.0 542.6 354.5 542.5 355.0 542.5 355.5 542.7 356.0 542.8 356.5 543.0 357.0 543.2 357.5 543.4 358.0 543.5 358.5 543.7 359.0 543.9 359.5 544.1 360.0 544.2 360.5 544.4 361.0 544.6 361.5 544.8 362.0 544.9 362.5 545.1 363.0 545.3 363.5 545.4 364.0 545.6 364.5 545.8 365.0 546.0 365.5 546.1 366.0 546.3 366.5 546.5 367.0 546.7 367.5 546.8 368.0 547.0 368.5 546.8 369.0 546.6 369.5 546.4 370.0 546.2 370.5 546.0 371.0 545.8 371.5 545.5 372.0 545.3 372.5 545.1 373.0 544.9 373.5 544.7 374.0 544.5 374.5 544.3 375.0 544.1 375.5 543.9 376.0 543.7 376.5 543.5 377.0 543.2 377.5 543.0 378.0 542.8 378.5 542.6 379.0 542.4 379.5 542.2 380.0 542.0 380.5 542.1 381.0 542.1 381.5 542.2 382.0 542.3 382.5 542.4 383.0 542.5 383.5 542.5 384.0 542.6 384.5 542.7 385.0 542.8 385.5 542.8 386.0 542.9 386.5 543.0 387.0 543.0 387.5 543.1 388.0 543.2 388.5 543.3 389.0 543.4 389.5 543.4 390.0 543.5 390.5 543.6 391.0 543.6 391.5 543.7 392.0 543.8 392.5 543.9 393.0 544.0 393.5 544.0 394.0 544.1 394.5 544.2 395.0 544.2 395.5 544.3 396.0 544.4 396.5 544.5 397.0 544.5 397.5 544.6 398.0 544.7 398.5 544.8 399.0 544.9 399.5 544.9 400.0 545.0 400.5 545.0 401.0 545.1 401.5 545.1 402.0 545.1 402.5 545.1 403.0 545.2 403.5 545.2 404.0 545.2 404.5 545.2 405.0 545.3 405.5 545.3 406.0 545.3 406.5 545.4 407.0 545.4 407.5 545.4 408.0 545.4 408.5 545.5 409.0 545.5 409.5 545.5 410.0 545.6 410.5 545.6 411.0 545.6 411.5 545.6 412.0 545.7 412.5 545.7 413.0 545.7 413.5 545.8 414.0 545.8 414.5 545.8 415.0 545.8 415.5 545.9 416.0 545.9 416.5 545.9 417.0 545.9 417.5 546.0 418.0 546.0 418.5 546.0 419.0 546.0 419.5 545.9 420.0 545.9 420.5 545.9 421.0 545.9 421.5 545.8 422.0 545.8 422.5 545.8 423.0 545.8 423.5 545.8 424.0 545.7 424.5 545.7 425.0 545.7 425.5 545.7 426.0 545.6 426.5 545.6 427.0 545.6 427.5 545.6 428.0 545.5 428.5 545.5 429.0 545.5 429.5 545.5 430.0 545.5 430.5 545.4 431.0 545.4 431.5 545.4 432.0 545.4 432.5 545.3 433.0 545.3 433.5 545.3 434.0 545.3 434.5 545.2 435.0 545.2 435.5 545.2 436.0 545.2 436.5 545.2 437.0 545.1 437.5 545.1 438.0 545.1 438.5 545.1 439.0 545.0 439.5 545.0 440.0 545.0 440.5 545.0 441.0 545.1 441.5 545.1 442.0 545.1 442.5 545.2 443.0 545.2 443.5 545.3 444.0 545.3 444.5 545.3 445.0 545.4 445.5 545.4 446.0 545.5 446.5 545.5 447.0 545.5 447.5 545.6 448.0 545.6 448.5 545.6 449.0 545.7 449.5 545.7 450.0 545.8 450.5 545.8 451.0 545.8 451.5 545.9 452.0 545.9 452.5 545.9 453.0 546.0 453.5 546.0 454.0 546.0 454.5 546.1 455.0 546.1 455.5 546.2 456.0 546.2 456.5 546.2 457.0 546.3 457.5 546.3 458.0 546.4 458.5 546.4 459.0 546.4 459.5 546.5 460.0 546.5 460.5 546.4 461.0 546.4 461.5 546.3 462.0 546.2 462.5 546.2 463.0 546.1 463.5 546.1 464.0 546.0 464.5 545.9 465.0 545.9 465.5 545.8 466.0 545.8 466.5 545.7 467.0 545.6 467.5 545.6 468.0 545.5 468.5 545.4 469.0 545.4 469.5 545.3 470.0 545.2 470.5 545.2 471.0 545.1 471.5 545.1 472.0 545.0 472.5 544.9 473.0 544.9 473.5 544.8 474.0 544.8 474.5 544.7 475.0 544.6 475.5 544.6 476.0 544.5 476.5 544.4 477.0 544.4 477.5 544.3 478.0 544.2 478.5 544.2 479.0 544.1 479.5 544.1 480.0 544.0 480.5 544.0 481.0 544.1 481.5 544.1 482.0 544.1 482.5 544.2 483.0 544.2 483.5 544.3 484.0 544.3 484.5 544.3 485.0 544.4 485.5 544.4 486.0 544.5 486.5 544.5 487.0 544.5 487.5 544.6 488.0 544.6 488.5 544.6 489.0 544.7 489.5 544.7 490.0 544.8 490.5 544.8 491.0 544.8 491.5 544.9 492.0 544.9 492.5 544.9 493.0 545.0 493.5 545.0 494.0 545.0 494.5 545.1 495.0 545.1 495.5 545.2 496.0 545.2 496.5 545.2 497.0 545.3 497.5 545.3 498.0 545.4 498.5 545.4 499.0 545.4 499.5 545.5 500.0 545.5 500.5 545.5 501.0 545.5 501.5 545.5 502.0 545.3 502.5 544.6 503.0 542.4 503.5 538.7 504.0 534.6 504.5 532.0 505.0 531.4 505.5 532.0 506.0 534.5 506.5 538.6 507.0 542.4 507.5 544.5 508.0 545.2 508.5 545.3 509.0 545.3 509.5 545.3 510.0 545.3 510.5 545.3 511.0 545.3 511.5 545.3 512.0 545.3 512.5 545.3 513.0 545.3 513.5 545.2 514.0 544.9 514.5 543.9 515.0 541.6 515.5 537.9 516.0 533.4 516.5 529.7 517.0 527.6 517.5 527.2 518.0 527.6 518.5 529.7 519.0 533.4 519.5 537.8 520.0 541.5 520.5 543.8 521.0 544.8 521.5 545.1 522.0 545.1 522.5 545.1 523.0 545.1 523.5 545.1 524.0 545.1 524.5 545.1 525.0 545.1 525.5 545.1 526.0 545.1 526.5 545.1 527.0 545.0 527.5 545.0 528.0 545.0 528.5 545.0 529.0 545.0 529.5 545.0 530.0 545.0 530.5 545.0 531.0 545.1 531.5 545.1 532.0 545.1 532.5 545.2 533.0 545.2 533.5 545.3 534.0 545.3 534.5 545.3 535.0 545.4 535.5 545.4 536.0 545.5 536.5 545.5 537.0 545.5 537.5 545.6 538.0 545.6 538.5 545.6 539.0 545.7 539.5 545.7 540.0 545.8 540.5 545.8 541.0 545.8 541.5 545.9 542.0 545.9 542.5 545.9 543.0 546.0 543.5 546.0 544.0 546.0 544.5 546.1 545.0 546.1 545.5 546.2 546.0 546.2 546.5 546.2 547.0 546.3 547.5 546.3 548.0 546.4 548.5 546.4 549.0 546.4 549.5 546.5 550.0 546.5 550.5 546.5 551.0 546.4 551.5 546.4 552.0 546.3 552.5 546.2 553.0 546.2 553.5 546.1 554.0 546.1 554.5 546.0 555.0 546.0 555.5 546.0 556.0 545.9 556.5 545.9 557.0 545.8 557.5 545.8 558.0 545.7 558.5 545.6 559.0 545.6 559.5 545.5 560.0 545.5 560.5 545.5 561.0 545.4 561.5 545.4 562.0 545.3 562.5 545.2 563.0 545.2 563.5 545.1 564.0 545.1 564.5 545.0 565.0 545.0 565.5 545.0 566.0 544.9 566.5 544.9 567.0 544.8 567.5 544.8 568.0 544.7 568.5 544.6 569.0 544.6 569.5 544.5 570.0 544.5 570.5 544.5 571.0 544.5 571.5 544.6 572.0 544.6 572.5 544.6 573.0 544.6 573.5 544.6 574.0 544.6 574.5 544.7 575.0 544.7 575.5 544.7 576.0 544.7 576.5 544.7 577.0 544.8 577.5 544.8 578.0 544.8 578.5 544.8 579.0 544.8 579.5 544.8 580.0 544.9 580.5 544.9 581.0 544.9 581.5 544.9 582.0 544.9 582.5 544.9 583.0 545.0 583.5 545.0 584.0 545.0 584.5 545.0 585.0 545.0 585.5 545.1 586.0 545.1 586.5 545.1 587.0 545.1 587.5 545.1 588.0 545.1 588.5 545.2 589.0 545.2 589.5 545.2 590.0 545.2 590.5 545.2 591.0 545.2 591.5 545.3 592.0 545.3 592.5 545.3 593.0 545.3 593.5 545.3 594.0 545.4 594.5 545.4 595.0 545.4 595.5 545.4 596.0 545.4 596.5 545.4 597.0 545.5 597.5 545.5L597.5 551.5 597.0 551.5 596.5 551.4 596.0 551.4 595.5 551.4 595.0 551.4 594.5 551.4 594.0 551.4 593.5 551.3 593.0 551.3 592.5 551.3 592.0 551.3 591.5 551.3 591.0 551.2 590.5 551.2 590.0 551.2 589.5 551.2 589.0 551.2 588.5 551.2 588.0 551.1 587.5 551.1 587.0 551.1 586.5 551.1 586.0 551.1 585.5 551.1 585.0 551.0 584.5 551.0 584.0 551.0 583.5 551.0 583.0 551.0 582.5 550.9 582.0 550.9 581.5 550.9 581.0 550.9 580.5 550.9 580.0 550.9 579.5 550.8 579.0 550.8 578.5 550.8 578.0 550.8 577.5 550.8 577.0 550.8 576.5 550.7 576.0 550.7 575.5 550.7 575.0 550.7 574.5 550.7 574.0 550.6 573.5 550.6 573.0 550.6 572.5 550.6 572.0 550.6 571.5 550.6 571.0 550.5 570.5 550.5 570.0 550.5 569.5 550.5 569.0 550.6 568.5 550.6 568.0 550.7 567.5 550.8 567.0 550.8 566.5 550.9 566.0 550.9 565.5 551.0 565.0 551.0 564.5 551.0 564.0 551.1 563.5 551.1 563.0 551.2 562.5 551.2 562.0 551.3 561.5 551.4 561.0 551.4 560.5 551.5 560.0 551.5 559.5 551.5 559.0 551.6 558.5 551.6 558.0 551.7 557.5 551.8 557.0 551.8 556.5 551.9 556.0 551.9 555.5 552.0 555.0 552.0 554.5 552.0 554.0 552.1 553.5 552.1 553.0 552.2 552.5 552.2 552.0 552.3 551.5 552.4 551.0 552.4 550.5 552.5 550.0 552.5 549.5 552.5 549.0 552.4 548.5 552.4 548.0 552.4 547.5 552.3 547.0 552.3 546.5 552.2 546.0 552.2 545.5 552.2 545.0 552.1 544.5 552.1 544.0 552.0 543.5 552.0 543.0 552.0 542.5 551.9 542.0 551.9 541.5 551.9 541.0 551.8 540.5 551.8 540.0 551.8 539.5 551.7 539.0 551.7 538.5 551.6 538.0 551.6 537.5 551.6 537.0 551.5 536.5 551.5 536.0 551.5 535.5 551.4 535.0 551.4 534.5 551.3 534.0 551.3 533.5 551.3 533.0 551.2 532.5 551.2 532.0 551.1 531.5 551.1 531.0 551.1 530.5 551.0 530.0 551.0 529.5 551.0 529.0 551.0 528.5 551.0 528.0 551.0 527.5 551.0 527.0 551.0 526.5 551.1 526.0 551.1 525.5 551.1 525.0 551.1 524.5 551.1 524.0 551.1 523.5 551.1 523.0 551.1 522.5 551.1 522.0 551.1 521.5 551.1 521.0 550.8 520.5 549.8 520.0 547.5 519.5 543.8 519.0 539.4 518.5 535.7 518.0 533.6 517.5 533.2 517.0 533.6 516.5 535.7 516.0 539.4 515.5 543.9 515.0 547.6 514.5 549.9 514.0 550.9 513.5 551.2 513.0 551.3 512.5 551.3 512.0 551.3 511.5 551.3 511.0 551.3 510.5 551.3 510.0 551.3 509.5 551.3 509.0 551.3 508.5 551.3 508.0 551.2 507.5 550.5 507.0 548.4 506.5 544.6 506.0 540.5 505.5 538.0 505.0 537.4 504.5 538.0 504.0 540.6 503.5 544.7 503.0 548.4 502.5 550.6 502.0 551.3 501.5 551.5 501.0 551.5 500.5 551.5 500.0 551.5 499.5 551.5 499.0 551.4 498.5 551.4 498.0 551.4 497.5 551.3 497.0 551.3 496.5 551.2 496.0 551.2 495.5 551.2 495.0 551.1 494.5 551.1 494.0 551.0 493.5 551.0 493.0 551.0 492.5 550.9 492.0 550.9 491.5 550.9 491.0 550.8 490.5 550.8 490.0 550.8 489.5 550.7 489.0 550.7 488.5 550.6 488.0 550.6 487.5 550.6 487.0 550.5 486.5 550.5 486.0 550.5 485.5 550.4 485.0 550.4 484.5 550.3 484.0 550.3 483.5 550.3 483.0 550.2 482.5 550.2 482.0 550.1 481.5 550.1 481.0 550.1 480.5 550.0 480.0 550.0 479.5 550.1 479.0 550.1 478.5 550.2 478.0 550.2 477.5 550.3 477.0 550.4 476.5 550.4 476.0 550.5 475.5 550.6 475.0 550.6 474.5 550.7 474.0 550.8 473.5 550.8 473.0 550.9 472.5 550.9 472.0 551.0 471.5 551.1 471.0 551.1 470.5 551.2 470.0 551.2 469.5 551.3 469.0 551.4 468.5 551.4 468.0 551.5 467.5 551.6 467.0 551.6 466.5 551.7 466.0 551.8 465.5 551.8 465.0 551.9 464.5 551.9 464.0 552.0 463.5 552.1 463.0 552.1 462.5 552.2 462.0 552.2 461.5 552.3 461.0 552.4 460.5 552.4 460.0 552.5 459.5 552.5 459.0 552.4 458.5 552.4 458.0 552.4 457.5 552.3 457.0 552.3 456.5 552.2 456.0 552.2 455.5 552.2 455.0 552.1 454.5 552.1 454.0 552.0 453.5 552.0 453.0 552.0 452.5 551.9 452.0 551.9 451.5 551.9 451.0 551.8 450.5 551.8 450.0 551.8 449.5 551.7 449.0 551.7 448.5 551.6 448.0 551.6 447.5 551.6 447.0 551.5 446.5 551.5 446.0 551.5 445.5 551.4 445.0 551.4 444.5 551.3 444.0 551.3 443.5 551.3 443.0 551.2 442.5 551.2 442.0 551.1 441.5 551.1 441.0 551.1 440.5 551.0 440.0 551.0 439.5 551.0 439.0 551.0 438.5 551.1 438.0 551.1 437.5 551.1 437.0 551.1 436.5 551.2 436.0 551.2 435.5 551.2 435.0 551.2 434.5 551.2 434.0 551.3 433.5 551.3 433.0 551.3 432.5 551.3 432.0 551.4 431.5 551.4 431.0 551.4 430.5 551.4 430.0 551.5 429.5 551.5 429.0 551.5 428.5 551.5 428.0 551.5 427.5 551.6 427.0 551.6 426.5 551.6 426.0 551.6 425.5 551.7 425.0 551.7 424.5 551.7 424.0 551.7 423.5 551.8 423.0 551.8 422.5 551.8 422.0 551.8 421.5 551.8 421.0 551.9 420.5 551.9 420.0 551.9 419.5 551.9 419.0 552.0 418.5 552.0 418.0 552.0 417.5 552.0 417.0 551.9 416.5 551.9 416.0 551.9 415.5 551.9 415.0 551.8 414.5 551.8 414.0 551.8 413.5 551.8 413.0 551.7 412.5 551.7 412.0 551.7 411.5 551.6 411.0 551.6 410.5 551.6 410.0 551.6 409.5 551.5 409.0 551.5 408.5 551.5 408.0 551.4 407.5 551.4 407.0 551.4 406.5 551.4 406.0 551.3 405.5 551.3 405.0 551.3 404.5 551.2 404.0 551.2 403.5 551.2 403.0 551.2 402.5 551.1 402.0 551.1 401.5 551.1 401.0 551.1 400.5 551.0 400.0 551.0 399.5 550.9 399.0 550.9 398.5 550.8 398.0 550.7 397.5 550.6 397.0 550.5 396.5 550.5 396.0 550.4 395.5 550.3 395.0 550.2 394.5 550.2 394.0 550.1 393.5 550.0 393.0 550.0 392.5 549.9 392.0 549.8 391.5 549.7 391.0 549.6 390.5 549.6 390.0 549.5 389.5 549.4 389.0 549.4 388.5 549.3 388.0 549.2 387.5 549.1 387.0 549.0 386.5 549.0 386.0 548.9 385.5 548.8 385.0 548.8 384.5 548.7 384.0 548.6 383.5 548.5 383.0 548.5 382.5 548.4 382.0 548.3 381.5 548.2 381.0 548.1 380.5 548.1 380.0 548.0 379.5 548.2 379.0 548.4 378.5 548.6 378.0 548.8 377.5 549.0 377.0 549.2 376.5 549.5 376.0 549.7 375.5 549.9 375.0 550.1 374.5 550.3 374.0 550.5 373.5 550.7 373.0 550.9 372.5 551.1 372.0 551.3 371.5 551.5 371.0 551.8 370.5 552.0 370.0 552.2 369.5 552.4 369.0 552.6 368.5 552.8 368.0 553.0 367.5 552.8 367.0 552.7 366.5 552.5 366.0 552.3 365.5 552.1 365.0 552.0 364.5 551.8 364.0 551.6 363.5 551.4 363.0 551.3 362.5 551.1 362.0 550.9 361.5 550.8 361.0 550.6 360.5 550.4 360.0 550.2 359.5 550.1 359.0 549.9 358.5 549.7 358.0 549.5 357.5 549.4 357.0 549.2 356.5 549.0 356.0 548.8 355.5 548.7 355.0 548.5 354.5 548.5 354.0 548.6 353.5 548.6 353.0 548.7 352.5 548.8 352.0 548.8 351.5 548.9 351.0 548.9 350.5 549.0 350.0 549.0 349.5 549.0 349.0 549.1 348.5 549.1 348.0 549.2 347.5 549.2 347.0 549.3 346.5 549.4 346.0 549.4 345.5 549.5 345.0 549.5 344.5 549.5 344.0 549.6 343.5 549.6 343.0 549.7 342.5 549.8 342.0 549.8 341.5 549.9 341.0 549.9 340.5 550.0 340.0 550.0 339.5 550.0 339.0 550.1 338.5 550.1 338.0 550.2 337.5 550.2 337.0 550.3 336.5 550.4 336.0 550.4 335.5 550.5 335.0 550.5 334.5 550.5 334.0 550.6 333.5 550.6 333.0 550.7 332.5 550.8 332.0 550.8 331.5 550.9 331.0 550.9 330.5 551.0 330.0 551.0 329.5 551.0 329.0 551.0 328.5 551.0 328.0 551.1 327.5 551.1 327.0 551.1 326.5 551.1 326.0 551.1 325.5 551.1 325.0 551.2 324.5 551.2 324.0 551.2 323.5 551.2 323.0 551.2 322.5 551.2 322.0 551.3 321.5 551.3 321.0 551.3 320.5 551.3 320.0 551.3 319.5 551.4 319.0 551.4 318.5 551.4 318.0 551.4 317.5 551.4 317.0 551.4 316.5 551.5 316.0 551.5 315.5 551.5 315.0 551.5 314.5 551.5 314.0 551.5 313.5 551.5 313.0 551.6 312.5 551.6 312.0 551.6 311.5 551.6 311.0 551.6 310.5 551.6 310.0 551.7 309.5 551.7 309.0 551.7 308.5 551.7 308.0 551.7 307.5 551.8 307.0 551.8 306.5 551.8 306.0 551.8 305.5 551.8 305.0 551.8 304.5 551.9 304.0 551.9 303.5 551.9 303.0 551.9 302.5 551.9 302.0 551.9 301.5 552.0 301.0 552.0 300.5 552.0 300.0 552.0 299.5 552.0 299.0 552.0 298.5 552.0 298.0 552.0 297.5 552.1 297.0 552.1 296.5 552.1 296.0 552.1 295.5 552.1 295.0 552.1 294.5 552.1 294.0 552.1 293.5 552.2 293.0 552.2 292.5 552.2 292.0 552.2 291.5 552.2 291.0 552.2 290.5 552.2 290.0 552.2 289.5 552.3 289.0 552.3 288.5 552.3 288.0 552.3 287.5 552.3 287.0 552.3 286.5 552.3 286.0 552.4 285.5 552.4 285.0 552.4 284.5 552.4 284.0 552.4 283.5 552.4 283.0 552.4 282.5 552.4 282.0 552.5 281.5 552.5 281.0 552.5 280.5 552.5 280.0 552.5 279.5 552.5 279.0 552.5 278.5 552.5 278.0 552.5 277.5 552.6 277.0 552.6 276.5 552.6 276.0 552.6 275.5 552.6 275.0 552.6 274.5 552.6 274.0 552.6 273.5 552.7 273.0 552.7 272.5 552.7 272.0 552.7 271.5 552.7 271.0 552.7 270.5 552.7 270.0 552.8 269.5 552.8 269.0 552.8 268.5 552.8 268.0 552.8 267.5 552.8 267.0 552.8 266.5 552.8 266.0 552.9 265.5 552.9 265.0 552.9 264.5 552.9 264.0 552.9 263.5 552.9 263.0 552.9 262.5 552.9 262.0 553.0 261.5 553.0 261.0 553.0 260.5 553.0 260.0 553.0 259.5 552.9 259.0 552.8 258.5 552.7 258.0 552.6 257.5 552.5 257.0 552.4 256.5 552.3 256.0 552.2 255.5 552.1 255.0 552.0 254.5 551.9 254.0 551.8 253.5 551.7 253.0 551.6 252.5 551.5 252.0 551.4 251.5 551.3 251.0 551.2 250.5 551.1 250.0 551.0 249.5 550.9 249.0 550.8 248.5 550.7 248.0 550.6 247.5 550.5 247.0 550.4 246.5 550.3 246.0 550.2 245.5 550.1 245.0 550.0 244.5 549.9 244.0 549.8 243.5 549.7 243.0 549.6 242.5 549.5 242.0 549.4 241.5 549.3 241.0 549.2 240.5 549.1 240.0 549.0 239.5 549.0 239.0 548.9 238.5 548.9 238.0 548.8 237.5 548.8 237.0 548.7 236.5 548.6 236.0 548.6 235.5 548.5 235.0 548.5 234.5 548.5 234.0 548.4 233.5 548.4 233.0 548.3 232.5 548.2 232.0 548.2 231.5 548.1 231.0 548.1 230.5 548.0 230.0 548.0 229.5 547.9 229.0 547.7 228.5 547.5 228.0 547.4 227.5 547.2 227.0 547.1 226.5 547.0 226.0 546.8 225.5 546.6 225.0 546.5 224.5 546.4 224.0 546.2 223.5 546.0 223.0 545.9 222.5 545.8 222.0 545.6 221.5 545.5 221.0 545.3 220.5 545.1 220.0 545.0 219.5 545.0 219.0 544.9 218.5 544.9 218.0 544.8 217.5 544.8 217.0 544.7 216.5 544.6 216.0 544.6 215.5 544.5 215.0 544.5 214.5 544.5 214.0 544.4 213.5 544.4 213.0 544.3 212.5 544.2 212.0 544.2 211.5 544.1 211.0 544.1 210.5 544.0 210.0 544.0 209.5 544.2 209.0 544.4 208.5 544.6 208.0 544.8 207.5 545.0 207.0 545.2 206.5 545.4 206.0 545.6 205.5 545.8 205.0 546.0 204.5 546.5 204.0 547.0 203.5 547.5 203.0 548.0 202.5 548.5 202.0 549.0 201.5 549.5 201.0 550.0 200.5 550.0 200.0 548.2 199.5 540.6 199.0 525.9 198.5 508.4 198.0 495.8 197.5 491.8 197.0 492.7 196.5 501.1 196.0 516.8 195.5 532.8 195.0 542.6 194.5 546.1 194.0 546.7 193.5 546.4 193.0 546.1 192.5 545.7 192.0 545.4 191.5 545.0 191.0 544.7 190.5 544.4 190.0 544.0 189.5 543.9 189.0 543.7 188.5 543.5 188.0 543.4 187.5 543.2 187.0 543.1 186.5 543.0 186.0 542.8 185.5 542.6 185.0 542.5 184.5 542.4 184.0 542.2 183.5 542.0 183.0 541.9 182.5 541.8 182.0 541.6 181.5 541.5 181.0 541.3 180.5 541.1 180.0 541.0 179.5 541.5 179.0 542.0 178.5 542.5 178.0 543.0 177.5 543.5 177.0 544.0 176.5 544.5 176.0 545.0 175.5 545.5 175.0 546.0 174.5 546.5 174.0 547.0 173.5 547.5 173.0 548.0 172.5 548.5 172.0 549.0 171.5 548.8 171.0 548.6 170.5 548.4 170.0 548.1 169.5 547.9 169.0 547.7 168.5 547.5 168.0 547.3 167.5 547.1 167.0 546.9 166.5 546.6 166.0 546.4 165.5 546.2 165.0 546.0 164.5 545.9 164.0 545.8 163.5 545.7 163.0 545.6 162.5 545.5 162.0 545.4 161.5 545.3 161.0 545.2 160.5 545.1 160.0 545.0 159.5 544.9 159.0 544.8 158.5 544.7 158.0 544.6 157.5 544.5 157.0 544.4 156.5 544.3 156.0 544.2 155.5 544.1 155.0 544.0 154.5 544.0 154.0 543.9 153.5 543.9 153.0 543.8 152.5 543.8 152.0 543.7 151.5 543.6 151.0 543.6 150.5 543.5 150.0 543.5 149.5 543.5 149.0 543.4 148.5 543.4 148.0 543.3 147.5 543.2 147.0 543.2 146.5 543.1 146.0 543.1 145.5 543.0 145.0 543.0 144.5 543.5 144.0 544.0 143.5 544.5 143.0 545.0 142.5 545.5 142.0 546.0 141.5 546.5 141.0 547.0 140.5 547.5 140.0 548.0 139.5 547.7 139.0 547.3 138.5 547.0 138.0 546.7 137.5 546.4 137.0 546.0 136.5 545.7 136.0 545.4 135.5 545.0 135.0 544.7 134.5 544.6 134.0 544.6 133.5 544.5 133.0 544.4 132.5 544.3 132.0 544.3 131.5 544.2 131.0 544.1 130.5 544.1 130.0 544.0 129.5 543.9 129.0 543.9 128.5 543.8 128.0 543.7 127.5 543.6 127.0 543.6 126.5 543.5 126.0 543.4 125.5 543.4 125.0 543.3 124.5 543.2 124.0 543.1 123.5 543.1 123.0 543.0 122.5 543.6 122.0 544.1 121.5 544.7 121.0 545.3 120.5 545.9 120.0 546.4 119.5 547.0 119.0 547.6 118.5 548.1 118.0 548.7 117.5 549.2 117.0 549.5 116.5 548.5 116.0 544.6 115.5 537.6 115.0 531.3 114.5 528.8 114.0 528.9 113.5 532.0 113.0 538.3 112.5 543.8 112.0 543.4 111.5 534.7 111.0 520.5 110.5 507.7 110.0 501.8 109.5 501.3 109.0 505.6 108.5 517.1 108.0 531.6 107.5 542.4 107.0 547.4 106.5 548.7 106.0 548.9 105.5 548.8 105.0 548.3 104.5 547.7 104.0 547.2 103.5 546.7 103.0 546.1 102.5 545.6 102.0 545.1 101.5 544.5 101.0 544.0 100.5 544.0 100.0 543.9 99.5 543.9 99.0 543.8 98.5 543.8 98.0 543.7 97.5 543.6 97.0 543.6 96.5 543.5 96.0 543.5 95.5 543.5 95.0 543.4 94.5 543.4 94.0 543.3 93.5 543.2 93.0 543.2 92.5 543.1 92.0 543.1 91.5 543.0 91.0 543.0 90.5 543.1 90.0 543.2 89.5 543.4 89.0 543.5 88.5 543.6 88.0 543.8 87.5 543.9 87.0 544.0 86.5 544.1 86.0 544.2 85.5 544.4 85.0 544.5 84.5 544.6 84.0 544.8 83.5 544.9 83.0 545.0 82.5 545.1 82.0 545.2 81.5 545.4 81.0 545.5 80.5 545.9 80.0 546.3 79.5 546.7 79.0 547.1 78.5 547.5 78.0 547.9 77.5 548.2 77.0 548.6 76.5 549.0 76.0 549.4 75.5 549.8 75.0 550.2 74.5 550.6 74.0 551.0 73.5 550.4 73.0 549.9 72.5 549.3 72.0 548.6 71.5 547.1 71.0 543.4 70.5 535.9 70.0 526.2 69.5 518.4 69.0 515.1 68.5 514.7 68.0 517.9 67.5 525.3 67.0 533.7 66.5 539.3 66.0 541.3 65.5 541.4 65.0 541.0 64.5 541.1 64.0 541.2 63.5 541.3 63.0 541.4 62.5 541.5 62.0 541.6 61.5 541.7 61.0 541.8 60.5 541.9 60.0 542.0 59.5 542.1 59.0 542.2 58.5 542.3 58.0 542.4 57.5 542.5 57.0 542.6 56.5 542.7 56.0 542.8 55.5 542.9 55.0 543.0 54.5 543.3 54.0 543.6 53.5 543.9 53.0 544.2 52.5 544.5 52.0 544.8 51.5 545.1 51.0 545.4Z" fill="#a6c8ea" stroke="none"/>
<path d="M51.5 530.2V550.5M53.5 527.6V551.6M55.5 518.7V552.8M57.5 528.1V547.4M59.5 544.3V559.2M61.5 531.4V541.7M63.5 534.2V545.0M65.5 519.2V547.0M67.5 519.3V523.9M69.5 513.7V516.3M71.5 526.6V549.4M73.5 544.8V557.1M75.5 532.9V551.6M77.5 526.2V540.5M79.5 540.2V551.4M81.5 542.7V554.3M83.5 524.8V556.6M85.5 545.2V561.9M87.5 532.1V545.4M89.5 544.6V555.5M91.5 532.5V554.3M93.5 528.6V550.3M95.5 527.1V544.5M97.5 533.6V561.1M99.5 531.9V553.3M101.5 538.3V552.4M103.5 533.2V554.5M105.5 527.9V552.0M107.5 538.0V539.4M109.5 497.7V501.3M111.5 530.5V532.4M113.5 527.7V530.3M115.5 532.4V534.3M117.5 538.4V561.6M119.5 528.1V547.8M121.5 534.0V557.4M123.5 539.0V555.8M125.5 533.1V544.7M127.5 521.9V558.6M129.5 535.9V553.8M131.5 537.9V546.9M133.5 529.1V559.2M135.5 522.2V550.8M137.5 534.9V546.9M139.5 535.0V562.7M141.5 540.9V559.9M143.5 528.9V542.4M145.5 537.4V560.0M147.5 521.2V544.0M149.5 534.8V557.5M151.5 539.0V548.2M153.5 531.8V545.2M155.5 532.0V546.8M157.5 524.5V548.1M159.5 539.8V555.9M161.5 527.5V551.5M163.5 540.6V554.2M165.5 535.8V549.8M167.5 535.8V546.6M169.5 522.9V554.7M171.5 534.4V550.0M173.5 538.3V563.6M175.5 523.2V560.3M177.5 534.2V546.1M179.5 526.6V547.5M181.5 531.1V545.0M183.5 531.2V554.8M185.5 529.8V544.4M187.5 536.7V558.7M189.5 537.8V551.5M191.5 529.5V545.9M193.5 527.6V547.0M195.5 528.8V531.6M197.5 487.0V490.6M199.5 534.8V538.1M201.5 541.8V555.8M203.5 518.6V545.8M205.5 530.5V541.8M207.5 527.1V560.4M209.5 527.8V539.7M211.5 546.4V558.1M213.5 532.8V558.4M215.5 524.5V544.8M217.5 525.1V548.3M219.5 536.7V552.4M221.5 533.6V549.8M223.5 523.2V557.1M225.5 534.0V544.2M227.5 541.3V562.0M229.5 544.5V551.2M231.5 539.8V570.2M233.5 528.1V553.4M235.5 531.8V545.6M237.5 533.3V556.0M239.5 534.5V551.1M241.5 537.6V563.2M243.5 541.3V558.9M245.5 547.8V566.8M247.5 533.0V556.4M249.5 526.3V568.2M251.5 543.5V554.3M253.5 537.4V545.0M255.5 545.4V558.0M257.5 540.5V560.0M259.5 530.8V589.4M261.5 537.6V574.3M263.5 549.2V565.3M265.5 546.4V566.6M267.5 540.1V571.2M269.5 544.4V568.6M271.5 543.3V558.3M273.5 538.5V550.6M275.5 529.3V548.8M277.5 528.4V548.5M279.5 541.1V560.6M281.5 543.0V557.9M283.5 538.2V555.5M285.5 536.1V578.2M287.5 540.8V558.3M289.5 541.2V564.4M291.5 542.9V556.4M293.5 544.6V561.4M295.5 545.7V564.5M297.5 526.4V560.1M299.5 540.3V556.1M301.5 534.5V562.4M303.5 536.0V550.3M305.5 526.0V553.3M307.5 551.1V556.8M309.5 544.0V560.3M311.5 542.7V554.6M313.5 530.5V558.0M315.5 527.2V569.2M317.5 547.8V562.8M319.5 538.8V554.9M321.5 536.4V570.2M323.5 542.5V552.8M325.5 539.2V562.8M327.5 540.6V557.7M329.5 531.9V558.2M331.5 538.7V561.4M333.5 549.5V558.7M335.5 539.1V557.6M337.5 544.6V558.7M339.5 525.3V552.6M341.5 542.2V556.6M343.5 535.8V559.9M345.5 532.7V547.7M347.5 538.7V548.5M349.5 531.2V545.8M351.5 541.4V554.5M353.5 527.7V557.1M355.5 546.7V553.3M357.5 532.4V546.7M359.5 526.0V546.0M361.5 536.5V547.1M363.5 531.8V559.8M365.5 532.9V558.0M367.5 537.8V552.0M369.5 547.7V560.3M371.5 523.7V565.0M373.5 525.2V548.7M375.5 541.2V551.9M377.5 541.7V565.6M379.5 534.4V547.9M381.5 540.7V551.4M383.5 522.4V560.1M385.5 539.3V558.0M387.5 539.1V548.9M389.5 547.2V562.5M391.5 545.0V555.4M393.5 536.0V566.6M395.5 539.3V550.0M397.5 517.5V573.6M399.5 548.0V557.6M401.5 539.6V555.6M403.5 541.9V553.3M405.5 539.1V547.8M407.5 535.6V566.9M409.5 551.5V570.6M411.5 538.8V562.8M413.5 526.3V555.1M415.5 538.3V548.5M417.5 541.1V557.4M419.5 535.3V551.1M421.5 544.6V567.0M423.5 537.9V556.9M425.5 537.1V550.6M427.5 537.1V554.7M429.5 535.2V552.7M431.5 546.6V558.3M433.5 542.8V552.4M435.5 529.8V559.0M437.5 535.1V551.5M439.5 543.3V558.4M441.5 521.4V554.5M443.5 548.8V560.0M445.5 537.4V559.3M447.5 540.3V567.7M449.5 528.9V566.1M451.5 540.2V562.0M453.5 537.8V552.5M455.5 537.9V562.1M457.5 536.2V565.3M459.5 542.1V562.9M461.5 546.7V564.6M463.5 539.9V556.7M465.5 531.3V542.8M467.5 542.1V550.9M469.5 546.2V554.9M471.5 542.5V561.9M473.5 533.8V555.5M475.5 536.7V550.1M477.5 530.8V557.7M479.5 549.5V564.3M481.5 541.7V556.5M483.5 530.6V563.2M485.5 539.0V553.5M487.5 533.1V563.2M489.5 536.4V550.3M491.5 550.7V559.3M493.5 539.5V560.0M495.5 533.4V556.8M497.5 534.1V544.7M499.5 528.2V558.8M501.5 545.5V564.2M503.5 542.0V544.0M505.5 532.6V537.8M507.5 547.1V559.4M509.5 531.0V565.9M511.5 543.1V560.7M513.5 534.4V564.1M515.5 540.3V543.4M517.5 527.9V531.5M519.5 540.1V542.5M521.5 533.5V560.5M523.5 538.3V559.8M525.5 537.6V550.2M527.5 538.8V574.4M529.5 539.0V548.9M531.5 535.4V555.6M533.5 527.2V551.8M535.5 527.3V564.2M537.5 544.6V563.4M539.5 539.6V559.5M541.5 546.4V558.1M543.5 549.7V563.8M545.5 537.1V548.6M547.5 539.6V553.1M549.5 545.5V561.5M551.5 541.9V561.0M553.5 525.1V562.7M555.5 534.7V555.0M557.5 549.1V579.7M559.5 542.5V569.1M561.5 539.9V554.7M563.5 531.2V542.3M565.5 533.7V555.0M567.5 537.4V559.8M569.5 550.7V564.5M571.5 541.7V554.3M573.5 538.5V559.5M575.5 543.0V556.0M577.5 540.8V563.6M579.5 540.2V550.2M581.5 544.3V560.5M583.5 533.6V561.6M585.5 531.0V562.7M587.5 533.1V559.8M589.5 541.2V570.6M591.5 530.0V556.3M593.5 535.0V552.7M595.5 546.3V561.7M70.5 544.1V555.6M76.5 546.0V557.0M116.5 547.4V557.0M218.5 541.9V557.0M63.5 538.3V524.0M93.5 540.2V527.0M177.5 540.5V524.0M238.5 545.9V573.0M249.5 547.9V532.0M284.5 549.4V528.0M334.5 547.5V528.6M358.5 546.7V530.5M237.5 545.8V573.9M273.5 549.7V574.8M302.5 548.9V569.0M349.5 546.0V567.5M444.5 548.3V528.6M540.5 548.8V523.0M437.5 548.1V567.5M502.5 548.5V570.7M577.5 547.8V573.0" fill="none" stroke="#5a5a5a" stroke-width="0.9"/>
<path d="M51.5 540.9 53.5 544.5 55.5 543.8 57.5 535.0 59.5 550.7 61.5 535.9 63.5 540.2 65.5 535.5 67.5 521.6 69.5 514.5 71.5 538.9 73.5 550.2 75.5 543.2 77.5 534.2 79.5 546.3 81.5 550.2 83.5 544.2 85.5 550.3 87.5 540.1 89.5 550.5 91.5 543.0 93.5 541.4 95.5 537.5 97.5 546.2 99.5 546.3 101.5 544.8 103.5 547.3 105.5 544.0 107.5 538.9 109.5 499.6 111.5 531.6 113.5 528.9 115.5 533.5 117.5 550.7 119.5 536.7 121.5 545.3 123.5 544.6 125.5 537.2 127.5 542.2 129.5 541.4 131.5 541.3 133.5 547.1 135.5 532.3 137.5 541.6 139.5 547.0 141.5 546.5 143.5 537.2 145.5 546.6 147.5 531.8 149.5 542.6 151.5 542.8 153.5 539.2 155.5 536.6 157.5 535.5 159.5 546.9 161.5 541.2 163.5 548.8 165.5 542.5 167.5 543.1 169.5 534.5 171.5 543.3 173.5 551.3 175.5 548.9 177.5 540.1 179.5 540.2 181.5 538.1 183.5 545.9 185.5 536.4 187.5 545.8 189.5 543.1 191.5 536.9 193.5 537.3 195.5 530.4 197.5 488.7 199.5 536.7 201.5 548.6 203.5 534.7 205.5 537.7 207.5 546.4 209.5 532.7 211.5 551.6 213.5 542.2 215.5 537.4 217.5 536.6 219.5 543.6 221.5 540.6 223.5 537.8 225.5 537.5 227.5 551.4 229.5 547.4 231.5 550.8 233.5 545.6 235.5 537.6 237.5 545.5 239.5 543.3 241.5 550.4 243.5 547.1 245.5 556.9 247.5 546.5 249.5 543.8 251.5 550.6 253.5 542.4 255.5 549.7 257.5 549.0 259.5 556.4 261.5 556.4 263.5 560.6 265.5 555.3 267.5 555.0 269.5 553.4 271.5 551.5 273.5 543.7 275.5 542.0 277.5 539.0 279.5 551.0 281.5 548.4 283.5 545.7 285.5 548.3 287.5 547.1 289.5 552.8 291.5 549.4 293.5 550.6 295.5 551.0 297.5 547.3 299.5 544.8 301.5 549.1 303.5 544.0 305.5 543.9 307.5 553.7 309.5 554.5 311.5 549.8 313.5 541.2 315.5 546.8 317.5 552.9 319.5 544.6 321.5 548.3 323.5 548.1 325.5 545.9 327.5 550.7 329.5 548.1 331.5 548.1 333.5 555.1 335.5 548.0 337.5 554.2 339.5 540.2 341.5 549.3 343.5 549.1 345.5 542.1 347.5 543.7 349.5 536.4 351.5 547.9 353.5 542.0 355.5 549.9 357.5 540.3 359.5 539.3 361.5 540.9 363.5 544.1 365.5 545.7 367.5 544.4 369.5 555.4 371.5 541.5 373.5 539.3 375.5 548.1 377.5 550.3 379.5 542.3 381.5 547.4 383.5 542.0 385.5 549.3 387.5 544.3 389.5 552.8 391.5 549.0 393.5 547.7 395.5 545.3 397.5 544.1 399.5 553.6 401.5 551.4 403.5 546.5 405.5 542.6 407.5 549.3 409.5 560.5 411.5 550.2 413.5 541.6 415.5 542.0 417.5 550.0 419.5 545.6 421.5 552.7 423.5 547.0 425.5 542.1 427.5 547.9 429.5 544.4 431.5 549.6 433.5 545.8 435.5 545.5 437.5 545.6 439.5 549.5 441.5 542.3 443.5 553.3 445.5 548.4 447.5 551.2 449.5 545.4 451.5 548.8 453.5 544.5 455.5 550.5 457.5 549.7 459.5 554.0 461.5 553.7 463.5 548.6 465.5 537.9 467.5 548.0 469.5 550.5 471.5 550.5 473.5 544.3 475.5 546.0 477.5 549.5 479.5 556.4 481.5 549.3 483.5 548.2 485.5 548.8 487.5 545.3 489.5 544.6 491.5 555.1 493.5 547.0 495.5 542.9 497.5 541.6 499.5 541.9 501.5 555.6 503.5 543.1 505.5 535.9 507.5 553.0 509.5 543.5 511.5 550.4 513.5 548.8 515.5 542.1 517.5 530.2 519.5 541.5 521.5 548.6 523.5 548.3 525.5 545.2 527.5 553.1 529.5 545.7 531.5 545.3 533.5 542.1 535.5 550.6 537.5 556.6 539.5 548.6 541.5 549.7 543.5 557.7 545.5 543.5 547.5 547.2 549.5 556.2 551.5 549.8 553.5 546.5 555.5 547.0 557.5 560.8 559.5 553.8 561.5 549.2 563.5 538.7 565.5 543.0 567.5 547.6 569.5 559.5 571.5 548.8 573.5 547.4 575.5 547.0 577.5 548.4 579.5 546.4 581.5 549.3 583.5 550.5 585.5 544.0 587.5 549.5 589.5 553.6 591.5 543.9 593.5 543.9 595.5 551.0" fill="none" stroke="#111" stroke-width="0.9" stroke-linejoin="round"/>
<path d="M51.0 542.4 51.5 542.1 52.0 541.8 52.5 541.5 53.0 541.2 53.5 540.9 54.0 540.6 54.5 540.3 55.0 540.0 55.5 539.9 56.0 539.8 56.5 539.7 57.0 539.6 57.5 539.5 58.0 539.4 58.5 539.3 59.0 539.2 59.5 539.1 60.0 539.0 60.5 538.9 61.0 538.8 61.5 538.7 62.0 538.6 62.5 538.5 63.0 538.4 63.5 538.3 64.0 538.2 64.5 538.1 65.0 538.0 65.5 538.4 66.0 538.3 66.5 536.3 67.0 530.7 67.5 522.3 68.0 514.9 68.5 511.7 69.0 512.1 69.5 515.4 70.0 523.2 70.5 532.9 71.0 540.4 71.5 544.1 72.0 545.6 72.5 546.3 73.0 546.9 73.5 547.4 74.0 548.0 74.5 547.6 75.0 547.2 75.5 546.8 76.0 546.4 76.5 546.0 77.0 545.6 77.5 545.2 78.0 544.9 78.5 544.5 79.0 544.1 79.5 543.7 80.0 543.3 80.5 542.9 81.0 542.5 81.5 542.4 82.0 542.2 82.5 542.1 83.0 542.0 83.5 541.9 84.0 541.8 84.5 541.6 85.0 541.5 85.5 541.4 86.0 541.2 86.5 541.1 87.0 541.0 87.5 540.9 88.0 540.8 88.5 540.6 89.0 540.5 89.5 540.4 90.0 540.2 90.5 540.1 91.0 540.0 91.5 540.0 92.0 540.1 92.5 540.1 93.0 540.2 93.5 540.2 94.0 540.3 94.5 540.4 95.0 540.4 95.5 540.5 96.0 540.5 96.5 540.5 97.0 540.6 97.5 540.6 98.0 540.7 98.5 540.8 99.0 540.8 99.5 540.9 100.0 540.9 100.5 541.0 101.0 541.0 101.5 541.5 102.0 542.1 102.5 542.6 103.0 543.1 103.5 543.7 104.0 544.2 104.5 544.7 105.0 545.3 105.5 545.8 106.0 545.9 106.5 545.7 107.0 544.4 107.5 539.4 108.0 528.6 108.5 514.1 109.0 502.6 109.5 498.3 110.0 498.8 110.5 504.7 111.0 517.5 111.5 531.7 112.0 540.4 112.5 540.8 113.0 535.3 113.5 529.0 114.0 525.9 114.5 525.8 115.0 528.3 115.5 534.6 116.0 541.6 116.5 545.5 117.0 546.5 117.5 546.2 118.0 545.7 118.5 545.1 119.0 544.6 119.5 544.0 120.0 543.4 120.5 542.9 121.0 542.3 121.5 541.7 122.0 541.1 122.5 540.6 123.0 540.0 123.5 540.1 124.0 540.1 124.5 540.2 125.0 540.3 125.5 540.4 126.0 540.4 126.5 540.5 127.0 540.6 127.5 540.6 128.0 540.7 128.5 540.8 129.0 540.9 129.5 540.9 130.0 541.0 130.5 541.1 131.0 541.1 131.5 541.2 132.0 541.3 132.5 541.3 133.0 541.4 133.5 541.5 134.0 541.6 134.5 541.6 135.0 541.7 135.5 542.0 136.0 542.4 136.5 542.7 137.0 543.0 137.5 543.4 138.0 543.7 138.5 544.0 139.0 544.3 139.5 544.7 140.0 545.0 140.5 544.5 141.0 544.0 141.5 543.5 142.0 543.0 142.5 542.5 143.0 542.0 143.5 541.5 144.0 541.0 144.5 540.5 145.0 540.0 145.5 540.0 146.0 540.1 146.5 540.1 147.0 540.2 147.5 540.2 148.0 540.3 148.5 540.4 149.0 540.4 149.5 540.5 150.0 540.5 150.5 540.5 151.0 540.6 151.5 540.6 152.0 540.7 152.5 540.8 153.0 540.8 153.5 540.9 154.0 540.9 154.5 541.0 155.0 541.0 155.5 541.1 156.0 541.2 156.5 541.3 157.0 541.4 157.5 541.5 158.0 541.6 158.5 541.7 159.0 541.8 159.5 541.9 160.0 542.0 160.5 542.1 161.0 542.2 161.5 542.3 162.0 542.4 162.5 542.5 163.0 542.6 163.5 542.7 164.0 542.8 164.5 542.9 165.0 543.0 165.5 543.2 166.0 543.4 166.5 543.6 167.0 543.9 167.5 544.1 168.0 544.3 168.5 544.5 169.0 544.7 169.5 544.9 170.0 545.1 170.5 545.4 171.0 545.6 171.5 545.8 172.0 546.0 172.5 545.5 173.0 545.0 173.5 544.5 174.0 544.0 174.5 543.5 175.0 543.0 175.5 542.5 176.0 542.0 176.5 541.5 177.0 541.0 177.5 540.5 178.0 540.0 178.5 539.5 179.0 539.0 179.5 538.5 180.0 538.0 180.5 538.1 181.0 538.3 181.5 538.5 182.0 538.6 182.5 538.8 183.0 538.9 183.5 539.0 184.0 539.2 184.5 539.4 185.0 539.5 185.5 539.6 186.0 539.8 186.5 540.0 187.0 540.1 187.5 540.2 188.0 540.4 188.5 540.5 189.0 540.7 189.5 540.9 190.0 541.0 190.5 541.4 191.0 541.7 191.5 542.0 192.0 542.4 192.5 542.7 193.0 543.1 193.5 543.4 194.0 543.7 194.5 543.1 195.0 539.6 195.5 529.8 196.0 513.8 196.5 498.1 197.0 489.7 197.5 488.8 198.0 492.8 198.5 505.4 199.0 522.9 199.5 537.6 200.0 545.2 200.5 547.0 201.0 547.0 201.5 546.5 202.0 546.0 202.5 545.5 203.0 545.0 203.5 544.5 204.0 544.0 204.5 543.5 205.0 543.0 205.5 542.8 206.0 542.6 206.5 542.4 207.0 542.2 207.5 542.0 208.0 541.8 208.5 541.6 209.0 541.4 209.5 541.2 210.0 541.0 210.5 541.0 211.0 541.1 211.5 541.1 212.0 541.2 212.5 541.2 213.0 541.3 213.5 541.4 214.0 541.4 214.5 541.5 215.0 541.5 215.5 541.5 216.0 541.6 216.5 541.6 217.0 541.7 217.5 541.8 218.0 541.8 218.5 541.9 219.0 541.9 219.5 542.0 220.0 542.0 220.5 542.1 221.0 542.3 221.5 542.5 222.0 542.6 222.5 542.8 223.0 542.9 223.5 543.0 224.0 543.2 224.5 543.4 225.0 543.5 225.5 543.6 226.0 543.8 226.5 544.0 227.0 544.1 227.5 544.2 228.0 544.4 228.5 544.5 229.0 544.7 229.5 544.9 230.0 545.0 230.5 545.0 231.0 545.1 231.5 545.1 232.0 545.2 232.5 545.2 233.0 545.3 233.5 545.4 234.0 545.4 234.5 545.5 235.0 545.5 235.5 545.5 236.0 545.6 236.5 545.6 237.0 545.7 237.5 545.8 238.0 545.8 238.5 545.9 239.0 545.9 239.5 546.0 240.0 546.0 240.5 546.1 241.0 546.2 241.5 546.3 242.0 546.4 242.5 546.5 243.0 546.6 243.5 546.7 244.0 546.8 244.5 546.9 245.0 547.0 245.5 547.1 246.0 547.2 246.5 547.3 247.0 547.4 247.5 547.5 248.0 547.6 248.5 547.7 249.0 547.8 249.5 547.9 250.0 548.0 250.5 548.1 251.0 548.2 251.5 548.3 252.0 548.4 252.5 548.5 253.0 548.6 253.5 548.7 254.0 548.8 254.5 548.9 255.0 549.0 255.5 549.1 256.0 549.2 256.5 549.3 257.0 549.4 257.5 549.5 258.0 549.6 258.5 549.7 259.0 549.8 259.5 549.9 260.0 550.0 260.5 550.0 261.0 550.0 261.5 550.0 262.0 550.0 262.5 549.9 263.0 549.9 263.5 549.9 264.0 549.9 264.5 549.9 265.0 549.9 265.5 549.9 266.0 549.9 266.5 549.8 267.0 549.8 267.5 549.8 268.0 549.8 268.5 549.8 269.0 549.8 269.5 549.8 270.0 549.8 270.5 549.7 271.0 549.7 271.5 549.7 272.0 549.7 272.5 549.7 273.0 549.7 273.5 549.7 274.0 549.6 274.5 549.6 275.0 549.6 275.5 549.6 276.0 549.6 276.5 549.6 277.0 549.6 277.5 549.6 278.0 549.5 278.5 549.5 279.0 549.5 279.5 549.5 280.0 549.5 280.5 549.5 281.0 549.5 281.5 549.5 282.0 549.5 282.5 549.4 283.0 549.4 283.5 549.4 284.0 549.4 284.5 549.4 285.0 549.4 285.5 549.4 286.0 549.4 286.5 549.3 287.0 549.3 287.5 549.3 288.0 549.3 288.5 549.3 289.0 549.3 289.5 549.3 290.0 549.2 290.5 549.2 291.0 549.2 291.5 549.2 292.0 549.2 292.5 549.2 293.0 549.2 293.5 549.2 294.0 549.1 294.5 549.1 295.0 549.1 295.5 549.1 296.0 549.1 296.5 549.1 297.0 549.1 297.5 549.1 298.0 549.0 298.5 549.0 299.0 549.0 299.5 549.0 300.0 549.0 300.5 549.0 301.0 549.0 301.5 549.0 302.0 548.9 302.5 548.9 303.0 548.9 303.5 548.9 304.0 548.9 304.5 548.9 305.0 548.8 305.5 548.8 306.0 548.8 306.5 548.8 307.0 548.8 307.5 548.8 308.0 548.7 308.5 548.7 309.0 548.7 309.5 548.7 310.0 548.7 310.5 548.6 311.0 548.6 311.5 548.6 312.0 548.6 312.5 548.6 313.0 548.6 313.5 548.5 314.0 548.5 314.5 548.5 315.0 548.5 315.5 548.5 316.0 548.5 316.5 548.5 317.0 548.4 317.5 548.4 318.0 548.4 318.5 548.4 319.0 548.4 319.5 548.4 320.0 548.3 320.5 548.3 321.0 548.3 321.5 548.3 322.0 548.3 322.5 548.2 323.0 548.2 323.5 548.2 324.0 548.2 324.5 548.2 325.0 548.2 325.5 548.1 326.0 548.1 326.5 548.1 327.0 548.1 327.5 548.1 328.0 548.1 328.5 548.0 329.0 548.0 329.5 548.0 330.0 548.0 330.5 548.0 331.0 547.9 331.5 547.9 332.0 547.8 332.5 547.8 333.0 547.7 333.5 547.6 334.0 547.6 334.5 547.5 335.0 547.5 335.5 547.5 336.0 547.4 336.5 547.4 337.0 547.3 337.5 547.2 338.0 547.2 338.5 547.1 339.0 547.1 339.5 547.0 340.0 547.0 340.5 547.0 341.0 546.9 341.5 546.9 342.0 546.8 342.5 546.8 343.0 546.7 343.5 546.6 344.0 546.6 344.5 546.5 345.0 546.5 345.5 546.5 346.0 546.4 346.5 546.4 347.0 546.3 347.5 546.2 348.0 546.2 348.5 546.1 349.0 546.1 349.5 546.0 350.0 546.0 350.5 546.0 351.0 545.9 351.5 545.9 352.0 545.8 352.5 545.8 353.0 545.7 353.5 545.6 354.0 545.6 354.5 545.5 355.0 545.5 355.5 545.7 356.0 545.8 356.5 546.0 357.0 546.2 357.5 546.4 358.0 546.5 358.5 546.7 359.0 546.9 359.5 547.1 360.0 547.2 360.5 547.4 361.0 547.6 361.5 547.8 362.0 547.9 362.5 548.1 363.0 548.3 363.5 548.4 364.0 548.6 364.5 548.8 365.0 549.0 365.5 549.1 366.0 549.3 366.5 549.5 367.0 549.7 367.5 549.8 368.0 550.0 368.5 549.8 369.0 549.6 369.5 549.4 370.0 549.2 370.5 549.0 371.0 548.8 371.5 548.5 372.0 548.3 372.5 548.1 373.0 547.9 373.5 547.7 374.0 547.5 374.5 547.3 375.0 547.1 375.5 546.9 376.0 546.7 376.5 546.5 377.0 546.2 377.5 546.0 378.0 545.8 378.5 545.6 379.0 545.4 379.5 545.2 380.0 545.0 380.5 545.1 381.0 545.1 381.5 545.2 382.0 545.3 382.5 545.4 383.0 545.5 383.5 545.5 384.0 545.6 384.5 545.7 385.0 545.8 385.5 545.8 386.0 545.9 386.5 546.0 387.0 546.0 387.5 546.1 388.0 546.2 388.5 546.3 389.0 546.4 389.5 546.4 390.0 546.5 390.5 546.6 391.0 546.6 391.5 546.7 392.0 546.8 392.5 546.9 393.0 547.0 393.5 547.0 394.0 547.1 394.5 547.2 395.0 547.2 395.5 547.3 396.0 547.4 396.5 547.5 397.0 547.5 397.5 547.6 398.0 547.7 398.5 547.8 399.0 547.9 399.5 547.9 400.0 548.0 400.5 548.0 401.0 548.1 401.5 548.1 402.0 548.1 402.5 548.1 403.0 548.2 403.5 548.2 404.0 548.2 404.5 548.2 405.0 548.3 405.5 548.3 406.0 548.3 406.5 548.4 407.0 548.4 407.5 548.4 408.0 548.4 408.5 548.5 409.0 548.5 409.5 548.5 410.0 548.6 410.5 548.6 411.0 548.6 411.5 548.6 412.0 548.7 412.5 548.7 413.0 548.7 413.5 548.8 414.0 548.8 414.5 548.8 415.0 548.8 415.5 548.9 416.0 548.9 416.5 548.9 417.0 548.9 417.5 549.0 418.0 549.0 418.5 549.0 419.0 549.0 419.5 548.9 420.0 548.9 420.5 548.9 421.0 548.9 421.5 548.8 422.0 548.8 422.5 548.8 423.0 548.8 423.5 548.8 424.0 548.7 424.5 548.7 425.0 548.7 425.5 548.7 426.0 548.6 426.5 548.6 427.0 548.6 427.5 548.6 428.0 548.5 428.5 548.5 429.0 548.5 429.5 548.5 430.0 548.5 430.5 548.4 431.0 548.4 431.5 548.4 432.0 548.4 432.5 548.3 433.0 548.3 433.5 548.3 434.0 548.3 434.5 548.2 435.0 548.2 435.5 548.2 436.0 548.2 436.5 548.2 437.0 548.1 437.5 548.1 438.0 548.1 438.5 548.1 439.0 548.0 439.5 548.0 440.0 548.0 440.5 548.0 441.0 548.1 441.5 548.1 442.0 548.1 442.5 548.2 443.0 548.2 443.5 548.3 444.0 548.3 444.5 548.3 445.0 548.4 445.5 548.4 446.0 548.5 446.5 548.5 447.0 548.5 447.5 548.6 448.0 548.6 448.5 548.6 449.0 548.7 449.5 548.7 450.0 548.8 450.5 548.8 451.0 548.8 451.5 548.9 452.0 548.9 452.5 548.9 453.0 549.0 453.5 549.0 454.0 549.0 454.5 549.1 455.0 549.1 455.5 549.2 456.0 549.2 456.5 549.2 457.0 549.3 457.5 549.3 458.0 549.4 458.5 549.4 459.0 549.4 459.5 549.5 460.0 549.5 460.5 549.4 461.0 549.4 461.5 549.3 462.0 549.2 462.5 549.2 463.0 549.1 463.5 549.1 464.0 549.0 464.5 548.9 465.0 548.9 465.5 548.8 466.0 548.8 466.5 548.7 467.0 548.6 467.5 548.6 468.0 548.5 468.5 548.4 469.0 548.4 469.5 548.3 470.0 548.2 470.5 548.2 471.0 548.1 471.5 548.1 472.0 548.0 472.5 547.9 473.0 547.9 473.5 547.8 474.0 547.8 474.5 547.7 475.0 547.6 475.5 547.6 476.0 547.5 476.5 547.4 477.0 547.4 477.5 547.3 478.0 547.2 478.5 547.2 479.0 547.1 479.5 547.1 480.0 547.0 480.5 547.0 481.0 547.1 481.5 547.1 482.0 547.1 482.5 547.2 483.0 547.2 483.5 547.3 484.0 547.3 484.5 547.3 485.0 547.4 485.5 547.4 486.0 547.5 486.5 547.5 487.0 547.5 487.5 547.6 488.0 547.6 488.5 547.6 489.0 547.7 489.5 547.7 490.0 547.8 490.5 547.8 491.0 547.8 491.5 547.9 492.0 547.9 492.5 547.9 493.0 548.0 493.5 548.0 494.0 548.0 494.5 548.1 495.0 548.1 495.5 548.2 496.0 548.2 496.5 548.2 497.0 548.3 497.5 548.3 498.0 548.4 498.5 548.4 499.0 548.4 499.5 548.5 500.0 548.5 500.5 548.5 501.0 548.5 501.5 548.5 502.0 548.3 502.5 547.6 503.0 545.4 503.5 541.7 504.0 537.6 504.5 535.0 505.0 534.4 505.5 535.0 506.0 537.5 506.5 541.6 507.0 545.4 507.5 547.5 508.0 548.2 508.5 548.3 509.0 548.3 509.5 548.3 510.0 548.3 510.5 548.3 511.0 548.3 511.5 548.3 512.0 548.3 512.5 548.3 513.0 548.3 513.5 548.2 514.0 547.9 514.5 546.9 515.0 544.6 515.5 540.9 516.0 536.4 516.5 532.7 517.0 530.6 517.5 530.2 518.0 530.6 518.5 532.7 519.0 536.4 519.5 540.8 520.0 544.5 520.5 546.8 521.0 547.8 521.5 548.1 522.0 548.1 522.5 548.1 523.0 548.1 523.5 548.1 524.0 548.1 524.5 548.1 525.0 548.1 525.5 548.1 526.0 548.1 526.5 548.1 527.0 548.0 527.5 548.0 528.0 548.0 528.5 548.0 529.0 548.0 529.5 548.0 530.0 548.0 530.5 548.0 531.0 548.1 531.5 548.1 532.0 548.1 532.5 548.2 533.0 548.2 533.5 548.3 534.0 548.3 534.5 548.3 535.0 548.4 535.5 548.4 536.0 548.5 536.5 548.5 537.0 548.5 537.5 548.6 538.0 548.6 538.5 548.6 539.0 548.7 539.5 548.7 540.0 548.8 540.5 548.8 541.0 548.8 541.5 548.9 542.0 548.9 542.5 548.9 543.0 549.0 543.5 549.0 544.0 549.0 544.5 549.1 545.0 549.1 545.5 549.2 546.0 549.2 546.5 549.2 547.0 549.3 547.5 549.3 548.0 549.4 548.5 549.4 549.0 549.4 549.5 549.5 550.0 549.5 550.5 549.5 551.0 549.4 551.5 549.4 552.0 549.3 552.5 549.2 553.0 549.2 553.5 549.1 554.0 549.1 554.5 549.0 555.0 549.0 555.5 549.0 556.0 548.9 556.5 548.9 557.0 548.8 557.5 548.8 558.0 548.7 558.5 548.6 559.0 548.6 559.5 548.5 560.0 548.5 560.5 548.5 561.0 548.4 561.5 548.4 562.0 548.3 562.5 548.2 563.0 548.2 563.5 548.1 564.0 548.1 564.5 548.0 565.0 548.0 565.5 548.0 566.0 547.9 566.5 547.9 567.0 547.8 567.5 547.8 568.0 547.7 568.5 547.6 569.0 547.6 569.5 547.5 570.0 547.5 570.5 547.5 571.0 547.5 571.5 547.6 572.0 547.6 572.5 547.6 573.0 547.6 573.5 547.6 574.0 547.6 574.5 547.7 575.0 547.7 575.5 547.7 576.0 547.7 576.5 547.7 577.0 547.8 577.5 547.8 578.0 547.8 578.5 547.8 579.0 547.8 579.5 547.8 580.0 547.9 580.5 547.9 581.0 547.9 581.5 547.9 582.0 547.9 582.5 547.9 583.0 548.0 583.5 548.0 584.0 548.0 584.5 548.0 585.0 548.0 585.5 548.1 586.0 548.1 586.5 548.1 587.0 548.1 587.5 548.1 588.0 548.1 588.5 548.2 589.0 548.2 589.5 548.2 590.0 548.2 590.5 548.2 591.0 548.2 591.5 548.3 592.0 548.3 592.5 548.3 593.0 548.3 593.5 548.3 594.0 548.4 594.5 548.4 595.0 548.4 595.5 548.4 596.0 548.4 596.5 548.4 597.0 548.5 597.5 548.5" fill="none" stroke="#4a80c4" stroke-width="1.3" stroke-linejoin="round"/>
<path d="M64.9 537.9 65.2 538.0 65.4 538.0 65.7 537.8 65.9 537.1 66.2 535.9 66.4 533.9 66.7 531.2 66.9 527.9 67.2 524.2 67.4 520.5 67.7 517.1 67.9 514.4 68.2 512.6 68.4 511.7 68.7 511.6 68.9 511.9 69.2 512.5 69.4 513.9 69.7 516.1 69.9 519.3 70.2 523.2 70.4 527.4 70.7 531.7 70.9 535.6 71.2 539.0 71.4 541.5 71.7 543.4 71.9 544.6 72.2 545.5 72.4 546.0 72.7 546.4Z" fill="#9ec2ea" fill-opacity="0.8" stroke="#3f78c0" stroke-width="1.1" stroke-linejoin="round"/>
<path d="M105.8 545.7 106.1 545.6 106.3 545.2 106.6 544.5 106.8 543.0 107.1 540.7 107.3 537.2 107.6 532.6 107.8 526.9 108.1 520.6 108.3 514.2 108.6 508.5 108.8 503.9 109.1 500.6 109.3 498.8 109.6 498.2 109.8 498.2 110.1 498.9 110.3 500.6 110.6 503.8 110.8 508.5 111.1 514.2 111.3 520.6 111.6 527.1 111.8 532.9 112.1 537.8 112.3 541.5 112.6 544.0 112.8 545.7 113.1 546.6 113.3 547.1 113.6 547.4Z" fill="#9ec2ea" fill-opacity="0.8" stroke="#3f78c0" stroke-width="1.1" stroke-linejoin="round"/>
<path d="M110.7 546.8 111.0 546.8 111.2 546.6 111.5 546.2 111.7 545.4 112.0 544.1 112.2 542.1 112.5 539.6 112.7 536.6 113.0 533.5 113.2 530.6 113.5 528.3 113.7 526.7 114.0 525.9 114.2 525.6 114.5 525.7 114.7 526.2 115.0 527.4 115.2 529.3 115.5 531.9 115.7 535.0 116.0 538.2 116.2 540.9 116.5 543.1 116.7 544.6 117.0 545.5 117.2 545.9 117.5 546.0 117.7 545.9Z" fill="#9ec2ea" fill-opacity="0.8" stroke="#3f78c0" stroke-width="1.1" stroke-linejoin="round"/>
<path d="M193.5 543.3 193.8 543.3 194.0 542.9 194.3 542.1 194.5 540.5 194.8 537.9 195.0 533.9 195.3 528.5 195.5 521.9 195.8 514.5 196.0 507.1 196.3 500.4 196.5 495.0 196.8 491.3 197.0 489.3 197.3 488.6 197.5 488.8 197.8 489.7 198.0 491.9 198.3 495.8 198.5 501.4 198.8 508.3 199.0 516.0 199.3 523.8 199.5 530.8 199.8 536.7 200.0 541.2 200.3 543.9 200.5 545.5 200.8 546.3 201.0 546.6 201.3 546.6Z" fill="#9ec2ea" fill-opacity="0.8" stroke="#3f78c0" stroke-width="1.1" stroke-linejoin="round"/>
<rect x="49.5" y="52.2" width="548.2" height="115.2" fill="none" stroke="#8a8a8a" stroke-width="1"/>
<path d="M597 52.2v4.0M597 167.4v-4.0M562.5 52.2v4.0M562.5 167.4v-4.0M527.9 52.2v4.0M527.9 167.4v-4.0M493.4 52.2v4.0M493.4 167.4v-4.0M458.9 52.2v8.0M458.9 167.4v-8.0M424.4 52.2v4.0M424.4 167.4v-4.0M389.9 52.2v4.0M389.9 167.4v-4.0M355.3 52.2v4.0M355.3 167.4v-4.0M320.8 52.2v4.0M320.8 167.4v-4.0M286.3 52.2v8.0M286.3 167.4v-8.0M251.8 52.2v4.0M251.8 167.4v-4.0M217.3 52.2v4.0M217.3 167.4v-4.0M182.7 52.2v4.0M182.7 167.4v-4.0M148.2 52.2v4.0M148.2 167.4v-4.0M113.7 52.2v8.0M113.7 167.4v-8.0M79.2 52.2v4.0M79.2 167.4v-4.0M49.5 158.8h5.5M597.7 158.8h-5.5M49.5 133h5.5M597.7 133h-5.5M49.5 107.2h5.5M597.7 107.2h-5.5M49.5 81.4h5.5M597.7 81.4h-5.5M49.5 55.6h5.5M597.7 55.6h-5.5" fill="none" stroke="#5a5a5a" stroke-width="0.9"/>
<text x="45.2" y="82.6" text-anchor="end" class="tl">2000</text>
<text x="45.2" y="110.2" text-anchor="end" class="tl">1000</text>
<text x="42.6" y="136.6" text-anchor="end" class="tl">0</text>
<text x="116.4" y="157.0" text-anchor="middle" class="tl">3385</text>
<text x="289.5" y="157.0" text-anchor="middle" class="tl">3380</text>
<text x="461.8" y="157.0" text-anchor="middle" class="tl">3375</text>
<rect x="49.5" y="170.5" width="548" height="139" fill="none" stroke="#8a8a8a" stroke-width="1"/>
<path d="M583.1 170.5v4.0M583.1 309.5v-4.0M550.5 170.5v4.0M550.5 309.5v-4.0M517.9 170.5v4.0M517.9 309.5v-4.0M485.3 170.5v8.0M485.3 309.5v-8.0M452.7 170.5v4.0M452.7 309.5v-4.0M420.1 170.5v4.0M420.1 309.5v-4.0M387.5 170.5v4.0M387.5 309.5v-4.0M354.9 170.5v4.0M354.9 309.5v-4.0M322.3 170.5v8.0M322.3 309.5v-8.0M289.7 170.5v4.0M289.7 309.5v-4.0M257.1 170.5v4.0M257.1 309.5v-4.0M224.5 170.5v4.0M224.5 309.5v-4.0M191.9 170.5v4.0M191.9 309.5v-4.0M159.3 170.5v8.0M159.3 309.5v-8.0M126.7 170.5v4.0M126.7 309.5v-4.0M94.1 170.5v4.0M94.1 309.5v-4.0M61.5 170.5v4.0M61.5 309.5v-4.0M49.5 292.4h5.5M597.5 292.4h-5.5M49.5 271.9h5.5M597.5 271.9h-5.5M49.5 251.3h5.5M597.5 251.3h-5.5M49.5 230.8h5.5M597.5 230.8h-5.5M49.5 210.2h5.5M597.5 210.2h-5.5M49.5 189.7h5.5M597.5 189.7h-5.5" fill="none" stroke="#5a5a5a" stroke-width="0.9"/>
<text x="42.7" y="192.2" text-anchor="end" class="tl">300</text>
<text x="42.7" y="213" text-anchor="end" class="tl">200</text>
<text x="42.7" y="233.5" text-anchor="end" class="tl">100</text>
<text x="38.4" y="254.4" text-anchor="end" class="tl">0</text>
<text x="160.0" y="297.7" text-anchor="middle" class="tl">3405</text>
<text x="323.0" y="297.7" text-anchor="middle" class="tl">3400</text>
<text x="486.0" y="297.7" text-anchor="middle" class="tl">3395</text>
<rect x="49.5" y="313.3" width="548.2" height="150.2" fill="none" stroke="#8a8a8a" stroke-width="1"/>
<path d="M578.4 313.3v4.0M578.4 463.5v-4.0M547.5 313.3v8.0M547.5 463.5v-8.0M516.6 313.3v4.0M516.6 463.5v-4.0M485.7 313.3v4.0M485.7 463.5v-4.0M454.8 313.3v4.0M454.8 463.5v-4.0M423.9 313.3v4.0M423.9 463.5v-4.0M393 313.3v8.0M393 463.5v-8.0M362.1 313.3v4.0M362.1 463.5v-4.0M331.2 313.3v4.0M331.2 463.5v-4.0M300.3 313.3v4.0M300.3 463.5v-4.0M269.4 313.3v4.0M269.4 463.5v-4.0M238.5 313.3v8.0M238.5 463.5v-8.0M207.6 313.3v4.0M207.6 463.5v-4.0M176.7 313.3v4.0M176.7 463.5v-4.0M145.8 313.3v4.0M145.8 463.5v-4.0M114.9 313.3v4.0M114.9 463.5v-4.0M84 313.3v8.0M84 463.5v-8.0M53.1 313.3v4.0M53.1 463.5v-4.0M49.5 462.9h5.5M597.7 462.9h-5.5M49.5 454.4h5.5M597.7 454.4h-5.5M49.5 445.8h5.5M597.7 445.8h-5.5M49.5 437.2h5.5M597.7 437.2h-5.5M49.5 428.7h5.5M597.7 428.7h-5.5M49.5 420.1h5.5M597.7 420.1h-5.5M49.5 411.6h5.5M597.7 411.6h-5.5M49.5 403.1h5.5M597.7 403.1h-5.5M49.5 394.5h5.5M597.7 394.5h-5.5M49.5 385.9h5.5M597.7 385.9h-5.5M49.5 377.4h5.5M597.7 377.4h-5.5M49.5 368.9h5.5M597.7 368.9h-5.5M49.5 360.3h5.5M597.7 360.3h-5.5M49.5 351.8h5.5M597.7 351.8h-5.5M49.5 343.2h5.5M597.7 343.2h-5.5M49.5 334.6h5.5M597.7 334.6h-5.5M49.5 326.1h5.5M597.7 326.1h-5.5M49.5 317.6h5.5M597.7 317.6h-5.5" fill="none" stroke="#5a5a5a" stroke-width="0.9"/>
<text x="41.8" y="345.3" text-anchor="end" class="tl">600</text>
<text x="41.8" y="362.4" text-anchor="end" class="tl">400</text>
<text x="41.8" y="380.3" text-anchor="end" class="tl">200</text>
<text x="38.1" y="396.7" text-anchor="end" class="tl">0</text>
<text x="86.3" y="455.0" text-anchor="middle" class="tl">3430</text>
<text x="241.3" y="455.0" text-anchor="middle" class="tl">3425</text>
<text x="395.3" y="455.0" text-anchor="middle" class="tl">3420</text>
<text x="550.3" y="455.0" text-anchor="middle" class="tl">3415</text>
<rect x="50.5" y="468.5" width="548" height="127.5" fill="none" stroke="#8a8a8a" stroke-width="1"/>
<path d="M588.6 468.5v4.0M588.6 596v-4.0M559.3 468.5v4.0M559.3 596v-4.0M530 468.5v4.0M530 596v-4.0M500.6 468.5v8.0M500.6 596v-8.0M471.3 468.5v4.0M471.3 596v-4.0M442 468.5v4.0M442 596v-4.0M412.7 468.5v4.0M412.7 596v-4.0M383.3 468.5v4.0M383.3 596v-4.0M354 468.5v8.0M354 596v-8.0M324.7 468.5v4.0M324.7 596v-4.0M295.3 468.5v4.0M295.3 596v-4.0M266 468.5v4.0M266 596v-4.0M236.7 468.5v4.0M236.7 596v-4.0M207.3 468.5v8.0M207.3 596v-8.0M178 468.5v4.0M178 596v-4.0M148.7 468.5v4.0M148.7 596v-4.0M119.4 468.5v4.0M119.4 596v-4.0M90 468.5v4.0M90 596v-4.0M60.7 468.5v8.0M60.7 596v-8.0M50.5 573.4h5.5M598.5 573.4h-5.5M50.5 550.2h5.5M598.5 550.2h-5.5M50.5 527h5.5M598.5 527h-5.5M50.5 503.8h5.5M598.5 503.8h-5.5M50.5 480.6h5.5M598.5 480.6h-5.5" fill="none" stroke="#5a5a5a" stroke-width="0.9"/>
<text x="45.0" y="506.6" text-anchor="end" class="tl">1000</text>
<text x="45.0" y="529.2" text-anchor="end" class="tl">500</text>
<text x="42.0" y="552.5" text-anchor="end" class="tl">0</text>
<text x="62.0" y="585.0" text-anchor="middle" class="tl">3455</text>
<text x="209.0" y="585.0" text-anchor="middle" class="tl">3450</text>
<text x="355.7" y="585.0" text-anchor="middle" class="tl">3445</text>
<text x="502.3" y="585.0" text-anchor="middle" class="tl">3440</text>
<text x="212.3" y="63.7" text-anchor="middle" class="sym" font-size="14" stroke="#111" stroke-width="0.15">†</text>
<text x="535.8" y="83.9" text-anchor="middle" class="sym" font-size="14" stroke="#111" stroke-width="0.15">†</text>
<text x="342.7" y="183.1" text-anchor="middle" class="sym" font-size="14" stroke="#111" stroke-width="0.15">†</text>
<text x="514.7" y="208.0" text-anchor="middle" class="sym" font-size="14" stroke="#111" stroke-width="0.15">†</text>
<text x="136.2" y="336.8" text-anchor="middle" class="sym" font-size="14" stroke="#111" stroke-width="0.15">†</text>
<text x="69.3" y="501.1" text-anchor="middle" class="sym" font-size="14" stroke="#111" stroke-width="0.15">†</text>
<text x="112.5" y="490.6" text-anchor="middle" class="sym" font-size="14" stroke="#111" stroke-width="0.15">†</text>
<text x="197.4" y="483.1" text-anchor="middle" class="sym" font-size="14" stroke="#111" stroke-width="0.15">†</text>
<text x="338.2" y="113.1" text-anchor="middle" class="sym" font-size="13" stroke="#111" stroke-width="0.25">§</text>
<text x="145.3" y="229.8" text-anchor="middle" class="sym" font-size="13" stroke="#111" stroke-width="0.25">§</text>
<text x="183" y="237.4" text-anchor="middle" class="sym" font-size="13" stroke="#111" stroke-width="0.25">§</text>
<text x="190.5" y="352.9" text-anchor="middle" class="sym" font-size="13" stroke="#111" stroke-width="0.25">§</text>
<text x="525.9" y="343.6" text-anchor="middle" class="sym" font-size="13" stroke="#111" stroke-width="0.25">§</text>
<text x="505" y="523.3" text-anchor="middle" class="sym" font-size="13" stroke="#111" stroke-width="0.25">§</text>
<text x="518.2" y="523.3" text-anchor="middle" class="sym" font-size="13" stroke="#111" stroke-width="0.25">§</text>
<text x="48.5" y="26" class="ttl" font-size="14.5" stroke="#000" stroke-width="0.3" textLength="190.2" lengthAdjust="spacingAndGlyphs">Comet C/2012 F6 (Lemmon)</text>
<text x="50.5" y="43.5" font-family="Liberation Sans,Arial,sans-serif" font-size="14" fill="#111" textLength="119.6" lengthAdjust="spacingAndGlyphs">UT 2013 February 4</text>
<path d="M442 15.8H464" stroke="#a3d4ea" stroke-width="3.6"/>
<path d="M442 42.3H464" stroke="#5454c6" stroke-width="3.4"/>
<text x="478" y="21.6" class="ttl" font-size="15.2">H</text>
<text x="489" y="26.2" class="ttl" font-size="8.4">2</text>
<text x="494.3" y="21.6" class="ttl" font-size="15.2">O</text>
<text x="476.6" y="48.3" class="ttl" font-size="14.6" textLength="27.6" lengthAdjust="spacingAndGlyphs">OH*</text>
<text x="526.2" y="10.7" class="ttl" font-size="11.1">H</text><text x="535" y="14.7" class="ttl" font-size="5.5">2</text><text x="539" y="10.7" class="ttl" font-size="11.1" textLength="42.3" lengthAdjust="spacingAndGlyphs">O-ortho</text>
<text x="526.2" y="25.7" class="ttl" font-size="11.1">H</text><text x="535" y="29.7" class="ttl" font-size="5.5">2</text><text x="539" y="25.7" class="ttl" font-size="11.1" textLength="35" lengthAdjust="spacingAndGlyphs">O-para</text>
<text x="583.6" y="11.3" class="sym" font-size="11.5" fill="#333" textLength="12" lengthAdjust="spacingAndGlyphs">(†)</text>
<text x="580.2" y="26.3" class="sym" font-size="11.5" fill="#333" textLength="12.3" lengthAdjust="spacingAndGlyphs">(§)</text>
<text transform="translate(9.1 356.5) rotate(-90)" font-family="Liberation Sans,Arial,sans-serif" font-size="9.9" fill="#111">Flux Density (10<tspan font-size="5" dy="-4.2">-20</tspan><tspan dy="4.2"> W/m</tspan><tspan font-size="6" dy="-4">2</tspan><tspan dy="4">/cm</tspan><tspan font-size="5" dy="-4.2">-1</tspan><tspan dy="4.2">)</tspan></text>
<text x="285" y="614.8" font-family="Liberation Sans,Arial,sans-serif" font-size="9.7" fill="#111">Wavenumber (cm<tspan font-size="5" dy="-4.2">-1</tspan><tspan dy="4.2">)</tspan></text>
</svg></body></html>
